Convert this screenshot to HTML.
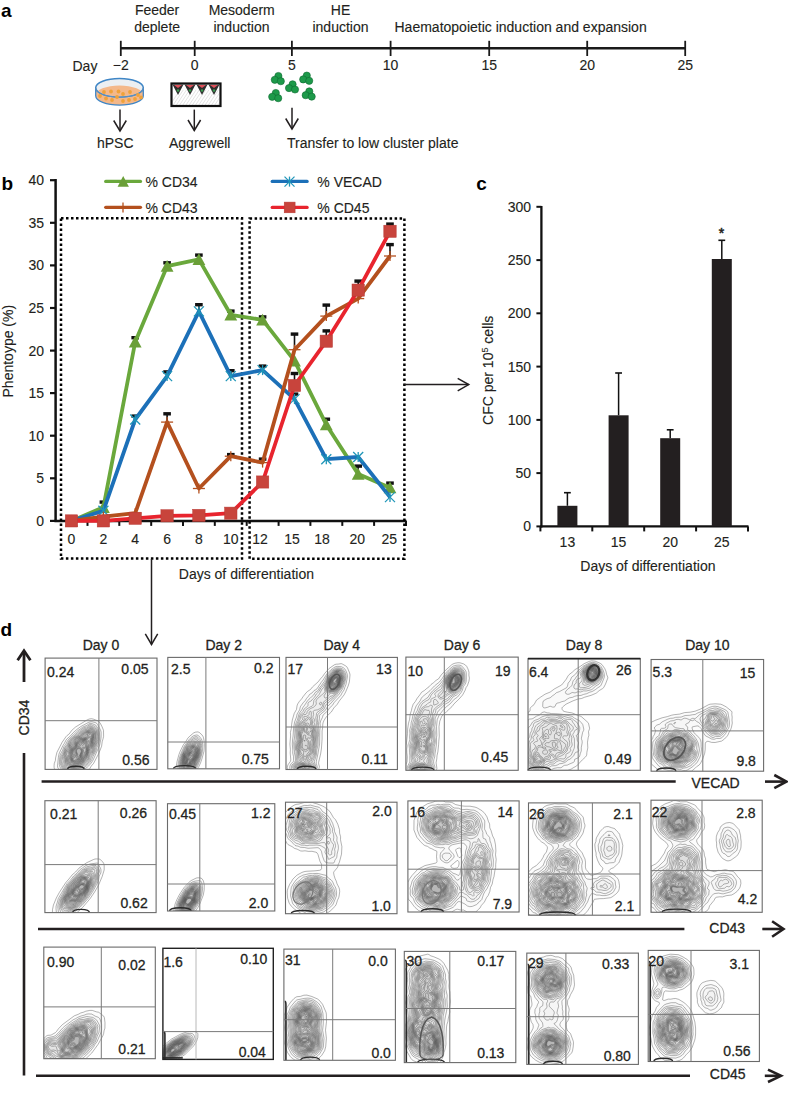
<!DOCTYPE html>
<html><head><meta charset="utf-8"><title>Figure</title>
<style>
html,body{margin:0;padding:0;background:#fff;}
svg{display:block;font-family:"Liberation Sans", sans-serif;}
</style></head>
<body>
<svg width="788" height="1098" viewBox="0 0 788 1098">
<rect x="0" y="0" width="788" height="1098" fill="#fff"/>
<text x="1.0" y="17.0" font-size="19" text-anchor="start" font-weight="bold" fill="#000" stroke="#000" stroke-width="0" >a</text>
<text x="157.1" y="15.2" font-size="14" text-anchor="middle" font-weight="normal" fill="#231f20" stroke="#231f20" stroke-width="0.12" >Feeder</text>
<text x="157.1" y="31.7" font-size="14" text-anchor="middle" font-weight="normal" fill="#231f20" stroke="#231f20" stroke-width="0.12" >deplete</text>
<text x="241.7" y="15.2" font-size="14" text-anchor="middle" font-weight="normal" fill="#231f20" stroke="#231f20" stroke-width="0.12" >Mesoderm</text>
<text x="241.5" y="31.7" font-size="14" text-anchor="middle" font-weight="normal" fill="#231f20" stroke="#231f20" stroke-width="0.12" >induction</text>
<text x="340.5" y="15.2" font-size="14" text-anchor="middle" font-weight="normal" fill="#231f20" stroke="#231f20" stroke-width="0.12" >HE</text>
<text x="340.5" y="31.7" font-size="14" text-anchor="middle" font-weight="normal" fill="#231f20" stroke="#231f20" stroke-width="0.12" >induction</text>
<text x="394.5" y="31.7" font-size="14" text-anchor="start" font-weight="normal" fill="#231f20" stroke="#231f20" stroke-width="0.12" >Haematopoietic induction and expansion</text>
<line x1="120.8" y1="48.2" x2="685.2" y2="48.2" stroke="#1a1a1a" stroke-width="2.4" />
<line x1="120.8" y1="40.8" x2="120.8" y2="56.0" stroke="#1a1a1a" stroke-width="1.8" />
<text x="120.8" y="70.4" font-size="14" text-anchor="middle" font-weight="normal" fill="#231f20" stroke="#231f20" stroke-width="0.12" >−2</text>
<line x1="194.7" y1="40.8" x2="194.7" y2="56.0" stroke="#1a1a1a" stroke-width="1.8" />
<text x="194.7" y="70.4" font-size="14" text-anchor="middle" font-weight="normal" fill="#231f20" stroke="#231f20" stroke-width="0.12" >0</text>
<line x1="291.9" y1="40.8" x2="291.9" y2="56.0" stroke="#1a1a1a" stroke-width="1.8" />
<text x="291.9" y="70.4" font-size="14" text-anchor="middle" font-weight="normal" fill="#231f20" stroke="#231f20" stroke-width="0.12" >5</text>
<line x1="390.6" y1="40.8" x2="390.6" y2="56.0" stroke="#1a1a1a" stroke-width="1.8" />
<text x="390.6" y="70.4" font-size="14" text-anchor="middle" font-weight="normal" fill="#231f20" stroke="#231f20" stroke-width="0.12" >10</text>
<line x1="489.2" y1="40.8" x2="489.2" y2="56.0" stroke="#1a1a1a" stroke-width="1.8" />
<text x="489.2" y="70.4" font-size="14" text-anchor="middle" font-weight="normal" fill="#231f20" stroke="#231f20" stroke-width="0.12" >15</text>
<line x1="587.2" y1="40.8" x2="587.2" y2="56.0" stroke="#1a1a1a" stroke-width="1.8" />
<text x="587.2" y="70.4" font-size="14" text-anchor="middle" font-weight="normal" fill="#231f20" stroke="#231f20" stroke-width="0.12" >20</text>
<line x1="685.2" y1="40.8" x2="685.2" y2="56.0" stroke="#1a1a1a" stroke-width="1.8" />
<text x="685.2" y="70.4" font-size="14" text-anchor="middle" font-weight="normal" fill="#231f20" stroke="#231f20" stroke-width="0.12" >25</text>
<text x="72.5" y="71.0" font-size="14" text-anchor="start" font-weight="normal" fill="#231f20" stroke="#231f20" stroke-width="0.12" >Day</text>
<g><path d="M95.7,87.8 L95.7,95.8 A23.8,9.3 0 0 0 143.3,95.8 L143.3,87.8 Z" fill="#f4b88a" stroke="#3f86c6" stroke-width="1.3"/><ellipse cx="119.5" cy="87.8" rx="23.8" ry="9.3" fill="#eceff2" stroke="#3f86c6" stroke-width="1.5"/><clipPath id="dishclip"><ellipse cx="119.5" cy="87.8" rx="23" ry="8.6"/></clipPath><ellipse clip-path="url(#dishclip)" cx="119.5" cy="95" rx="24" ry="9.5" fill="#f4b88a"/><path d="M95.7,87.8 A23.8,9.3 0 0 0 143.3,87.8" fill="none" stroke="#5a8fc0" stroke-width="1.1"/></g>
<circle cx="104" cy="92" r="1.9" fill="#f0a23a"/>
<circle cx="111" cy="91.5" r="1.9" fill="#f0a23a"/>
<circle cx="118.5" cy="91.5" r="1.9" fill="#f0a23a"/>
<circle cx="123" cy="94" r="1.9" fill="#f0a23a"/>
<circle cx="130" cy="92" r="1.9" fill="#f0a23a"/>
<circle cx="138" cy="95" r="1.9" fill="#f0a23a"/>
<circle cx="106" cy="98.5" r="1.9" fill="#f0a23a"/>
<circle cx="112" cy="100" r="1.9" fill="#f0a23a"/>
<circle cx="117" cy="97" r="1.9" fill="#f0a23a"/>
<circle cx="123" cy="101" r="1.9" fill="#f0a23a"/>
<circle cx="129" cy="100" r="1.9" fill="#f0a23a"/>
<circle cx="135" cy="99" r="1.9" fill="#f0a23a"/>
<circle cx="100" cy="96" r="1.9" fill="#f0a23a"/>
<circle cx="141" cy="97.5" r="1.9" fill="#f0a23a"/>
<clipPath id="aggclip"><rect x="171.5" y="83.5" width="49" height="22.5"/></clipPath>
<rect x="171.5" y="83.5" width="49" height="22.5" fill="#fff"/>
<g clip-path="url(#aggclip)">
<line x1="170.0" y1="105" x2="180.0" y2="90" stroke="#d0d0d0" stroke-width="0.6"/>
<line x1="173.2" y1="105" x2="183.2" y2="90" stroke="#d0d0d0" stroke-width="0.6"/>
<line x1="176.4" y1="105" x2="186.4" y2="90" stroke="#d0d0d0" stroke-width="0.6"/>
<line x1="179.6" y1="105" x2="189.6" y2="90" stroke="#d0d0d0" stroke-width="0.6"/>
<line x1="182.8" y1="105" x2="192.8" y2="90" stroke="#d0d0d0" stroke-width="0.6"/>
<line x1="186.0" y1="105" x2="196.0" y2="90" stroke="#d0d0d0" stroke-width="0.6"/>
<line x1="189.2" y1="105" x2="199.2" y2="90" stroke="#d0d0d0" stroke-width="0.6"/>
<line x1="192.4" y1="105" x2="202.4" y2="90" stroke="#d0d0d0" stroke-width="0.6"/>
<line x1="195.6" y1="105" x2="205.6" y2="90" stroke="#d0d0d0" stroke-width="0.6"/>
<line x1="198.8" y1="105" x2="208.8" y2="90" stroke="#d0d0d0" stroke-width="0.6"/>
<line x1="202.0" y1="105" x2="212.0" y2="90" stroke="#d0d0d0" stroke-width="0.6"/>
<line x1="205.2" y1="105" x2="215.2" y2="90" stroke="#d0d0d0" stroke-width="0.6"/>
<line x1="208.4" y1="105" x2="218.4" y2="90" stroke="#d0d0d0" stroke-width="0.6"/>
<line x1="211.6" y1="105" x2="221.6" y2="90" stroke="#d0d0d0" stroke-width="0.6"/>
<line x1="214.8" y1="105" x2="224.8" y2="90" stroke="#d0d0d0" stroke-width="0.6"/>
<line x1="218.0" y1="105" x2="228.0" y2="90" stroke="#d0d0d0" stroke-width="0.6"/>
<line x1="221.2" y1="105" x2="231.2" y2="90" stroke="#d0d0d0" stroke-width="0.6"/>
<line x1="224.4" y1="105" x2="234.4" y2="90" stroke="#d0d0d0" stroke-width="0.6"/>
</g>
<rect x="171.5" y="83.5" width="49" height="22.5" fill="none" stroke="#111" stroke-width="2.2"/>
<g>
<path d="M172.5,84.5 L183.5,84.5 L178.0,95 Z" fill="#2e2e2e"/>
<path d="M174.0,85 L182.0,85 L178.0,88 Z" fill="#e0505a"/>
<circle cx="178.0" cy="90.5" r="1.3" fill="#3a9a50"/>
<path d="M184.5,84.5 L195.5,84.5 L190.0,95 Z" fill="#2e2e2e"/>
<path d="M186.0,85 L194.0,85 L190.0,88 Z" fill="#e0505a"/>
<circle cx="190.0" cy="90.5" r="1.3" fill="#3a9a50"/>
<path d="M196.5,84.5 L207.5,84.5 L202.0,95 Z" fill="#2e2e2e"/>
<path d="M198.0,85 L206.0,85 L202.0,88 Z" fill="#e0505a"/>
<circle cx="202.0" cy="90.5" r="1.3" fill="#3a9a50"/>
<path d="M208.5,84.5 L219.5,84.5 L214.0,95 Z" fill="#2e2e2e"/>
<path d="M210.0,85 L218.0,85 L214.0,88 Z" fill="#e0505a"/>
<circle cx="214.0" cy="90.5" r="1.3" fill="#3a9a50"/>
</g>
<circle cx="278.4" cy="76.0" r="3.6" fill="#1d9a4a" stroke="#0d6a30" stroke-width="0.6"/>
<circle cx="274.8" cy="79.8" r="3.6" fill="#1d9a4a" stroke="#0d6a30" stroke-width="0.6"/>
<circle cx="280.8" cy="81.2" r="3.6" fill="#1d9a4a" stroke="#0d6a30" stroke-width="0.6"/>
<circle cx="306.8" cy="75.6" r="3.6" fill="#1d9a4a" stroke="#0d6a30" stroke-width="0.6"/>
<circle cx="303.2" cy="79.4" r="3.6" fill="#1d9a4a" stroke="#0d6a30" stroke-width="0.6"/>
<circle cx="309.2" cy="80.8" r="3.6" fill="#1d9a4a" stroke="#0d6a30" stroke-width="0.6"/>
<circle cx="292.6" cy="84.3" r="3.6" fill="#1d9a4a" stroke="#0d6a30" stroke-width="0.6"/>
<circle cx="289.0" cy="88.1" r="3.6" fill="#1d9a4a" stroke="#0d6a30" stroke-width="0.6"/>
<circle cx="295.0" cy="89.5" r="3.6" fill="#1d9a4a" stroke="#0d6a30" stroke-width="0.6"/>
<circle cx="275.8" cy="93.0" r="3.6" fill="#1d9a4a" stroke="#0d6a30" stroke-width="0.6"/>
<circle cx="272.2" cy="96.8" r="3.6" fill="#1d9a4a" stroke="#0d6a30" stroke-width="0.6"/>
<circle cx="278.2" cy="98.2" r="3.6" fill="#1d9a4a" stroke="#0d6a30" stroke-width="0.6"/>
<circle cx="309.3" cy="91.4" r="3.6" fill="#1d9a4a" stroke="#0d6a30" stroke-width="0.6"/>
<circle cx="305.7" cy="95.2" r="3.6" fill="#1d9a4a" stroke="#0d6a30" stroke-width="0.6"/>
<circle cx="311.7" cy="96.6" r="3.6" fill="#1d9a4a" stroke="#0d6a30" stroke-width="0.6"/>
<line x1="120.0" y1="109.6" x2="120.0" y2="131.0" stroke="#231f20" stroke-width="1.5" />
<polyline points="113.7,120.5 120.0,131.0 126.3,120.5" fill="none" stroke="#231f20" stroke-width="1.5" stroke-linejoin="miter"/>
<line x1="194.3" y1="109.6" x2="194.3" y2="130.5" stroke="#231f20" stroke-width="1.5" />
<polyline points="188.0,120.0 194.3,130.5 200.6,120.0" fill="none" stroke="#231f20" stroke-width="1.5" stroke-linejoin="miter"/>
<line x1="292.0" y1="107.7" x2="292.0" y2="129.0" stroke="#231f20" stroke-width="1.5" />
<polyline points="285.7,118.5 292.0,129.0 298.3,118.5" fill="none" stroke="#231f20" stroke-width="1.5" stroke-linejoin="miter"/>
<text x="97.0" y="148.2" font-size="14" text-anchor="start" font-weight="normal" fill="#231f20" stroke="#231f20" stroke-width="0.12" >hPSC</text>
<text x="169.0" y="148.2" font-size="14" text-anchor="start" font-weight="normal" fill="#231f20" stroke="#231f20" stroke-width="0.12" >Aggrewell</text>
<text x="287.0" y="148.0" font-size="14" text-anchor="start" font-weight="normal" fill="#231f20" stroke="#231f20" stroke-width="0.12" >Transfer to low cluster plate</text>
<text x="1.6" y="189.5" font-size="19" text-anchor="start" font-weight="bold" fill="#000" stroke="#000" stroke-width="0" >b</text>
<line x1="105.7" y1="181.4" x2="140.5" y2="181.4" stroke="#6aa83c" stroke-width="3.2" stroke-linecap="round"/>
<path d="M123.2,176.1 L128.9,186.7 L117.6,186.7 Z" fill="#6a9f38"/>
<text x="145.5" y="186.6" font-size="14" text-anchor="start" font-weight="normal" fill="#231f20" stroke="#231f20" stroke-width="0.12" >% CD34</text>
<line x1="105.7" y1="207.3" x2="140.5" y2="207.3" stroke="#b4501e" stroke-width="3.2" stroke-linecap="round"/>
<line x1="123" y1="202.5" x2="123" y2="212.6" stroke="#b4501e" stroke-width="1.3"/>
<text x="145.5" y="212.5" font-size="14" text-anchor="start" font-weight="normal" fill="#231f20" stroke="#231f20" stroke-width="0.12" >% CD43</text>
<line x1="272.2" y1="181.4" x2="307.1" y2="181.4" stroke="#1c70b8" stroke-width="3.2" stroke-linecap="round"/>
<g stroke="#1f96b8" stroke-width="1.3"><line x1="289.5" y1="176.6" x2="289.5" y2="186.6"/><line x1="284.5" y1="176.6" x2="294.5" y2="186.6"/><line x1="284.5" y1="186.6" x2="294.5" y2="176.6"/></g>
<text x="317.3" y="186.6" font-size="14" text-anchor="start" font-weight="normal" fill="#231f20" stroke="#231f20" stroke-width="0.12" >% VECAD</text>
<line x1="272.2" y1="207.4" x2="307.1" y2="207.4" stroke="#e8242e" stroke-width="3.2" stroke-linecap="round"/>
<rect x="284.2" y="202.1" width="10.9" height="10.7" fill="#c8443c" stroke="#b83a34" stroke-width="0.5"/>
<text x="317.3" y="212.5" font-size="14" text-anchor="start" font-weight="normal" fill="#231f20" stroke="#231f20" stroke-width="0.12" >% CD45</text>
<text x="0" y="0" font-size="14" fill="#231f20" stroke="#231f20" stroke-width="0.12" text-anchor="middle" transform="translate(12.6,351.2) rotate(-90)">Phentoype (%)</text>
<line x1="55.6" y1="179.0" x2="55.6" y2="522.1" stroke="#111" stroke-width="2.5" />
<line x1="54.4" y1="520.9" x2="406.5" y2="520.9" stroke="#111" stroke-width="2.5" />
<line x1="50.0" y1="520.9" x2="55.6" y2="520.9" stroke="#111" stroke-width="2.2" />
<text x="44.0" y="525.8" font-size="14" text-anchor="end" font-weight="normal" fill="#231f20" stroke="#231f20" stroke-width="0.12" >0</text>
<line x1="50.0" y1="478.3" x2="55.6" y2="478.3" stroke="#111" stroke-width="2.2" />
<text x="44.0" y="483.2" font-size="14" text-anchor="end" font-weight="normal" fill="#231f20" stroke="#231f20" stroke-width="0.12" >5</text>
<line x1="50.0" y1="435.7" x2="55.6" y2="435.7" stroke="#111" stroke-width="2.2" />
<text x="44.0" y="440.6" font-size="14" text-anchor="end" font-weight="normal" fill="#231f20" stroke="#231f20" stroke-width="0.12" >10</text>
<line x1="50.0" y1="393.1" x2="55.6" y2="393.1" stroke="#111" stroke-width="2.2" />
<text x="44.0" y="398.0" font-size="14" text-anchor="end" font-weight="normal" fill="#231f20" stroke="#231f20" stroke-width="0.12" >15</text>
<line x1="50.0" y1="350.6" x2="55.6" y2="350.6" stroke="#111" stroke-width="2.2" />
<text x="44.0" y="355.5" font-size="14" text-anchor="end" font-weight="normal" fill="#231f20" stroke="#231f20" stroke-width="0.12" >20</text>
<line x1="50.0" y1="308.0" x2="55.6" y2="308.0" stroke="#111" stroke-width="2.2" />
<text x="44.0" y="312.9" font-size="14" text-anchor="end" font-weight="normal" fill="#231f20" stroke="#231f20" stroke-width="0.12" >25</text>
<line x1="50.0" y1="265.4" x2="55.6" y2="265.4" stroke="#111" stroke-width="2.2" />
<text x="44.0" y="270.3" font-size="14" text-anchor="end" font-weight="normal" fill="#231f20" stroke="#231f20" stroke-width="0.12" >30</text>
<line x1="50.0" y1="222.8" x2="55.6" y2="222.8" stroke="#111" stroke-width="2.2" />
<text x="44.0" y="227.7" font-size="14" text-anchor="end" font-weight="normal" fill="#231f20" stroke="#231f20" stroke-width="0.12" >35</text>
<line x1="50.0" y1="180.2" x2="55.6" y2="180.2" stroke="#111" stroke-width="2.2" />
<text x="44.0" y="185.1" font-size="14" text-anchor="end" font-weight="normal" fill="#231f20" stroke="#231f20" stroke-width="0.12" >40</text>
<line x1="87.5" y1="520.9" x2="87.5" y2="525.9" stroke="#111" stroke-width="2.0" />
<line x1="119.3" y1="520.9" x2="119.3" y2="525.9" stroke="#111" stroke-width="2.0" />
<line x1="151.2" y1="520.9" x2="151.2" y2="525.9" stroke="#111" stroke-width="2.0" />
<line x1="183.0" y1="520.9" x2="183.0" y2="525.9" stroke="#111" stroke-width="2.0" />
<line x1="214.8" y1="520.9" x2="214.8" y2="525.9" stroke="#111" stroke-width="2.0" />
<line x1="246.7" y1="520.9" x2="246.7" y2="525.9" stroke="#111" stroke-width="2.0" />
<line x1="278.6" y1="520.9" x2="278.6" y2="525.9" stroke="#111" stroke-width="2.0" />
<line x1="310.4" y1="520.9" x2="310.4" y2="525.9" stroke="#111" stroke-width="2.0" />
<line x1="342.3" y1="520.9" x2="342.3" y2="525.9" stroke="#111" stroke-width="2.0" />
<line x1="374.1" y1="520.9" x2="374.1" y2="525.9" stroke="#111" stroke-width="2.0" />
<line x1="406.0" y1="520.9" x2="406.0" y2="525.9" stroke="#111" stroke-width="2.0" />
<text x="71.5" y="544.0" font-size="14" text-anchor="middle" font-weight="normal" fill="#231f20" stroke="#231f20" stroke-width="0.12" >0</text>
<text x="103.4" y="544.0" font-size="14" text-anchor="middle" font-weight="normal" fill="#231f20" stroke="#231f20" stroke-width="0.12" >2</text>
<text x="135.2" y="544.0" font-size="14" text-anchor="middle" font-weight="normal" fill="#231f20" stroke="#231f20" stroke-width="0.12" >4</text>
<text x="167.1" y="544.0" font-size="14" text-anchor="middle" font-weight="normal" fill="#231f20" stroke="#231f20" stroke-width="0.12" >6</text>
<text x="198.9" y="544.0" font-size="14" text-anchor="middle" font-weight="normal" fill="#231f20" stroke="#231f20" stroke-width="0.12" >8</text>
<text x="230.8" y="544.0" font-size="14" text-anchor="middle" font-weight="normal" fill="#231f20" stroke="#231f20" stroke-width="0.12" >10</text>
<text x="260.1" y="544.0" font-size="14" text-anchor="middle" font-weight="normal" fill="#231f20" stroke="#231f20" stroke-width="0.12" >12</text>
<text x="292.0" y="544.0" font-size="14" text-anchor="middle" font-weight="normal" fill="#231f20" stroke="#231f20" stroke-width="0.12" >15</text>
<text x="322.0" y="544.0" font-size="14" text-anchor="middle" font-weight="normal" fill="#231f20" stroke="#231f20" stroke-width="0.12" >18</text>
<text x="357.2" y="544.0" font-size="14" text-anchor="middle" font-weight="normal" fill="#231f20" stroke="#231f20" stroke-width="0.12" >20</text>
<text x="389.2" y="544.0" font-size="14" text-anchor="middle" font-weight="normal" fill="#231f20" stroke="#231f20" stroke-width="0.12" >25</text>
<text x="178.8" y="578.6" font-size="14" text-anchor="start" font-weight="normal" fill="#231f20" stroke="#231f20" stroke-width="0.12" >Days of differentiation</text>
<rect x="61" y="218.2" width="181" height="340.4" stroke="#000" stroke-width="2.5" stroke-dasharray="2.5 2.5" fill="none"/>
<rect x="249.6" y="218.4" width="154.8" height="340.4" stroke="#000" stroke-width="2.5" stroke-dasharray="2.5 2.5" fill="none"/>
<line x1="103.4" y1="507.3" x2="103.4" y2="502.0" stroke="#111" stroke-width="1.6" />
<rect x="99.6" y="500.4" width="7.6" height="3.4" fill="#111"/>
<line x1="135.2" y1="342.0" x2="135.2" y2="337.6" stroke="#111" stroke-width="1.6" />
<rect x="131.4" y="336.0" width="7.6" height="3.4" fill="#111"/>
<line x1="167.1" y1="266.2" x2="167.1" y2="262.7" stroke="#111" stroke-width="1.6" />
<rect x="163.3" y="261.1" width="7.6" height="3.4" fill="#111"/>
<line x1="198.9" y1="259.4" x2="198.9" y2="255.0" stroke="#111" stroke-width="1.6" />
<rect x="195.1" y="253.4" width="7.6" height="3.4" fill="#111"/>
<line x1="230.8" y1="314.8" x2="230.8" y2="311.0" stroke="#111" stroke-width="1.6" />
<rect x="227.0" y="309.4" width="7.6" height="3.4" fill="#111"/>
<line x1="262.6" y1="319.9" x2="262.6" y2="316.8" stroke="#111" stroke-width="1.6" />
<rect x="258.8" y="315.2" width="7.6" height="3.4" fill="#111"/>
<line x1="326.3" y1="424.7" x2="326.3" y2="419.1" stroke="#111" stroke-width="1.6" />
<rect x="322.5" y="417.5" width="7.6" height="3.4" fill="#111"/>
<line x1="358.2" y1="474.1" x2="358.2" y2="466.0" stroke="#111" stroke-width="1.6" />
<rect x="354.4" y="464.4" width="7.6" height="3.4" fill="#111"/>
<line x1="390.0" y1="487.7" x2="390.0" y2="483.0" stroke="#111" stroke-width="1.6" />
<rect x="386.2" y="481.4" width="7.6" height="3.4" fill="#111"/>
<line x1="135.2" y1="419.5" x2="135.2" y2="416.0" stroke="#111" stroke-width="1.6" />
<rect x="131.4" y="414.4" width="7.6" height="3.4" fill="#111"/>
<line x1="167.1" y1="376.1" x2="167.1" y2="371.8" stroke="#111" stroke-width="1.6" />
<rect x="163.3" y="370.2" width="7.6" height="3.4" fill="#111"/>
<line x1="198.9" y1="311.4" x2="198.9" y2="304.6" stroke="#111" stroke-width="1.6" />
<rect x="195.1" y="303.0" width="7.6" height="3.4" fill="#111"/>
<line x1="230.8" y1="376.1" x2="230.8" y2="370.6" stroke="#111" stroke-width="1.6" />
<rect x="227.0" y="369.0" width="7.6" height="3.4" fill="#111"/>
<line x1="262.6" y1="370.1" x2="262.6" y2="366.0" stroke="#111" stroke-width="1.6" />
<rect x="258.8" y="364.4" width="7.6" height="3.4" fill="#111"/>
<line x1="294.5" y1="399.1" x2="294.5" y2="394.0" stroke="#111" stroke-width="1.6" />
<rect x="290.7" y="392.4" width="7.6" height="3.4" fill="#111"/>
<line x1="167.1" y1="422.1" x2="167.1" y2="413.7" stroke="#111" stroke-width="1.6" />
<rect x="163.3" y="412.1" width="7.6" height="3.4" fill="#111"/>
<line x1="230.8" y1="456.2" x2="230.8" y2="454.5" stroke="#111" stroke-width="1.6" />
<rect x="227.0" y="452.9" width="7.6" height="3.4" fill="#111"/>
<line x1="262.6" y1="462.6" x2="262.6" y2="459.0" stroke="#111" stroke-width="1.6" />
<rect x="258.8" y="457.4" width="7.6" height="3.4" fill="#111"/>
<line x1="294.5" y1="349.7" x2="294.5" y2="334.0" stroke="#111" stroke-width="1.6" />
<rect x="290.7" y="332.4" width="7.6" height="3.4" fill="#111"/>
<line x1="326.3" y1="316.1" x2="326.3" y2="305.0" stroke="#111" stroke-width="1.6" />
<rect x="322.5" y="303.4" width="7.6" height="3.4" fill="#111"/>
<line x1="390.0" y1="256.0" x2="390.0" y2="244.5" stroke="#111" stroke-width="1.6" />
<rect x="386.2" y="242.9" width="7.6" height="3.4" fill="#111"/>
<line x1="294.5" y1="385.5" x2="294.5" y2="373.4" stroke="#111" stroke-width="1.6" />
<rect x="290.7" y="371.8" width="7.6" height="3.4" fill="#111"/>
<line x1="326.3" y1="341.2" x2="326.3" y2="330.8" stroke="#111" stroke-width="1.6" />
<rect x="322.5" y="329.2" width="7.6" height="3.4" fill="#111"/>
<line x1="358.2" y1="290.1" x2="358.2" y2="281.0" stroke="#111" stroke-width="1.6" />
<rect x="354.4" y="279.4" width="7.6" height="3.4" fill="#111"/>
<line x1="390.0" y1="231.3" x2="390.0" y2="224.0" stroke="#111" stroke-width="1.6" />
<rect x="386.2" y="222.4" width="7.6" height="3.4" fill="#111"/>
<polyline points="71.5,520.9 103.4,507.3 135.2,342.0 167.1,266.2 198.9,259.4 230.8,314.8 262.6,319.9 294.5,360.8 326.3,424.7 358.2,474.1 390.0,487.7" fill="none" stroke="#6aa83c" stroke-width="3.8" stroke-linejoin="round"/>
<path d="M71.5,514.7 L77.9,526.5 L65.1,526.5 Z" fill="#6a9f38"/>
<path d="M103.4,501.1 L109.8,512.9 L97.0,512.9 Z" fill="#6a9f38"/>
<path d="M135.2,335.8 L141.6,347.6 L128.8,347.6 Z" fill="#6a9f38"/>
<path d="M167.1,260.0 L173.5,271.8 L160.7,271.8 Z" fill="#6a9f38"/>
<path d="M198.9,253.2 L205.3,265.0 L192.5,265.0 Z" fill="#6a9f38"/>
<path d="M230.8,308.6 L237.2,320.4 L224.4,320.4 Z" fill="#6a9f38"/>
<path d="M262.6,313.7 L269.0,325.5 L256.2,325.5 Z" fill="#6a9f38"/>
<path d="M294.5,354.6 L300.9,366.4 L288.1,366.4 Z" fill="#6a9f38"/>
<path d="M326.3,418.5 L332.7,430.3 L319.9,430.3 Z" fill="#6a9f38"/>
<path d="M358.2,467.9 L364.6,479.7 L351.8,479.7 Z" fill="#6a9f38"/>
<path d="M390.0,481.5 L396.4,493.3 L383.6,493.3 Z" fill="#6a9f38"/>
<polyline points="71.5,520.9 103.4,510.7 135.2,419.5 167.1,376.1 198.9,311.4 230.8,376.1 262.6,370.1 294.5,399.1 326.3,459.2 358.2,457.0 390.0,497.1" fill="none" stroke="#1c70b8" stroke-width="3.8" stroke-linejoin="round"/>
<g stroke="#1f96b8" stroke-width="1.3"><line x1="71.5" y1="515.9" x2="71.5" y2="525.9"/><line x1="66.5" y1="515.9" x2="76.5" y2="525.9"/><line x1="66.5" y1="525.9" x2="76.5" y2="515.9"/></g>
<g stroke="#1f96b8" stroke-width="1.3"><line x1="103.4" y1="505.7" x2="103.4" y2="515.7"/><line x1="98.4" y1="505.7" x2="108.4" y2="515.7"/><line x1="98.4" y1="515.7" x2="108.4" y2="505.7"/></g>
<g stroke="#1f96b8" stroke-width="1.3"><line x1="135.2" y1="414.5" x2="135.2" y2="424.5"/><line x1="130.2" y1="414.5" x2="140.2" y2="424.5"/><line x1="130.2" y1="424.5" x2="140.2" y2="414.5"/></g>
<g stroke="#1f96b8" stroke-width="1.3"><line x1="167.1" y1="371.1" x2="167.1" y2="381.1"/><line x1="162.1" y1="371.1" x2="172.1" y2="381.1"/><line x1="162.1" y1="381.1" x2="172.1" y2="371.1"/></g>
<g stroke="#1f96b8" stroke-width="1.3"><line x1="198.9" y1="306.4" x2="198.9" y2="316.4"/><line x1="193.9" y1="306.4" x2="203.9" y2="316.4"/><line x1="193.9" y1="316.4" x2="203.9" y2="306.4"/></g>
<g stroke="#1f96b8" stroke-width="1.3"><line x1="230.8" y1="371.1" x2="230.8" y2="381.1"/><line x1="225.8" y1="371.1" x2="235.8" y2="381.1"/><line x1="225.8" y1="381.1" x2="235.8" y2="371.1"/></g>
<g stroke="#1f96b8" stroke-width="1.3"><line x1="262.6" y1="365.1" x2="262.6" y2="375.1"/><line x1="257.6" y1="365.1" x2="267.6" y2="375.1"/><line x1="257.6" y1="375.1" x2="267.6" y2="365.1"/></g>
<g stroke="#1f96b8" stroke-width="1.3"><line x1="294.5" y1="394.1" x2="294.5" y2="404.1"/><line x1="289.5" y1="394.1" x2="299.5" y2="404.1"/><line x1="289.5" y1="404.1" x2="299.5" y2="394.1"/></g>
<g stroke="#1f96b8" stroke-width="1.3"><line x1="326.3" y1="454.2" x2="326.3" y2="464.2"/><line x1="321.3" y1="454.2" x2="331.3" y2="464.2"/><line x1="321.3" y1="464.2" x2="331.3" y2="454.2"/></g>
<g stroke="#1f96b8" stroke-width="1.3"><line x1="358.2" y1="452.0" x2="358.2" y2="462.0"/><line x1="353.2" y1="452.0" x2="363.2" y2="462.0"/><line x1="353.2" y1="462.0" x2="363.2" y2="452.0"/></g>
<g stroke="#1f96b8" stroke-width="1.3"><line x1="390.0" y1="492.1" x2="390.0" y2="502.1"/><line x1="385.0" y1="492.1" x2="395.0" y2="502.1"/><line x1="385.0" y1="502.1" x2="395.0" y2="492.1"/></g>
<polyline points="71.5,520.9 103.4,516.6 135.2,513.2 167.1,422.1 198.9,488.5 230.8,456.2 262.6,462.6 294.5,349.7 326.3,316.1 358.2,298.6 390.0,256.0" fill="none" stroke="#b4501e" stroke-width="3.8" stroke-linejoin="round"/>
<g stroke="#b4501e" stroke-width="1.3"><line x1="65.5" y1="520.9" x2="77.5" y2="520.9"/><line x1="71.5" y1="515.9" x2="71.5" y2="525.9"/></g>
<g stroke="#b4501e" stroke-width="1.3"><line x1="97.4" y1="516.6" x2="109.4" y2="516.6"/><line x1="103.4" y1="511.6" x2="103.4" y2="521.6"/></g>
<g stroke="#b4501e" stroke-width="1.3"><line x1="129.2" y1="513.2" x2="141.2" y2="513.2"/><line x1="135.2" y1="508.2" x2="135.2" y2="518.2"/></g>
<g stroke="#b4501e" stroke-width="1.3"><line x1="161.1" y1="422.1" x2="173.1" y2="422.1"/><line x1="167.1" y1="417.1" x2="167.1" y2="427.1"/></g>
<g stroke="#b4501e" stroke-width="1.3"><line x1="192.9" y1="488.5" x2="204.9" y2="488.5"/><line x1="198.9" y1="483.5" x2="198.9" y2="493.5"/></g>
<g stroke="#b4501e" stroke-width="1.3"><line x1="224.8" y1="456.2" x2="236.8" y2="456.2"/><line x1="230.8" y1="451.2" x2="230.8" y2="461.2"/></g>
<g stroke="#b4501e" stroke-width="1.3"><line x1="256.6" y1="462.6" x2="268.6" y2="462.6"/><line x1="262.6" y1="457.6" x2="262.6" y2="467.6"/></g>
<g stroke="#b4501e" stroke-width="1.3"><line x1="288.5" y1="349.7" x2="300.5" y2="349.7"/><line x1="294.5" y1="344.7" x2="294.5" y2="354.7"/></g>
<g stroke="#b4501e" stroke-width="1.3"><line x1="320.3" y1="316.1" x2="332.3" y2="316.1"/><line x1="326.3" y1="311.1" x2="326.3" y2="321.1"/></g>
<g stroke="#b4501e" stroke-width="1.3"><line x1="352.2" y1="298.6" x2="364.2" y2="298.6"/><line x1="358.2" y1="293.6" x2="358.2" y2="303.6"/></g>
<g stroke="#b4501e" stroke-width="1.3"><line x1="384.0" y1="256.0" x2="396.0" y2="256.0"/><line x1="390.0" y1="251.0" x2="390.0" y2="261.0"/></g>
<polyline points="71.5,520.9 103.4,520.9 135.2,518.3 167.1,515.8 198.9,515.4 230.8,513.2 262.6,482.0 294.5,385.5 326.3,341.2 358.2,290.1 390.0,231.3" fill="none" stroke="#e8242e" stroke-width="3.8" stroke-linejoin="round"/>
<rect x="65.3" y="514.8" width="12.4" height="12.2" fill="#c8443c" stroke="#b83a34" stroke-width="0.5"/>
<rect x="97.2" y="514.8" width="12.4" height="12.2" fill="#c8443c" stroke="#b83a34" stroke-width="0.5"/>
<rect x="129.0" y="512.2" width="12.4" height="12.2" fill="#c8443c" stroke="#b83a34" stroke-width="0.5"/>
<rect x="160.9" y="509.7" width="12.4" height="12.2" fill="#c8443c" stroke="#b83a34" stroke-width="0.5"/>
<rect x="192.7" y="509.3" width="12.4" height="12.2" fill="#c8443c" stroke="#b83a34" stroke-width="0.5"/>
<rect x="224.6" y="507.1" width="12.4" height="12.2" fill="#c8443c" stroke="#b83a34" stroke-width="0.5"/>
<rect x="256.4" y="475.9" width="12.4" height="12.2" fill="#c8443c" stroke="#b83a34" stroke-width="0.5"/>
<rect x="288.3" y="379.4" width="12.4" height="12.2" fill="#c8443c" stroke="#b83a34" stroke-width="0.5"/>
<rect x="320.1" y="335.1" width="12.4" height="12.2" fill="#c8443c" stroke="#b83a34" stroke-width="0.5"/>
<rect x="352.0" y="284.0" width="12.4" height="12.2" fill="#c8443c" stroke="#b83a34" stroke-width="0.5"/>
<rect x="383.8" y="225.2" width="12.4" height="12.2" fill="#c8443c" stroke="#b83a34" stroke-width="0.5"/>
<line x1="404.4" y1="384.6" x2="468.7" y2="384.6" stroke="#231f20" stroke-width="1.5" />
<polyline points="457.7,378.4 468.7,384.6 457.7,390.8" fill="none" stroke="#231f20" stroke-width="1.5" stroke-linejoin="miter"/>
<line x1="151.5" y1="558.9" x2="151.5" y2="644.4" stroke="#231f20" stroke-width="1.5" />
<polyline points="145.3,633.8 151.5,644.4 157.7,633.8" fill="none" stroke="#231f20" stroke-width="1.5" stroke-linejoin="miter"/>
<text x="476.3" y="189.6" font-size="19" text-anchor="start" font-weight="bold" fill="#000" stroke="#000" stroke-width="0" >c</text>
<line x1="541.4" y1="206.0" x2="541.4" y2="527.4" stroke="#111" stroke-width="2.3" />
<line x1="540.4" y1="526.4" x2="748.5" y2="526.4" stroke="#111" stroke-width="2.3" />
<line x1="536.4" y1="526.4" x2="541.4" y2="526.4" stroke="#111" stroke-width="2.0" />
<text x="531.0" y="531.3" font-size="14" text-anchor="end" font-weight="normal" fill="#231f20" stroke="#231f20" stroke-width="0.12" >0</text>
<line x1="536.4" y1="473.1" x2="541.4" y2="473.1" stroke="#111" stroke-width="2.0" />
<text x="531.0" y="478.0" font-size="14" text-anchor="end" font-weight="normal" fill="#231f20" stroke="#231f20" stroke-width="0.12" >50</text>
<line x1="536.4" y1="419.9" x2="541.4" y2="419.9" stroke="#111" stroke-width="2.0" />
<text x="531.0" y="424.8" font-size="14" text-anchor="end" font-weight="normal" fill="#231f20" stroke="#231f20" stroke-width="0.12" >100</text>
<line x1="536.4" y1="366.6" x2="541.4" y2="366.6" stroke="#111" stroke-width="2.0" />
<text x="531.0" y="371.5" font-size="14" text-anchor="end" font-weight="normal" fill="#231f20" stroke="#231f20" stroke-width="0.12" >150</text>
<line x1="536.4" y1="313.3" x2="541.4" y2="313.3" stroke="#111" stroke-width="2.0" />
<text x="531.0" y="318.2" font-size="14" text-anchor="end" font-weight="normal" fill="#231f20" stroke="#231f20" stroke-width="0.12" >200</text>
<line x1="536.4" y1="260.1" x2="541.4" y2="260.1" stroke="#111" stroke-width="2.0" />
<text x="531.0" y="265.0" font-size="14" text-anchor="end" font-weight="normal" fill="#231f20" stroke="#231f20" stroke-width="0.12" >250</text>
<line x1="536.4" y1="206.8" x2="541.4" y2="206.8" stroke="#111" stroke-width="2.0" />
<text x="531.0" y="211.7" font-size="14" text-anchor="end" font-weight="normal" fill="#231f20" stroke="#231f20" stroke-width="0.12" >300</text>
<line x1="540.4" y1="526.4" x2="540.4" y2="531.4" stroke="#111" stroke-width="2.0" />
<line x1="592.3" y1="526.4" x2="592.3" y2="531.4" stroke="#111" stroke-width="2.0" />
<line x1="644.2" y1="526.4" x2="644.2" y2="531.4" stroke="#111" stroke-width="2.0" />
<line x1="696.1" y1="526.4" x2="696.1" y2="531.4" stroke="#111" stroke-width="2.0" />
<line x1="748.0" y1="526.4" x2="748.0" y2="531.4" stroke="#111" stroke-width="2.0" />
<line x1="567.4" y1="505.8" x2="567.4" y2="492.7" stroke="#111" stroke-width="1.5" />
<line x1="564.0" y1="492.7" x2="570.8" y2="492.7" stroke="#111" stroke-width="1.6" />
<rect x="557.4" y="505.8" width="20" height="20.6" fill="#231f20"/>
<text x="567.4" y="546.6" font-size="14" text-anchor="middle" font-weight="normal" fill="#231f20" stroke="#231f20" stroke-width="0.12" >13</text>
<line x1="618.6" y1="415.3" x2="618.6" y2="373.0" stroke="#111" stroke-width="1.5" />
<line x1="615.2" y1="373.0" x2="622.0" y2="373.0" stroke="#111" stroke-width="1.6" />
<rect x="608.6" y="415.3" width="20" height="111.1" fill="#231f20"/>
<text x="618.6" y="546.6" font-size="14" text-anchor="middle" font-weight="normal" fill="#231f20" stroke="#231f20" stroke-width="0.12" >15</text>
<line x1="670.2" y1="438.2" x2="670.2" y2="429.8" stroke="#111" stroke-width="1.5" />
<line x1="666.8" y1="429.8" x2="673.6" y2="429.8" stroke="#111" stroke-width="1.6" />
<rect x="660.2" y="438.2" width="20" height="88.2" fill="#231f20"/>
<text x="670.2" y="546.6" font-size="14" text-anchor="middle" font-weight="normal" fill="#231f20" stroke="#231f20" stroke-width="0.12" >20</text>
<line x1="721.8" y1="259.0" x2="721.8" y2="240.3" stroke="#111" stroke-width="1.5" />
<line x1="718.4" y1="240.3" x2="725.2" y2="240.3" stroke="#111" stroke-width="1.6" />
<rect x="711.8" y="259.0" width="20" height="267.4" fill="#231f20"/>
<text x="721.8" y="546.6" font-size="14" text-anchor="middle" font-weight="normal" fill="#231f20" stroke="#231f20" stroke-width="0.12" >25</text>
<text x="721.4" y="237.5" font-size="14" text-anchor="middle" fill="#231f20" stroke="#231f20" stroke-width="0.5">*</text>
<text x="580.3" y="571.3" font-size="14" text-anchor="start" font-weight="normal" fill="#231f20" stroke="#231f20" stroke-width="0.12" >Days of differentiation</text>
<text x="0" y="0" font-size="14" fill="#231f20" stroke="#231f20" stroke-width="0.12" text-anchor="middle" transform="translate(493.3,370.3) rotate(-90)">CFC per 10<tspan font-size="9" dy="-5">5</tspan><tspan dy="5"> cells</tspan></text>
<text x="0.6" y="635.5" font-size="19" text-anchor="start" font-weight="bold" fill="#000" stroke="#000" stroke-width="0" >d</text>
<clipPath id="cp00"><rect x="45.1" y="658.1" width="111.9" height="111.3"/></clipPath>
<g clip-path="url(#cp00)" fill="#000" fill-opacity="0.013" stroke="#4a4a4a" stroke-width="0.42">
<path d="M88.8 769.4L80.7 769.8L68.7 769.9L54.5 769.4L54.1 767.4L54.1 765.4L54.3 763.4L55.4 760.4L55.6 757.9L56.9 752.4L62.1 742.3L65.9 736.8L67.2 735.4L69.3 733.8L71.7 730.4L75.7 726.9L87.3 719.8L89.3 719.0L91.3 718.7L93.3 719.1L97.3 720.6L99.0 721.8L100.3 723.3L102.1 726.8L103.5 730.3L103.6 736.3L103.2 738.3L102.2 741.8L101.6 746.3L98.8 753.4L93.6 763.4L91.4 765.9L89.6 768.9L89.2 769.4L88.8 769.4Z"/>
<path d="M84.2 769.4L78.7 769.7L69.2 769.8L58.8 769.4L57.7 767.4L57.5 765.9L58.4 757.4L58.9 754.4L59.4 752.9L62.8 745.8L64.4 743.3L65.9 740.3L67.1 738.8L70.5 735.8L73.2 732.7L76.7 729.6L80.7 726.6L88.3 722.5L90.3 721.8L91.8 721.7L95.8 722.7L96.7 723.3L97.8 724.8L99.9 728.8L100.8 730.8L101.1 732.3L101.1 736.8L100.8 739.3L99.6 745.3L93.2 759.9L91.3 762.9L88.7 765.9L87.3 767.2L84.2 769.4Z"/>
<path d="M82.2 769.4L77.7 769.7L69.2 769.7L61.4 769.4L59.9 766.9L59.3 764.4L59.5 759.4L60.0 755.9L60.6 753.9L62.7 750.1L63.8 746.8L65.8 744.3L67.5 740.8L68.7 739.3L77.7 730.8L82.5 727.3L83.7 726.6L86.2 725.7L89.3 723.7L90.8 723.4L91.8 723.5L95.8 725.2L98.6 729.3L99.4 732.3L99.7 736.8L99.5 739.8L98.1 744.8L96.8 747.8L96.0 750.9L93.0 756.4L91.7 759.9L90.0 762.4L87.8 764.8L83.7 768.1L82.5 769.4L82.2 769.4Z"/>
<path d="M81.2 769.4L69.2 769.7L62.6 769.4L60.3 763.9L60.5 759.4L61.0 756.4L63.7 750.4L64.8 747.3L67.0 744.8L68.9 740.8L70.0 739.3L74.8 735.3L77.7 732.4L83.2 728.1L84.2 727.6L86.7 726.9L89.3 724.9L90.3 724.6L91.3 724.7L95.3 726.7L97.5 729.3L98.2 731.8L98.6 736.8L98.5 739.8L96.9 744.8L95.7 747.8L95.0 750.9L93.6 753.4L91.6 756.4L90.1 760.4L87.8 763.3L83.7 766.7L81.2 769.4Z"/>
<path d="M79.7 769.4L69.2 769.6L63.7 769.4L61.4 763.9L61.9 756.9L63.2 754.1L65.2 748.3L65.9 747.3L67.4 745.8L69.8 740.8L70.7 739.6L83.7 729.0L84.7 728.5L86.7 728.2L89.3 726.1L90.8 725.8L94.8 727.9L95.9 728.8L96.8 729.8L97.3 731.8L97.7 736.8L97.6 739.8L96.1 744.8L94.7 747.8L94.2 750.9L92.8 753.4L90.3 756.4L89.0 760.4L87.8 761.9L83.2 765.8L80.5 768.9L79.7 769.4Z"/>
<path d="M78.7 769.4L69.2 769.6L64.7 769.4L62.6 763.9L63.1 760.9L62.6 758.4L62.8 756.9L65.8 748.8L67.9 746.3L69.0 743.8L71.4 739.8L78.1 734.8L80.7 732.4L83.7 730.1L84.7 729.6L86.7 729.3L89.3 727.1L90.8 726.8L91.8 727.2L95.3 729.4L96.3 730.5L96.6 731.8L96.9 736.8L96.7 740.3L95.4 744.8L93.9 747.8L93.5 750.9L91.9 753.4L89.8 755.5L89.1 756.9L88.3 759.9L87.3 761.1L85.5 762.4L78.7 769.4Z"/>
<path d="M77.7 769.4L65.7 769.4L64.6 766.4L64.1 764.4L63.9 762.9L64.2 760.4L63.6 757.9L64.9 752.4L66.3 749.3L68.2 747.1L69.6 743.8L72.4 739.8L75.7 737.2L79.0 735.3L81.2 732.9L84.2 730.8L87.3 729.9L89.8 727.8L91.3 727.8L95.2 730.3L95.9 731.8L96.1 739.3L94.9 744.3L93.4 747.3L92.5 751.4L91.3 753.1L89.2 754.9L87.9 758.9L87.3 759.9L85.2 761.4L83.7 763.4L81.4 765.4L77.7 769.4Z"/>
<path d="M71.2 769.4L67.0 769.4L66.4 768.4L65.4 765.4L64.9 762.9L65.0 759.9L64.4 757.4L65.4 752.9L66.2 751.0L67.2 749.4L68.7 747.7L69.9 744.3L74.5 738.8L76.7 737.2L79.6 735.8L81.7 733.4L84.7 731.5L87.8 730.3L89.8 728.6L90.8 728.4L91.8 728.8L94.7 730.8L95.3 731.8L95.5 738.3L95.4 739.8L94.3 744.3L92.6 747.8L91.7 751.4L91.0 752.4L88.8 754.3L86.7 759.3L84.9 760.9L83.2 763.1L81.1 764.9L77.7 768.6L76.7 769.1L73.2 768.8L71.2 769.4Z"/>
<path d="M70.2 769.0L69.2 769.1L68.2 768.8L67.7 768.2L66.7 766.0L65.5 762.4L65.6 759.4L65.2 757.4L66.2 752.5L67.3 750.3L69.2 748.2L70.1 744.8L70.7 744.1L72.8 742.3L74.4 739.8L75.3 738.8L76.7 737.7L79.9 736.3L82.2 733.8L85.6 731.8L88.0 730.8L90.1 729.3L90.8 729.2L91.8 729.5L94.3 731.3L94.8 732.3L94.9 738.3L93.8 744.3L91.1 749.3L90.8 751.4L88.4 753.9L86.1 758.9L84.7 760.2L82.7 762.9L80.3 764.9L77.7 767.7L76.7 768.3L72.7 768.3L70.2 769.0Z"/>
<path d="M76.7 767.7L70.2 767.8L69.2 767.3L67.5 765.4L66.3 762.4L66.2 759.4L65.9 757.4L66.2 755.7L67.3 751.9L67.8 750.9L69.8 748.3L70.3 745.8L70.7 745.0L73.6 742.8L74.8 740.3L76.1 738.8L80.2 736.7L82.5 734.3L85.8 732.3L90.3 730.0L91.3 730.0L93.8 731.7L94.3 732.8L94.1 735.8L94.3 738.8L93.6 741.3L93.3 744.3L91.8 747.1L90.1 749.3L89.8 751.4L88.2 753.4L85.7 758.4L82.6 762.4L80.1 764.4L77.7 766.9L76.7 767.7Z"/>
<path d="M76.7 767.0L74.7 767.3L71.2 767.1L69.2 765.9L67.9 764.4L66.9 761.9L66.6 757.4L67.1 755.9L68.2 754.4L68.4 751.4L70.2 748.8L71.2 745.4L73.7 743.8L75.3 740.8L76.4 739.3L77.2 738.7L80.7 737.0L82.7 734.9L86.8 732.3L90.3 730.7L91.3 730.8L93.3 732.1L93.8 733.3L93.7 735.8L93.8 738.3L93.1 741.3L92.8 744.3L91.3 747.0L89.6 748.8L89.1 751.4L85.5 757.9L82.2 762.2L79.7 764.1L76.7 767.0Z"/>
<path d="M76.2 766.5L73.7 766.9L71.7 766.6L69.6 765.4L68.5 763.9L67.5 761.4L67.2 757.9L67.7 756.5L69.2 754.4L69.1 751.4L70.8 748.8L71.7 746.1L74.2 744.4L75.7 741.3L77.5 739.3L81.2 737.3L83.2 735.4L84.7 734.7L86.8 732.8L87.7 732.3L90.3 731.5L91.8 731.8L93.0 732.8L93.3 733.8L93.4 738.3L92.6 741.3L92.4 743.8L92.1 744.8L90.8 746.8L88.9 748.8L88.3 751.9L85.7 756.5L82.7 760.9L81.7 762.0L76.2 766.5Z"/>
<path d="M74.2 766.4L72.2 766.1L70.0 764.9L69.2 763.9L68.2 760.9L67.9 757.9L68.3 756.9L69.8 754.4L69.6 751.9L70.0 750.9L71.3 748.8L72.2 746.8L74.3 745.3L76.0 741.8L78.5 739.3L83.7 736.3L85.3 735.8L85.7 735.4L86.5 733.8L87.8 732.7L89.8 732.1L91.8 732.6L92.3 732.9L92.8 733.8L93.0 737.8L92.2 741.3L92.1 743.3L91.6 744.8L90.6 746.3L88.6 748.3L88.1 751.4L87.7 752.4L85.7 755.7L82.2 760.9L76.2 765.8L74.2 766.4Z"/>
<path d="M75.7 765.4L74.2 765.9L72.7 765.7L70.7 764.6L69.8 763.4L68.7 759.9L68.7 758.4L68.9 757.4L70.4 754.4L70.2 751.9L70.5 750.9L72.7 747.3L74.8 745.8L76.2 742.3L79.4 739.3L80.7 738.6L86.2 736.7L86.9 735.8L87.3 733.8L88.3 733.0L89.8 732.7L91.3 733.1L91.8 733.4L92.3 734.3L92.6 737.8L91.9 740.8L91.7 743.3L91.3 744.3L90.3 746.0L88.3 748.0L87.9 748.8L87.7 751.4L87.3 752.4L82.2 760.4L81.2 761.4L75.7 765.4Z"/>
<path d="M75.2 764.9L74.2 765.2L72.7 765.0L71.6 764.4L70.6 763.4L69.5 758.4L69.8 756.9L70.9 754.4L70.7 751.9L71.0 750.9L72.7 748.1L75.2 746.1L76.2 743.3L76.7 742.4L78.2 741.3L79.7 739.6L80.7 739.0L86.6 737.3L87.6 736.3L87.8 734.3L88.3 733.6L89.3 733.3L90.8 733.7L91.3 734.0L91.8 734.8L92.2 737.8L91.3 743.2L90.3 745.1L87.8 748.1L87.5 750.9L87.0 752.4L85.7 754.4L83.7 756.9L81.7 760.4L78.2 763.0L75.2 764.9Z"/>
<path d="M74.7 764.4L73.2 764.4L71.7 763.4L70.2 758.9L70.4 756.9L71.5 754.4L71.2 751.9L71.7 750.3L73.2 748.2L75.6 746.3L76.9 742.8L78.7 741.6L80.2 739.8L81.2 739.4L86.9 737.8L88.6 736.3L89.2 734.3L90.3 734.5L91.3 735.5L91.7 737.8L90.9 742.8L90.2 744.3L87.5 747.8L87.2 748.8L87.1 750.9L86.6 752.4L85.7 753.7L83.4 756.4L81.2 760.2L77.7 762.8L74.7 764.4Z"/>
<path d="M75.2 763.5L73.7 763.7L72.4 762.9L71.8 761.9L70.8 758.9L70.9 756.9L72.0 754.4L71.7 751.9L72.2 750.2L73.2 748.8L75.7 746.8L77.2 743.1L79.2 741.8L80.4 740.3L81.2 739.9L84.2 738.9L87.1 738.3L89.8 736.5L90.3 736.4L90.8 736.7L91.2 738.3L90.5 740.8L90.3 742.8L87.1 747.8L86.8 748.8L86.8 750.9L86.2 752.3L85.2 753.6L83.2 755.4L81.7 758.9L81.0 759.9L77.7 762.2L75.2 763.5Z"/>
<path d="M74.7 763.0L73.7 762.9L72.7 762.3L71.9 760.9L71.2 758.9L71.3 757.4L72.7 754.4L72.2 751.9L72.7 750.1L73.7 748.9L75.2 747.8L76.1 746.8L77.2 744.0L77.7 743.3L79.6 742.3L80.7 740.8L81.2 740.4L84.7 739.2L87.3 738.9L89.3 737.7L90.3 737.8L90.5 738.8L89.9 740.3L89.6 742.3L86.7 747.8L86.4 748.8L86.4 750.9L85.7 752.3L83.6 753.9L82.7 754.8L81.4 758.4L80.7 759.5L76.2 762.4L74.7 763.0Z"/>
<path d="M75.7 761.9L74.2 762.4L73.2 762.0L72.3 760.9L71.6 758.9L71.8 757.4L73.1 755.4L73.4 754.4L72.7 751.9L73.0 750.3L73.8 749.3L76.2 747.3L76.9 746.3L77.7 744.2L78.2 743.7L79.7 743.3L81.6 740.8L84.7 739.5L86.2 739.5L87.8 739.9L88.3 740.3L88.5 740.8L88.5 741.8L87.4 743.8L87.1 745.8L86.0 748.3L85.7 751.4L85.2 751.9L83.7 752.6L82.7 753.6L81.8 755.4L80.9 758.4L80.2 759.3L75.7 761.9Z"/>
<path d="M75.2 761.6L74.2 761.8L73.2 761.3L72.5 760.4L72.1 758.9L72.2 757.6L73.7 755.9L74.8 753.9L74.7 753.4L73.4 751.9L73.3 751.4L73.6 750.3L76.3 747.8L78.2 744.9L80.2 744.4L80.7 743.9L81.9 741.3L84.2 740.0L85.2 739.8L86.2 740.1L87.2 740.8L87.4 741.3L87.2 742.3L86.4 743.8L86.4 746.3L85.2 748.2L83.7 748.3L83.2 748.7L83.2 749.3L83.6 750.9L83.5 751.4L81.7 754.4L80.4 758.4L79.2 759.5L76.9 760.4L75.2 761.6Z"/>
<path d="M75.2 760.9L74.2 761.2L73.4 760.9L72.8 759.9L72.5 758.9L72.7 757.9L74.2 756.5L75.8 754.4L75.9 753.9L75.5 752.9L74.2 751.4L74.3 750.3L78.2 746.2L80.2 745.7L81.2 744.8L81.9 743.8L82.1 742.3L82.6 741.3L84.2 740.4L85.7 740.4L86.3 740.8L86.6 741.8L85.4 744.3L85.6 746.3L85.2 747.0L84.7 747.3L83.2 747.4L82.3 747.8L82.1 748.3L82.7 750.3L82.7 751.4L81.2 754.5L80.1 757.9L79.2 758.9L76.7 759.8L75.2 760.9Z"/>
<path d="M83.7 744.4L83.2 744.2L82.9 743.3L83.0 741.8L84.2 740.8L85.2 740.8L85.8 741.3L85.8 742.3L84.7 743.8L83.7 744.4ZM82.7 745.9L82.6 745.8L82.7 745.6L83.1 745.8L82.7 745.9ZM74.7 760.5L73.7 760.4L73.2 759.6L73.1 758.9L73.3 758.4L74.8 757.4L75.5 755.9L76.5 754.4L76.4 753.4L75.3 751.4L75.2 750.3L75.9 749.3L78.2 747.2L79.2 746.9L80.2 747.1L80.7 747.4L81.2 748.2L82.2 750.9L82.1 751.9L80.9 754.4L80.1 756.9L79.1 758.4L78.2 758.8L76.2 759.2L74.7 760.5Z"/>
<path d="M84.2 743.0L83.7 742.8L83.7 741.8L84.7 741.3L85.2 741.8L85.1 742.3L84.2 743.0ZM78.2 758.1L76.7 758.0L76.2 757.4L76.1 756.4L77.1 754.4L75.9 750.9L76.2 749.8L77.2 748.8L78.2 748.0L79.2 747.8L80.2 748.2L80.8 748.8L81.6 750.3L81.7 751.4L79.7 756.5L79.2 757.4L78.2 758.1Z"/>
<path d="M78.2 757.0L77.5 756.9L77.3 756.4L77.7 755.1L77.7 754.4L76.6 751.9L76.4 750.9L76.8 749.8L77.7 749.0L78.7 748.5L79.2 748.5L80.2 749.0L80.9 749.8L81.3 750.9L81.3 751.9L79.2 756.1L78.2 757.0Z"/>
</g>
<path d="M67.5,769.4 Q67.5,766.2 75.9,766.2 Q84.3,766.2 84.3,769.4" fill="none" stroke="#2a2a2a" stroke-width="1.4"/>
<rect x="45.1" y="658.1" width="111.9" height="111.3" fill="none" stroke="#6a6a6a" stroke-width="1.1"/>
<line x1="98.9" y1="658.1" x2="98.9" y2="769.4" stroke="#7a7a7a" stroke-width="1.0" />
<line x1="45.1" y1="720.7" x2="157.0" y2="720.7" stroke="#7a7a7a" stroke-width="1.0" />
<text x="47.0" y="676.6" font-size="14" text-anchor="start" font-weight="normal" fill="#231f20" stroke="#231f20" stroke-width="0.28" >0.24</text>
<text x="148.6" y="674.4" font-size="14" text-anchor="end" font-weight="normal" fill="#231f20" stroke="#231f20" stroke-width="0.28" >0.05</text>
<text x="149.5" y="765.0" font-size="14" text-anchor="end" font-weight="normal" fill="#231f20" stroke="#231f20" stroke-width="0.28" >0.56</text>
<text x="101.0" y="650.2" font-size="14" text-anchor="middle" font-weight="normal" fill="#231f20" stroke="#231f20" stroke-width="0.28" >Day 0</text>
<clipPath id="cp01"><rect x="167.8" y="657.4" width="111.7" height="111.4"/></clipPath>
<g clip-path="url(#cp01)" fill="#000" fill-opacity="0.013" stroke="#4a4a4a" stroke-width="0.42">
<path d="M197.4 768.8L194.3 769.2L185.8 769.3L179.3 769.2L175.8 768.8L177.1 761.3L178.9 754.7L180.0 751.7L183.4 744.7L185.8 741.6L187.8 738.2L189.8 736.1L193.8 732.8L195.3 732.2L197.4 731.9L198.4 732.1L199.4 732.5L201.9 734.8L202.9 736.2L203.5 737.7L204.1 740.7L204.4 745.2L204.0 751.2L202.1 758.3L200.6 762.8L199.0 766.3L197.4 768.8Z"/>
<path d="M195.9 768.8L192.8 769.1L186.3 769.2L180.3 769.1L177.5 768.8L178.5 761.3L179.9 756.3L181.5 752.2L184.5 745.7L189.0 739.7L191.3 737.3L193.8 735.6L196.4 735.0L197.9 735.3L198.9 736.0L201.4 739.0L202.2 741.2L202.8 745.2L202.4 751.7L200.7 758.3L198.0 765.3L195.9 768.8Z"/>
<path d="M194.8 768.8L186.3 769.2L178.6 768.8L179.4 761.8L180.7 756.8L182.0 753.2L185.3 746.2L189.3 741.0L191.3 738.9L193.8 737.2L195.9 736.6L196.9 736.7L197.9 737.3L199.9 739.4L200.6 740.7L201.7 745.2L201.3 748.2L201.5 751.2L201.1 753.7L199.7 758.8L197.0 765.3L194.8 768.8Z"/>
<path d="M193.8 768.8L186.8 769.1L180.3 768.9L179.4 768.8L179.5 767.3L180.2 761.3L181.7 755.8L186.0 746.2L188.3 743.4L191.3 740.3L193.8 738.6L195.9 738.0L196.9 738.2L197.9 739.0L199.3 740.7L199.9 742.0L200.7 745.2L200.4 748.2L200.7 751.7L200.3 754.2L199.0 758.8L196.0 765.8L194.2 768.8L193.8 768.8Z"/>
<path d="M193.3 768.8L186.3 769.1L180.2 768.8L180.2 766.3L180.8 761.3L182.2 755.8L183.4 752.7L185.3 749.6L186.4 746.7L188.3 744.3L191.8 741.2L193.8 740.1L195.9 739.6L196.9 739.9L197.9 740.7L198.9 742.0L199.6 743.7L199.9 745.2L199.7 747.7L200.1 752.2L199.6 754.7L198.4 758.8L195.7 765.3L193.3 768.8Z"/>
<path d="M192.3 768.8L186.3 769.1L181.0 768.8L180.8 766.8L181.2 761.8L182.9 754.7L183.9 752.7L185.9 749.7L186.8 747.2L187.4 746.2L189.3 744.3L192.8 742.0L194.8 741.3L196.4 741.2L197.9 742.1L199.0 744.2L199.6 751.2L199.5 753.2L198.1 758.3L196.4 762.0L195.2 765.3L193.3 767.9L192.7 768.8L192.3 768.8Z"/>
<path d="M191.8 768.8L186.3 769.0L182.1 768.8L181.4 766.8L181.8 761.3L183.5 754.2L184.3 752.7L186.2 750.2L187.1 747.7L187.8 746.4L189.8 744.8L194.8 742.4L196.4 742.3L197.7 743.2L198.3 744.7L199.1 750.7L199.0 753.7L197.8 757.8L195.9 761.8L194.9 764.8L193.8 766.6L191.8 768.8Z"/>
<path d="M190.8 768.8L186.3 769.0L183.1 768.8L182.4 767.8L181.9 766.3L182.1 762.3L183.2 756.3L184.1 753.7L186.7 750.2L187.6 747.7L188.3 746.6L189.8 745.6L194.8 743.4L196.4 743.3L196.9 743.6L197.4 744.4L198.5 749.2L198.8 751.7L198.5 754.2L197.5 757.8L195.7 761.3L194.3 765.0L191.3 768.8L190.8 768.8Z"/>
<path d="M190.3 768.8L183.7 768.8L182.8 767.3L182.4 765.8L182.5 761.8L183.7 755.8L184.5 753.7L186.9 750.7L188.2 747.7L188.8 746.9L189.9 746.2L193.3 744.8L194.8 744.4L195.9 744.3L196.7 745.2L198.1 749.2L198.4 751.2L198.1 754.2L197.1 757.8L195.3 761.3L194.0 764.8L190.8 768.5L190.3 768.8Z"/>
<path d="M189.3 768.8L184.3 768.8L183.1 766.8L182.8 765.3L182.8 761.8L184.0 755.8L184.8 753.8L187.1 751.2L188.5 748.2L189.3 747.2L192.8 745.5L194.3 745.2L195.3 745.3L195.9 745.6L196.7 746.7L197.9 749.6L198.0 751.7L197.7 754.7L196.8 757.8L194.9 761.3L193.6 764.8L190.3 768.3L189.8 768.8L189.3 768.8Z"/>
<path d="M188.3 768.8L184.8 768.8L183.3 766.1L183.1 764.8L183.2 761.8L184.3 755.8L184.9 754.2L187.5 751.2L188.8 748.7L189.6 747.7L192.8 746.0L194.8 745.8L195.6 746.2L196.4 747.2L197.2 748.7L197.6 750.2L197.6 753.2L196.9 756.3L196.4 757.8L194.8 760.8L193.0 764.8L189.8 768.1L188.7 768.8L188.3 768.8Z"/>
<path d="M187.3 768.8L185.3 768.6L183.9 766.3L183.6 765.3L183.5 761.8L184.6 755.8L185.3 754.3L187.6 751.7L189.9 748.2L191.2 747.2L192.8 746.4L193.8 746.2L194.8 746.4L195.8 747.2L196.4 748.0L197.3 750.7L197.2 753.7L196.3 757.3L192.5 764.8L189.8 767.4L187.3 768.8Z"/>
<path d="M186.3 768.4L185.8 768.2L184.8 767.0L184.1 765.8L183.9 764.8L183.9 761.8L184.9 755.8L185.4 754.7L187.7 752.2L190.6 748.2L192.8 746.8L194.3 746.7L195.2 747.2L195.9 748.0L196.8 750.7L196.9 753.2L196.0 757.3L192.0 764.8L189.3 767.1L186.3 768.4Z"/>
<path d="M187.3 767.4L186.3 767.4L185.8 767.2L184.8 766.1L184.3 764.8L184.2 761.8L185.2 755.8L185.8 754.8L187.3 753.2L191.3 748.2L192.8 747.2L194.3 747.2L195.1 747.7L195.8 748.7L196.6 751.7L196.5 753.7L195.7 757.3L191.5 764.8L189.3 766.6L187.3 767.4Z"/>
<path d="M187.3 766.8L186.3 766.7L185.3 765.9L184.6 764.3L184.6 761.8L185.4 756.3L185.9 755.3L192.0 748.2L193.3 747.5L194.3 747.7L195.3 748.8L196.2 752.2L196.2 753.7L195.4 757.3L191.1 764.8L189.3 766.2L187.3 766.8Z"/>
<path d="M187.8 766.3L186.8 766.3L185.9 765.8L185.3 765.2L185.0 764.3L184.9 762.3L185.4 759.8L185.8 756.3L188.8 752.4L190.6 750.7L192.2 748.7L192.8 748.2L193.8 748.1L194.8 748.9L195.9 752.5L195.8 753.7L195.1 757.3L190.6 764.8L189.3 765.8L187.8 766.3Z"/>
<path d="M188.3 765.9L187.3 766.0L186.3 765.6L185.3 764.3L185.2 762.8L185.9 759.8L186.0 756.8L186.6 755.8L189.3 752.3L192.8 749.0L193.8 748.8L194.6 749.7L195.5 752.7L194.8 757.3L192.8 760.7L191.3 762.7L190.6 764.3L189.6 765.3L188.3 765.9Z"/>
<path d="M188.8 765.4L187.8 765.7L186.8 765.5L186.3 765.2L185.7 764.3L185.6 762.8L186.3 759.8L186.3 757.2L186.7 756.3L189.3 752.7L193.3 749.8L194.0 750.2L195.0 752.7L194.4 757.3L192.8 760.1L191.1 762.3L190.2 764.3L188.8 765.4Z"/>
<path d="M188.3 765.3L186.8 765.1L186.3 764.7L185.9 763.8L186.0 762.3L186.7 759.8L186.8 757.2L189.8 752.7L192.3 751.2L193.3 751.0L194.3 752.2L194.5 753.2L194.0 757.3L192.4 760.3L190.7 762.3L189.8 764.3L188.3 765.3Z"/>
<path d="M188.3 765.0L186.9 764.8L186.2 763.8L186.2 762.8L187.0 760.3L187.4 757.3L189.8 753.1L191.3 752.2L192.8 751.9L193.4 752.2L193.8 753.2L193.8 756.3L193.6 757.3L192.3 759.8L190.3 762.2L189.4 764.3L188.3 765.0Z"/>
<path d="M188.8 764.4L187.8 764.7L187.3 764.6L186.6 763.8L186.6 762.8L187.4 760.3L187.8 757.9L189.8 753.6L190.8 752.9L192.3 752.8L192.9 753.2L193.2 754.2L193.4 756.3L193.2 757.3L191.9 759.8L190.2 761.8L189.3 763.8L188.8 764.4Z"/>
<path d="M187.8 764.3L187.0 763.8L186.9 762.8L188.3 758.3L189.2 756.8L189.6 754.7L190.3 753.7L191.3 753.4L191.8 753.6L192.4 754.2L192.7 755.8L192.5 757.3L191.7 759.3L189.8 761.8L188.9 763.8L187.8 764.3Z"/>
<path d="M191.3 756.5L190.8 756.4L190.3 755.5L190.5 754.7L190.8 754.5L191.3 754.7L191.6 755.3L191.3 756.5ZM187.8 763.8L187.4 763.3L187.4 762.8L188.7 758.8L189.3 758.1L190.8 757.5L191.3 758.3L191.1 759.3L189.2 761.8L188.6 763.3L187.8 763.8Z"/>
<path d="M189.3 760.4L189.1 760.3L189.1 759.8L189.3 759.2L189.8 758.9L190.3 759.3L189.8 760.1L189.3 760.4Z"/>
</g>
<path d="M173.4,768.8 Q173.4,765.6 184.6,765.6 Q195.7,765.6 195.7,768.8" fill="none" stroke="#2a2a2a" stroke-width="1.4"/>
<rect x="167.8" y="657.4" width="111.7" height="111.4" fill="none" stroke="#6a6a6a" stroke-width="1.1"/>
<line x1="205.9" y1="657.4" x2="205.9" y2="768.8" stroke="#7a7a7a" stroke-width="1.0" />
<line x1="167.8" y1="742.0" x2="279.5" y2="742.0" stroke="#7a7a7a" stroke-width="1.0" />
<text x="171.0" y="673.8" font-size="14" text-anchor="start" font-weight="normal" fill="#231f20" stroke="#231f20" stroke-width="0.28" >2.5</text>
<text x="273.5" y="672.8" font-size="14" text-anchor="end" font-weight="normal" fill="#231f20" stroke="#231f20" stroke-width="0.28" >0.2</text>
<text x="268.9" y="764.2" font-size="14" text-anchor="end" font-weight="normal" fill="#231f20" stroke="#231f20" stroke-width="0.28" >0.75</text>
<text x="223.7" y="650.2" font-size="14" text-anchor="middle" font-weight="normal" fill="#231f20" stroke="#231f20" stroke-width="0.28" >Day 2</text>
<clipPath id="cp02"><rect x="286.0" y="657.4" width="111.4" height="112.1"/></clipPath>
<g clip-path="url(#cp02)" fill="#000" fill-opacity="0.013" stroke="#4a4a4a" stroke-width="0.42">
<path d="M318.1 769.6L312.1 769.9L294.5 769.9L288.5 769.6L288.1 769.5L287.7 769.0L287.3 767.5L287.5 766.0L288.2 764.5L290.3 761.5L290.8 760.0L290.2 753.0L290.4 749.5L289.9 744.0L290.6 736.0L290.4 732.5L291.3 728.5L291.6 724.5L292.3 720.0L294.2 713.5L296.5 709.4L297.0 705.9L297.7 703.9L299.4 701.4L301.6 698.9L302.9 696.9L306.0 692.9L307.6 691.4L310.6 689.4L312.6 686.8L318.1 681.9L320.4 678.9L322.7 676.4L324.7 673.4L329.2 668.4L334.7 664.6L336.2 664.2L338.2 664.1L341.2 663.6L342.7 664.2L345.7 665.9L346.7 666.7L347.5 667.9L349.6 672.9L350.0 674.9L349.4 681.9L348.2 685.9L345.7 691.9L344.1 694.9L339.2 701.1L337.2 704.4L333.9 707.9L331.4 711.9L327.6 715.5L325.6 717.9L324.0 720.5L323.2 722.5L322.8 724.0L322.6 728.0L322.1 731.0L322.1 739.0L321.4 749.0L320.6 754.0L318.6 762.5L318.7 764.0L319.4 766.5L319.3 767.5L318.6 769.5L318.1 769.6Z"/>
<path d="M316.1 769.6L307.1 769.9L294.5 769.8L290.5 769.5L289.9 768.5L289.7 767.0L290.3 765.0L291.4 763.5L293.3 761.5L293.6 760.5L293.5 756.5L292.7 753.0L292.8 750.0L292.3 744.0L292.7 738.5L293.1 736.0L293.6 728.0L294.6 722.0L296.5 717.0L297.1 714.0L299.6 709.9L300.3 706.9L300.9 705.9L303.1 702.8L305.1 700.7L306.6 698.3L308.3 696.4L309.6 694.4L312.1 692.9L314.1 690.5L316.1 689.6L316.9 688.9L321.2 682.4L323.1 680.0L326.8 673.9L330.8 669.9L335.2 666.8L337.2 666.4L341.2 666.7L343.2 667.6L344.7 668.8L346.0 670.9L347.1 673.9L347.4 675.4L347.4 676.9L346.0 684.4L344.8 687.4L344.1 689.9L342.2 692.7L340.8 695.4L334.2 702.5L332.4 705.4L329.7 707.8L327.6 710.9L323.1 715.0L322.4 717.5L320.6 721.0L320.1 723.5L320.3 726.5L319.8 730.0L319.6 744.0L317.9 754.0L316.3 761.5L316.3 763.5L317.2 766.5L317.3 767.5L316.6 769.5L316.1 769.6Z"/>
<path d="M315.1 769.5L305.1 769.9L296.0 769.7L292.4 769.5L291.6 768.5L291.3 767.0L291.8 765.5L292.8 764.0L294.9 762.0L295.5 760.5L295.2 756.0L294.4 753.0L294.5 751.0L294.0 748.0L293.7 743.0L294.6 737.0L294.9 733.0L294.8 728.0L296.0 723.0L297.4 720.0L299.0 714.0L299.9 712.4L301.8 709.9L303.1 707.2L304.5 705.4L307.6 700.6L310.0 698.4L311.6 696.7L313.6 695.1L315.2 692.4L318.1 690.5L319.7 687.4L321.6 685.4L322.8 683.4L324.4 681.4L326.8 675.9L327.8 674.4L331.7 670.7L335.7 668.1L337.7 667.8L340.7 668.2L342.7 669.1L344.0 670.4L345.1 672.4L346.1 675.9L345.9 677.9L344.8 682.9L342.6 688.9L338.5 694.9L335.2 698.4L330.3 703.9L327.6 706.3L325.3 710.4L320.8 714.0L319.8 715.0L319.4 716.0L319.4 718.5L318.4 725.0L318.3 730.0L318.6 734.5L318.2 737.5L318.0 745.0L316.9 749.5L316.4 755.0L314.3 761.5L314.6 763.0L316.1 767.0L315.8 768.5L315.1 769.5Z"/>
<path d="M313.6 769.5L303.6 769.9L295.0 769.6L294.0 769.5L292.8 768.0L292.6 767.0L293.0 765.5L293.7 764.5L296.0 762.0L296.7 760.5L295.9 753.5L296.0 751.5L295.1 748.0L294.9 743.5L295.1 742.0L295.8 740.5L296.0 739.5L296.0 733.0L295.7 729.5L296.0 727.5L297.1 723.5L298.5 720.5L299.6 716.0L300.6 713.9L303.0 711.4L304.2 708.9L307.5 706.4L308.0 705.4L308.0 703.4L308.5 702.4L309.1 701.9L311.1 701.0L312.7 698.9L314.4 697.4L316.4 693.9L319.1 691.4L320.8 687.9L323.0 685.9L324.1 683.9L325.5 681.9L327.3 676.9L328.2 675.3L332.2 671.4L335.7 669.2L337.7 668.8L340.7 669.2L342.2 670.0L343.4 671.4L344.7 674.4L345.1 676.4L344.9 678.4L344.0 682.4L341.7 688.2L338.7 691.9L336.7 694.8L332.7 699.0L330.7 700.5L328.7 702.6L326.2 704.4L323.9 709.4L318.6 713.5L318.1 714.0L317.8 715.0L317.3 719.0L317.6 722.5L317.0 726.0L317.6 734.0L316.8 745.0L315.9 749.0L315.4 755.0L312.6 761.5L312.9 762.5L314.6 765.5L315.1 767.0L314.7 768.5L314.0 769.5L313.6 769.5Z"/>
<path d="M312.6 769.5L303.6 769.8L295.5 769.5L294.7 769.0L293.9 768.0L293.7 767.0L294.0 765.5L294.7 764.5L297.1 762.0L297.9 760.5L297.0 754.0L297.1 751.5L296.1 749.0L295.8 747.5L296.0 743.2L297.0 741.0L297.2 740.0L296.9 737.5L297.0 733.0L296.6 730.0L297.0 727.5L298.0 724.0L299.9 720.0L300.7 716.5L301.3 715.0L302.1 714.1L304.6 712.7L305.4 710.4L306.2 709.4L310.1 707.0L312.1 706.1L312.8 705.4L313.3 704.4L313.9 700.4L319.2 694.4L322.1 688.9L323.9 687.4L324.7 684.9L326.1 682.4L327.8 677.4L328.7 675.8L332.2 672.2L335.2 670.2L337.2 669.6L340.2 669.8L341.6 670.4L342.5 671.4L343.9 674.9L344.3 676.9L344.1 678.9L343.3 682.4L341.0 687.9L338.7 690.4L336.5 693.4L335.2 694.9L332.7 697.2L330.2 698.8L328.2 700.6L324.9 702.9L324.1 704.2L323.3 707.4L322.8 708.4L317.1 712.4L316.5 713.5L316.3 715.5L315.8 717.5L316.4 723.0L315.8 727.0L316.6 734.0L315.8 745.5L315.1 748.5L314.9 752.5L314.5 755.0L311.0 761.5L311.4 762.5L313.2 765.0L314.2 767.0L313.7 768.5L312.6 769.5Z"/>
<path d="M311.1 769.5L303.6 769.8L296.4 769.5L295.2 768.5L294.7 767.5L294.7 766.0L295.2 765.0L297.0 763.1L299.1 761.5L299.4 760.5L298.1 756.0L297.7 751.0L296.8 749.0L296.5 747.5L296.8 744.0L298.1 740.0L297.8 737.5L297.8 732.5L297.5 730.0L298.6 725.0L300.1 722.2L301.1 721.0L302.3 720.0L302.6 719.5L301.9 717.0L302.3 715.5L303.6 714.6L306.1 714.3L306.6 713.8L307.3 711.4L308.5 709.9L310.6 708.5L313.6 707.2L316.0 704.9L316.3 703.9L316.0 701.4L316.5 699.9L319.1 697.0L321.1 695.7L322.7 693.9L324.7 692.4L324.9 691.4L324.6 689.4L325.4 685.4L328.2 677.9L329.2 676.2L332.2 672.9L335.2 670.8L337.2 670.2L340.2 670.4L341.2 670.9L342.0 671.9L343.4 675.9L343.6 677.4L342.8 681.9L340.9 686.9L340.3 687.9L335.2 693.7L332.2 695.9L330.2 696.4L327.6 699.0L324.6 700.9L323.5 702.4L322.0 706.9L321.3 707.9L317.6 709.8L314.1 710.4L313.6 710.8L313.2 711.4L313.6 714.5L312.9 717.0L313.1 717.6L314.2 719.0L314.5 720.0L314.0 722.5L314.6 724.0L315.0 728.5L315.7 732.0L315.6 739.0L314.8 746.0L314.2 748.5L314.0 753.5L313.3 755.0L312.1 756.5L311.4 759.0L309.5 761.5L309.8 762.5L311.7 764.5L313.1 767.0L313.1 767.7L312.6 768.5L311.5 769.5L311.1 769.5Z"/>
<path d="M326.1 698.0L325.1 698.0L324.6 697.6L324.2 696.4L324.2 695.4L326.2 692.4L325.5 689.4L326.0 685.9L327.5 680.9L328.9 677.4L329.7 676.3L332.4 673.4L335.2 671.3L337.2 670.7L339.2 670.7L340.2 671.0L340.8 671.4L341.4 672.4L342.7 675.9L343.0 677.4L342.4 681.4L340.4 686.9L339.7 688.0L335.2 692.7L334.2 693.3L333.2 693.5L331.2 693.2L330.2 693.5L329.0 694.4L327.6 696.9L327.1 697.5L326.1 698.0ZM321.1 704.6L320.6 704.9L320.1 704.9L319.4 703.9L319.6 702.9L320.6 702.3L321.4 702.4L321.7 702.9L321.6 703.8L321.1 704.6ZM310.1 769.5L303.6 769.7L297.3 769.5L295.7 768.0L295.4 766.5L295.7 765.5L297.0 764.0L300.2 762.0L300.6 761.5L300.8 760.5L300.6 759.0L298.9 756.0L298.5 754.0L298.4 751.0L297.2 748.0L297.6 744.0L298.9 740.0L298.5 735.0L298.5 730.5L299.3 725.5L299.6 724.5L300.6 723.0L301.6 722.0L303.3 721.0L304.1 720.0L304.3 718.5L303.7 717.0L303.8 716.5L304.1 716.3L306.1 716.5L308.2 715.5L309.0 714.5L309.1 712.9L309.4 711.9L310.1 711.2L310.6 711.1L311.1 711.8L311.4 712.9L311.2 717.0L312.7 720.5L312.4 724.0L313.6 726.0L314.2 728.5L314.7 731.5L314.9 738.5L314.1 745.8L313.4 748.5L313.4 751.5L313.2 753.0L312.6 754.1L310.6 755.7L310.3 756.5L310.4 758.5L308.7 760.5L308.2 761.5L308.4 762.5L310.7 764.5L312.0 767.0L311.8 768.0L311.5 768.5L310.1 769.5Z"/>
<path d="M328.2 693.0L327.6 692.8L326.5 690.4L326.2 688.4L327.8 681.4L329.2 677.8L330.1 676.4L332.6 673.9L335.2 671.8L336.2 671.3L337.2 671.1L339.7 671.4L340.8 672.4L342.2 675.9L342.5 677.4L342.1 680.4L339.9 686.9L338.7 688.4L334.7 692.1L333.7 692.3L331.2 692.1L328.2 693.0ZM308.6 769.5L303.6 769.7L298.0 769.5L296.5 768.0L296.1 767.0L296.3 766.0L297.0 764.9L298.1 764.0L301.5 762.0L302.1 761.0L302.0 759.5L301.6 758.0L299.5 755.0L299.0 751.0L298.0 748.0L298.3 744.0L299.7 739.5L299.1 734.0L300.2 725.5L300.6 724.5L301.6 723.2L304.8 721.0L306.0 718.5L306.5 718.0L308.6 717.0L309.6 717.2L310.1 717.7L311.5 720.5L311.7 721.5L311.5 724.5L313.1 727.0L313.7 729.0L313.9 731.0L313.8 734.0L314.2 738.0L313.4 745.5L312.5 748.5L312.5 752.5L311.8 753.5L309.9 755.0L309.1 756.0L308.5 758.5L306.9 761.5L307.1 762.5L308.1 763.5L309.7 764.5L310.5 765.5L310.8 766.5L310.9 767.5L310.6 768.2L309.7 769.0L308.6 769.5Z"/>
<path d="M334.2 691.5L331.7 691.4L329.2 691.9L328.2 691.6L327.6 691.1L327.0 689.9L326.7 688.4L327.9 682.4L329.3 678.4L330.7 676.4L333.7 673.4L335.7 671.9L337.2 671.5L338.7 671.6L340.1 672.4L341.7 675.9L342.1 677.4L341.9 679.4L339.5 686.9L338.7 688.0L335.7 690.7L334.2 691.5ZM305.1 761.3L304.6 761.4L303.6 760.4L302.2 756.5L300.2 754.0L299.7 751.0L298.8 748.5L298.7 747.0L299.1 743.5L300.4 739.5L299.6 734.0L300.0 731.5L300.9 729.5L300.9 726.5L301.5 725.0L302.8 723.5L305.6 721.9L306.5 721.0L307.6 719.1L308.6 718.6L309.6 719.2L310.3 720.5L310.6 721.5L310.4 724.0L310.6 725.0L312.6 727.9L313.0 729.0L313.2 731.0L313.0 734.0L313.6 738.5L312.7 745.5L311.4 748.5L311.7 751.5L311.5 752.5L310.6 753.5L308.1 755.7L307.4 757.0L306.8 759.5L306.1 760.5L305.1 761.3ZM307.6 769.5L298.7 769.5L297.3 768.0L296.9 767.0L296.9 766.5L298.0 765.0L299.2 764.0L302.1 762.6L304.6 762.1L309.1 764.9L309.9 766.0L310.1 767.0L309.8 768.0L308.8 769.0L307.6 769.5Z"/>
<path d="M333.7 691.0L331.7 690.9L329.2 691.3L328.4 690.9L327.6 690.1L327.3 688.9L327.3 687.9L328.3 681.9L329.6 678.4L330.7 676.9L335.5 672.4L336.7 671.9L338.2 671.9L339.2 672.3L339.7 672.8L341.3 675.9L341.7 677.4L341.4 679.4L339.8 685.4L339.1 686.9L338.2 688.0L335.7 690.1L334.7 690.8L333.7 691.0ZM305.1 759.5L304.6 759.4L304.1 758.7L302.6 755.0L301.2 753.0L299.5 748.4L299.4 746.5L299.8 743.0L301.0 739.5L300.1 734.0L300.6 732.0L301.8 730.0L301.8 727.0L302.6 725.5L304.1 724.0L307.6 723.0L308.5 723.5L309.2 725.0L312.3 729.5L312.6 731.0L312.3 734.0L312.8 737.0L312.9 738.5L311.9 743.0L311.7 745.5L310.4 748.0L310.6 752.0L310.0 753.0L307.6 755.0L306.7 756.5L306.1 758.5L305.6 759.3L305.1 759.5ZM306.6 769.5L299.5 769.5L298.0 768.0L297.7 767.0L297.8 766.5L298.9 765.0L301.1 763.7L303.1 763.2L305.1 763.5L308.6 765.4L309.3 766.5L309.3 767.5L309.0 768.0L307.8 769.0L306.6 769.5Z"/>
<path d="M333.7 690.5L329.7 690.8L328.7 690.4L328.2 689.8L327.8 688.9L327.8 687.9L328.6 681.9L330.0 678.4L331.1 676.9L335.7 672.7L336.7 672.3L338.2 672.4L339.5 673.4L341.1 676.4L341.3 677.9L341.0 679.4L340.2 682.0L339.5 685.4L338.7 686.9L337.7 688.1L335.7 689.6L334.7 690.2L333.7 690.5ZM305.6 756.5L305.1 756.9L304.6 756.8L304.1 756.2L303.5 754.5L303.6 752.5L303.5 751.5L303.1 750.9L301.0 749.5L300.4 748.0L300.2 746.0L300.4 743.0L301.6 739.5L300.7 735.0L300.9 733.5L302.8 730.0L302.7 727.5L303.0 726.5L304.6 725.0L306.1 724.7L307.1 724.9L308.5 726.0L309.3 727.0L310.0 728.5L311.6 730.0L311.9 731.5L311.4 734.0L312.1 737.5L311.9 739.0L310.4 742.0L310.3 743.0L310.6 745.0L309.7 747.5L309.1 752.0L307.6 753.3L305.6 756.5ZM309.2 733.5L309.1 732.5L308.6 731.8L308.1 731.7L307.6 732.5L307.9 733.5L308.6 733.8L309.2 733.5ZM305.6 769.5L300.4 769.5L299.5 769.0L298.8 768.0L298.7 767.5L298.8 766.5L299.9 765.0L301.6 764.0L303.6 763.8L305.1 764.2L308.1 766.3L308.4 767.0L308.1 768.0L307.5 768.5L306.0 769.5L305.6 769.5Z"/>
<path d="M333.7 690.0L329.7 690.2L328.6 689.4L328.3 687.9L328.7 685.9L328.9 681.9L330.1 678.9L331.1 677.4L335.7 673.2L336.7 672.7L337.7 672.7L338.9 673.4L340.4 675.9L340.9 677.4L340.8 678.9L340.0 681.4L339.3 684.9L338.7 686.5L337.9 687.4L336.7 688.4L334.7 689.7L333.7 690.0ZM305.6 751.6L305.1 751.5L301.8 748.5L301.3 747.5L301.1 746.0L301.2 743.0L302.3 739.5L302.2 738.0L301.5 735.5L301.6 734.1L303.1 731.6L303.5 730.5L303.5 728.0L303.8 727.0L304.6 726.1L305.6 725.7L307.1 726.1L307.8 727.0L307.9 727.5L306.7 732.0L306.6 733.0L306.9 734.0L308.1 734.9L310.1 735.1L310.6 735.5L311.1 737.0L311.1 737.5L310.6 738.2L310.1 738.3L308.1 737.8L307.4 738.0L307.1 738.4L307.3 739.5L308.6 740.7L309.0 741.5L309.4 745.5L308.3 749.5L307.1 750.7L305.6 751.6ZM310.6 732.0L310.0 731.5L310.1 730.7L310.7 731.0L310.9 731.5L310.6 732.0ZM305.1 769.5L301.6 769.5L300.1 768.7L299.5 767.5L299.7 766.5L300.2 765.5L301.1 764.8L302.6 764.3L304.1 764.4L305.3 765.0L306.5 766.5L306.9 767.5L306.4 768.5L305.1 769.5Z"/>
<path d="M334.2 689.5L330.2 689.6L329.2 689.1L328.9 687.9L329.3 685.9L329.0 683.9L329.1 682.4L330.2 679.4L331.0 677.9L335.3 673.9L336.2 673.3L337.2 673.1L338.2 673.4L338.6 673.9L340.2 676.3L340.5 677.4L340.4 678.9L339.6 681.4L339.0 684.9L338.3 686.4L336.7 688.0L334.2 689.5ZM305.1 732.7L304.5 732.0L304.4 728.5L304.7 727.5L305.6 726.9L306.1 727.0L306.5 727.5L306.6 728.5L305.6 732.2L305.1 732.7ZM306.1 749.7L305.1 749.7L303.7 749.0L302.6 748.0L302.2 747.0L302.5 744.5L302.2 742.5L302.9 740.5L303.4 737.5L303.3 735.5L304.1 735.0L305.1 735.1L305.6 735.5L305.8 736.0L305.5 737.5L305.9 739.0L306.6 740.3L307.8 741.5L308.1 742.5L308.1 745.0L307.7 746.5L307.7 748.0L307.1 749.0L306.1 749.7ZM306.4 746.0L306.3 745.5L305.6 745.3L305.4 745.5L305.9 746.0L306.4 746.0ZM303.6 769.5L301.5 769.0L300.3 768.0L300.3 767.0L300.7 766.0L301.1 765.5L302.1 765.0L303.1 764.8L304.1 765.0L305.0 765.5L305.6 766.5L305.9 767.5L305.6 768.5L304.6 769.3L303.6 769.5Z"/>
<path d="M334.2 689.0L333.2 689.2L330.7 688.9L329.9 688.4L330.0 686.4L329.4 683.9L329.4 682.4L330.3 679.9L331.2 678.3L335.2 674.5L336.2 673.8L337.2 673.6L338.2 674.3L339.8 676.4L340.1 677.4L340.1 678.9L339.3 681.4L338.8 684.4L338.2 686.1L336.9 687.4L334.2 689.0ZM304.6 741.3L304.4 740.5L304.6 740.0L304.8 740.5L304.6 741.3ZM304.1 769.0L302.6 768.9L301.2 768.0L301.0 767.0L301.6 765.9L303.1 765.4L304.1 765.5L304.7 766.0L305.1 767.0L305.1 768.0L304.9 768.5L304.1 769.0Z"/>
<path d="M334.2 688.5L332.7 688.7L331.8 688.4L331.1 687.9L329.8 683.9L329.8 682.4L330.8 679.4L331.7 678.2L335.7 674.6L336.7 674.3L337.2 674.4L339.2 676.3L339.8 677.4L339.7 678.9L339.0 681.4L338.7 683.9L338.2 685.4L337.5 686.4L336.2 687.5L334.2 688.5ZM303.6 768.5L302.6 768.2L301.9 767.5L302.1 766.6L302.6 766.2L303.6 766.1L304.1 766.4L304.4 767.0L304.3 768.0L303.6 768.5Z"/>
<path d="M334.2 688.0L332.7 688.0L331.8 687.4L330.2 683.9L330.1 682.4L330.9 679.9L331.9 678.4L335.2 675.5L336.7 675.0L338.2 675.9L339.2 676.9L339.5 677.9L339.4 678.9L338.7 681.4L338.4 683.9L337.8 685.4L336.7 686.7L334.2 688.0Z"/>
<path d="M333.7 687.5L332.7 687.3L331.7 686.0L330.6 683.9L330.4 682.9L330.6 681.9L331.3 679.9L332.2 678.5L335.2 676.0L336.2 675.6L336.7 675.6L338.2 676.5L338.7 676.9L339.1 677.9L339.1 678.9L338.5 681.4L338.2 683.9L337.7 685.1L336.7 686.2L333.7 687.5Z"/>
<path d="M334.7 686.5L333.2 686.7L332.2 685.9L331.0 683.9L330.8 682.9L330.9 681.9L331.6 679.9L332.2 678.9L335.2 676.4L335.7 676.2L336.7 676.1L338.2 676.9L338.8 677.9L338.8 678.9L338.3 680.9L338.0 683.4L337.2 685.2L336.2 685.9L334.7 686.5Z"/>
<path d="M334.2 686.0L333.2 686.0L332.7 685.7L331.7 684.4L331.2 682.9L331.4 681.4L331.9 679.9L332.7 678.9L335.2 676.8L336.7 676.5L338.2 677.4L338.6 678.4L337.9 681.4L337.7 683.4L337.3 684.4L336.7 685.1L334.2 686.0Z"/>
<path d="M335.2 685.0L333.7 685.4L332.7 685.0L331.7 683.4L331.6 681.9L332.2 680.1L333.0 678.9L335.2 677.2L336.7 676.9L337.7 677.4L338.1 677.9L338.2 679.4L337.7 680.9L337.5 682.9L337.2 683.9L336.7 684.5L335.2 685.0Z"/>
<path d="M335.2 684.4L333.7 684.7L332.7 684.3L332.0 682.9L332.0 681.4L332.6 679.9L333.5 678.9L335.2 677.6L336.7 677.2L337.7 677.9L337.9 678.4L337.9 679.4L337.2 681.4L337.2 682.9L336.7 683.9L335.2 684.4Z"/>
<path d="M334.7 684.0L333.7 684.1L333.2 684.0L332.7 683.5L332.3 682.4L332.5 680.9L333.2 679.6L334.7 678.3L335.7 677.7L336.7 677.6L337.3 677.9L337.7 678.9L336.9 680.9L336.7 682.9L336.2 683.6L334.7 684.0Z"/>
<path d="M334.2 683.5L333.2 683.2L332.8 682.4L332.7 681.4L333.0 680.4L333.7 679.6L335.2 678.3L336.2 677.9L336.7 678.0L337.2 678.4L337.3 678.9L336.5 680.9L336.2 682.5L335.7 683.1L334.2 683.5Z"/>
<path d="M334.7 682.7L333.7 682.7L333.4 682.4L333.2 681.9L333.3 680.9L333.7 680.2L335.0 678.9L335.7 678.5L336.3 678.4L336.8 678.9L336.8 679.4L335.5 681.9L334.7 682.7Z"/>
</g>
<path d="M297.1,769.5 Q297.1,766.3 306.6,766.3 Q316.1,766.3 316.1,769.5" fill="none" stroke="#2a2a2a" stroke-width="1.4"/>
<rect x="286.0" y="657.4" width="111.4" height="112.1" fill="none" stroke="#6a6a6a" stroke-width="1.1"/>
<line x1="327.5" y1="657.4" x2="327.5" y2="769.5" stroke="#7a7a7a" stroke-width="1.0" />
<line x1="286.0" y1="727.0" x2="397.4" y2="727.0" stroke="#7a7a7a" stroke-width="1.0" />
<text x="287.4" y="673.8" font-size="14" text-anchor="start" font-weight="normal" fill="#231f20" stroke="#231f20" stroke-width="0.28" >17</text>
<text x="391.7" y="673.8" font-size="14" text-anchor="end" font-weight="normal" fill="#231f20" stroke="#231f20" stroke-width="0.28" >13</text>
<text x="387.7" y="764.2" font-size="14" text-anchor="end" font-weight="normal" fill="#231f20" stroke="#231f20" stroke-width="0.28" >0.11</text>
<text x="341.7" y="650.2" font-size="14" text-anchor="middle" font-weight="normal" fill="#231f20" stroke="#231f20" stroke-width="0.28" >Day 4</text>
<clipPath id="cp03"><rect x="405.9" y="657.1" width="112.3" height="113.2"/></clipPath>
<g clip-path="url(#cp03)" fill="#000" fill-opacity="0.013" stroke="#4a4a4a" stroke-width="0.42">
<path d="M436.0 770.3L431.0 770.7L417.9 770.8L410.4 770.7L405.9 770.3L405.9 764.7L407.0 761.8L407.3 756.8L406.8 752.8L406.7 749.3L407.1 745.8L406.5 743.3L406.5 742.3L407.5 733.7L407.6 729.2L408.5 723.2L409.5 719.7L410.2 714.2L411.4 710.5L412.0 707.7L413.2 704.2L415.4 701.4L417.2 698.2L419.9 694.8L421.6 692.2L424.4 690.5L426.5 688.6L429.0 686.8L431.0 684.5L433.5 682.7L436.0 680.4L438.5 678.9L441.1 675.1L445.2 670.6L451.5 664.9L453.0 663.9L455.0 663.2L458.0 662.7L460.0 662.8L463.6 663.9L465.5 665.1L466.6 666.2L467.8 668.6L468.6 670.6L469.0 672.6L468.9 675.1L469.4 678.1L469.0 681.1L467.4 685.7L466.0 687.7L465.2 690.2L462.6 695.0L459.0 699.1L454.0 703.9L452.0 706.6L447.0 711.2L445.5 712.9L442.0 715.7L439.8 721.2L439.0 726.7L439.3 736.2L438.8 741.2L438.6 744.8L437.9 751.8L437.0 755.8L436.8 758.8L436.1 762.8L436.9 768.3L436.5 769.8L436.3 770.3L436.0 770.3Z"/>
<path d="M433.5 770.3L425.5 770.7L411.4 770.6L408.5 770.3L407.5 768.8L407.3 767.8L407.6 766.3L409.4 762.8L409.8 761.3L409.8 755.3L409.5 752.3L409.4 748.3L408.8 743.8L408.9 742.8L409.8 739.7L409.6 736.7L409.9 733.2L409.6 730.2L410.9 725.7L411.2 722.7L412.2 719.2L412.7 716.2L414.5 710.2L416.3 705.7L420.2 700.7L421.4 698.1L422.4 696.8L430.0 690.7L434.5 685.9L439.5 681.9L442.1 678.6L445.2 673.6L448.4 670.1L452.0 667.0L453.5 666.0L456.0 665.3L458.0 665.1L460.0 665.2L461.5 665.9L462.4 666.6L465.2 670.1L466.0 671.6L466.3 673.1L466.3 679.6L466.0 682.1L465.2 684.1L463.3 686.7L462.4 690.2L461.0 692.7L457.4 697.2L454.3 699.2L450.0 704.0L446.5 706.6L442.6 710.7L441.6 712.2L439.5 714.4L437.2 719.7L436.5 726.7L436.8 735.2L436.5 737.7L436.4 744.8L435.0 753.7L434.7 756.8L433.8 759.8L433.6 761.8L433.7 763.3L434.7 766.3L434.9 767.8L434.4 769.3L433.5 770.3Z"/>
<path d="M432.0 770.3L424.4 770.7L411.4 770.5L410.1 770.3L408.8 768.3L408.6 767.3L408.9 766.3L411.1 762.3L411.5 760.8L411.1 757.3L410.8 749.3L410.2 745.8L410.2 744.3L411.2 740.2L411.1 730.7L412.5 725.2L412.8 722.7L413.8 719.7L414.3 716.7L415.7 713.2L417.2 710.7L418.6 706.2L420.5 703.2L421.9 701.6L428.0 697.3L429.8 694.2L432.8 690.7L440.0 684.1L443.5 679.6L444.7 676.6L446.8 673.6L450.0 670.3L453.5 667.6L456.5 666.8L460.0 666.8L461.5 667.9L464.0 671.1L464.6 672.6L464.9 675.1L465.0 679.6L464.7 681.6L464.1 683.1L462.2 686.2L461.0 689.9L459.9 691.7L456.5 695.0L454.0 696.3L452.3 697.7L450.0 701.0L449.0 702.1L445.5 704.0L442.5 706.7L440.0 709.6L438.1 711.2L437.5 712.3L436.6 715.2L435.3 717.7L435.0 719.2L435.3 722.7L434.7 726.7L435.2 732.7L434.9 737.2L435.3 740.2L435.3 741.7L435.0 743.8L434.2 746.8L434.1 749.8L433.2 756.3L432.3 758.8L431.9 761.3L432.1 763.3L433.3 766.3L433.5 767.8L432.9 769.3L432.2 770.3L432.0 770.3Z"/>
<path d="M431.0 770.3L423.9 770.6L412.4 770.4L411.1 770.3L409.7 768.3L409.5 767.3L409.8 766.3L412.6 762.3L413.0 761.3L413.0 760.3L412.0 756.8L412.0 749.8L411.2 745.3L412.3 741.7L412.2 731.2L412.7 728.2L413.8 725.2L415.0 720.7L415.4 717.7L417.1 714.2L418.4 712.2L419.9 708.1L422.4 703.5L426.0 700.9L428.5 699.8L430.3 697.2L431.1 695.2L431.8 694.2L434.0 691.8L440.5 686.4L442.5 683.5L444.5 679.6L445.6 676.6L447.0 674.6L450.0 671.6L453.5 668.7L456.0 668.1L459.5 668.0L461.0 668.9L462.9 671.1L463.7 673.1L464.0 675.1L464.1 679.6L463.8 681.1L461.3 686.2L460.3 689.2L459.0 690.9L457.0 692.7L451.0 696.8L448.5 700.0L444.6 702.2L442.5 704.3L438.5 707.6L436.5 708.9L435.9 709.7L435.5 712.5L434.1 714.7L433.6 719.2L433.9 723.2L432.9 727.7L433.9 732.2L433.7 736.7L434.4 741.2L434.0 743.3L433.0 746.3L432.9 750.3L431.9 755.8L430.8 759.3L430.7 762.8L431.1 764.3L432.2 766.8L432.3 767.8L431.8 769.3L431.0 770.3Z"/>
<path d="M430.0 770.3L418.9 770.6L411.9 770.3L410.7 768.8L410.3 767.8L410.3 766.8L410.8 765.8L413.5 762.8L414.4 761.3L414.3 759.8L413.3 757.8L412.9 756.4L412.7 753.8L413.0 750.3L412.3 745.8L412.4 744.8L413.4 742.3L413.0 738.7L413.4 735.7L413.1 732.2L413.5 728.7L414.8 725.7L415.9 722.2L416.4 718.2L419.4 712.9L420.9 709.7L422.4 707.4L427.0 704.4L428.5 702.8L430.2 702.2L430.9 701.7L430.9 699.7L431.5 698.7L435.1 697.2L435.8 696.7L435.9 696.2L435.7 695.7L434.8 694.7L434.9 693.7L435.6 692.7L437.0 691.5L440.8 689.2L441.5 688.5L442.3 686.2L443.8 683.6L445.9 677.6L447.9 674.6L452.0 670.8L454.0 669.4L456.0 668.9L459.5 669.1L461.1 670.1L462.7 672.6L463.2 674.6L463.3 679.1L463.1 680.6L462.3 682.6L460.8 685.7L459.6 688.7L458.0 690.7L456.5 691.9L449.6 696.2L447.5 698.7L443.0 700.7L441.5 703.4L437.0 706.5L434.1 709.2L433.8 709.7L433.4 711.7L432.5 713.7L432.3 715.2L432.8 723.2L431.4 728.2L432.7 732.2L432.6 737.2L433.3 741.2L431.9 746.3L431.9 750.3L430.8 755.3L429.7 759.3L429.7 763.3L431.2 766.8L431.3 767.8L430.8 769.3L430.0 770.3Z"/>
<path d="M441.0 699.2L439.5 698.7L438.4 697.7L438.0 696.2L438.2 694.7L438.8 693.7L442.5 689.9L443.0 689.2L443.4 686.7L444.5 684.4L445.2 681.1L446.3 678.1L447.4 676.1L449.5 673.7L454.0 670.1L455.0 669.8L456.5 669.7L459.0 669.8L460.0 670.2L461.4 671.6L462.3 673.6L462.6 675.1L462.6 679.1L461.4 683.1L460.0 685.7L458.9 688.2L457.0 690.4L455.5 691.6L453.0 692.8L450.4 693.7L447.5 695.2L445.9 696.2L444.5 698.0L441.0 699.2ZM434.5 704.9L434.0 705.2L433.7 704.7L433.5 700.7L434.0 699.7L435.0 699.3L435.5 699.4L437.1 700.7L438.3 702.7L438.2 703.2L437.5 703.9L434.5 704.9ZM428.5 770.3L418.9 770.6L412.7 770.3L411.1 768.3L410.9 767.3L411.3 766.3L411.9 765.4L415.2 762.3L415.7 760.8L415.6 759.3L414.3 756.8L413.7 754.8L413.6 753.3L413.9 750.8L413.3 745.8L414.3 742.3L413.7 738.7L414.2 735.7L414.0 732.7L414.4 729.2L415.6 726.7L417.0 722.7L417.3 718.7L419.8 714.7L421.8 710.7L423.4 708.3L425.5 707.1L428.5 706.6L430.5 705.2L431.0 705.2L432.3 705.7L432.5 706.2L431.5 709.2L431.6 712.2L430.4 715.7L430.4 716.2L431.4 718.7L431.7 723.2L431.5 724.7L430.6 727.7L430.8 729.2L431.7 731.7L431.8 732.7L431.7 736.2L431.2 739.2L431.8 741.7L430.8 747.3L430.9 750.3L430.0 754.8L428.8 758.3L428.4 761.8L428.7 763.8L430.0 766.3L430.4 767.8L430.1 768.8L429.5 769.8L428.9 770.3L428.5 770.3Z"/>
<path d="M442.0 697.3L441.0 697.6L440.0 697.3L439.4 696.7L439.5 695.7L441.9 693.7L444.5 689.2L445.3 685.1L445.6 681.6L446.8 678.1L447.9 676.1L450.0 673.8L453.0 671.4L454.5 670.5L456.0 670.3L458.0 670.5L460.0 671.1L460.9 672.1L461.7 674.1L461.9 679.6L460.9 683.1L458.3 687.7L456.5 689.8L455.0 690.9L452.5 692.1L448.5 692.8L446.5 694.3L443.9 695.7L442.0 697.3ZM427.5 770.3L418.9 770.5L413.3 770.3L411.8 768.3L411.6 767.3L412.4 765.8L416.0 762.8L417.8 759.8L417.5 758.3L415.3 755.8L414.5 753.8L414.7 750.8L414.2 745.8L415.0 741.7L414.5 738.2L415.0 735.7L415.4 729.7L416.5 727.7L418.0 722.7L418.1 719.7L418.4 718.7L421.8 714.2L423.9 710.2L425.0 709.5L427.0 710.3L429.0 710.3L429.7 711.7L429.5 713.2L428.2 715.2L428.1 715.7L428.4 716.7L430.1 719.2L430.5 723.7L430.0 726.2L430.0 727.7L431.1 732.7L430.8 736.7L429.2 740.2L429.0 741.2L430.1 742.8L430.6 743.8L430.6 744.8L429.8 747.3L430.1 749.8L428.9 755.3L427.2 759.3L426.8 761.8L427.5 763.8L429.4 766.8L429.5 767.8L428.9 769.3L427.9 770.3L427.5 770.3Z"/>
<path d="M450.5 691.7L448.5 691.4L446.5 690.7L445.9 682.6L446.1 681.1L446.9 679.1L447.8 677.1L449.2 675.1L453.5 671.6L455.5 670.9L459.0 671.4L460.3 672.6L461.0 674.1L461.2 675.1L461.2 679.6L460.4 683.1L457.5 687.5L455.5 689.6L453.0 691.2L450.5 691.7ZM445.5 693.2L445.0 693.4L444.6 693.2L444.5 692.7L445.0 691.8L446.0 691.2L446.2 692.2L445.5 693.2ZM426.5 770.3L418.9 770.5L413.9 770.3L412.7 768.8L412.3 767.8L412.4 766.8L413.3 765.8L415.9 764.0L417.4 762.6L419.4 761.8L419.8 761.3L419.8 759.3L419.2 757.8L418.4 756.9L416.4 755.4L415.6 753.8L415.5 750.8L415.0 747.3L415.7 741.2L415.2 738.7L415.2 737.7L416.0 733.7L418.9 723.2L419.2 720.2L421.9 716.9L424.4 716.3L425.5 716.4L427.0 717.2L428.0 718.1L428.6 719.2L429.3 723.2L429.1 726.7L430.5 732.7L430.2 736.7L428.0 741.2L428.2 742.3L429.5 743.5L429.8 744.3L429.7 745.3L428.9 747.3L429.2 749.8L428.4 753.3L427.5 756.0L425.0 758.4L423.9 760.2L423.7 761.3L424.1 762.3L426.5 764.0L428.5 766.8L428.7 767.8L428.3 768.8L427.5 769.8L426.9 770.3L426.5 770.3Z"/>
<path d="M452.5 690.8L451.0 691.0L449.5 690.9L448.2 690.2L447.4 689.2L446.9 687.7L446.9 685.7L446.4 683.1L446.6 681.1L448.3 677.1L449.3 675.6L450.5 674.4L453.0 672.5L454.5 671.7L456.0 671.5L458.0 671.8L459.3 672.6L460.4 674.6L460.7 679.1L460.3 682.1L459.9 683.1L456.6 687.7L454.0 689.9L452.5 690.8ZM421.9 759.7L421.4 759.6L419.4 756.3L417.4 754.8L417.0 753.8L417.1 751.8L415.9 749.3L415.6 747.8L416.5 740.7L415.8 737.7L416.8 734.2L418.2 731.7L418.5 729.2L420.1 723.7L420.4 721.5L420.9 721.0L421.9 721.1L422.6 723.2L423.4 724.0L423.9 724.2L424.4 723.9L425.0 722.7L425.0 721.7L424.4 721.1L423.3 720.7L422.9 720.2L423.4 719.2L423.9 718.9L426.0 718.7L427.0 719.3L428.1 722.7L428.3 723.7L428.1 726.2L429.0 728.7L429.8 732.7L429.5 736.7L427.5 740.7L427.3 741.7L427.6 742.8L428.6 743.8L429.0 744.8L428.2 746.8L428.3 749.8L427.5 753.3L426.5 754.4L425.0 754.5L424.4 754.8L424.0 757.3L421.9 759.7ZM426.0 770.3L414.6 770.3L413.3 768.8L412.9 767.3L413.9 766.0L417.9 763.4L420.0 763.3L421.9 762.7L422.4 762.8L425.5 764.2L426.6 765.3L427.6 766.8L427.8 767.8L427.4 768.8L426.0 770.3Z"/>
<path d="M452.0 690.3L450.5 690.5L449.5 690.2L448.5 689.6L447.8 688.7L447.5 687.7L447.3 685.1L446.9 683.1L447.0 681.1L448.7 677.1L450.5 674.9L454.0 672.3L455.5 672.0L457.0 672.2L458.5 672.9L459.7 674.6L460.3 679.1L459.9 682.1L459.4 683.1L456.5 687.2L453.5 689.6L452.0 690.3ZM421.9 757.4L421.4 757.3L421.0 756.8L420.4 755.3L419.0 753.8L418.7 751.3L416.9 749.4L416.4 748.3L416.6 743.8L417.2 740.7L416.5 738.2L416.5 737.2L417.4 734.8L419.3 732.2L419.6 729.7L420.7 727.7L421.4 725.2L421.9 724.9L423.9 725.8L424.8 725.7L425.3 725.2L426.0 723.7L426.5 723.2L427.0 723.3L427.1 723.7L426.9 726.2L428.2 728.7L429.1 733.2L428.8 736.7L427.1 740.2L426.7 741.7L426.9 742.8L428.0 744.8L427.5 747.3L427.5 750.3L427.1 751.8L426.5 752.8L423.9 753.5L423.1 754.3L422.8 756.8L422.4 757.3L421.9 757.4ZM425.0 770.3L415.5 770.3L414.7 769.8L413.9 768.8L413.5 767.8L413.6 767.3L414.5 766.3L417.9 764.3L421.9 763.7L422.9 763.8L425.2 764.8L426.2 765.8L426.8 766.8L427.0 767.8L426.6 768.8L425.9 769.8L425.0 770.3Z"/>
<path d="M452.0 689.8L450.5 689.9L449.5 689.6L448.9 689.2L448.1 688.2L447.3 683.1L447.5 681.1L449.1 677.1L450.7 675.1L454.0 672.8L455.0 672.5L456.5 672.7L458.3 673.6L459.2 675.1L459.9 678.6L459.7 681.6L459.0 683.1L456.0 687.0L453.0 689.3L452.0 689.8ZM422.4 753.3L421.4 753.5L420.4 753.0L419.4 750.7L417.4 748.3L417.2 743.8L417.8 740.2L417.2 737.7L417.3 736.7L417.9 735.4L420.3 732.7L420.8 729.7L421.9 727.9L422.4 727.4L422.9 727.2L426.0 727.8L427.1 728.7L427.5 729.7L428.0 734.7L427.7 737.7L426.5 740.2L426.1 741.7L426.3 742.8L427.1 744.8L426.7 750.8L426.0 751.9L422.4 753.3ZM420.4 770.3L417.0 770.3L415.6 769.8L414.4 768.8L414.2 767.8L414.3 767.3L415.4 766.3L417.9 765.1L421.9 764.3L423.9 764.7L425.5 765.8L426.1 766.8L426.2 767.8L425.9 768.8L425.1 769.8L423.9 770.2L421.9 770.1L420.4 770.3Z"/>
<path d="M452.0 689.3L451.0 689.5L450.0 689.3L449.0 688.7L448.5 688.0L448.2 687.2L447.8 683.1L448.0 681.1L449.3 677.6L450.6 675.6L453.5 673.4L454.5 673.0L456.0 673.0L457.5 673.8L458.7 675.6L459.5 678.6L459.3 681.6L458.6 683.1L456.0 686.5L453.0 688.8L452.0 689.3ZM423.9 751.9L421.9 752.2L420.9 751.5L418.4 747.8L417.9 743.8L418.6 740.2L417.9 737.7L418.1 736.7L418.9 735.4L420.9 733.5L421.4 730.7L421.9 729.7L422.4 729.1L423.4 728.7L425.0 729.0L425.8 729.7L426.8 733.7L426.5 734.9L425.5 736.1L423.7 736.2L422.9 737.2L422.9 737.5L423.4 737.5L425.0 736.6L425.5 736.6L426.0 736.9L426.5 737.7L425.5 741.7L425.6 742.8L426.4 745.3L426.1 749.8L425.5 751.2L423.9 751.9ZM420.4 769.9L418.9 770.3L416.9 769.8L415.4 769.1L414.9 768.3L414.8 767.8L415.7 766.8L417.4 765.9L421.4 765.0L423.4 765.1L424.4 765.6L425.1 766.3L425.6 767.8L424.8 769.3L423.9 769.7L421.9 769.6L420.4 769.9Z"/>
<path d="M452.0 688.9L451.0 689.0L450.0 688.9L448.8 687.7L448.2 683.6L448.3 681.6L449.4 678.1L450.5 676.1L452.0 674.8L453.5 673.8L454.5 673.4L455.5 673.4L457.1 674.1L458.3 676.1L459.2 678.6L459.0 681.6L458.3 683.1L455.9 686.2L452.0 688.9ZM424.4 750.8L423.4 751.0L422.4 750.9L420.4 749.1L419.4 747.5L418.6 743.8L418.9 741.7L419.8 739.2L419.0 737.7L419.1 736.7L419.9 735.7L421.8 734.7L422.2 731.2L422.4 730.7L423.4 730.1L424.4 730.3L425.3 731.2L425.8 732.7L425.7 733.7L425.0 734.6L422.4 734.9L421.9 735.2L420.5 738.7L420.6 739.2L422.4 740.2L422.9 740.2L423.9 739.5L424.4 739.4L424.7 739.7L424.4 741.3L423.4 742.3L423.5 742.8L424.4 743.1L425.0 743.5L425.5 744.3L425.7 745.3L425.4 749.3L425.0 750.3L424.4 750.8ZM418.9 769.8L417.9 769.7L416.1 768.8L415.7 768.3L415.7 767.8L416.0 767.3L418.4 766.1L421.9 765.6L423.4 765.8L424.7 766.8L424.8 767.8L424.4 768.6L423.9 769.0L421.4 768.9L418.9 769.8Z"/>
<path d="M452.5 688.2L451.5 688.6L450.5 688.6L449.7 688.2L449.2 687.7L448.7 685.7L448.6 683.1L448.7 681.6L449.8 678.1L450.9 676.1L453.5 674.1L454.5 673.8L455.5 673.8L457.0 674.8L458.3 677.1L458.9 679.1L458.7 681.6L457.9 683.1L455.9 685.7L452.5 688.2ZM424.4 733.4L423.9 733.5L423.3 733.2L423.2 732.2L423.4 731.8L423.9 731.7L424.4 732.1L424.7 732.7L424.4 733.4ZM421.4 747.0L420.9 747.1L420.4 746.6L419.6 743.8L419.6 742.3L419.9 741.5L420.4 741.1L421.1 741.2L421.6 742.3L421.5 743.8L421.9 745.8L421.4 747.0ZM423.9 747.3L423.5 745.8L423.9 745.0L424.4 745.0L424.7 745.8L424.4 747.2L423.9 747.3ZM419.9 768.9L418.9 769.3L417.9 769.1L416.9 768.3L416.8 767.8L417.9 767.0L419.4 766.7L422.4 766.6L423.2 766.8L423.6 767.3L423.4 767.8L421.4 767.8L419.9 768.9Z"/>
<path d="M451.5 688.2L450.0 687.9L449.3 687.2L449.1 686.2L448.9 682.6L450.0 678.6L450.9 676.6L452.0 675.4L454.0 674.2L455.5 674.2L456.8 675.1L458.2 677.6L458.6 679.6L458.4 681.6L457.6 683.1L455.5 685.7L452.5 687.8L451.5 688.2Z"/>
<path d="M451.5 687.8L450.5 687.7L450.0 687.4L449.5 686.7L449.3 685.7L449.2 682.6L450.3 678.6L451.2 676.6L452.5 675.4L454.0 674.5L455.5 674.6L456.7 675.6L458.0 678.1L458.3 679.6L458.1 681.6L457.3 683.1L455.5 685.3L452.5 687.4L451.5 687.8Z"/>
<path d="M452.0 687.2L451.0 687.4L450.5 687.3L449.9 686.7L449.4 684.1L449.7 682.1L450.8 678.1L451.5 676.6L453.5 675.1L455.0 674.8L456.3 675.6L457.5 677.6L457.9 679.6L457.8 681.6L457.0 683.1L455.5 684.9L452.0 687.2Z"/>
<path d="M452.0 686.8L451.0 687.0L450.5 686.8L450.1 686.2L449.7 684.1L449.8 682.6L451.5 677.1L453.0 675.6L454.0 675.2L455.0 675.2L456.0 675.8L457.1 677.6L457.6 679.6L457.4 681.6L456.7 683.1L455.5 684.6L454.5 685.4L452.0 686.8Z"/>
<path d="M452.5 686.2L451.5 686.5L450.5 686.1L450.0 684.6L450.1 682.6L451.8 677.1L452.5 676.3L453.5 675.7L455.0 675.5L456.0 676.3L456.8 677.6L457.2 679.6L457.1 681.6L456.7 682.6L455.5 684.2L454.5 685.1L452.5 686.2Z"/>
<path d="M452.5 685.7L451.5 686.0L450.8 685.7L450.3 684.6L450.3 683.1L452.0 677.4L453.0 676.3L454.5 675.8L455.5 676.2L456.4 677.6L456.7 679.1L456.7 681.6L456.1 683.1L455.2 684.1L452.5 685.7Z"/>
<path d="M452.5 685.3L451.5 685.5L451.0 685.2L450.6 684.1L450.6 683.1L452.2 677.6L453.1 676.6L454.5 676.1L455.4 676.6L456.0 677.6L456.3 681.1L456.2 682.1L455.0 684.0L452.5 685.3Z"/>
<path d="M452.5 684.8L451.5 684.9L451.0 684.3L451.0 682.6L451.8 680.6L452.6 677.6L453.5 676.8L454.5 676.6L455.3 677.1L455.7 678.1L455.8 682.1L455.3 683.1L454.5 684.0L452.5 684.8Z"/>
<path d="M453.0 684.2L452.0 684.3L451.5 684.0L451.4 682.6L453.0 677.8L453.9 677.1L454.5 677.1L455.0 677.6L455.2 678.1L455.4 682.1L454.5 683.5L453.0 684.2Z"/>
<path d="M454.0 683.3L452.5 683.5L452.0 683.1L452.0 682.6L453.3 678.6L454.0 678.0L454.5 678.4L454.9 681.6L454.7 682.6L454.0 683.3Z"/>
</g>
<path d="M411.5,770.3 Q411.5,767.1 422.7,767.1 Q434.0,767.1 434.0,770.3" fill="none" stroke="#2a2a2a" stroke-width="1.4"/>
<rect x="405.9" y="657.1" width="112.3" height="113.2" fill="none" stroke="#6a6a6a" stroke-width="1.1"/>
<line x1="444.3" y1="657.1" x2="444.3" y2="770.3" stroke="#7a7a7a" stroke-width="1.0" />
<line x1="405.9" y1="714.7" x2="518.2" y2="714.7" stroke="#7a7a7a" stroke-width="1.0" />
<text x="407.4" y="675.6" font-size="14" text-anchor="start" font-weight="normal" fill="#231f20" stroke="#231f20" stroke-width="0.28" >10</text>
<text x="510.5" y="675.6" font-size="14" text-anchor="end" font-weight="normal" fill="#231f20" stroke="#231f20" stroke-width="0.28" >19</text>
<text x="508.3" y="761.6" font-size="14" text-anchor="end" font-weight="normal" fill="#231f20" stroke="#231f20" stroke-width="0.28" >0.45</text>
<text x="462.1" y="650.2" font-size="14" text-anchor="middle" font-weight="normal" fill="#231f20" stroke="#231f20" stroke-width="0.28" >Day 6</text>
<clipPath id="cp04"><rect x="528.0" y="658.6" width="112.3" height="111.7"/></clipPath>
<g clip-path="url(#cp04)" fill="#000" fill-opacity="0.013" stroke="#4a4a4a" stroke-width="0.42">
<path d="M567.6 770.3L535.0 770.7L527.9 770.3L527.6 762.3L527.6 744.3L527.7 720.7L528.0 712.3L529.8 711.2L530.1 710.2L530.1 708.7L530.5 707.7L531.5 706.6L534.0 704.7L536.5 700.1L540.5 697.2L545.0 694.2L550.1 692.1L554.6 688.8L561.6 685.0L566.3 679.1L567.9 676.1L569.1 674.6L572.6 671.9L575.0 669.6L579.1 667.2L584.1 663.7L589.2 661.4L591.7 660.8L595.2 661.2L600.2 663.3L602.0 664.6L604.8 668.6L605.9 671.1L606.7 674.6L607.8 677.1L607.8 678.1L605.5 684.1L603.7 687.6L602.7 688.5L599.2 690.6L596.7 692.8L595.7 693.4L591.2 695.3L584.7 697.2L581.6 698.5L578.1 699.0L573.1 700.8L566.0 704.2L562.6 707.0L562.1 707.7L562.0 708.7L562.3 709.7L563.0 710.7L564.1 711.4L567.4 712.2L571.6 712.8L574.1 713.7L577.1 715.2L580.1 716.0L581.6 716.8L588.2 722.7L588.6 723.7L589.6 728.2L589.4 729.2L588.5 731.7L588.9 735.2L588.2 737.7L587.5 742.2L587.8 747.8L586.9 752.3L586.7 754.8L586.4 755.8L585.2 757.3L582.4 759.8L576.6 766.0L573.2 767.8L571.1 769.2L567.6 770.3Z"/>
<path d="M545.5 707.8L544.5 707.9L543.5 707.6L543.0 707.2L542.7 706.2L542.9 702.2L543.5 700.8L547.1 698.7L550.1 697.8L552.6 695.7L554.2 694.7L556.4 692.7L559.3 691.7L566.6 687.7L567.5 686.1L568.1 683.1L570.1 680.8L571.6 677.3L575.6 674.1L577.7 671.1L580.1 669.2L583.1 666.2L589.7 662.9L592.2 662.4L594.7 662.7L596.7 663.4L599.7 665.1L601.2 666.6L603.3 670.6L604.2 673.6L604.4 676.1L604.2 677.6L602.4 682.1L601.1 685.1L600.2 686.3L597.9 687.7L595.2 689.8L592.2 691.5L589.7 692.2L586.7 693.7L583.6 694.4L581.1 695.4L576.6 695.8L574.6 696.3L572.6 697.3L569.6 697.8L567.6 698.9L564.6 701.0L561.7 701.7L559.6 702.6L557.1 703.2L556.1 703.9L555.1 706.4L554.1 707.1L552.6 707.1L550.1 706.2L547.6 707.3L545.5 707.8ZM546.5 770.3L535.0 770.5L530.5 770.3L529.0 768.3L528.0 767.4L527.7 759.8L528.0 720.0L529.5 719.1L532.0 718.9L533.0 718.5L536.5 716.1L539.5 715.0L542.0 712.6L543.0 712.2L544.5 711.9L547.1 712.9L549.1 713.0L551.1 713.6L557.1 713.8L562.1 714.3L572.1 716.3L574.6 718.2L579.3 720.7L581.9 723.2L582.8 724.7L583.8 729.2L583.6 730.5L582.7 732.2L581.4 738.2L581.5 739.2L582.1 740.8L582.2 742.8L581.3 747.3L581.3 750.8L580.4 753.3L579.6 756.3L579.1 757.0L578.2 757.8L574.7 759.3L574.4 761.3L573.6 762.3L569.1 764.2L567.1 765.2L564.6 765.3L563.6 765.8L561.0 767.8L557.6 767.7L554.1 768.4L551.6 769.5L548.6 769.7L546.5 770.3Z"/>
<path d="M569.1 694.2L567.6 694.3L565.9 693.7L565.4 692.7L565.8 691.2L568.1 688.8L570.1 687.3L571.6 685.8L572.2 684.6L572.7 682.1L573.3 680.6L575.1 678.8L576.4 676.6L578.0 675.1L578.5 673.1L579.1 672.1L581.1 670.2L583.1 667.6L584.1 666.8L588.7 664.4L590.2 663.7L591.7 663.5L594.2 663.6L595.7 664.0L598.2 665.5L599.6 666.6L601.0 668.6L602.0 670.6L603.1 675.6L602.8 677.1L601.9 679.1L600.1 682.6L599.0 684.1L595.7 686.1L592.3 689.2L591.2 689.8L586.2 691.0L583.6 690.9L580.6 692.0L578.1 691.7L575.1 692.9L572.1 692.5L569.1 694.2ZM539.5 770.3L532.5 770.3L531.5 769.4L530.0 767.4L528.0 765.5L527.8 759.8L528.0 728.2L530.5 725.5L532.4 722.2L533.5 721.2L535.5 720.1L538.0 719.3L542.0 716.8L545.0 715.8L547.6 715.6L551.1 716.0L557.6 715.6L561.1 715.8L563.1 716.1L568.1 717.6L571.1 718.1L572.1 718.5L574.1 720.3L576.8 722.2L579.2 726.2L579.8 727.7L579.7 729.7L578.9 732.7L578.1 734.0L576.5 735.2L576.3 735.7L577.1 737.7L577.2 740.2L578.6 742.8L577.7 746.8L577.8 747.8L578.7 749.8L578.7 750.8L578.5 751.3L577.6 751.9L575.6 752.3L575.1 752.9L573.6 755.8L570.6 758.8L569.6 759.4L568.1 759.8L566.1 761.7L564.6 762.6L562.1 763.5L559.6 763.7L557.8 764.8L555.6 765.6L551.6 765.9L548.6 767.7L544.5 769.4L541.0 769.7L539.5 770.3Z"/>
<path d="M581.6 689.7L580.1 689.7L577.6 688.9L575.1 689.0L574.2 688.2L573.8 687.2L573.9 686.1L574.6 684.3L576.2 683.1L576.1 681.1L576.9 679.6L577.6 678.9L580.1 678.2L580.8 677.6L581.1 676.6L580.2 673.6L580.6 672.6L583.8 668.1L589.2 664.9L591.2 664.3L593.7 664.4L595.2 664.6L596.7 665.4L598.3 666.6L599.6 668.1L600.8 670.1L601.4 671.6L601.9 674.6L602.0 676.1L601.6 677.6L600.7 679.3L597.7 683.0L592.1 686.1L590.2 688.0L586.2 689.0L583.6 689.1L581.6 689.7ZM536.5 769.8L534.5 769.9L533.5 769.6L532.5 768.9L528.7 764.3L528.0 763.1L527.9 762.3L528.0 739.1L529.7 736.7L530.3 733.2L531.7 730.7L532.0 728.2L533.3 726.2L533.5 724.2L534.0 723.2L535.5 722.2L539.0 721.0L541.0 719.4L544.5 718.9L546.5 717.5L547.6 717.2L551.1 718.1L555.6 717.9L558.1 717.0L560.6 716.9L562.1 717.3L564.6 718.8L565.6 719.1L567.6 719.4L570.1 719.4L571.2 719.7L572.1 720.7L572.7 722.2L574.3 724.2L575.3 726.2L577.1 728.2L577.3 728.7L577.1 729.3L575.1 730.2L574.7 730.7L573.9 732.7L572.8 734.2L573.1 735.7L574.4 738.7L574.5 746.8L574.2 748.3L571.2 755.3L569.1 756.9L567.1 757.9L565.4 760.3L564.1 761.2L562.6 761.5L560.1 760.6L558.5 760.8L556.6 761.7L554.1 763.8L553.1 764.1L550.6 764.1L548.1 765.8L546.0 766.6L543.5 768.3L540.5 768.9L538.0 769.7L536.5 769.8Z"/>
<path d="M582.1 687.7L580.6 687.8L579.6 687.2L579.2 686.1L579.1 684.6L579.6 683.2L581.4 681.6L581.9 680.6L582.4 677.1L581.6 674.6L581.5 673.6L583.0 670.1L585.2 667.9L589.7 665.3L591.2 664.9L593.7 665.0L595.2 665.3L596.2 665.8L597.9 667.1L599.1 668.6L600.1 670.1L600.7 671.6L601.1 674.6L601.1 676.1L600.6 677.6L599.8 679.1L598.2 680.9L596.2 682.4L594.2 683.6L591.1 684.6L589.1 686.1L585.7 687.4L582.1 687.7ZM537.5 768.8L535.0 769.1L533.3 768.3L532.0 766.9L529.3 763.3L528.3 761.8L528.0 760.8L528.0 758.3L529.0 756.8L529.3 755.8L528.8 753.3L529.4 750.3L528.8 744.8L529.2 742.2L529.6 741.2L531.0 739.2L531.7 735.7L534.2 730.2L534.8 727.7L536.0 725.6L537.3 724.2L539.5 723.2L541.5 721.2L542.5 720.7L546.0 720.3L548.1 719.0L550.6 719.5L556.1 719.7L557.6 719.3L559.1 718.2L560.1 718.1L561.6 718.7L563.6 720.5L566.1 720.7L567.1 721.1L570.6 724.5L572.1 725.6L572.9 726.7L573.3 727.7L573.3 728.7L572.6 730.1L572.1 730.7L570.6 731.7L570.1 732.7L570.4 734.2L571.8 737.2L571.5 741.2L572.2 744.3L572.1 745.3L571.7 746.3L570.2 748.3L570.7 749.8L570.7 750.8L568.6 753.0L566.6 753.7L566.1 754.2L565.8 756.8L565.1 758.1L564.1 758.9L563.1 759.0L560.1 758.7L557.1 759.5L555.6 760.3L553.6 761.9L550.1 762.4L547.6 764.1L545.5 764.6L543.9 766.8L543.0 767.4L537.5 768.8Z"/>
<path d="M585.7 685.2L584.7 685.3L583.6 685.0L582.8 684.1L582.7 683.6L583.5 680.6L583.5 677.6L582.5 674.6L582.4 673.6L583.4 670.6L584.1 669.6L585.7 668.3L589.7 665.8L591.2 665.5L593.2 665.5L594.7 665.6L595.7 666.0L597.6 667.6L599.1 669.6L599.9 671.1L600.3 672.6L600.4 675.1L600.2 676.6L599.6 678.1L597.9 680.1L594.7 682.2L585.7 685.2ZM538.0 767.8L535.5 768.3L534.5 768.1L533.5 767.4L530.0 762.8L529.2 761.3L528.9 760.3L529.0 759.3L530.2 757.3L530.5 755.8L530.2 753.3L530.7 750.3L530.4 744.8L530.5 743.3L531.1 742.2L533.0 741.1L533.8 740.2L533.9 739.7L533.1 738.2L532.9 737.2L533.5 736.2L534.9 735.2L535.1 734.7L535.0 732.2L535.5 731.2L537.0 729.2L537.6 727.2L541.4 724.2L543.0 722.1L544.0 721.7L547.1 721.5L549.1 720.7L552.1 720.6L557.6 720.9L560.6 720.3L563.1 721.8L566.1 721.9L567.1 722.7L568.1 724.2L570.1 728.7L569.9 729.7L568.7 731.2L568.4 732.2L569.6 736.2L569.5 737.2L568.7 738.7L569.7 742.2L569.7 744.8L569.3 745.8L567.9 747.8L567.1 751.0L564.6 753.3L563.1 755.1L562.1 755.2L561.1 756.0L559.1 756.6L557.0 758.3L554.6 759.4L550.1 760.9L546.0 761.8L544.5 763.3L543.3 765.8L542.5 766.7L541.5 767.1L538.0 767.8Z"/>
<path d="M585.7 683.2L585.2 683.1L584.8 682.6L584.3 677.1L583.1 674.1L583.3 672.1L583.9 670.6L584.8 669.6L586.7 668.1L590.2 666.1L593.7 665.9L595.7 666.5L597.4 668.1L598.8 670.1L599.6 671.6L599.8 675.1L599.5 676.6L598.8 678.1L596.8 680.1L593.7 681.9L591.2 682.6L587.7 682.8L585.7 683.2ZM536.5 767.4L535.0 767.4L533.5 766.3L530.7 762.3L530.3 760.8L531.6 755.8L531.5 753.3L531.7 752.3L532.8 749.8L534.5 749.1L535.6 746.3L535.3 745.3L534.0 744.3L533.6 743.8L533.6 743.3L534.5 742.2L535.5 741.7L537.5 741.2L537.7 740.7L536.8 738.7L536.6 737.7L538.2 735.7L536.5 733.6L536.3 732.7L536.5 732.1L537.0 731.5L539.0 730.6L539.3 730.2L539.8 728.2L540.2 727.2L541.2 726.2L543.9 724.7L544.5 723.4L545.0 723.0L548.1 722.9L550.1 721.9L551.6 721.7L554.1 722.0L560.1 721.8L563.1 723.1L565.6 723.1L566.2 723.7L567.1 725.7L567.4 729.7L566.7 732.2L567.6 734.2L567.7 735.2L567.1 736.0L564.6 735.8L563.6 736.0L563.1 736.3L562.7 737.2L563.1 738.2L564.1 739.3L567.1 741.6L567.7 742.8L567.6 745.3L565.6 750.6L563.1 752.8L560.6 753.6L558.4 754.8L556.6 757.3L555.1 758.2L554.1 758.2L553.6 757.9L552.6 755.8L552.1 755.4L551.1 755.5L550.5 756.3L550.4 758.3L550.1 759.0L549.1 759.6L546.5 759.7L545.5 760.2L541.9 765.8L540.8 766.3L536.5 767.4Z"/>
<path d="M592.7 681.7L590.2 682.0L587.2 681.8L586.2 681.4L585.5 680.1L584.9 677.1L583.9 674.6L583.7 673.6L583.9 671.6L584.9 670.1L588.7 667.3L590.2 666.5L591.2 666.3L594.2 666.4L595.2 666.7L596.2 667.3L598.6 670.6L599.4 673.1L599.2 675.6L598.1 678.1L597.2 679.1L595.2 680.6L592.7 681.7ZM536.5 766.4L535.5 766.4L534.5 766.1L533.5 765.1L532.7 763.8L531.9 761.8L532.0 757.8L533.2 754.8L533.4 753.3L535.9 750.3L536.5 747.8L537.0 746.7L538.0 745.7L540.5 745.4L541.0 745.1L541.5 744.3L541.5 743.3L541.0 741.1L539.9 739.7L539.6 738.7L540.2 737.7L542.0 736.2L542.5 735.2L542.3 733.2L542.8 730.7L542.3 728.7L542.5 727.8L544.5 727.2L546.5 726.2L549.1 724.0L550.6 723.3L551.6 723.4L553.1 724.7L555.6 723.5L557.1 723.1L559.6 722.9L561.1 723.4L562.3 724.2L564.4 726.2L565.0 727.7L564.8 729.7L564.1 730.3L562.6 730.0L560.1 728.6L559.6 728.4L559.2 728.7L559.4 729.2L560.7 730.7L561.7 734.2L561.5 735.2L560.1 738.2L560.1 739.9L560.6 740.6L562.6 741.6L563.7 742.8L565.1 743.6L565.8 744.8L565.6 746.3L564.3 748.3L563.4 750.8L562.1 751.9L557.6 752.8L556.6 753.3L555.8 754.3L555.6 756.3L555.1 756.7L554.6 756.5L553.8 754.8L553.1 754.3L551.6 754.0L550.6 754.3L549.7 755.3L548.6 757.8L548.1 758.1L546.5 758.3L545.5 758.6L545.0 759.3L543.7 761.8L542.0 763.5L539.0 765.5L536.5 766.4Z"/>
<path d="M592.7 681.2L589.7 681.5L587.7 681.2L586.7 680.7L585.8 679.1L585.3 676.6L584.2 673.6L584.4 671.6L585.5 670.1L588.7 667.7L590.2 666.9L591.2 666.7L594.2 666.7L596.0 667.6L598.1 670.6L598.9 673.1L598.8 675.6L597.7 677.9L595.0 680.1L592.7 681.2ZM562.6 727.8L560.7 726.7L560.2 725.7L560.3 725.2L560.6 725.1L561.1 725.2L561.6 725.7L562.9 727.2L562.8 727.7L562.6 727.8ZM538.0 764.8L537.0 765.1L535.5 765.2L534.5 764.7L534.0 764.2L533.4 762.8L533.5 760.8L532.8 757.8L535.1 752.8L537.6 750.3L537.7 748.3L538.5 747.1L540.0 746.9L542.0 747.4L543.1 748.3L544.5 748.7L546.0 748.3L546.0 747.8L545.0 747.0L544.0 747.0L542.5 747.4L542.2 746.8L543.0 742.6L543.5 742.1L545.0 741.4L545.7 740.7L545.8 740.2L545.5 740.1L544.0 740.0L543.0 739.5L542.3 738.7L542.1 738.2L543.5 735.2L543.6 733.2L544.0 732.0L544.5 731.1L545.4 730.2L546.5 729.5L547.6 729.3L548.1 729.5L548.5 730.2L548.5 732.7L548.7 733.7L549.6 734.8L550.1 735.0L550.6 734.8L551.1 733.8L551.4 732.2L551.1 731.2L550.0 729.7L549.9 729.2L550.3 728.2L551.6 727.1L553.6 726.5L555.6 725.4L556.1 725.3L556.6 725.7L556.8 726.2L557.1 729.2L556.4 731.2L556.1 733.2L555.1 733.9L554.5 734.7L554.4 738.2L554.6 738.6L555.1 738.8L557.1 738.7L558.1 739.1L560.1 742.2L560.7 744.3L561.5 745.8L561.4 747.3L561.8 749.3L561.7 750.3L561.1 750.8L560.1 750.8L557.6 749.8L555.6 750.5L554.6 750.7L552.0 749.8L549.1 749.6L548.8 749.8L549.1 750.8L549.6 751.1L551.1 751.2L551.4 751.8L550.1 752.5L547.7 756.3L545.5 756.8L544.8 757.3L544.3 758.3L543.5 760.8L542.5 762.1L539.5 763.7L538.0 764.8ZM559.1 735.8L557.8 735.2L556.4 733.7L556.6 733.2L558.6 732.2L559.6 732.4L560.3 733.7L560.1 735.2L559.1 735.8Z"/>
<path d="M593.2 680.7L591.7 681.0L590.2 681.0L588.2 680.8L587.2 680.3L586.4 679.1L585.8 676.6L584.7 673.6L584.9 671.6L586.0 670.1L588.2 668.4L590.2 667.2L591.2 667.0L594.2 667.1L595.7 667.8L597.7 670.6L598.6 673.1L598.5 675.1L597.7 677.1L595.2 679.5L593.2 680.7ZM554.1 730.9L553.6 731.1L553.1 730.8L552.1 729.7L551.9 729.2L552.0 728.7L552.6 728.2L554.6 727.7L555.1 727.9L555.1 728.7L554.1 730.9ZM548.6 738.5L546.5 738.3L544.5 738.7L543.5 738.2L543.5 737.2L545.0 734.1L545.5 733.5L546.0 733.4L546.5 733.5L548.0 735.2L548.9 737.2L548.6 738.5ZM555.1 749.3L554.1 749.3L549.6 747.0L547.1 746.6L545.2 745.3L544.9 744.8L545.1 743.8L546.5 742.7L547.6 742.6L549.1 742.8L550.3 741.2L551.4 740.7L556.6 740.3L557.1 740.4L557.8 741.2L558.1 742.2L557.1 743.4L556.9 745.3L558.1 747.3L557.7 747.8L555.1 749.3ZM546.5 754.0L544.5 754.3L543.5 754.0L542.9 753.3L542.6 752.3L542.9 750.8L543.6 750.3L545.5 749.8L546.5 749.9L547.0 750.3L547.5 751.3L547.6 752.3L547.3 753.3L546.5 754.0ZM537.0 763.9L535.5 763.8L534.5 763.0L533.6 757.8L534.0 756.8L535.2 755.3L535.9 753.3L536.5 752.7L537.5 752.3L538.0 752.4L538.5 752.8L539.4 754.8L542.5 757.5L543.0 758.3L543.2 759.3L542.8 760.8L542.0 761.6L537.0 763.9Z"/>
<path d="M591.2 680.7L588.7 680.4L587.2 679.6L586.7 678.6L585.2 673.6L585.2 672.1L585.6 671.1L587.0 669.6L589.7 667.8L591.7 667.3L594.2 667.4L595.7 668.3L597.3 670.6L598.2 673.1L598.2 675.1L597.2 677.1L595.0 679.1L593.2 680.3L591.2 680.7ZM546.0 736.8L545.5 736.9L545.3 736.7L545.5 736.1L546.0 735.9L546.4 736.2L546.0 736.8ZM554.6 747.9L554.1 747.8L553.4 747.3L552.6 745.8L552.2 742.8L552.6 742.3L553.1 742.1L554.1 742.0L554.9 742.2L555.7 743.3L555.6 746.2L555.1 747.5L554.6 747.9ZM537.5 762.4L536.0 762.7L535.3 762.3L534.4 758.3L534.8 757.3L536.2 755.8L537.0 754.3L537.5 754.3L540.5 756.7L541.8 758.3L542.2 759.3L542.1 760.3L541.2 761.3L537.5 762.4Z"/>
<path d="M592.2 680.2L589.7 680.2L588.7 680.0L587.7 679.5L586.9 678.1L585.6 672.6L586.1 671.1L588.2 669.0L590.7 667.7L593.2 667.6L595.0 668.1L596.4 669.6L597.6 672.1L597.9 674.6L597.5 676.1L596.7 677.1L593.7 679.6L592.2 680.2ZM537.0 761.3L536.2 761.3L535.8 760.8L535.3 759.3L535.3 758.3L535.6 757.8L537.5 756.3L538.5 756.3L540.0 757.4L540.8 758.8L541.0 759.8L540.7 760.3L540.0 760.6L538.5 760.8L537.0 761.3Z"/>
<path d="M592.7 679.7L590.2 679.9L588.8 679.6L588.0 679.1L587.4 678.1L586.1 672.6L586.5 671.1L587.8 669.6L590.2 668.3L592.2 667.8L594.2 668.0L595.7 669.1L597.1 671.6L597.6 673.6L597.5 675.1L596.7 676.6L593.7 679.1L592.7 679.7ZM537.0 759.5L536.5 759.3L536.7 758.8L537.0 758.6L537.5 758.7L537.0 759.5Z"/>
<path d="M592.7 679.2L591.7 679.5L590.2 679.6L589.2 679.4L588.2 678.7L587.6 677.6L586.6 672.6L586.9 671.1L588.2 669.7L590.2 668.6L592.2 668.1L594.2 668.4L595.3 669.1L596.5 671.1L597.3 673.6L597.2 675.1L596.7 676.1L592.7 679.2Z"/>
<path d="M591.7 679.1L589.7 679.1L588.7 678.6L588.3 678.1L587.0 672.1L587.6 670.6L588.7 669.6L591.2 668.5L593.2 668.4L594.7 669.0L595.7 670.1L596.8 672.6L597.0 674.6L596.7 675.6L595.7 676.6L593.2 678.5L591.7 679.1Z"/>
<path d="M591.7 678.7L589.7 678.7L588.7 677.8L587.5 672.6L587.5 671.6L587.9 670.6L589.2 669.6L591.2 668.8L593.2 668.7L594.4 669.1L595.4 670.1L596.5 672.6L596.7 674.6L596.3 675.6L595.7 676.3L593.2 678.0L591.7 678.7Z"/>
<path d="M591.7 678.3L590.2 678.3L589.2 677.6L587.9 671.6L588.3 670.6L589.7 669.6L591.7 669.0L593.2 669.0L594.5 669.6L595.3 670.6L596.4 673.1L596.4 674.6L595.9 675.6L595.2 676.3L593.2 677.6L591.7 678.3Z"/>
<path d="M592.2 677.6L590.7 677.8L589.6 677.1L588.2 671.6L588.7 670.6L589.7 669.9L591.2 669.4L592.7 669.3L593.7 669.5L594.7 670.2L595.9 672.6L596.2 674.1L595.9 675.1L595.2 675.9L592.2 677.6Z"/>
<path d="M592.2 677.2L590.9 677.1L590.2 676.6L589.2 674.1L588.6 671.6L589.1 670.6L589.7 670.2L591.2 669.7L592.7 669.6L593.7 669.8L594.6 670.6L595.6 672.6L595.8 674.1L595.7 674.7L595.0 675.6L592.2 677.2Z"/>
<path d="M592.2 676.7L591.2 676.5L590.2 675.3L589.3 673.1L589.0 671.6L589.2 671.1L590.2 670.4L592.7 669.9L593.7 670.2L594.5 671.1L595.4 673.1L595.5 674.1L595.2 674.9L594.4 675.6L592.2 676.7Z"/>
<path d="M593.7 675.7L592.2 676.1L591.2 675.6L590.2 674.2L589.7 673.1L589.4 672.1L589.7 671.1L590.7 670.5L592.2 670.3L593.2 670.4L594.1 671.1L595.0 673.1L595.1 674.1L594.7 674.9L593.7 675.7Z"/>
<path d="M593.7 675.2L592.2 675.4L591.1 674.6L590.0 672.6L590.0 671.6L590.4 671.1L592.2 670.6L593.2 670.9L593.7 671.3L594.4 672.6L594.7 673.6L594.3 674.6L593.7 675.2Z"/>
<path d="M593.2 674.8L592.2 674.6L591.2 673.8L590.5 672.6L590.7 671.6L592.2 671.1L593.2 671.4L593.7 672.0L594.2 673.6L594.0 674.1L593.2 674.8Z"/>
<path d="M593.2 673.9L592.2 673.8L591.5 673.1L591.3 672.1L591.7 671.8L592.7 671.8L593.2 672.2L593.6 673.1L593.2 673.9Z"/>
</g>
<path d="M528.0,770.3 Q528.0,767.1 539.2,767.1 Q550.5,767.1 550.5,770.3" fill="none" stroke="#2a2a2a" stroke-width="1.4"/>
<rect x="528.0" y="658.6" width="112.3" height="111.7" fill="none" stroke="#6a6a6a" stroke-width="1.1"/>
<line x1="578.2" y1="658.6" x2="578.2" y2="770.3" stroke="#7a7a7a" stroke-width="1.0" />
<line x1="528.0" y1="658.6" x2="640.3" y2="658.6" stroke="#222" stroke-width="1.6" />
<line x1="528.0" y1="714.7" x2="640.3" y2="714.7" stroke="#7a7a7a" stroke-width="1.0" />
<text x="528.9" y="676.6" font-size="14" text-anchor="start" font-weight="normal" fill="#231f20" stroke="#231f20" stroke-width="0.28" >6.4</text>
<text x="631.5" y="675.4" font-size="14" text-anchor="end" font-weight="normal" fill="#231f20" stroke="#231f20" stroke-width="0.28" >26</text>
<text x="631.5" y="764.2" font-size="14" text-anchor="end" font-weight="normal" fill="#231f20" stroke="#231f20" stroke-width="0.28" >0.49</text>
<text x="584.1" y="650.2" font-size="14" text-anchor="middle" font-weight="normal" fill="#231f20" stroke="#231f20" stroke-width="0.28" >Day 8</text>
<clipPath id="cp05"><rect x="651.1" y="659.5" width="112.5" height="111.7"/></clipPath>
<g clip-path="url(#cp05)" fill="#000" fill-opacity="0.013" stroke="#4a4a4a" stroke-width="0.42">
<path d="M691.1 771.2L679.6 771.5L659.8 771.2L651.5 764.2L651.1 763.7L651.1 763.2L650.8 751.2L650.9 727.1L651.1 722.3L655.8 720.1L662.1 717.8L667.4 716.6L671.6 715.2L674.1 714.7L679.6 714.1L684.6 712.6L690.1 712.2L695.1 711.2L700.4 709.1L708.6 704.7L710.1 704.2L715.1 703.8L720.6 704.2L722.1 704.7L726.1 706.8L731.5 711.1L732.0 712.1L731.8 714.6L732.2 717.1L732.0 720.1L732.3 723.1L731.5 727.1L730.5 730.1L729.1 732.3L727.9 735.1L727.2 736.1L724.4 739.1L721.6 741.1L715.1 742.5L711.6 742.4L708.1 741.3L707.1 741.4L706.1 742.0L705.6 742.6L705.3 743.7L705.2 749.7L704.7 753.2L702.8 758.7L700.6 763.2L699.1 765.1L696.6 766.7L694.6 768.7L691.5 771.2L691.1 771.2Z"/>
<path d="M681.6 771.2L674.0 771.2L671.1 770.3L668.1 770.3L664.1 769.3L661.1 767.8L658.6 765.9L653.1 759.2L652.2 757.2L651.9 753.7L651.1 751.8L651.1 741.1L651.1 740.6L652.6 738.6L653.1 736.5L654.4 734.6L655.5 731.1L655.4 730.1L654.3 728.1L654.7 727.1L656.8 725.1L659.6 724.2L662.1 721.9L667.8 719.1L670.6 718.3L673.1 718.2L675.6 717.3L681.1 717.1L685.1 715.5L689.6 715.3L692.6 714.7L695.1 714.5L697.6 713.0L701.3 711.6L709.1 707.5L712.6 706.4L715.1 706.2L718.1 706.7L724.1 709.2L726.5 710.6L727.8 712.1L728.5 715.6L729.5 722.6L729.2 726.6L728.6 728.1L727.1 730.4L725.6 733.6L722.6 737.1L721.1 738.1L719.6 738.5L716.6 738.4L714.1 739.3L711.6 739.0L708.1 737.1L706.1 736.2L705.3 735.6L702.3 731.1L701.2 728.6L699.1 726.5L698.1 726.0L697.1 725.9L692.6 726.8L692.1 727.1L692.1 728.1L692.4 729.1L693.8 732.6L696.6 735.1L699.8 738.6L700.6 740.1L701.1 742.6L701.2 746.7L701.5 749.2L700.9 754.2L699.9 757.2L697.1 762.6L694.6 764.7L692.6 766.8L687.1 770.2L685.6 770.6L683.6 770.5L681.6 771.2Z"/>
<path d="M681.1 769.3L679.6 769.6L676.6 769.1L674.1 769.3L670.1 768.5L666.6 768.4L665.6 768.1L664.3 767.2L662.1 764.3L659.6 763.3L658.6 762.4L657.1 760.7L655.6 758.1L654.1 756.2L653.7 755.2L653.1 751.2L652.6 746.2L652.9 742.1L653.4 741.1L655.4 739.1L656.6 737.1L658.5 736.1L659.0 735.6L659.3 734.1L660.4 731.6L660.6 729.0L661.6 728.3L664.1 728.3L665.6 727.7L665.9 726.6L665.2 725.1L665.4 724.1L666.6 723.1L670.6 721.0L673.6 720.6L676.1 719.6L677.1 719.4L678.6 719.4L681.1 720.0L683.1 718.7L684.6 718.2L686.1 718.3L689.6 719.7L690.1 719.6L692.1 718.4L693.1 718.3L694.6 718.7L695.1 718.6L696.1 717.9L699.6 714.6L709.6 709.2L714.1 708.1L716.1 708.0L720.6 709.5L724.7 711.6L725.9 713.1L727.1 717.6L727.8 722.6L727.6 726.1L724.8 732.1L721.6 735.3L720.1 736.3L718.6 736.5L715.6 736.3L714.1 737.2L713.1 737.5L712.1 737.3L711.1 736.7L706.6 733.2L701.6 725.6L700.1 723.8L698.6 722.5L696.6 721.5L695.1 720.0L694.6 719.8L692.6 720.7L690.6 720.4L690.1 720.5L688.9 722.6L685.9 724.1L685.6 724.6L685.6 725.1L686.1 725.7L687.4 726.6L687.7 727.1L687.6 729.7L687.9 730.1L689.8 731.1L691.2 733.1L693.7 735.6L696.3 739.1L698.2 743.1L699.3 748.7L699.4 750.2L698.3 755.7L695.5 761.2L693.6 762.7L692.0 764.7L690.7 765.7L686.6 767.6L683.6 768.1L681.1 769.3Z"/>
<path d="M713.1 735.2L712.1 735.2L710.6 734.4L708.6 731.9L706.6 730.5L705.7 729.6L703.4 726.1L702.5 724.1L701.0 722.1L700.0 719.1L700.1 718.1L701.8 715.6L705.6 713.8L708.0 711.6L709.1 710.9L710.1 710.6L712.6 710.6L715.1 709.8L719.1 710.3L721.2 711.1L723.0 712.6L726.0 717.6L726.3 719.6L726.4 722.1L725.4 727.1L724.6 730.1L724.2 731.1L720.6 734.3L718.6 735.0L715.1 734.6L713.1 735.2ZM674.6 723.7L673.8 723.6L673.9 723.1L674.6 722.6L675.6 722.4L675.8 722.6L674.6 723.7ZM681.1 767.7L674.1 768.1L666.1 766.7L665.1 765.9L663.1 763.1L659.6 761.4L658.2 760.2L654.9 754.2L654.7 749.7L654.9 745.7L655.8 741.6L657.7 738.6L659.8 737.1L660.8 736.1L663.6 731.1L666.6 729.3L667.4 728.6L667.8 727.6L668.2 725.1L668.6 724.6L669.6 724.1L671.1 723.9L672.1 724.3L673.7 726.6L675.6 727.7L681.1 728.6L683.1 728.6L684.1 729.0L684.8 731.1L685.2 731.6L688.6 732.6L691.2 735.1L693.0 737.6L694.9 739.6L696.7 743.1L696.9 745.2L696.7 748.2L697.3 750.7L697.3 752.2L696.5 755.7L694.6 759.7L689.1 764.1L685.5 766.2L681.1 767.7Z"/>
<path d="M719.6 733.2L717.6 733.5L711.6 733.4L710.6 732.7L709.1 731.0L706.6 729.1L704.6 725.6L703.9 723.1L702.9 721.6L702.9 720.6L703.6 719.6L705.2 718.6L706.2 716.1L707.0 714.6L708.6 712.8L709.6 712.1L713.1 711.9L716.1 711.3L719.6 711.7L721.6 713.1L723.2 715.6L725.1 717.9L725.4 719.1L725.4 720.6L723.6 729.6L722.5 731.1L719.6 733.2ZM678.6 766.7L673.6 767.1L670.6 766.4L668.9 765.7L667.6 764.0L665.6 763.7L663.1 761.8L660.1 760.5L659.1 759.8L658.3 758.7L656.3 754.2L656.1 749.7L656.5 747.2L656.4 745.2L657.3 741.6L658.9 739.1L660.8 737.6L662.8 735.6L664.6 732.6L665.7 731.6L667.1 730.9L668.6 730.7L670.1 731.7L671.1 732.0L672.1 731.5L674.1 729.8L675.6 729.5L678.1 729.8L682.1 731.0L684.1 732.7L685.1 733.1L687.6 733.5L688.7 734.1L691.5 737.6L693.9 740.1L695.4 743.1L695.3 745.2L694.0 748.2L694.3 749.2L695.9 751.2L696.1 752.7L695.3 755.7L693.6 758.7L691.6 760.4L687.2 762.7L685.4 764.7L683.9 765.7L681.6 766.5L678.6 766.7Z"/>
<path d="M717.6 732.2L713.1 732.3L711.1 731.8L707.4 728.6L705.7 725.1L705.3 721.6L707.0 718.6L707.5 715.6L708.6 713.9L710.1 712.9L716.6 712.4L719.1 712.9L721.1 714.2L724.4 718.6L724.4 720.1L723.7 722.1L723.6 725.6L722.4 729.1L721.7 730.1L720.6 731.0L717.6 732.2ZM674.1 766.2L672.6 766.0L670.6 765.3L668.1 762.7L665.1 762.0L662.6 760.4L660.1 759.4L659.4 758.7L657.4 753.7L657.3 749.7L657.7 747.2L657.6 745.2L658.3 742.1L659.1 740.6L663.4 736.6L666.1 733.7L667.6 732.9L670.1 733.4L671.1 733.3L672.1 732.9L674.6 731.2L677.1 730.9L679.6 731.5L683.7 733.6L687.6 734.5L688.8 735.6L690.1 737.7L692.7 740.1L693.9 742.6L694.2 744.2L693.9 745.7L693.0 747.7L693.0 748.7L693.3 749.7L694.9 751.7L695.1 752.7L694.4 755.2L692.5 758.2L691.1 759.3L686.2 762.2L683.1 764.8L681.6 765.4L674.1 766.2Z"/>
<path d="M717.1 731.2L714.6 731.4L711.6 731.0L709.1 729.1L707.9 727.6L706.6 724.1L706.4 722.1L707.9 719.1L708.3 715.6L709.1 714.3L710.1 713.6L711.6 713.3L716.1 713.2L718.1 713.5L720.6 715.2L723.0 718.6L723.1 719.6L722.6 721.6L722.9 724.6L722.4 726.6L721.2 728.6L720.3 729.6L717.1 731.2ZM678.1 764.7L674.1 765.2L672.6 764.9L671.1 764.2L668.7 762.2L665.6 761.4L663.1 759.6L660.6 758.5L659.8 757.7L658.9 755.7L658.3 754.2L658.1 752.7L658.6 745.2L659.4 742.1L660.2 740.6L665.1 736.2L667.1 734.9L668.6 734.4L671.4 734.1L674.6 732.4L676.6 732.0L679.1 732.3L682.1 734.0L686.6 735.0L688.1 736.0L689.6 738.6L692.0 740.6L692.9 742.6L693.3 744.7L692.4 747.7L692.3 748.7L692.6 749.8L693.8 751.7L694.1 752.7L693.5 754.7L690.2 758.7L687.1 760.9L681.6 763.9L678.1 764.7Z"/>
<path d="M717.1 730.2L715.1 730.5L711.6 730.1L710.2 729.1L709.0 727.6L708.4 725.1L707.4 723.1L707.3 722.1L708.9 718.6L709.0 715.6L709.8 714.6L710.6 714.1L712.1 713.9L716.1 713.8L717.5 714.1L718.8 715.1L720.6 717.0L721.3 718.1L721.4 719.1L721.2 721.1L722.1 724.1L721.8 725.6L719.1 729.0L717.1 730.2ZM678.1 763.7L674.6 764.1L673.1 763.9L669.1 761.7L665.6 760.6L663.6 758.9L660.6 757.2L659.3 754.7L658.9 752.2L659.4 745.2L660.2 742.1L661.1 740.8L665.2 737.1L667.1 735.9L668.6 735.4L671.6 734.8L675.1 733.4L677.6 733.0L679.1 733.3L682.1 735.1L686.2 735.6L687.6 736.6L689.1 739.2L691.2 741.1L692.4 743.7L692.6 745.2L691.8 747.7L691.7 748.7L692.1 750.2L693.1 752.7L692.6 754.1L690.7 755.7L689.7 757.7L687.0 760.2L681.6 762.8L678.1 763.7Z"/>
<path d="M717.1 729.1L715.1 729.5L712.1 729.2L711.0 728.6L710.1 727.3L709.4 724.6L708.4 723.1L708.2 722.1L708.5 721.1L710.0 718.1L710.0 715.6L711.1 714.7L713.1 714.4L716.7 714.6L717.6 715.2L720.3 718.6L720.3 721.1L721.3 723.6L721.3 724.6L720.8 725.6L718.6 728.0L717.1 729.1ZM676.1 763.2L673.6 763.1L670.1 761.4L666.6 760.4L661.1 756.4L660.2 754.7L659.8 752.7L659.9 746.2L661.2 741.6L666.1 737.5L669.6 735.9L674.1 734.7L678.1 734.2L679.1 734.5L681.1 735.9L682.1 736.1L685.6 736.2L686.6 736.6L687.2 737.1L688.9 740.1L691.1 742.6L691.9 744.2L691.9 745.7L691.2 748.2L692.0 752.7L691.6 753.5L690.1 755.0L688.6 757.5L686.6 759.7L680.6 762.4L676.1 763.2Z"/>
<path d="M716.6 728.2L714.6 728.3L712.6 727.9L711.6 727.4L710.9 726.6L710.2 724.1L709.0 722.1L709.5 720.6L711.4 718.1L711.4 716.1L711.6 715.6L712.6 715.1L715.1 715.0L716.6 715.5L717.7 717.1L719.1 718.5L719.4 719.1L719.5 721.6L720.5 723.6L720.4 724.6L718.1 727.3L716.6 728.2ZM678.6 762.2L675.6 762.6L674.1 762.6L670.6 760.7L667.1 760.0L662.2 756.2L661.3 754.7L660.6 751.2L660.5 746.2L661.7 742.1L662.6 741.1L666.1 738.8L669.6 736.6L670.6 736.3L674.6 735.4L678.1 735.9L681.6 737.1L684.6 736.8L685.6 737.0L687.0 738.1L688.9 741.6L690.6 743.4L691.3 744.7L691.3 745.7L690.7 748.2L691.1 752.2L690.7 753.2L688.3 756.7L686.6 758.7L685.6 759.5L683.6 760.2L681.1 761.6L678.6 762.2Z"/>
<path d="M716.6 727.2L714.6 727.2L712.6 726.7L711.7 726.1L711.2 725.1L710.9 723.1L710.1 721.6L710.6 720.8L711.1 720.5L711.6 720.5L712.6 721.1L713.1 721.1L714.1 720.0L714.7 718.6L713.4 717.1L713.2 716.6L713.5 716.1L714.1 715.9L715.6 716.1L716.5 717.6L718.2 719.1L718.5 719.6L718.5 721.6L719.6 723.6L719.7 724.1L719.2 725.1L717.6 726.7L716.6 727.2ZM677.6 761.7L675.6 762.1L674.1 762.0L670.6 759.9L668.1 759.7L666.9 759.2L663.8 756.7L662.9 755.7L661.6 751.2L661.2 746.2L662.5 742.1L663.6 741.3L666.6 740.0L670.1 737.2L671.6 736.6L674.6 736.2L681.6 737.9L684.6 737.9L685.6 738.1L687.1 739.8L688.3 743.1L690.1 744.4L690.5 745.2L690.2 747.7L690.5 751.7L689.9 753.2L688.1 755.9L685.6 758.6L683.1 759.5L681.6 760.7L680.6 761.2L677.6 761.7Z"/>
<path d="M716.6 726.3L715.1 726.3L713.1 725.8L712.2 725.1L712.1 724.6L712.6 723.6L714.2 722.6L715.6 720.3L716.6 719.8L717.1 720.2L717.5 722.1L718.7 724.1L718.1 725.3L716.6 726.3ZM676.6 761.3L675.1 761.5L674.1 761.4L670.6 759.1L668.1 759.1L667.1 758.5L663.8 755.7L662.2 750.7L661.9 746.2L663.1 742.8L663.6 742.3L666.1 741.4L670.6 737.7L672.1 737.2L675.1 737.0L677.1 737.7L681.1 738.4L685.6 739.8L686.4 740.6L686.8 742.6L687.3 743.7L689.1 745.2L689.6 746.2L689.9 751.2L689.4 752.7L687.6 755.6L685.5 757.7L682.6 758.7L680.6 760.5L676.6 761.3Z"/>
<path d="M716.6 725.2L715.1 725.1L714.7 724.6L714.9 724.1L715.6 723.4L716.6 723.4L717.3 724.1L717.3 724.6L716.6 725.2ZM676.1 760.8L675.1 761.0L674.1 760.8L670.6 758.3L668.1 758.3L665.0 756.2L664.2 755.2L663.9 754.2L662.8 750.2L662.5 747.7L662.6 745.7L663.6 744.0L665.6 742.9L668.6 740.2L670.6 738.7L671.6 738.2L674.1 737.8L675.1 737.9L677.1 738.5L679.6 738.5L681.1 738.8L682.8 739.6L685.0 741.1L685.4 741.6L686.2 743.7L688.5 746.7L689.4 750.2L689.2 751.7L688.0 754.2L687.1 755.3L685.6 756.7L684.6 757.3L682.1 758.2L680.1 759.7L676.1 760.8Z"/>
<path d="M675.6 760.3L674.6 760.3L673.6 760.0L670.6 757.5L668.1 757.4L665.1 755.4L664.5 754.2L663.3 749.2L663.0 747.2L663.2 746.2L663.7 745.2L665.6 744.0L668.6 740.8L671.1 739.2L674.1 738.6L677.1 739.0L680.1 738.9L682.1 739.8L684.4 742.1L685.1 744.5L686.6 745.7L688.1 748.0L688.7 749.7L688.7 751.2L687.1 754.3L684.6 756.6L682.1 757.6L680.1 758.7L675.6 760.3Z"/>
<path d="M676.1 759.4L674.6 759.7L673.6 759.4L671.1 757.1L670.1 756.7L668.1 756.5L665.6 754.9L665.1 754.0L664.7 751.7L663.7 748.7L663.7 746.7L664.1 745.9L666.1 744.6L668.1 741.8L670.6 740.0L674.1 739.1L676.6 739.5L680.1 739.3L681.8 740.1L683.1 741.6L683.6 742.6L683.6 744.2L684.0 745.2L684.6 745.8L686.1 746.6L687.0 747.7L687.9 749.7L688.0 751.2L686.2 754.2L684.1 756.1L680.1 758.1L677.6 758.7L676.1 759.4Z"/>
<path d="M675.6 758.8L674.6 759.0L673.6 758.7L671.1 756.4L668.6 755.7L666.6 754.7L665.9 753.7L665.7 751.7L664.3 748.7L664.3 747.2L664.6 746.6L666.1 745.6L668.1 742.4L669.6 741.1L670.6 740.5L674.1 739.6L676.6 739.9L679.1 739.5L680.1 739.6L681.2 740.1L682.1 741.1L682.6 742.1L682.8 744.2L683.2 745.2L684.1 746.4L685.6 747.3L686.3 748.2L687.0 749.7L687.1 751.2L685.2 754.2L683.7 755.7L680.1 757.6L677.6 758.1L675.6 758.8Z"/>
<path d="M675.1 758.2L673.6 758.0L671.8 756.2L668.6 755.1L667.4 754.2L667.0 753.2L666.9 751.2L665.3 749.2L665.1 747.7L666.6 746.4L668.1 743.1L670.4 741.1L674.1 740.0L676.6 740.2L679.1 739.9L680.1 740.0L681.1 740.5L681.6 741.1L682.0 742.1L682.3 744.7L684.1 747.3L685.7 748.7L686.3 750.2L686.2 751.2L684.4 754.2L683.1 755.3L680.1 757.1L675.1 758.2Z"/>
<path d="M676.6 757.3L675.1 757.5L674.1 757.3L672.1 755.7L669.1 754.7L668.1 753.9L667.7 753.2L667.7 752.2L668.9 749.7L668.6 748.8L667.7 747.7L667.7 745.2L668.0 744.2L668.7 743.1L670.1 741.9L671.5 741.1L674.1 740.3L676.6 740.6L679.6 740.2L680.6 740.6L681.1 741.1L681.4 742.1L681.3 744.2L681.5 744.7L682.9 746.7L683.6 748.7L685.1 749.7L685.4 751.2L684.1 753.5L682.9 754.7L680.1 756.5L676.6 757.3Z"/>
<path d="M677.1 756.7L675.6 756.9L674.6 756.6L672.1 755.2L669.6 754.5L668.6 753.7L668.3 753.2L668.4 752.2L669.7 750.2L669.9 749.2L668.4 746.7L668.3 745.2L668.6 744.2L670.0 742.6L673.1 740.9L674.6 740.7L676.6 740.9L679.6 740.6L680.6 741.1L680.8 741.6L680.6 744.9L682.3 746.7L682.4 749.2L683.1 750.0L684.1 750.7L684.3 751.7L683.6 753.1L682.6 754.1L679.6 756.0L677.1 756.7Z"/>
<path d="M677.1 756.2L676.1 756.4L675.1 756.3L672.6 754.9L669.9 754.2L668.9 753.2L669.0 752.2L670.1 750.6L670.7 749.2L670.5 748.2L669.1 746.2L669.2 745.2L671.2 742.6L673.6 741.1L674.6 741.0L676.6 741.3L679.1 740.9L680.1 741.3L680.4 742.1L680.4 742.6L679.5 744.7L679.5 746.2L680.1 746.6L681.1 746.8L681.4 747.2L681.7 749.2L683.2 751.7L683.1 752.3L682.5 753.2L681.6 753.6L679.6 753.9L678.8 755.2L677.1 756.2Z"/>
<path d="M677.1 755.7L676.1 756.0L675.1 755.8L672.6 754.5L670.1 753.8L669.5 753.2L669.6 752.2L671.1 749.7L671.6 747.2L672.2 745.7L672.0 743.1L672.7 742.1L674.1 741.5L676.6 741.8L678.6 741.4L679.6 741.6L679.8 742.6L678.3 745.2L678.5 746.7L679.1 747.6L680.6 748.6L681.9 751.2L681.9 752.2L681.1 752.6L679.1 753.0L677.9 755.2L677.1 755.7Z"/>
<path d="M677.1 755.2L676.1 755.6L675.1 755.4L672.6 754.1L670.6 753.4L670.1 752.7L671.7 749.7L673.2 745.7L673.2 744.7L672.9 743.7L673.1 742.6L674.1 742.0L675.3 742.1L676.7 743.1L676.5 744.2L678.1 747.5L680.2 749.2L680.9 750.7L681.0 751.2L680.6 751.7L678.6 752.6L677.6 754.7L677.1 755.2ZM678.1 743.2L677.3 743.1L677.4 742.6L678.6 742.3L678.7 742.6L678.1 743.2Z"/>
<path d="M676.6 755.0L675.1 755.0L671.5 753.2L671.0 752.7L671.2 751.7L673.3 747.2L674.6 745.1L675.6 745.3L676.6 746.0L677.8 748.2L679.6 749.4L680.1 750.2L680.1 750.7L679.8 751.2L678.2 752.2L677.4 754.2L676.6 755.0Z"/>
<path d="M676.1 754.7L675.1 754.7L674.2 754.2L672.2 752.7L671.9 752.2L672.1 751.2L673.7 747.7L674.4 746.7L675.1 746.2L676.1 746.6L677.1 748.3L678.8 749.7L679.1 750.2L679.0 750.7L677.6 752.1L676.9 754.2L676.1 754.7Z"/>
</g>
<path d="M656.7,771.2 Q656.7,768.0 666.3,768.0 Q675.9,768.0 675.9,771.2" fill="none" stroke="#2a2a2a" stroke-width="1.4"/>
<rect x="651.1" y="659.5" width="112.5" height="111.7" fill="none" stroke="#6a6a6a" stroke-width="1.1"/>
<line x1="702.8" y1="659.5" x2="702.8" y2="771.2" stroke="#7a7a7a" stroke-width="1.0" />
<line x1="651.1" y1="730.9" x2="763.6" y2="730.9" stroke="#7a7a7a" stroke-width="1.0" />
<text x="652.6" y="676.6" font-size="14" text-anchor="start" font-weight="normal" fill="#231f20" stroke="#231f20" stroke-width="0.28" >5.3</text>
<text x="755.3" y="678.4" font-size="14" text-anchor="end" font-weight="normal" fill="#231f20" stroke="#231f20" stroke-width="0.28" >15</text>
<text x="755.9" y="765.6" font-size="14" text-anchor="end" font-weight="normal" fill="#231f20" stroke="#231f20" stroke-width="0.28" >9.8</text>
<text x="707.4" y="650.2" font-size="14" text-anchor="middle" font-weight="normal" fill="#231f20" stroke="#231f20" stroke-width="0.28" >Day 10</text>
<clipPath id="cp10"><rect x="44.9" y="800.7" width="111.2" height="111.9"/></clipPath>
<g clip-path="url(#cp10)" fill="#000" fill-opacity="0.013" stroke="#4a4a4a" stroke-width="0.42">
<path d="M77.0 912.6L73.0 912.9L63.9 913.0L52.4 912.6L52.5 909.6L53.4 905.1L56.3 898.0L59.3 892.5L65.8 882.5L68.9 879.0L72.4 874.6L75.6 872.0L79.0 868.1L86.5 862.8L93.5 859.5L95.0 859.0L96.5 858.9L99.0 859.0L100.0 859.3L102.8 861.9L103.7 863.4L104.2 865.4L104.2 869.9L102.2 876.5L98.4 885.5L94.6 892.0L90.2 898.5L82.5 907.6L77.0 912.6Z"/>
<path d="M73.5 912.6L63.9 912.9L56.4 912.6L56.0 908.6L56.1 906.1L57.4 902.1L58.3 898.5L67.0 883.5L70.5 880.0L73.7 876.0L77.0 873.2L79.7 869.9L85.0 866.1L87.5 864.8L90.5 863.9L96.5 863.1L97.5 863.2L98.3 863.9L99.2 865.9L100.4 867.9L100.9 869.4L101.0 871.5L100.8 873.0L99.2 876.0L98.5 880.5L96.6 884.5L93.4 890.5L88.1 898.5L81.8 905.6L79.1 907.6L75.5 911.3L73.5 912.6Z"/>
<path d="M70.4 912.6L63.9 912.8L58.5 912.6L57.8 907.1L58.0 905.1L59.6 899.1L62.9 893.2L64.1 890.5L67.9 884.0L71.9 880.1L74.8 876.5L77.5 874.3L81.5 870.2L86.5 867.1L88.0 866.5L94.0 865.3L95.0 865.3L96.0 865.6L98.7 868.4L99.3 869.9L99.5 871.5L99.2 872.5L97.9 875.5L97.3 880.5L93.0 889.0L87.1 898.0L82.0 903.8L80.6 905.1L78.5 906.6L76.5 908.8L74.5 910.5L70.4 912.6Z"/>
<path d="M68.9 912.6L61.3 912.6L60.6 911.6L59.6 909.1L59.2 907.1L59.3 905.6L60.7 899.1L63.8 893.5L64.8 891.0L66.4 888.3L67.8 885.5L68.5 884.5L72.6 880.5L75.5 877.0L83.5 870.0L88.0 867.9L91.0 867.8L94.0 866.7L95.5 867.0L97.1 868.4L97.8 869.4L98.1 871.5L97.0 875.3L96.4 880.0L92.5 888.3L86.1 898.0L82.0 902.6L74.1 909.6L68.9 912.6Z"/>
<path d="M64.4 912.2L63.4 912.1L62.8 911.6L60.5 908.1L60.4 906.1L61.0 901.1L61.8 898.5L64.6 893.5L68.5 885.5L73.0 881.0L76.0 877.4L84.4 870.4L87.5 869.2L88.5 869.0L91.0 869.2L94.0 867.9L94.5 867.9L95.5 868.4L96.3 869.4L96.7 871.0L96.2 875.5L95.4 880.0L92.1 887.5L90.3 890.0L85.6 897.5L81.5 902.2L73.5 909.1L67.9 911.8L64.4 912.2Z"/>
<path d="M68.9 910.2L67.4 910.5L65.9 910.2L64.4 910.4L63.4 910.0L61.7 908.1L61.3 906.1L61.8 901.1L62.3 899.1L65.4 893.5L68.6 886.5L76.5 877.7L85.0 871.0L87.0 870.3L88.5 870.2L90.5 870.4L94.0 869.4L94.5 869.7L94.8 870.4L94.7 872.5L95.4 874.5L95.5 875.5L92.7 884.5L91.6 887.0L90.0 889.1L85.2 897.0L81.5 901.4L78.6 903.6L76.0 906.3L73.0 908.6L68.9 910.2Z"/>
<path d="M69.4 909.1L68.4 909.3L65.9 908.6L63.9 908.7L62.6 907.6L62.1 905.6L62.6 900.6L63.1 898.5L66.1 893.5L69.0 887.0L76.5 878.5L85.5 871.6L87.0 871.2L89.5 871.6L92.0 871.4L92.5 871.5L94.3 874.5L94.5 876.0L93.0 879.7L91.9 885.0L89.9 888.0L88.1 891.5L84.6 897.0L81.0 901.2L78.5 902.9L76.0 905.6L73.0 907.9L71.4 908.6L69.4 909.1Z"/>
<path d="M70.9 908.1L68.4 908.4L65.9 907.3L63.9 907.2L63.3 906.6L62.9 905.1L63.2 900.6L63.6 898.5L64.4 897.0L66.7 893.5L69.4 887.3L71.7 884.5L77.2 878.5L85.5 872.7L86.5 872.3L88.5 872.9L91.0 872.8L92.0 873.1L93.1 874.5L93.4 876.0L91.7 881.5L91.2 885.0L89.5 887.6L87.9 891.0L84.4 896.5L82.4 898.5L80.9 900.6L77.9 902.6L75.0 905.8L72.4 907.5L70.9 908.1Z"/>
<path d="M69.9 907.6L68.9 907.7L67.9 907.4L66.4 906.4L64.4 905.5L63.9 904.5L63.8 902.6L63.9 899.6L64.3 898.0L67.2 893.5L69.9 887.5L72.3 884.5L77.0 879.5L80.5 876.6L85.5 874.5L90.0 873.9L91.0 874.0L91.5 874.3L92.1 875.5L92.2 876.5L91.0 882.0L90.9 884.0L87.5 891.0L84.0 896.3L82.0 898.3L80.5 900.3L77.5 902.2L75.5 904.6L74.5 905.5L71.9 907.0L69.9 907.6Z"/>
<path d="M70.4 906.7L69.4 906.9L68.4 906.8L65.4 904.6L64.6 903.1L64.4 900.1L64.6 898.5L65.0 897.5L67.9 893.0L70.6 887.5L73.4 884.0L78.2 879.0L80.5 877.1L82.5 876.2L86.4 876.0L89.0 874.9L90.5 875.0L91.0 875.5L91.3 877.0L90.3 884.0L87.4 890.5L84.0 895.6L82.0 897.6L80.0 900.1L77.4 901.6L74.0 905.1L70.4 906.7Z"/>
<path d="M70.4 905.7L69.4 906.0L68.4 905.9L65.9 903.9L65.2 902.6L64.9 899.6L65.4 897.6L68.7 892.5L71.0 888.0L74.0 884.0L78.9 879.0L80.8 877.5L82.5 876.8L86.5 876.8L89.0 875.8L90.0 876.0L90.4 877.0L90.5 879.0L89.8 884.0L87.0 890.5L84.0 894.9L81.5 897.3L80.0 899.4L77.0 901.3L74.0 904.3L70.4 905.7Z"/>
<path d="M69.9 904.8L68.9 905.0L68.4 904.9L66.4 903.4L65.7 902.1L65.4 899.1L65.9 897.5L69.8 891.5L71.7 888.0L75.1 883.5L79.5 879.1L81.0 877.9L82.0 877.4L83.5 877.2L89.0 877.6L89.5 878.2L89.8 879.5L89.2 884.5L87.2 889.5L84.0 894.3L83.0 895.4L81.4 896.5L79.5 899.2L77.2 900.6L73.8 903.6L73.0 904.0L70.9 904.3L69.9 904.8Z"/>
<path d="M69.9 903.6L68.4 903.9L66.9 903.0L66.4 902.1L65.9 900.6L65.9 898.6L67.9 895.0L70.4 891.5L71.9 888.7L74.9 884.5L80.0 879.2L82.0 877.9L83.5 877.6L85.0 877.7L87.0 878.2L88.5 879.0L89.0 879.5L89.2 880.5L88.8 884.5L86.9 889.5L83.7 894.0L83.0 894.9L81.0 896.2L79.0 898.9L73.5 902.9L72.4 903.2L70.9 903.2L69.9 903.6Z"/>
<path d="M69.9 902.6L68.4 903.0L67.4 902.5L66.5 900.6L66.4 898.9L68.4 894.8L70.2 892.5L72.3 889.0L74.3 886.5L75.9 884.0L78.0 882.1L80.0 879.7L82.5 878.2L84.0 877.9L85.0 878.0L86.2 878.5L87.9 879.5L88.5 880.2L88.7 881.0L88.7 883.0L88.4 884.5L86.9 889.0L83.5 893.9L82.5 894.7L80.9 895.5L79.0 898.2L75.5 901.0L73.0 902.1L70.9 902.2L69.9 902.6Z"/>
<path d="M68.9 902.1L68.4 902.1L67.7 901.6L67.0 900.1L67.1 899.1L68.5 895.5L70.7 892.5L72.8 889.0L74.9 886.5L76.1 884.5L78.0 882.8L80.0 880.3L82.0 878.9L83.5 878.4L84.5 878.3L85.5 878.6L87.0 879.5L88.2 881.0L88.3 882.5L88.2 884.0L86.6 889.0L83.5 893.4L82.5 894.3L80.5 895.4L78.5 898.0L75.5 900.5L74.0 901.2L70.9 901.4L68.9 902.1Z"/>
<path d="M69.9 901.1L68.9 901.3L68.3 901.1L67.7 900.1L67.8 899.1L68.9 895.4L70.9 892.9L73.3 889.0L75.1 887.0L76.5 884.8L78.4 883.0L80.5 880.3L82.5 879.2L84.0 878.7L85.0 878.8L86.3 879.5L87.4 880.5L87.9 881.5L87.8 884.0L86.5 888.6L83.3 893.0L82.5 893.9L80.5 894.9L78.5 897.4L75.5 900.1L74.0 900.6L71.4 900.7L69.9 901.1Z"/>
<path d="M69.4 900.6L68.9 900.4L68.5 899.6L69.3 895.5L70.9 893.5L73.7 889.0L75.6 887.0L76.9 885.0L78.5 883.7L80.0 881.4L81.0 880.5L84.0 879.2L85.0 879.2L86.2 880.0L87.1 881.0L87.5 881.9L87.4 884.5L86.2 888.5L83.0 893.0L80.3 894.5L78.2 897.0L75.0 899.9L69.4 900.6Z"/>
<path d="M74.0 899.6L70.4 899.8L69.5 899.6L69.4 898.5L69.9 895.5L71.4 893.5L74.1 889.0L76.0 887.1L77.0 885.5L78.8 884.0L80.5 881.4L81.5 880.9L82.5 880.7L84.0 879.8L84.5 879.7L85.5 880.0L86.8 881.5L87.1 883.0L86.5 886.8L85.6 889.0L82.5 893.0L80.5 894.0L78.0 896.8L75.0 899.2L74.0 899.6Z"/>
<path d="M71.4 899.1L70.4 898.9L70.2 898.5L70.3 896.0L74.5 889.1L76.1 887.5L77.5 885.6L79.0 884.4L80.5 882.2L81.5 881.8L82.5 882.7L83.5 882.9L84.1 882.5L84.5 880.8L85.0 880.7L85.5 880.9L86.5 882.2L86.7 884.0L86.0 887.4L85.0 889.3L82.4 892.5L80.0 894.0L77.5 896.6L75.6 897.5L74.0 898.8L71.4 899.1Z"/>
<path d="M73.0 898.1L71.3 898.0L71.0 897.5L71.1 896.5L72.7 892.5L74.5 889.5L76.5 887.7L77.7 886.0L79.4 884.5L81.0 882.7L82.5 883.4L83.5 883.5L85.5 882.7L86.1 883.5L86.1 885.5L85.5 887.9L84.5 889.4L82.0 892.3L80.0 893.6L77.5 896.1L74.8 897.0L73.0 898.1Z"/>
<path d="M76.0 896.1L74.0 896.5L73.0 896.5L72.4 895.5L72.8 893.0L75.0 889.6L76.8 888.0L78.2 886.0L81.0 883.6L83.0 883.9L85.0 883.8L85.5 884.0L85.8 885.0L85.6 886.5L84.4 889.0L81.4 892.0L78.0 895.1L77.0 895.8L76.0 896.1Z"/>
<path d="M76.0 895.6L74.0 895.8L73.4 895.5L72.9 894.5L73.0 893.5L73.4 892.5L75.5 889.7L77.4 888.0L78.8 886.0L81.0 884.2L84.5 884.4L85.0 884.7L85.3 885.5L85.2 886.5L84.0 888.9L83.0 889.8L81.5 890.5L80.7 892.0L77.5 894.9L76.0 895.6Z"/>
<path d="M76.0 895.1L75.0 895.3L74.0 895.1L73.5 894.5L73.5 893.5L74.0 892.5L75.7 891.0L76.2 890.0L77.9 888.5L78.9 886.5L80.5 885.0L81.5 884.5L83.5 884.8L84.5 885.2L84.7 885.5L84.7 886.5L83.7 888.5L83.0 889.2L81.0 889.6L80.5 890.0L80.3 891.5L80.0 892.1L76.0 895.1Z"/>
<path d="M79.0 892.2L78.5 892.3L78.0 892.0L77.5 890.5L78.0 889.7L78.8 889.0L79.0 887.5L79.4 886.5L80.5 885.4L81.5 884.9L82.6 885.0L83.9 885.5L84.2 886.0L84.0 887.0L83.0 888.5L82.0 888.9L79.9 889.0L79.5 889.4L79.5 891.5L79.0 892.2ZM75.0 894.6L74.4 894.5L74.0 894.0L74.0 893.5L74.5 892.8L75.0 892.6L75.5 892.7L76.1 893.5L76.0 894.1L75.0 894.6Z"/>
</g>
<path d="M72.7,912.6 Q72.7,909.4 81.0,909.4 Q89.4,909.4 89.4,912.6" fill="none" stroke="#2a2a2a" stroke-width="1.4"/>
<rect x="44.9" y="800.7" width="111.2" height="111.9" fill="none" stroke="#6a6a6a" stroke-width="1.1"/>
<line x1="98.2" y1="800.7" x2="98.2" y2="912.6" stroke="#7a7a7a" stroke-width="1.0" />
<line x1="44.9" y1="864.6" x2="156.1" y2="864.6" stroke="#7a7a7a" stroke-width="1.0" />
<text x="50.1" y="818.6" font-size="14" text-anchor="start" font-weight="normal" fill="#231f20" stroke="#231f20" stroke-width="0.28" >0.21</text>
<text x="147.1" y="817.8" font-size="14" text-anchor="end" font-weight="normal" fill="#231f20" stroke="#231f20" stroke-width="0.28" >0.26</text>
<text x="147.7" y="908.3" font-size="14" text-anchor="end" font-weight="normal" fill="#231f20" stroke="#231f20" stroke-width="0.28" >0.62</text>
<clipPath id="cp11"><rect x="167.5" y="803.7" width="107.3" height="107.3"/></clipPath>
<g clip-path="url(#cp11)" fill="#000" fill-opacity="0.013" stroke="#4a4a4a" stroke-width="0.42">
<path d="M195.6 911.0L192.1 911.4L185.0 911.5L176.5 911.4L173.7 911.0L175.1 904.0L176.7 900.0L179.2 895.0L183.8 887.9L188.6 882.6L191.1 880.6L196.1 878.1L197.6 877.8L199.6 877.8L201.1 878.2L202.1 878.8L203.4 880.9L204.3 884.9L204.2 889.9L203.3 895.0L199.8 904.0L197.9 907.5L195.6 911.0Z"/>
<path d="M193.6 911.0L185.0 911.4L178.0 911.3L175.1 911.0L176.6 904.0L177.3 902.0L180.2 896.0L185.0 888.6L189.1 884.2L192.1 882.1L195.1 881.1L199.6 880.6L200.6 881.0L201.1 881.5L201.6 882.4L202.1 884.4L202.6 888.9L201.9 894.0L200.4 899.0L198.4 904.0L193.6 911.0Z"/>
<path d="M192.1 911.1L184.5 911.4L176.1 911.0L177.1 907.5L177.6 904.0L178.2 902.0L181.0 896.5L185.6 889.3L189.6 885.1L192.6 883.3L195.1 882.6L199.1 883.1L200.1 883.9L200.6 884.7L201.3 887.9L200.9 893.5L199.9 897.5L197.4 904.0L194.6 907.7L192.9 910.5L192.5 911.0L192.1 911.1Z"/>
<path d="M191.1 911.1L185.0 911.4L177.0 911.0L177.8 908.0L178.2 904.5L178.7 902.5L181.8 896.5L185.9 889.9L189.1 886.6L190.6 885.4L193.6 883.9L194.6 883.7L196.1 883.7L198.6 884.6L199.5 885.4L200.1 886.4L200.4 888.9L200.0 894.0L198.9 898.5L197.3 903.0L193.9 907.5L192.1 910.4L191.5 911.0L191.1 911.1Z"/>
<path d="M190.6 911.0L185.0 911.3L178.0 911.0L178.5 908.0L178.8 904.0L179.3 902.5L182.1 897.0L186.6 889.9L190.6 886.3L193.6 884.7L194.6 884.4L196.1 884.5L198.1 885.4L199.0 886.4L199.5 887.4L199.5 891.9L199.1 895.0L198.3 898.5L196.7 903.0L193.5 907.0L191.6 910.0L190.6 911.0Z"/>
<path d="M190.1 911.0L185.6 911.3L179.0 911.0L179.3 904.0L179.8 902.5L182.7 897.0L186.8 890.4L190.6 887.0L193.6 885.3L194.6 885.1L195.6 885.1L197.6 886.0L198.4 886.9L198.8 887.9L199.0 891.4L198.5 895.0L196.9 901.5L196.2 903.0L193.3 906.5L191.4 909.5L190.1 911.0Z"/>
<path d="M189.1 911.1L185.0 911.2L180.0 911.0L179.7 909.5L179.5 906.0L179.8 903.5L183.4 896.5L187.1 890.9L189.6 888.4L191.1 887.2L194.1 885.8L195.6 885.7L197.0 886.4L197.9 887.4L198.5 890.4L198.3 892.9L196.5 901.5L195.5 903.5L192.7 906.5L191.2 909.0L189.6 911.0L189.1 911.1Z"/>
<path d="M189.1 911.0L185.6 911.2L180.8 911.0L180.3 909.5L180.0 906.5L180.2 903.5L183.8 896.5L187.5 890.9L191.1 887.8L194.1 886.3L195.6 886.4L196.6 886.9L197.4 887.9L198.0 890.9L197.8 892.9L196.1 901.5L195.4 903.0L192.6 906.0L190.7 909.0L189.1 911.0Z"/>
<path d="M188.6 911.0L185.6 911.2L181.4 911.0L180.8 909.5L180.4 906.5L180.3 905.0L180.6 903.5L184.2 896.5L186.1 894.1L187.6 891.4L191.1 888.2L193.6 887.1L195.1 886.9L196.1 887.4L196.6 887.9L197.2 889.4L197.5 891.4L197.4 892.9L196.3 897.5L195.7 901.5L195.0 903.0L192.1 906.0L190.2 909.0L188.6 911.0Z"/>
<path d="M188.1 911.0L182.0 911.0L181.3 909.5L180.8 907.0L180.7 905.0L180.9 903.5L184.3 897.0L186.2 894.5L188.1 891.5L190.1 889.4L191.6 888.4L193.6 887.6L195.1 887.6L195.7 887.9L196.4 888.9L197.1 891.4L197.0 892.9L195.8 897.5L195.4 901.5L194.6 903.0L191.7 906.0L189.8 909.0L188.1 911.0Z"/>
<path d="M187.6 911.0L182.5 911.0L181.7 909.5L181.4 908.0L181.0 905.5L181.3 903.5L184.6 897.0L186.6 894.5L188.1 891.9L191.1 889.0L193.1 888.2L194.6 888.1L195.6 888.7L196.1 889.4L196.7 891.9L195.5 897.0L195.1 901.5L194.3 903.0L191.6 905.6L189.0 909.5L187.6 911.0Z"/>
<path d="M187.1 911.0L183.2 911.0L182.5 910.2L182.0 909.0L181.6 907.0L181.4 905.0L181.6 903.5L184.9 897.0L186.7 895.0L188.6 891.9L190.5 889.9L191.6 889.1L193.1 888.6L194.6 888.7L195.7 889.9L196.3 891.9L196.1 893.5L195.1 897.0L194.8 901.5L193.9 903.0L191.2 905.5L188.6 909.5L187.6 910.7L187.1 911.0Z"/>
<path d="M186.6 911.0L184.0 911.0L182.6 909.5L182.1 908.0L181.8 905.5L182.2 903.0L185.0 897.3L187.1 895.0L188.6 892.4L190.6 890.3L191.6 889.5L193.1 889.1L194.1 889.2L195.1 889.8L195.5 890.4L195.9 892.4L194.8 897.0L194.5 901.5L193.5 903.0L190.5 906.0L187.7 910.0L186.6 911.0Z"/>
<path d="M186.6 910.6L185.6 910.9L184.5 910.7L183.5 910.0L182.8 909.0L182.4 907.5L182.2 905.0L182.7 902.5L185.2 897.5L187.5 895.0L189.1 892.4L191.6 889.9L193.1 889.5L194.1 889.7L195.1 890.7L195.6 892.4L195.4 894.0L194.5 897.0L194.4 900.0L194.2 901.5L193.2 903.0L190.5 905.5L187.7 909.5L186.6 910.6Z"/>
<path d="M186.6 910.0L185.6 910.3L184.5 910.1L183.5 909.4L183.0 908.5L182.7 904.5L183.0 902.5L185.5 897.5L187.9 895.0L189.4 892.4L191.6 890.4L192.6 890.0L193.6 890.1L194.7 890.9L195.3 892.4L195.1 894.0L194.2 897.0L194.2 900.0L193.9 901.5L192.8 903.0L189.3 906.5L186.6 910.0Z"/>
<path d="M186.1 909.6L185.6 909.8L184.5 909.5L183.9 909.0L183.4 908.0L183.1 904.0L183.5 902.0L185.8 897.5L188.0 895.5L189.9 892.4L191.1 891.2L192.1 890.6L193.6 890.6L194.6 891.5L195.0 892.9L193.9 896.5L193.9 900.0L193.6 901.5L192.9 902.5L188.3 907.0L186.9 909.0L186.1 909.6Z"/>
<path d="M185.6 909.1L184.5 908.8L184.0 908.3L183.8 907.5L183.4 903.5L184.2 901.0L186.1 897.6L188.5 895.5L189.6 893.5L190.6 892.3L192.1 891.1L193.1 891.0L193.6 891.1L194.4 891.9L194.6 892.9L194.5 894.0L193.5 896.5L193.6 900.0L193.3 901.5L192.6 902.5L187.7 907.0L186.6 908.5L185.6 909.1Z"/>
<path d="M185.6 908.2L185.0 908.1L184.4 907.5L183.8 904.0L183.9 902.5L184.7 900.5L186.5 897.5L189.2 895.5L190.1 893.5L191.1 892.3L192.6 891.5L193.6 891.7L194.1 892.4L194.3 893.5L193.1 896.5L193.3 900.0L193.0 901.5L192.3 902.5L189.1 905.4L185.6 908.2Z"/>
<path d="M186.6 906.5L185.6 906.9L185.0 906.5L184.5 905.0L184.2 903.0L184.7 901.0L186.6 897.8L190.1 895.5L190.5 894.0L191.2 892.9L192.1 892.2L193.1 892.1L193.6 892.5L193.8 893.5L192.6 896.5L193.1 899.5L192.7 901.5L191.9 902.5L189.1 905.1L186.6 906.5Z"/>
<path d="M192.1 895.0L191.6 894.8L191.4 894.5L191.6 893.7L192.2 892.9L193.0 892.9L193.2 893.5L193.2 894.0L192.6 894.7L192.1 895.0ZM187.6 905.6L186.1 905.8L185.0 904.9L184.5 903.0L184.9 901.0L186.1 898.9L187.1 897.8L189.6 896.7L190.6 896.5L191.6 896.6L192.1 897.1L192.7 898.5L192.8 900.0L192.6 901.0L192.0 902.0L189.1 904.7L187.6 905.6Z"/>
<path d="M188.1 905.0L186.6 905.3L185.4 904.5L184.8 903.0L185.2 901.0L186.3 899.0L187.6 897.8L189.6 897.2L191.1 897.2L191.6 897.5L192.3 898.5L192.5 899.5L192.3 901.0L191.6 902.0L189.1 904.4L188.1 905.0Z"/>
<path d="M188.1 904.7L186.6 904.7L185.6 903.9L185.2 902.5L185.7 900.5L186.6 899.1L187.6 898.2L189.6 897.6L191.1 897.8L191.6 898.1L192.1 899.0L192.2 900.0L191.9 901.0L189.1 904.0L188.1 904.7Z"/>
<path d="M188.6 904.0L187.1 904.4L186.1 903.8L185.5 902.5L185.8 901.0L186.6 899.5L187.6 898.6L189.1 898.0L190.6 898.1L191.3 898.5L191.7 899.0L191.8 900.5L191.2 901.5L188.6 904.0Z"/>
<path d="M187.6 904.0L186.6 903.6L185.9 902.5L186.1 901.2L186.6 900.0L187.6 899.0L188.6 898.5L190.1 898.4L191.1 898.8L191.6 900.0L191.2 901.0L188.6 903.5L187.6 904.0Z"/>
</g>
<path d="M169.6,911.0 Q169.6,907.8 180.4,907.8 Q191.1,907.8 191.1,911.0" fill="none" stroke="#2a2a2a" stroke-width="1.4"/>
<rect x="167.5" y="803.7" width="107.3" height="107.3" fill="none" stroke="#6a6a6a" stroke-width="1.1"/>
<line x1="199.8" y1="803.7" x2="199.8" y2="911.0" stroke="#7a7a7a" stroke-width="1.0" />
<line x1="167.5" y1="884.0" x2="274.8" y2="884.0" stroke="#7a7a7a" stroke-width="1.0" />
<text x="168.9" y="818.6" font-size="14" text-anchor="start" font-weight="normal" fill="#231f20" stroke="#231f20" stroke-width="0.28" >0.45</text>
<text x="270.5" y="817.8" font-size="14" text-anchor="end" font-weight="normal" fill="#231f20" stroke="#231f20" stroke-width="0.28" >1.2</text>
<text x="268.3" y="908.3" font-size="14" text-anchor="end" font-weight="normal" fill="#231f20" stroke="#231f20" stroke-width="0.28" >2.0</text>
<clipPath id="cp12"><rect x="285.5" y="802.2" width="111.5" height="111.5"/></clipPath>
<g clip-path="url(#cp12)" fill="#000" fill-opacity="0.013" stroke="#4a4a4a" stroke-width="0.42">
<path d="M326.0 913.7L307.5 914.0L301.4 913.7L294.5 909.1L291.3 906.2L289.2 903.2L287.6 898.2L287.2 892.2L287.4 890.2L288.2 887.7L289.7 884.2L291.5 881.6L292.8 879.2L296.3 875.7L297.5 874.8L302.0 872.4L304.0 871.7L306.0 871.3L315.0 870.8L319.5 870.3L321.0 869.7L321.6 868.7L321.5 864.2L319.9 861.2L318.0 854.6L317.0 852.8L315.8 852.2L312.0 851.3L308.5 851.4L305.0 850.8L302.0 851.1L300.5 850.9L297.2 849.2L294.5 848.4L292.2 846.7L288.2 844.7L287.2 843.7L285.5 840.5L285.2 826.2L285.5 812.6L288.7 808.7L294.0 805.2L296.0 804.4L299.0 804.0L304.5 802.4L312.3 802.2L314.3 803.2L317.0 803.8L322.5 806.0L324.5 807.1L327.0 808.9L330.0 811.6L333.5 817.7L335.5 819.7L337.8 824.2L339.5 829.7L339.6 833.2L340.6 836.7L340.5 839.7L341.9 846.7L341.5 854.2L339.4 862.2L338.2 864.7L337.8 866.7L337.3 867.7L334.0 871.7L333.6 872.7L334.0 875.2L335.0 878.4L336.3 881.2L337.0 883.7L338.8 887.2L339.5 889.2L339.7 891.7L339.1 896.2L338.7 897.7L337.5 900.2L336.3 904.2L335.2 906.2L330.1 911.2L326.0 913.7Z"/>
<path d="M334.0 862.8L333.0 863.1L328.5 863.0L326.0 862.4L325.0 861.9L324.2 860.7L322.5 856.2L321.4 851.2L320.0 849.1L319.0 848.1L318.0 847.7L317.0 847.7L308.0 848.3L304.5 847.5L300.5 847.3L298.0 846.1L296.0 845.8L295.0 845.4L293.3 843.7L291.7 841.7L289.5 840.1L288.6 839.2L287.3 837.2L286.5 834.2L285.5 832.7L285.3 826.2L285.5 819.7L288.1 814.7L290.5 812.1L293.5 810.1L296.5 808.7L298.5 807.5L303.0 805.8L304.5 805.4L307.5 805.5L310.5 805.1L315.0 806.4L318.0 807.0L319.5 807.6L320.6 808.7L322.5 811.6L325.0 813.1L327.5 815.2L330.3 818.7L332.6 823.2L334.3 828.7L334.6 831.7L337.1 837.2L336.8 840.7L338.3 845.7L338.4 848.7L337.1 854.2L336.8 857.2L336.3 858.2L334.9 860.2L334.5 861.9L334.0 862.8ZM316.0 913.7L314.2 913.7L311.5 913.0L310.0 913.1L308.0 913.7L306.5 913.5L304.0 912.0L301.5 911.0L299.2 909.2L296.5 907.5L293.5 904.7L292.5 903.2L290.6 895.7L291.0 889.2L291.4 887.2L293.0 884.2L296.0 880.0L299.0 877.2L303.0 875.1L309.5 873.6L312.5 873.7L317.0 873.4L318.5 873.6L326.0 875.4L326.5 875.8L328.5 878.2L331.0 879.8L332.0 880.9L333.0 882.6L334.0 885.1L335.1 886.7L335.8 888.2L336.6 892.7L336.3 896.2L332.9 904.7L328.5 908.7L326.0 910.2L324.0 911.8L321.5 912.6L316.0 913.7Z"/>
<path d="M329.0 859.3L328.3 859.2L327.8 857.2L325.1 852.7L325.0 851.7L325.6 849.7L325.4 848.7L325.0 848.2L321.5 846.1L320.0 845.5L317.0 845.0L313.5 845.2L309.5 845.2L307.0 845.7L304.5 845.2L301.0 845.1L298.5 843.9L296.5 843.4L295.5 843.0L293.3 840.7L290.0 838.1L289.2 836.7L288.5 833.2L286.7 830.2L286.0 827.2L286.0 825.7L286.8 822.7L288.6 817.7L289.5 816.1L291.0 814.5L294.0 812.8L295.5 811.6L298.0 810.4L300.0 808.9L301.5 808.2L306.0 807.5L311.0 807.4L318.0 809.5L322.0 813.7L324.5 815.3L325.9 816.7L328.8 820.2L331.0 825.7L332.4 828.2L332.6 829.2L332.4 831.7L333.4 833.7L333.6 834.7L333.8 837.7L333.4 840.2L334.9 842.7L335.6 845.7L335.5 846.7L334.6 849.2L335.0 851.7L334.5 856.2L334.0 856.7L331.8 857.7L329.0 859.3ZM317.0 911.8L315.0 912.1L311.5 911.6L308.0 911.9L302.5 909.5L298.5 907.2L297.5 906.2L296.1 903.7L295.0 902.2L293.5 898.7L292.8 896.2L292.6 894.7L293.3 890.2L293.4 887.7L294.1 885.7L295.0 884.2L296.0 883.1L300.5 879.7L302.5 877.7L303.5 877.1L306.0 876.7L309.5 875.4L312.5 875.7L314.5 875.2L316.5 875.2L318.0 875.3L320.0 876.0L323.5 877.6L325.5 878.0L326.5 878.7L330.8 883.2L332.3 886.2L333.7 888.2L335.0 892.7L334.9 894.7L333.3 899.7L330.9 903.7L327.5 907.2L325.0 908.5L323.0 910.0L317.0 911.8Z"/>
<path d="M331.0 854.9L329.5 854.9L328.5 854.1L328.1 852.7L328.6 850.7L328.4 849.2L327.1 846.7L325.9 845.2L325.2 843.2L324.5 842.6L321.5 842.7L318.5 843.5L305.5 843.2L303.0 843.6L302.0 843.6L301.0 843.2L298.5 841.3L295.0 840.1L291.5 837.5L290.7 836.2L290.4 833.7L288.5 829.2L288.3 828.2L289.0 825.7L289.3 822.2L290.3 818.2L291.4 816.2L292.5 815.4L294.5 814.6L296.5 812.8L299.0 811.6L301.5 809.8L302.5 809.5L307.0 809.0L310.5 809.9L313.5 810.1L316.5 811.6L318.5 812.1L320.0 813.2L322.0 815.4L324.0 817.0L325.9 819.2L326.8 820.7L327.4 823.7L328.8 825.7L330.2 829.2L330.0 831.2L330.3 833.2L328.0 836.3L326.3 837.2L326.5 837.7L327.5 838.0L329.0 837.6L330.0 837.8L330.4 838.2L330.6 840.2L331.0 841.2L333.5 844.7L333.5 846.2L331.6 851.7L331.8 854.2L331.0 854.9ZM315.5 910.8L308.0 910.4L303.5 908.5L299.5 906.4L298.5 905.4L297.5 903.2L295.9 900.7L294.8 898.2L294.4 896.7L294.1 893.7L295.0 890.2L295.2 886.7L296.0 884.9L299.0 882.3L302.0 880.7L304.5 878.9L309.5 876.7L312.0 877.1L315.0 876.4L318.0 876.6L320.5 877.5L323.0 879.0L325.5 879.9L329.9 884.2L330.9 886.7L332.1 888.7L333.6 893.2L333.5 894.7L332.1 898.7L327.0 905.8L324.5 907.1L322.0 908.9L318.5 909.7L315.5 910.8Z"/>
<path d="M316.5 842.2L311.0 842.0L302.5 842.1L299.0 839.4L298.0 839.0L295.5 838.5L292.5 836.7L292.0 835.7L291.6 833.7L290.9 831.7L290.0 827.2L290.5 823.2L291.5 820.7L292.1 818.2L292.5 817.2L295.0 815.8L297.0 814.0L299.5 813.1L302.0 811.4L306.5 810.5L308.0 810.6L311.0 812.1L313.5 811.8L315.5 812.7L318.5 813.3L320.0 814.5L322.5 817.9L324.5 819.6L325.2 820.7L325.7 823.7L326.8 826.2L327.5 828.7L327.6 830.2L327.0 831.7L326.8 833.7L326.4 834.2L324.1 835.7L323.0 836.7L321.5 839.9L318.7 841.7L316.5 842.2ZM329.0 843.9L328.5 844.1L328.0 843.9L327.4 843.2L327.4 841.7L328.0 841.3L329.0 841.7L329.4 842.2L329.5 843.2L329.0 843.9ZM315.0 909.7L311.0 909.8L308.5 909.4L304.0 907.5L301.5 905.7L300.0 904.9L299.0 903.8L296.8 900.2L295.7 897.2L295.3 894.2L296.1 891.2L296.7 886.2L297.2 885.2L299.5 883.1L306.1 879.2L308.0 878.3L309.5 878.0L312.5 878.0L315.0 877.4L317.0 877.4L318.5 877.7L320.0 878.4L322.5 880.1L324.8 881.2L328.5 884.1L329.1 885.2L329.7 887.2L331.3 889.7L332.3 893.7L330.8 898.2L328.5 901.3L326.5 904.7L324.0 906.1L321.5 908.1L318.0 908.7L315.0 909.7Z"/>
<path d="M317.0 840.8L315.0 841.0L311.5 840.4L307.5 840.9L303.5 840.9L302.0 840.3L298.5 838.0L294.5 836.4L293.5 835.7L293.0 834.7L292.4 832.2L292.3 829.7L291.3 827.2L291.4 824.2L293.8 818.7L297.0 815.5L298.0 814.9L300.0 814.3L303.0 812.3L306.0 811.7L307.5 812.0L310.3 813.2L312.0 813.6L317.5 813.9L318.5 814.3L319.6 815.2L321.8 819.2L323.9 821.2L324.4 825.2L325.5 827.7L325.7 829.2L324.8 831.2L324.7 833.2L324.2 834.2L321.3 836.7L320.0 838.9L317.0 840.8ZM315.0 908.7L311.0 908.9L308.5 908.5L304.7 906.7L302.7 904.7L300.5 903.6L299.5 902.5L298.0 900.2L296.6 896.2L296.3 894.2L298.0 886.2L298.6 885.2L300.0 883.8L307.5 879.5L310.0 879.0L317.0 878.3L319.0 878.8L325.0 883.0L327.5 884.4L328.0 885.2L328.5 887.7L330.5 890.6L331.0 893.7L329.7 897.7L328.0 900.0L326.0 903.7L321.0 907.4L315.0 908.7Z"/>
<path d="M305.0 839.8L303.5 839.8L302.0 839.3L298.5 837.0L295.0 835.2L294.2 834.2L294.0 833.2L294.7 831.2L294.7 830.2L292.9 827.7L292.5 825.7L292.7 824.2L293.5 822.7L294.4 820.2L297.5 816.5L300.0 815.6L302.5 813.6L304.5 812.8L306.5 812.9L313.5 815.1L314.5 815.1L316.5 814.6L318.0 814.9L319.5 816.5L321.4 820.7L322.7 822.7L322.9 824.2L322.4 826.7L323.6 829.7L323.3 833.7L322.5 834.7L320.1 836.2L318.7 837.7L315.5 839.4L312.0 839.3L305.0 839.8ZM316.0 907.7L309.5 908.0L308.0 907.5L305.7 906.2L304.0 903.9L301.5 902.6L299.5 900.4L297.8 896.7L297.4 894.2L297.8 890.7L298.7 888.2L299.1 886.2L300.5 884.5L303.5 882.4L308.0 880.3L311.0 879.6L317.0 879.0L318.0 879.2L319.0 879.7L322.9 882.7L324.3 884.2L326.0 884.7L326.8 885.2L327.9 888.7L329.4 890.7L329.7 892.7L329.0 896.5L327.5 898.8L325.5 903.0L320.5 906.7L316.0 907.7Z"/>
<path d="M313.0 838.2L310.0 838.6L305.5 838.0L303.5 838.6L302.5 838.6L301.0 837.9L299.0 836.3L296.5 834.9L295.6 833.7L295.6 829.7L294.3 827.2L294.0 825.7L295.3 820.7L296.3 819.2L297.5 818.0L300.5 816.4L302.5 814.6L304.0 813.8L305.5 813.6L309.5 814.5L314.0 816.4L315.0 816.4L316.5 815.7L317.5 815.8L318.5 816.6L319.5 818.2L320.0 819.7L320.2 821.7L321.6 823.7L321.8 824.7L321.2 827.2L322.4 829.7L322.2 833.7L321.5 834.4L319.5 835.3L317.0 837.1L315.0 837.9L313.0 838.2ZM313.0 907.2L310.0 907.4L308.5 906.9L306.5 905.6L304.5 903.0L302.5 902.0L301.6 901.2L299.6 898.7L298.7 896.7L298.4 893.7L298.4 891.2L299.5 888.7L300.1 886.2L301.0 885.2L304.0 882.9L310.5 880.3L317.5 879.9L319.0 880.6L320.6 882.2L322.1 883.2L324.0 885.5L326.0 886.5L327.3 889.2L328.6 891.2L328.7 892.7L327.8 896.2L327.0 897.7L325.5 901.7L324.8 902.7L319.3 906.2L316.5 907.0L313.0 907.2Z"/>
<path d="M311.5 837.7L309.5 837.8L305.5 836.9L303.0 837.5L302.0 837.4L297.5 834.3L296.7 833.2L296.0 828.4L295.2 825.2L296.3 820.7L296.9 819.7L298.0 818.7L300.5 817.3L303.0 815.4L304.3 814.7L305.5 814.6L310.0 815.4L311.5 816.0L313.5 817.5L314.5 818.0L317.0 817.7L318.0 818.0L319.0 819.3L319.1 822.2L320.7 824.2L320.8 825.2L320.3 827.7L321.5 830.2L321.2 833.2L320.5 833.8L319.0 834.3L316.5 836.1L314.0 836.7L311.5 837.7ZM312.0 906.7L310.0 906.7L309.0 906.4L307.0 904.8L305.0 902.6L303.0 901.5L302.1 900.7L300.1 898.2L299.6 897.2L299.4 896.2L299.1 891.2L300.8 886.7L304.7 883.2L310.5 880.9L311.5 880.7L314.0 880.9L316.5 880.6L317.5 880.7L319.0 881.6L320.1 882.7L322.0 884.2L323.5 886.1L325.5 887.5L327.7 891.2L327.8 892.7L325.5 900.2L324.4 902.2L318.0 905.9L316.5 906.3L312.0 906.7Z"/>
<path d="M311.5 836.8L310.5 837.1L309.5 837.0L306.0 836.0L302.5 836.3L300.2 834.7L298.5 833.8L297.5 832.5L296.9 830.2L296.2 825.2L297.1 821.2L298.1 819.7L303.5 816.2L305.0 815.9L309.0 816.0L311.5 817.1L314.0 819.4L316.5 819.3L317.5 819.6L318.0 820.2L318.3 822.7L319.8 824.7L319.8 825.7L319.0 828.2L320.3 830.2L320.3 831.2L320.0 832.2L318.5 833.2L316.9 834.7L316.0 835.0L314.0 835.3L311.5 836.8ZM316.5 905.7L311.5 906.1L309.5 905.8L307.0 903.9L305.3 902.2L302.9 900.7L300.5 897.7L300.1 896.7L300.2 894.2L299.8 891.2L301.3 887.2L305.0 883.7L308.0 882.7L310.5 881.5L311.5 881.4L314.0 881.7L316.5 881.3L318.0 881.7L320.0 883.6L321.5 884.6L324.9 888.2L327.0 891.7L327.0 892.7L326.4 895.7L325.1 899.7L324.5 901.2L322.5 902.7L320.0 903.9L318.0 905.2L316.5 905.7Z"/>
<path d="M311.5 835.9L310.5 836.2L309.5 836.1L307.5 835.1L306.5 834.9L303.0 835.2L299.0 833.0L298.0 831.5L297.4 829.2L297.1 825.2L297.2 824.2L298.0 821.4L298.9 820.2L300.5 819.2L303.0 817.2L304.5 817.0L309.0 817.3L311.5 818.4L313.5 820.9L314.0 821.0L316.0 820.7L316.5 820.8L317.0 821.3L317.7 823.2L318.7 825.2L318.5 826.2L317.2 827.7L317.4 828.7L318.4 830.7L318.3 831.2L317.5 832.2L316.5 832.9L315.5 832.4L315.0 832.4L313.1 834.7L311.5 835.9ZM316.0 905.2L312.5 905.5L310.0 905.1L307.5 903.5L305.4 901.7L303.5 900.6L301.1 897.7L300.6 896.7L300.9 894.2L300.5 891.2L301.8 887.7L305.3 884.2L308.3 883.2L310.5 882.1L311.5 882.1L313.5 882.4L316.5 882.0L318.0 882.5L319.7 884.2L322.0 885.9L324.3 888.7L326.2 892.2L325.9 895.2L324.6 899.7L324.0 900.9L322.4 902.2L319.5 903.4L317.5 904.8L316.0 905.2Z"/>
<path d="M310.5 835.3L309.5 835.1L307.5 834.1L304.0 834.3L303.0 834.1L299.6 832.2L298.5 830.2L297.8 827.2L298.2 824.2L299.5 821.3L301.0 820.6L302.0 818.7L303.0 817.9L304.5 817.7L310.5 819.0L311.5 819.8L313.0 822.0L314.0 822.3L316.0 822.2L317.0 823.6L317.4 825.2L317.3 825.7L316.0 827.2L315.9 827.7L316.3 829.7L316.2 830.2L314.2 831.7L312.5 834.3L311.5 835.0L310.5 835.3ZM316.0 904.7L312.5 905.0L311.3 904.7L308.5 903.5L303.7 900.2L301.4 897.2L301.2 896.2L301.5 893.7L301.1 891.7L301.4 890.2L302.2 888.2L305.7 884.7L310.5 882.9L313.0 883.2L315.5 882.7L317.0 882.7L318.0 883.3L319.5 884.9L321.5 886.1L323.5 888.7L324.3 891.2L325.2 892.2L325.5 893.2L325.4 894.7L324.0 899.8L323.5 900.7L322.5 901.5L319.5 902.8L317.5 904.2L316.0 904.7Z"/>
<path d="M311.5 834.3L310.5 834.5L308.0 833.5L303.8 833.2L301.3 832.2L300.2 831.2L298.6 827.7L298.7 825.7L299.0 824.7L300.0 823.3L302.4 822.2L302.5 821.7L302.4 819.7L303.0 818.7L303.5 818.4L304.5 818.3L307.0 819.2L310.0 819.8L311.0 820.4L312.5 822.7L313.0 823.1L315.5 823.4L316.1 824.2L316.2 825.2L315.0 827.2L315.1 829.7L313.5 831.7L312.5 833.5L311.5 834.3ZM316.0 904.3L313.0 904.5L310.5 903.4L308.0 902.7L304.0 899.9L302.0 897.2L301.8 896.2L302.0 894.2L301.7 891.7L302.0 890.3L302.8 888.7L305.0 886.1L306.0 885.2L310.0 884.1L313.0 884.0L315.5 883.2L316.5 883.2L317.7 883.7L319.5 885.7L321.5 886.8L322.8 888.7L323.1 889.7L323.0 891.7L324.5 893.2L324.6 893.7L324.0 896.2L323.9 898.2L323.5 899.6L323.0 900.4L322.0 901.2L319.5 902.0L317.3 903.7L316.0 904.3Z"/>
<path d="M311.0 833.8L310.0 833.7L308.0 832.7L305.2 832.7L302.0 831.3L301.0 830.6L299.7 828.2L299.3 826.7L299.5 825.7L300.0 824.8L301.0 823.8L303.4 822.7L303.5 822.2L303.0 820.2L303.5 819.1L304.5 818.9L307.5 820.3L310.0 820.7L311.0 821.5L312.5 823.7L314.5 824.3L314.9 824.7L314.9 825.7L313.7 827.7L314.0 829.7L312.4 832.7L312.0 833.3L311.0 833.8ZM316.0 903.8L313.5 904.0L312.7 903.7L311.5 902.4L311.1 902.2L309.5 902.5L308.5 902.3L304.4 899.7L302.9 897.7L302.4 896.2L302.3 892.2L302.5 890.9L303.0 889.8L305.3 886.7L306.5 885.7L309.0 885.1L313.0 884.6L315.5 883.7L316.5 883.7L317.5 884.2L319.1 886.2L321.0 887.1L322.0 888.2L322.5 889.7L322.2 891.7L323.1 894.2L322.7 895.7L323.2 897.7L323.0 899.2L322.0 900.5L321.0 901.0L319.0 901.4L317.2 903.2L316.0 903.8Z"/>
<path d="M311.5 832.9L311.0 833.1L310.0 832.9L308.0 831.3L306.5 832.0L305.5 831.9L304.5 831.0L302.0 830.4L301.0 829.2L300.1 827.2L300.2 826.2L300.7 825.2L301.5 824.3L304.4 823.2L304.7 822.7L303.9 820.2L304.4 819.7L305.0 819.8L307.0 821.0L310.0 821.6L310.7 822.2L312.0 824.2L313.4 825.2L313.6 825.7L313.4 826.2L310.8 828.2L310.8 828.7L311.0 829.0L312.1 829.7L312.5 830.2L312.3 831.7L311.5 832.9ZM307.8 830.7L308.0 830.0L307.6 829.2L307.0 828.9L306.4 829.2L306.1 829.7L306.3 830.2L307.5 830.9L307.8 830.7ZM316.0 903.4L314.5 903.6L313.2 903.2L312.8 902.7L312.4 901.2L312.0 900.8L311.0 900.9L309.5 901.7L308.0 901.5L304.5 899.3L303.4 897.7L303.0 896.2L302.8 892.7L303.0 891.4L303.5 890.4L305.0 888.7L306.0 887.0L307.0 886.2L313.0 885.1L315.5 884.2L316.5 884.2L317.5 884.8L318.8 886.7L321.0 887.7L321.8 888.7L322.0 889.7L321.6 891.7L322.0 893.7L321.8 896.2L322.4 898.2L322.2 899.2L321.9 899.7L321.0 900.3L319.0 900.4L318.5 900.6L317.0 902.7L316.0 903.4Z"/>
<path d="M304.0 829.8L302.5 829.8L301.5 828.9L300.9 826.7L301.5 825.2L302.0 824.7L303.0 824.3L305.5 824.5L306.4 822.7L307.0 822.3L309.0 822.1L310.0 822.4L310.7 823.2L311.8 825.2L311.9 825.7L311.7 826.2L310.0 827.5L309.0 828.0L307.0 826.9L306.5 826.9L305.0 829.0L304.0 829.8ZM311.0 832.3L310.5 832.2L309.9 831.7L309.8 831.2L310.0 830.6L311.0 830.5L311.5 830.9L311.5 831.7L311.0 832.3ZM316.0 902.9L314.5 903.1L313.6 902.7L313.0 900.7L312.5 900.2L311.0 900.2L309.5 901.0L308.5 901.1L305.5 899.6L304.2 898.2L303.6 896.7L303.3 893.2L303.5 891.8L304.1 890.7L305.7 889.2L306.8 887.2L307.5 886.7L316.0 884.6L317.0 885.0L318.7 887.2L320.5 888.0L321.2 888.7L321.4 889.7L321.1 891.7L321.4 894.2L321.1 896.2L321.2 898.7L320.5 899.3L319.0 899.6L318.0 900.1L316.8 902.2L316.0 902.9Z"/>
<path d="M309.5 826.7L309.0 826.8L308.0 826.3L307.2 825.2L307.0 824.2L307.2 823.7L308.0 823.0L309.5 823.0L310.6 824.2L310.8 825.7L310.5 826.2L309.5 826.7ZM304.0 828.7L303.0 829.1L302.5 828.9L301.9 827.7L301.8 826.7L302.0 825.7L303.0 824.9L303.5 824.9L304.4 825.2L305.0 826.2L305.0 827.2L304.0 828.7ZM316.0 902.2L315.0 902.6L314.5 902.5L314.0 902.0L313.5 900.2L312.7 899.7L311.2 899.7L308.5 900.5L305.5 899.1L304.7 898.2L304.2 897.2L303.8 893.2L303.9 892.2L304.5 891.2L306.0 889.7L307.3 887.7L308.0 887.2L316.0 885.2L317.0 885.7L318.5 887.7L320.5 888.7L320.9 889.7L320.6 891.7L320.9 894.2L320.4 897.7L320.0 898.3L317.5 899.7L316.0 902.2Z"/>
<path d="M309.5 825.8L308.7 825.7L308.2 825.2L308.0 824.6L308.5 823.9L309.5 824.0L309.9 824.7L310.0 825.2L309.5 825.8ZM303.5 827.2L302.9 826.7L303.0 826.2L303.5 826.0L303.8 826.7L303.5 827.2ZM315.0 901.7L314.3 900.2L313.5 899.5L311.5 899.3L308.5 900.0L307.0 899.5L305.7 898.7L304.7 897.2L304.3 893.2L304.8 891.7L306.5 889.9L308.0 887.9L312.5 886.5L316.0 885.8L316.7 886.2L318.0 887.9L320.1 889.2L320.3 889.7L320.1 891.7L320.4 894.7L320.0 896.7L319.5 897.7L317.0 899.4L315.5 901.6L315.0 901.7Z"/>
<path d="M316.0 899.3L315.5 899.5L312.5 898.9L308.5 899.5L306.5 898.8L305.5 897.8L305.2 896.7L304.8 892.7L305.4 891.7L308.5 888.3L313.0 886.8L315.5 886.4L316.5 886.8L317.6 888.2L319.6 889.7L319.6 892.2L320.0 894.2L319.6 896.2L318.5 897.7L316.0 899.3Z"/>
<path d="M311.5 898.7L308.5 899.1L306.5 898.2L305.8 897.2L305.3 893.7L305.3 892.7L308.0 889.4L309.0 888.6L311.0 888.2L313.7 887.2L315.0 887.0L315.9 887.2L318.9 890.2L318.9 891.7L319.6 894.2L319.3 895.7L318.5 896.9L316.5 898.2L311.5 898.7Z"/>
<path d="M309.5 898.7L308.5 898.7L307.5 898.3L306.5 897.2L306.2 895.2L305.8 893.7L306.0 892.5L309.0 889.1L311.5 888.7L314.0 887.8L315.5 887.9L317.3 890.2L319.0 893.7L319.1 894.7L318.8 895.7L318.0 896.5L316.5 897.4L313.0 898.2L309.5 898.7Z"/>
<path d="M311.5 898.2L309.0 898.3L307.6 897.7L307.1 896.7L307.1 895.2L306.4 893.7L306.5 892.7L309.0 889.7L314.5 888.8L315.5 889.5L316.6 891.7L318.3 893.7L318.5 894.8L318.0 895.7L316.5 896.6L311.5 898.2Z"/>
<path d="M312.0 897.8L309.5 898.0L308.5 897.7L308.0 897.2L307.9 896.2L308.7 894.2L307.5 893.4L307.4 892.7L308.6 890.7L309.5 890.0L313.0 889.7L314.0 889.9L314.5 890.3L317.6 894.2L317.5 895.0L316.7 895.7L312.0 897.8Z"/>
<path d="M311.0 897.7L309.5 897.7L308.7 897.2L308.5 896.7L308.9 895.7L310.0 894.2L310.0 893.7L309.0 892.7L308.7 892.2L308.7 891.7L309.3 890.7L310.5 890.3L313.0 890.7L313.6 891.2L314.4 892.7L315.5 893.2L316.4 894.2L316.3 894.7L315.8 895.2L314.5 895.7L312.7 897.2L311.0 897.7Z"/>
</g>
<path d="M291.1,913.7 Q291.1,910.5 302.8,910.5 Q314.5,910.5 314.5,913.7" fill="none" stroke="#2a2a2a" stroke-width="1.4"/>
<rect x="285.5" y="802.2" width="111.5" height="111.5" fill="none" stroke="#6a6a6a" stroke-width="1.1"/>
<line x1="326.7" y1="802.2" x2="326.7" y2="913.7" stroke="#7a7a7a" stroke-width="1.0" />
<line x1="285.5" y1="865.2" x2="397.0" y2="865.2" stroke="#7a7a7a" stroke-width="1.0" />
<text x="286.9" y="818.3" font-size="14" text-anchor="start" font-weight="normal" fill="#231f20" stroke="#231f20" stroke-width="0.28" >27</text>
<text x="391.8" y="816.3" font-size="14" text-anchor="end" font-weight="normal" fill="#231f20" stroke="#231f20" stroke-width="0.28" >2.0</text>
<text x="390.9" y="911.4" font-size="14" text-anchor="end" font-weight="normal" fill="#231f20" stroke="#231f20" stroke-width="0.28" >1.0</text>
<clipPath id="cp13"><rect x="407.9" y="800.9" width="111.2" height="111.1"/></clipPath>
<g clip-path="url(#cp13)" fill="#000" fill-opacity="0.013" stroke="#4a4a4a" stroke-width="0.42">
<path d="M475.5 912.0L467.2 912.0L463.5 910.0L461.0 910.1L457.5 909.2L455.9 909.5L451.5 912.0L432.4 912.3L422.1 912.0L418.6 910.5L415.1 907.5L413.8 906.0L410.9 901.9L408.9 899.9L408.1 898.5L407.9 898.0L407.8 895.0L407.9 882.5L409.2 879.5L412.0 875.5L417.5 869.5L424.9 865.6L436.0 863.0L436.6 862.5L437.0 861.5L436.5 856.5L436.9 851.9L436.5 850.9L434.4 850.2L431.9 848.8L429.9 848.1L427.6 846.4L424.9 845.6L423.4 844.6L420.4 841.5L416.9 837.4L413.9 829.9L414.0 820.4L416.8 812.4L417.9 810.9L421.4 807.5L427.4 803.8L432.3 802.4L435.4 801.2L437.9 800.9L443.0 800.9L445.5 802.0L449.0 802.0L451.5 802.4L452.8 802.9L455.5 804.5L461.0 805.8L465.0 806.2L470.0 806.2L475.0 807.1L477.0 807.8L482.3 810.9L485.1 813.9L487.0 816.9L488.5 821.6L489.6 823.9L489.8 827.9L491.0 830.4L492.6 835.9L494.4 839.4L495.5 844.9L495.9 850.9L495.5 854.9L496.2 859.5L495.7 864.5L495.7 867.5L494.9 870.5L494.0 876.5L493.0 879.5L492.2 884.0L490.5 887.5L489.8 891.5L488.2 895.5L486.5 897.7L484.4 902.0L481.3 905.5L480.0 908.0L477.5 910.2L476.0 912.0L475.5 912.0ZM459.8 857.5L461.5 856.5L461.9 855.4L461.2 852.4L460.9 849.4L460.4 848.4L459.5 848.0L458.0 848.3L456.6 848.9L456.0 849.5L455.7 850.4L458.0 856.5L459.0 857.5L459.8 857.5ZM457.0 868.0L458.0 867.2L458.5 866.3L459.1 864.0L459.0 862.5L458.7 861.5L458.0 860.6L457.5 860.5L456.3 861.0L454.4 863.0L451.5 865.0L450.8 866.0L451.0 867.0L452.0 867.7L453.0 868.2L454.5 868.3L457.0 868.0Z"/>
<path d="M440.5 912.0L428.6 912.0L426.4 910.5L421.4 908.4L417.4 905.7L416.3 904.5L414.5 902.0L413.4 898.5L411.4 896.8L410.5 895.5L410.2 894.0L410.4 890.5L410.0 888.0L411.4 883.9L412.1 881.0L415.4 876.1L417.9 874.2L420.4 871.5L424.9 868.7L428.9 867.3L432.4 866.7L436.0 866.7L439.0 867.3L443.0 867.4L446.0 869.1L449.5 870.3L453.0 873.2L456.0 874.2L458.0 875.3L459.0 875.3L459.8 874.5L461.8 864.0L462.7 861.5L464.5 858.6L464.9 857.5L465.7 850.9L466.8 847.9L466.6 846.4L465.2 844.4L463.5 843.3L460.5 843.0L452.5 844.7L451.0 845.4L449.7 846.4L448.8 847.9L448.9 848.9L449.8 850.4L451.9 852.4L453.5 854.4L454.1 855.9L454.1 857.0L453.1 858.5L449.0 862.2L448.0 862.7L447.0 862.9L445.0 862.6L444.0 862.1L441.0 860.0L440.4 859.0L440.2 857.5L440.2 854.9L440.7 852.9L441.5 851.8L444.1 849.4L444.5 848.4L444.3 847.9L443.0 847.6L440.5 847.8L435.4 846.9L434.4 846.4L431.4 844.3L426.9 843.1L425.9 842.6L423.9 840.3L421.7 838.4L419.4 835.3L417.3 829.9L417.3 826.9L417.9 822.4L417.8 819.4L418.4 816.9L419.6 814.4L423.7 810.4L426.4 809.0L427.9 807.1L428.9 806.4L431.9 805.2L435.4 805.1L438.0 804.3L440.5 804.8L443.5 804.3L449.0 804.3L450.5 804.8L452.5 807.1L454.5 808.0L458.5 808.2L462.0 809.7L467.0 809.3L471.0 810.0L473.5 810.1L475.0 810.5L478.5 812.6L482.0 816.5L484.8 820.9L484.6 828.4L484.7 829.4L486.0 831.9L486.8 834.4L488.9 836.4L489.6 837.4L490.0 840.9L491.0 843.4L491.8 846.9L493.0 850.4L493.0 851.4L492.5 854.9L493.4 860.0L493.2 866.5L492.9 867.5L491.4 870.0L491.4 873.0L490.3 881.0L489.7 883.0L487.0 888.7L485.0 891.4L483.6 894.0L481.8 899.5L481.0 900.5L478.5 902.4L477.4 904.0L476.5 904.6L472.5 906.3L471.0 906.6L469.5 906.6L467.5 906.0L464.5 903.8L460.7 902.0L459.5 901.6L458.5 901.6L457.0 902.5L454.5 906.1L453.0 907.4L448.0 909.6L445.0 910.3L441.0 912.0L440.5 912.0Z"/>
<path d="M435.4 911.0L431.4 911.0L429.4 910.4L424.9 907.6L421.4 906.3L418.4 903.5L416.7 901.5L415.9 900.0L415.2 897.5L413.0 895.0L412.3 893.0L412.4 889.0L413.6 885.0L413.8 882.5L414.2 881.5L416.9 877.9L421.4 873.5L424.4 872.3L426.9 870.4L432.9 868.7L434.9 868.8L443.5 870.0L448.0 871.6L449.0 872.2L451.5 874.5L454.3 876.5L455.5 878.8L456.5 879.7L457.5 880.1L459.0 879.5L461.5 877.0L462.2 876.0L463.4 865.0L466.0 859.0L467.4 853.4L467.7 851.4L469.1 848.4L470.1 844.9L470.2 842.4L469.7 841.4L468.0 840.4L466.5 839.9L465.0 839.8L452.5 842.6L448.5 844.5L445.5 844.1L443.0 844.7L441.0 844.6L437.0 844.9L434.9 844.5L431.9 842.7L428.7 841.4L426.7 839.9L425.4 838.3L423.6 836.4L422.4 834.5L420.6 832.4L420.4 831.4L420.4 828.4L419.6 825.4L419.5 824.4L420.4 820.4L420.8 817.4L421.6 815.9L424.4 812.5L428.9 809.4L431.4 808.5L433.0 807.4L436.0 807.0L438.5 806.2L441.0 806.4L443.5 805.9L448.5 806.2L449.5 806.6L451.5 808.5L454.9 810.4L456.5 810.9L463.0 812.5L466.5 811.5L469.0 811.5L475.5 813.2L477.4 814.4L480.2 817.9L480.8 818.9L482.3 823.9L482.3 825.9L481.8 829.4L482.9 832.4L482.8 834.9L483.1 837.9L483.5 838.5L485.5 839.0L486.3 841.4L487.9 844.4L488.6 846.9L490.7 849.4L491.1 850.4L490.7 853.4L490.7 857.0L491.4 862.5L491.4 865.5L491.0 867.0L489.7 868.5L489.2 869.5L489.6 873.0L488.9 876.5L488.9 879.5L488.2 882.0L486.7 885.0L484.8 887.5L483.5 890.5L480.1 896.0L479.0 898.3L475.0 901.0L472.5 901.7L470.5 901.9L467.3 901.0L466.6 900.5L466.4 899.0L465.7 898.0L461.5 896.1L460.7 896.0L459.0 898.2L456.5 900.2L452.9 904.5L451.5 905.8L447.5 907.2L440.5 910.3L438.5 910.7L435.4 911.0ZM447.5 860.5L446.5 860.7L445.3 860.5L444.0 859.4L442.8 858.0L442.4 857.0L442.3 855.4L442.8 854.4L444.0 853.5L445.5 853.1L449.0 853.2L450.0 853.6L451.0 854.9L451.3 855.9L451.0 857.0L447.5 860.5Z"/>
<path d="M437.5 843.4L434.9 843.1L429.6 839.9L425.0 835.4L422.3 831.4L421.9 830.4L421.6 826.9L421.2 824.4L422.7 817.9L423.7 815.9L424.9 814.0L428.9 811.4L431.9 810.4L433.9 808.8L436.0 808.3L438.0 807.6L444.0 807.2L447.5 808.3L452.0 810.2L458.0 813.3L460.0 813.5L462.5 814.3L463.5 814.4L467.0 813.0L468.5 812.8L474.5 814.7L476.0 815.7L478.7 818.9L479.3 820.4L479.7 822.4L480.5 824.4L480.5 826.9L477.3 835.4L476.5 836.3L474.5 837.7L473.5 838.2L471.0 838.8L470.0 838.7L467.5 837.9L460.0 838.2L457.5 839.7L453.5 840.6L448.5 842.8L446.0 842.7L443.5 843.0L441.5 842.8L439.5 843.3L437.5 843.4ZM437.0 909.5L430.4 908.8L428.9 908.5L425.9 906.2L422.4 904.8L417.6 900.0L416.2 896.5L414.3 894.0L413.9 892.5L414.7 887.5L416.3 881.5L417.7 879.5L421.4 875.3L422.9 874.4L425.9 873.5L427.9 871.9L433.9 870.4L440.0 870.7L444.0 871.5L446.1 872.5L447.5 873.4L449.0 874.9L451.2 876.5L452.5 879.6L454.5 881.1L457.0 883.5L458.2 885.5L459.5 887.0L459.8 890.0L461.0 890.2L463.0 890.1L463.5 889.8L463.7 889.0L463.5 888.0L462.3 885.0L462.1 884.0L462.3 883.0L463.6 880.0L463.6 877.0L464.2 873.5L464.6 867.0L465.0 865.0L466.5 861.3L467.9 856.5L468.9 854.4L469.4 850.9L472.0 846.4L472.7 842.9L473.1 842.4L474.0 842.0L476.5 842.2L477.3 841.9L477.8 841.4L477.9 840.9L478.0 838.9L478.5 838.5L479.5 839.9L480.2 841.9L480.9 842.9L482.0 843.5L484.0 843.5L485.4 844.4L486.0 845.4L486.9 847.9L489.0 849.8L489.5 850.9L489.0 853.4L489.3 859.5L488.4 862.0L488.5 862.5L489.6 864.0L489.8 865.5L488.2 868.5L488.0 869.5L488.4 873.0L487.4 876.5L487.3 880.0L486.5 882.0L484.0 885.5L482.7 889.0L481.4 891.5L479.5 893.7L477.1 895.5L475.9 897.5L475.0 898.5L474.0 899.1L473.0 899.4L471.0 899.0L466.5 894.7L464.5 893.8L463.0 892.6L460.0 892.3L459.0 893.0L457.5 896.2L455.3 899.0L450.5 904.1L448.0 905.3L444.5 907.5L442.0 908.1L439.5 909.1L437.0 909.5Z"/>
<path d="M439.5 842.0L438.0 842.2L435.4 841.7L433.4 840.8L430.9 839.2L426.4 835.4L423.0 830.4L422.6 828.9L422.9 826.4L423.0 820.9L424.6 816.4L425.9 814.7L431.9 811.9L434.4 810.1L436.5 809.7L438.5 808.7L443.0 808.4L451.5 811.1L457.0 814.6L459.5 815.0L463.0 815.9L467.0 814.8L468.5 814.6L471.0 815.4L473.5 815.9L474.5 816.4L477.4 819.4L477.8 820.4L478.0 822.9L478.9 824.9L479.1 826.4L478.5 828.0L477.0 829.4L476.6 832.9L476.1 833.9L475.5 834.5L474.5 834.9L468.5 835.5L466.0 836.1L463.0 836.0L460.0 836.5L459.0 836.8L456.5 838.2L452.5 839.2L448.0 841.2L444.0 841.6L441.5 841.1L439.5 842.0ZM473.5 896.0L472.5 895.8L471.0 894.5L468.5 894.0L466.5 892.1L464.7 887.0L464.0 883.0L465.0 880.0L464.8 876.5L465.5 873.0L465.9 866.5L467.4 862.5L468.3 859.0L470.8 853.9L471.0 851.3L472.0 849.8L474.7 847.4L475.5 844.8L476.5 844.2L478.5 844.1L483.0 845.3L484.0 845.8L484.6 846.4L485.5 849.0L487.7 850.4L487.9 851.4L487.1 853.4L486.8 854.9L487.8 858.0L487.9 859.0L487.3 862.0L488.2 865.5L487.1 869.0L487.4 873.0L485.8 877.0L485.6 881.0L483.1 884.0L481.8 888.0L480.5 890.5L479.5 891.8L478.5 892.5L477.5 892.8L476.5 892.7L475.0 891.7L474.5 891.7L474.0 892.0L473.7 893.0L474.1 895.0L474.0 895.5L473.5 896.0ZM438.5 908.1L436.5 908.3L431.9 907.1L429.2 907.0L427.1 905.5L424.9 904.5L421.4 902.3L419.7 901.0L418.5 899.5L417.3 896.0L415.9 894.0L415.5 893.0L415.8 887.5L416.9 884.6L417.5 882.0L418.6 880.0L421.8 876.5L422.9 875.6L426.5 874.5L429.9 872.6L434.4 871.6L439.5 871.7L443.0 872.5L444.9 873.5L446.4 875.0L449.9 877.5L451.1 880.0L453.5 882.1L454.7 884.5L457.0 886.5L457.7 888.0L456.9 890.0L457.1 892.5L456.7 894.0L454.5 897.5L453.3 899.0L448.0 903.3L446.1 905.5L445.0 906.3L443.5 906.8L441.3 907.0L438.5 908.1Z"/>
<path d="M439.0 841.0L437.5 840.8L433.4 839.3L431.9 838.5L427.4 835.1L424.0 830.4L423.6 828.9L424.3 825.9L423.8 821.4L425.3 816.9L426.4 815.6L429.9 814.2L434.4 811.5L442.0 809.6L443.0 809.6L449.5 811.2L451.0 811.8L452.6 812.9L455.0 815.6L456.0 816.1L458.5 816.2L462.0 816.9L467.5 816.2L472.5 817.0L474.0 817.8L476.3 820.4L477.3 825.9L477.0 826.5L474.5 827.9L474.4 828.9L475.2 830.4L475.4 831.9L475.1 832.9L474.5 833.3L470.0 834.0L467.5 834.1L465.0 834.8L462.0 834.5L460.5 834.6L458.5 835.4L456.0 837.1L452.0 838.0L449.5 839.2L444.5 840.4L441.5 840.1L439.0 841.0ZM470.5 892.5L469.0 892.4L468.0 891.5L466.3 886.5L466.0 883.5L466.4 881.0L465.9 876.5L466.4 873.5L466.9 867.0L468.5 862.5L469.3 859.5L472.0 855.2L474.0 853.6L474.4 852.9L475.4 849.9L477.3 846.4L478.5 845.6L480.5 845.7L482.0 846.2L483.1 846.9L484.2 849.4L485.8 851.4L485.9 851.9L485.4 855.4L486.6 859.0L486.4 862.5L486.7 865.5L486.2 869.5L486.7 872.0L486.6 873.0L484.8 876.5L484.3 881.0L482.0 883.5L481.0 887.2L479.5 889.5L478.5 890.4L477.5 890.7L474.5 890.2L473.0 890.4L472.2 891.0L471.5 892.0L470.5 892.5ZM438.5 907.2L437.5 907.4L436.0 907.2L431.9 905.7L428.9 905.3L425.9 903.9L423.4 902.2L420.9 901.0L419.8 900.0L419.0 898.5L418.3 895.5L417.1 892.5L416.7 889.5L416.7 888.0L417.7 885.5L418.6 881.5L419.3 880.5L420.9 879.0L422.9 876.7L424.4 875.8L427.5 875.0L430.4 873.4L434.4 872.6L438.5 872.6L442.0 873.5L443.5 874.2L445.5 875.8L448.0 877.1L449.0 878.0L450.7 881.0L452.5 883.0L453.6 885.5L455.1 887.5L455.5 888.5L455.8 892.0L455.6 893.0L453.2 897.0L451.7 899.0L449.5 900.8L447.0 902.4L445.8 904.5L445.0 905.3L444.0 905.8L441.0 905.9L438.5 907.2Z"/>
<path d="M440.5 839.5L439.0 839.9L438.0 839.8L432.4 837.4L428.6 834.4L425.1 830.4L424.9 829.4L425.4 827.4L425.5 826.4L424.8 822.4L424.8 821.4L425.9 817.5L426.9 816.4L429.9 815.3L434.9 812.3L438.0 811.7L440.5 811.6L442.5 810.7L443.5 810.7L448.5 811.6L450.0 812.2L452.1 813.9L454.0 816.4L456.0 817.4L457.0 817.7L460.5 817.9L465.0 817.6L467.5 818.1L470.0 818.0L473.5 819.3L474.9 820.9L475.5 823.1L475.6 824.9L475.0 825.9L473.5 826.9L472.8 827.9L472.9 828.9L474.0 830.9L474.0 831.6L473.5 832.2L468.0 832.5L465.0 833.6L463.8 833.4L462.0 832.6L460.5 832.6L458.0 833.7L455.5 835.7L453.5 836.3L449.5 838.0L445.0 839.3L442.0 839.3L440.5 839.5ZM477.0 889.1L472.0 888.9L470.5 888.3L469.8 887.5L468.2 884.0L468.5 880.0L467.2 876.5L467.2 871.5L468.0 866.5L469.8 862.5L470.6 859.5L472.1 857.5L472.9 855.9L474.5 854.4L476.0 852.4L478.0 850.9L478.3 850.4L478.5 847.8L479.0 847.2L480.0 846.9L481.0 847.3L481.5 847.7L484.5 852.4L484.4 855.9L485.4 858.5L485.6 860.0L485.4 869.0L485.9 872.0L485.6 873.0L484.5 874.8L483.9 876.5L483.4 880.5L481.0 883.0L480.4 886.0L479.9 887.0L478.5 888.4L477.0 889.1ZM438.0 906.5L437.0 906.6L435.4 906.3L432.4 904.8L429.4 904.3L426.4 903.2L423.9 901.5L421.0 900.0L420.2 899.0L419.8 898.0L418.6 892.0L417.6 889.0L417.7 888.0L419.4 881.5L423.9 877.0L424.9 876.4L428.3 875.5L430.9 874.2L434.9 873.5L438.0 873.4L441.5 874.5L444.5 876.3L447.0 877.3L448.0 878.0L448.8 879.0L450.5 882.0L452.5 885.0L454.1 889.0L454.5 891.0L454.5 892.0L454.1 893.0L451.7 897.5L450.5 899.0L449.0 900.2L446.0 902.0L444.5 904.4L443.5 904.7L441.5 904.6L438.0 906.5Z"/>
<path d="M439.5 839.0L437.5 838.6L436.2 837.9L434.4 836.2L432.9 836.0L431.9 835.6L427.1 831.4L426.2 829.9L426.4 826.9L425.8 822.4L426.7 817.9L427.4 817.1L430.4 816.0L434.4 813.4L435.4 813.0L438.0 812.7L440.5 812.6L443.0 811.7L448.5 812.3L450.0 813.1L453.5 817.0L457.0 818.8L458.5 819.2L462.0 818.8L464.0 818.9L465.6 819.9L466.9 820.4L472.0 821.0L473.0 821.8L473.7 824.4L473.6 824.9L471.8 827.4L471.0 830.1L465.0 831.9L464.5 831.7L463.2 830.4L462.5 830.4L455.5 833.4L453.5 833.8L451.7 835.9L450.5 836.6L445.0 838.3L439.5 839.0ZM475.0 887.7L473.0 887.9L471.5 887.3L470.8 886.5L469.8 884.0L469.6 883.0L469.9 879.5L469.5 878.0L468.1 875.0L467.9 873.0L468.0 871.0L469.5 865.5L471.4 862.5L471.5 860.0L473.7 856.5L476.0 854.1L477.0 853.5L477.9 853.9L478.9 855.4L479.5 855.9L480.7 855.9L481.4 855.4L480.6 852.4L481.0 851.8L482.0 851.7L482.6 851.9L483.2 852.9L483.2 853.9L482.7 855.4L484.2 858.0L484.6 859.5L484.8 861.0L484.4 868.5L485.0 872.0L483.1 876.5L482.7 880.0L482.0 880.8L480.0 882.0L479.7 882.5L479.5 885.0L479.0 886.0L478.0 886.7L476.5 887.0L475.0 887.7ZM438.5 905.5L437.5 905.9L436.0 905.7L433.0 904.0L429.9 903.7L425.9 902.1L423.9 900.5L421.5 899.0L420.6 897.5L419.9 895.5L419.7 894.0L419.8 891.5L418.8 888.0L419.5 883.5L420.0 882.0L420.8 881.0L424.9 877.2L428.4 876.2L431.4 874.9L436.5 874.2L438.0 874.2L442.0 875.7L444.1 877.0L447.0 878.0L448.4 879.5L450.1 883.0L451.9 885.5L453.3 890.0L453.2 892.0L451.6 895.0L450.7 897.5L450.0 898.5L448.5 899.7L445.5 901.5L444.0 903.2L443.0 903.5L441.0 903.6L438.5 905.5Z"/>
<path d="M442.0 838.0L439.5 838.2L437.5 837.6L435.3 835.4L432.4 834.5L430.9 833.2L428.9 831.9L427.8 830.9L427.2 829.9L426.8 822.9L427.6 818.4L428.4 817.7L431.4 816.3L434.4 814.3L435.4 813.9L441.0 813.5L443.5 812.5L448.5 813.2L449.4 813.9L450.5 815.4L453.0 817.4L455.6 818.9L458.0 820.8L458.5 820.8L460.5 819.9L462.0 819.9L464.0 821.3L466.5 821.4L470.0 822.4L471.0 823.4L471.5 824.9L471.4 825.9L470.0 828.4L468.6 829.4L467.0 830.1L466.0 830.1L465.5 829.8L463.8 827.9L462.5 827.6L461.5 828.0L459.5 830.0L457.5 830.6L455.0 831.9L452.4 832.4L451.9 832.9L451.2 834.9L450.5 835.5L446.0 837.2L442.0 838.0ZM458.3 829.4L458.7 828.9L458.8 828.4L458.5 827.8L458.0 827.5L457.5 827.5L457.0 828.2L457.0 829.1L457.5 829.7L458.3 829.4ZM474.0 886.6L473.0 886.8L472.3 886.5L471.3 885.0L470.9 883.0L470.7 879.0L470.2 877.5L468.8 874.5L468.5 872.0L470.7 865.5L472.5 863.0L472.3 860.5L472.6 859.5L475.0 856.1L476.0 855.3L477.0 855.2L479.0 857.2L480.0 857.5L481.5 857.4L482.5 857.6L483.1 858.0L483.7 859.0L483.9 861.0L483.4 864.0L483.3 868.5L483.9 872.0L482.3 876.5L481.9 879.5L481.0 880.2L478.9 881.0L476.7 884.5L475.1 886.0L474.0 886.6ZM437.5 905.1L436.0 904.8L433.4 903.3L430.4 903.2L428.9 902.6L426.4 901.4L422.0 898.0L421.0 896.5L420.5 895.0L420.7 891.0L419.9 887.9L419.8 886.5L420.1 883.5L420.7 882.0L425.1 878.0L431.4 875.7L437.5 874.9L439.0 875.3L444.0 877.6L446.0 878.2L447.3 879.0L448.5 881.0L449.8 884.0L451.3 886.0L452.4 891.0L452.1 892.0L450.8 894.5L450.1 897.0L449.0 898.5L443.5 902.3L440.5 902.9L438.5 904.6L437.5 905.1Z"/>
<path d="M443.0 837.1L440.5 837.4L438.5 837.0L436.0 835.0L432.9 833.8L431.4 832.6L428.8 830.9L428.1 829.9L427.9 828.9L427.9 824.4L427.7 822.4L428.1 819.9L428.4 818.9L429.0 818.4L431.4 817.2L434.4 815.1L435.4 814.7L437.8 814.9L441.0 814.3L444.0 813.3L448.0 814.6L455.2 819.4L456.3 820.9L456.3 823.4L456.9 825.4L455.5 829.4L454.9 830.4L454.2 830.9L452.5 831.3L451.5 831.8L449.9 834.4L446.5 836.1L443.0 837.1ZM468.0 828.6L467.0 828.9L466.5 828.8L464.5 826.4L463.5 825.9L462.5 825.9L460.5 826.8L459.4 826.4L458.9 825.4L459.7 823.9L459.9 821.9L460.2 821.4L461.0 821.0L461.5 821.1L463.0 823.0L464.0 823.1L466.5 822.5L467.8 822.9L469.0 823.6L469.9 824.9L470.0 826.4L469.4 827.4L468.0 828.6ZM474.0 885.2L473.0 885.4L472.3 884.5L471.5 879.0L469.5 874.1L469.3 872.5L471.5 866.0L473.7 863.5L473.3 861.0L473.4 860.0L475.5 857.0L476.5 856.4L477.5 857.0L479.0 858.8L479.5 858.9L482.0 858.4L482.5 858.7L483.0 859.5L483.1 861.0L482.1 864.0L482.4 866.5L482.3 869.5L482.8 872.0L482.4 874.0L481.2 876.5L480.9 878.5L480.6 879.0L478.5 880.1L475.5 882.5L474.0 885.2ZM437.5 903.6L433.4 902.7L430.9 902.7L429.4 902.3L427.2 901.0L422.7 897.5L421.6 896.0L421.2 895.0L421.4 890.5L420.6 886.0L420.7 884.0L421.3 882.5L425.6 878.5L428.9 877.5L431.9 876.3L437.5 875.6L438.5 875.8L444.0 878.2L446.0 878.8L446.9 879.5L448.1 881.5L449.1 884.5L450.5 886.5L451.3 891.0L451.1 892.0L450.0 894.5L449.5 896.5L448.5 897.9L443.5 901.4L442.5 901.8L440.0 902.3L437.5 903.6Z"/>
<path d="M442.0 836.5L440.5 836.4L437.6 834.9L433.9 833.6L429.2 830.4L428.7 829.4L428.4 827.9L428.5 826.4L429.1 824.4L428.5 822.4L428.5 821.4L428.8 819.9L429.4 819.1L431.4 818.1L434.4 815.8L435.4 815.5L438.5 815.7L441.5 815.1L444.0 814.2L448.5 816.0L454.7 819.9L455.2 820.9L455.1 823.4L455.6 825.9L454.7 828.9L454.0 829.9L451.5 830.9L449.3 833.4L447.1 834.9L442.0 836.5ZM468.0 827.0L467.5 827.2L467.0 827.0L466.5 826.2L466.0 824.9L466.5 824.2L467.5 824.3L468.5 825.4L468.6 826.4L468.0 827.0ZM475.5 881.1L474.0 881.4L473.5 881.2L473.1 880.5L470.4 873.5L470.4 872.0L471.5 868.5L472.5 866.4L473.5 865.9L475.0 866.5L475.5 866.4L476.1 865.5L475.8 863.5L476.0 862.3L478.0 860.9L479.5 860.9L480.7 861.5L480.2 864.0L480.3 864.5L481.3 866.0L481.6 867.0L481.6 868.5L481.1 870.5L481.5 873.0L481.0 874.2L480.5 874.5L479.0 873.4L478.5 873.4L478.0 873.7L477.7 874.5L477.7 875.0L479.2 877.0L479.4 878.0L479.1 878.5L477.0 880.2L475.5 881.1ZM436.5 902.1L434.9 902.3L429.9 902.0L428.3 901.0L426.8 899.5L424.4 898.2L423.2 897.0L422.1 895.5L421.8 894.5L422.0 890.5L421.4 884.5L421.6 883.5L422.2 882.5L425.9 879.2L428.4 878.6L432.4 876.8L437.5 876.3L441.5 877.6L443.5 878.6L445.5 879.3L446.5 880.1L447.6 882.0L448.5 885.4L449.7 887.5L450.1 891.5L450.0 892.5L448.5 896.4L445.4 899.5L442.5 901.0L436.5 902.1Z"/>
<path d="M443.0 835.4L441.5 835.7L439.0 834.5L434.4 833.3L430.2 830.4L429.5 829.4L429.1 827.9L429.2 826.9L429.4 826.3L431.0 824.9L431.1 824.4L429.4 822.4L429.2 821.4L429.4 820.5L429.9 819.8L431.9 818.8L433.7 816.9L434.9 816.2L439.0 816.4L441.0 816.0L443.5 815.0L444.5 815.0L448.5 816.7L452.9 819.4L453.9 820.4L454.1 821.4L453.6 824.4L454.1 825.9L454.1 826.9L454.0 827.9L453.5 828.8L451.5 830.0L449.0 832.7L447.5 833.8L446.5 834.3L443.0 835.4ZM476.0 879.6L475.0 879.7L474.5 879.5L474.0 878.9L473.8 877.5L474.5 875.5L474.5 874.5L474.0 873.4L472.3 872.0L472.0 871.0L472.0 870.0L472.5 868.5L473.0 867.7L473.5 867.5L475.5 867.6L478.0 865.7L480.0 866.5L480.5 867.0L480.7 868.0L480.5 869.0L478.4 871.0L476.7 874.0L476.6 875.0L478.0 877.5L477.7 878.5L476.0 879.6ZM436.0 901.5L431.4 901.7L429.9 901.5L428.9 900.8L427.4 899.2L425.2 898.0L424.0 897.0L423.0 895.5L422.5 894.0L422.4 884.5L422.5 883.5L422.9 882.8L425.9 880.2L428.4 879.7L430.9 878.0L432.4 877.4L436.5 877.0L441.1 878.0L445.6 880.5L447.0 883.0L448.4 887.5L448.4 890.0L449.0 892.5L448.0 895.0L446.0 898.0L445.0 899.1L444.0 899.7L440.5 900.7L436.0 901.5Z"/>
<path d="M443.0 834.6L441.5 834.7L440.0 834.1L437.0 833.5L434.4 832.8L433.4 832.2L430.5 829.4L430.2 828.4L430.2 827.4L431.9 825.6L432.3 824.9L432.5 823.9L431.9 823.0L430.4 822.0L430.4 821.0L431.9 820.0L433.9 817.4L434.9 816.8L436.0 816.6L438.0 817.1L439.5 817.1L441.5 816.6L443.5 815.7L444.5 815.7L448.5 817.4L452.7 820.4L452.9 821.4L452.6 822.4L451.0 825.9L451.6 827.9L450.9 829.4L449.3 831.4L448.0 832.6L446.0 833.7L443.0 834.6ZM476.5 871.2L476.0 871.2L475.5 870.9L474.7 870.0L474.7 869.5L477.5 867.4L478.0 867.2L479.0 867.4L479.4 868.0L479.4 868.5L476.5 871.2ZM436.0 901.0L431.4 901.2L429.9 900.9L428.1 899.0L424.8 897.0L423.4 894.5L422.9 892.5L423.0 888.5L423.3 886.5L423.2 884.0L423.7 883.0L425.9 881.1L426.9 880.9L428.9 881.0L430.1 879.5L431.3 878.5L432.9 877.8L434.4 877.5L436.5 877.6L441.0 878.5L442.4 879.5L445.5 882.6L446.5 884.0L447.1 886.0L447.5 888.0L447.3 890.0L448.0 892.5L447.5 894.0L445.4 897.5L444.5 898.5L443.5 898.9L442.0 899.0L440.0 900.1L436.0 901.0Z"/>
<path d="M444.0 833.5L442.5 833.7L441.0 833.4L438.0 833.2L434.9 832.5L433.4 831.6L431.6 829.4L431.5 827.9L432.9 825.1L433.3 823.9L433.3 822.9L432.9 821.4L433.1 819.9L433.7 818.4L434.7 817.4L436.0 817.2L438.0 817.8L439.0 817.9L441.5 817.3L443.5 816.3L444.5 816.3L447.2 817.4L448.0 817.9L448.9 818.9L448.9 819.4L448.4 820.4L448.4 821.4L449.0 822.0L450.5 822.2L450.7 822.4L450.8 822.9L449.8 825.9L449.9 829.4L449.0 830.9L448.0 831.8L446.0 832.9L444.0 833.5ZM436.0 900.5L433.9 900.8L431.4 900.7L430.4 900.5L428.4 898.6L425.9 897.3L425.1 896.5L423.6 893.5L423.3 892.0L423.5 889.5L424.1 887.0L424.0 884.0L424.5 883.0L425.4 882.2L426.4 881.7L429.4 881.9L430.6 880.0L431.4 879.1L432.9 878.3L434.4 878.0L440.0 878.8L441.5 879.5L442.9 882.0L445.0 883.4L446.0 884.4L446.5 885.5L446.8 887.0L446.5 890.0L447.1 892.0L447.0 893.0L445.0 896.9L444.0 897.7L442.0 898.0L439.5 899.6L436.0 900.5Z"/>
<path d="M443.5 833.0L441.5 832.4L438.5 832.8L435.4 832.2L433.9 831.5L432.6 829.9L432.2 828.9L432.4 827.4L434.4 822.9L435.9 821.4L434.9 821.3L434.1 820.4L434.1 818.9L434.9 817.9L435.4 817.7L436.4 817.9L438.0 819.5L440.0 818.5L442.0 818.0L444.0 816.9L445.0 817.0L446.0 817.4L447.2 818.4L447.4 821.4L448.7 823.4L449.1 824.4L449.0 829.4L448.5 830.4L447.4 831.4L445.0 832.7L443.5 833.0ZM436.0 900.1L433.9 900.3L431.1 900.0L429.3 898.5L426.3 897.0L425.1 895.5L423.9 893.0L423.8 892.0L423.9 890.4L425.0 887.5L424.5 884.5L424.9 883.5L425.4 882.9L426.4 882.4L427.4 882.4L428.9 882.7L429.9 882.5L431.4 879.9L432.9 878.9L434.4 878.5L435.4 878.6L437.5 879.3L439.5 879.3L440.5 879.6L441.0 880.0L442.5 882.5L445.5 884.6L446.0 885.5L446.3 886.5L445.8 890.0L446.3 892.0L446.3 893.0L445.0 895.9L444.0 896.8L442.0 897.3L439.5 899.0L436.0 900.1Z"/>
<path d="M445.0 832.1L443.5 832.3L441.5 831.4L438.5 832.3L434.9 831.5L433.4 830.4L432.9 829.4L432.7 828.4L433.7 825.4L434.9 823.4L437.0 822.2L440.0 819.4L441.0 819.0L442.7 818.9L443.8 817.9L444.5 817.7L445.5 817.9L446.3 818.9L446.8 821.4L448.0 823.9L448.3 825.4L447.9 829.9L447.0 830.9L445.0 832.1ZM435.4 819.7L434.9 819.4L434.9 818.9L435.4 818.6L436.0 818.9L435.9 819.4L435.4 819.7ZM436.0 899.6L433.9 899.7L431.9 899.3L426.4 896.5L425.6 895.5L424.4 893.0L424.2 892.0L424.5 890.5L426.0 888.0L425.9 887.0L425.2 885.0L425.3 884.0L425.7 883.5L426.9 882.9L429.4 883.5L429.9 883.4L430.4 882.9L431.9 880.2L432.9 879.5L434.4 879.1L435.4 879.3L437.0 880.2L439.0 880.0L440.0 880.2L442.0 882.6L445.0 884.7L445.6 885.5L445.8 886.5L445.8 887.5L445.2 890.0L445.6 893.0L444.6 895.5L444.0 896.1L441.5 897.0L439.0 898.6L436.0 899.6Z"/>
<path d="M445.0 831.6L443.5 831.7L441.5 830.6L440.5 830.8L439.0 831.6L437.5 831.5L434.4 830.7L433.4 829.4L433.2 828.4L433.4 827.4L434.6 824.4L435.4 823.6L437.7 822.4L439.5 820.5L440.5 819.8L441.5 819.7L443.0 819.9L445.0 819.3L445.5 819.8L447.2 823.9L447.5 825.4L447.2 829.4L446.6 830.4L445.0 831.6ZM436.0 899.0L433.9 899.0L427.1 896.5L425.9 895.2L424.7 892.0L424.9 891.0L426.4 889.0L426.9 887.5L426.8 886.5L426.0 885.0L426.2 884.0L426.9 883.6L427.9 883.8L428.7 884.5L428.9 885.3L429.4 885.5L429.9 885.1L431.9 880.9L432.9 880.1L433.9 879.7L435.2 880.0L437.0 881.6L437.5 881.7L439.0 881.1L439.5 881.1L442.3 883.5L444.5 884.8L445.1 885.5L445.4 886.5L445.4 887.5L444.7 890.5L444.9 893.5L444.4 895.0L443.9 895.5L441.5 896.4L439.5 897.7L436.0 899.0Z"/>
<path d="M445.0 831.0L444.0 831.1L442.5 830.1L441.5 829.8L440.5 830.0L438.5 830.8L434.9 830.4L433.9 829.5L433.7 828.4L434.0 826.9L434.8 824.9L435.8 823.9L438.5 822.6L440.5 820.6L441.5 820.4L444.5 820.7L445.0 821.0L446.5 823.7L446.8 825.4L446.3 827.4L446.4 829.4L445.8 830.4L445.0 831.0ZM437.0 898.0L434.9 898.4L432.9 897.6L430.4 897.2L427.9 896.4L426.9 895.8L426.4 895.1L425.3 892.5L425.4 891.3L426.8 889.5L427.9 887.2L430.3 886.0L432.2 881.5L432.9 880.7L433.9 880.4L434.9 880.7L436.5 882.3L437.5 882.5L439.0 882.3L440.0 882.5L444.0 885.0L444.6 885.5L445.0 886.5L445.0 887.7L444.2 890.5L444.3 893.5L444.0 894.5L443.5 895.0L441.5 895.8L439.5 897.0L437.0 898.0Z"/>
<path d="M439.0 829.5L435.4 829.8L434.4 829.1L434.3 827.9L434.4 826.9L435.3 824.9L436.0 824.3L439.0 823.3L441.0 821.2L442.0 821.2L444.5 821.8L445.1 822.4L445.8 823.9L446.0 824.9L445.8 825.4L445.5 825.7L443.5 825.5L442.5 825.9L442.4 826.4L442.9 828.4L442.5 828.7L439.0 829.5ZM445.0 830.1L444.5 830.3L444.0 830.2L443.3 828.9L444.0 828.6L445.0 828.6L445.4 828.9L445.5 829.4L445.0 830.1ZM436.0 897.6L434.9 897.5L433.4 896.8L430.4 896.6L427.9 895.7L426.9 894.8L426.1 892.5L426.2 891.5L427.9 888.4L428.4 887.8L430.5 886.5L431.1 885.5L432.4 882.0L433.4 881.1L434.4 881.3L435.7 882.5L436.5 882.8L440.0 883.4L443.9 885.5L444.6 886.5L444.5 888.0L443.6 891.0L443.4 894.0L443.0 894.5L441.0 895.3L439.1 896.5L436.0 897.6Z"/>
<path d="M444.5 824.2L443.5 824.3L442.5 823.9L441.8 822.9L442.0 822.4L443.0 822.3L444.0 822.6L444.6 823.4L444.5 824.2ZM437.0 828.5L435.4 828.6L435.0 827.9L435.3 825.9L436.0 825.0L436.5 824.7L437.5 824.7L438.2 824.9L439.0 825.9L440.5 826.7L440.9 827.4L440.7 827.9L440.0 828.2L438.0 828.2L437.0 828.5ZM436.5 896.5L435.4 896.5L433.9 895.8L431.9 896.1L430.4 895.8L427.9 894.1L427.4 892.5L427.4 891.0L428.3 889.0L430.9 886.5L432.4 883.0L433.4 881.9L433.9 881.9L436.0 883.1L438.5 883.7L441.0 885.2L443.0 885.6L443.6 886.0L444.1 887.0L442.7 893.5L442.0 894.0L440.3 894.5L438.5 895.9L436.5 896.5Z"/>
<path d="M437.5 895.1L436.9 895.0L436.0 893.9L434.9 893.4L434.4 893.5L432.7 895.0L431.4 895.1L429.9 894.0L428.4 892.0L428.3 891.0L428.6 890.0L431.4 886.5L432.5 884.0L433.4 882.8L433.9 882.8L437.7 884.0L440.1 886.0L443.0 886.5L443.4 887.0L443.4 888.5L442.5 892.0L442.0 893.0L439.5 893.9L437.5 895.1Z"/>
<path d="M432.4 894.0L431.4 894.1L430.4 893.3L429.5 892.0L429.4 891.0L430.7 888.0L432.9 884.1L433.4 883.7L434.4 883.5L437.0 884.1L438.0 884.8L439.5 886.5L442.1 887.5L442.6 888.0L442.7 889.0L442.4 890.5L442.0 891.8L441.5 892.5L438.0 893.8L437.0 893.7L435.4 892.9L434.4 892.7L433.8 893.0L432.4 894.0Z"/>
<path d="M438.5 893.1L437.5 893.2L434.4 892.2L433.4 892.3L431.9 893.0L431.1 892.5L430.9 892.0L431.0 888.5L433.4 884.4L434.4 884.0L436.7 884.5L437.4 885.0L438.5 886.7L441.0 887.8L441.8 888.5L442.0 890.0L441.5 891.6L440.5 892.4L438.5 893.1Z"/>
<path d="M438.5 892.6L437.5 892.7L432.9 891.4L431.9 890.5L431.4 889.0L431.6 888.0L433.1 885.5L433.9 884.6L434.9 884.4L436.5 884.8L437.2 885.5L438.0 887.5L440.0 888.0L441.3 889.0L441.5 890.0L441.0 891.3L440.1 892.0L438.5 892.6Z"/>
</g>
<path d="M421.2,912.0 Q421.2,908.8 432.4,908.8 Q443.5,908.8 443.5,912.0" fill="none" stroke="#2a2a2a" stroke-width="1.4"/>
<rect x="407.9" y="800.9" width="111.2" height="111.1" fill="none" stroke="#6a6a6a" stroke-width="1.1"/>
<line x1="461.4" y1="800.9" x2="461.4" y2="912.0" stroke="#7a7a7a" stroke-width="1.0" />
<line x1="407.9" y1="869.2" x2="519.1" y2="869.2" stroke="#7a7a7a" stroke-width="1.0" />
<text x="409.4" y="817.4" font-size="14" text-anchor="start" font-weight="normal" fill="#231f20" stroke="#231f20" stroke-width="0.28" >16</text>
<text x="513.1" y="817.4" font-size="14" text-anchor="end" font-weight="normal" fill="#231f20" stroke="#231f20" stroke-width="0.28" >14</text>
<text x="512.1" y="908.5" font-size="14" text-anchor="end" font-weight="normal" fill="#231f20" stroke="#231f20" stroke-width="0.28" >7.9</text>
<clipPath id="cp14"><rect x="528.5" y="802.9" width="111.5" height="112.3"/></clipPath>
<g clip-path="url(#cp14)" fill="#000" fill-opacity="0.013" stroke="#4a4a4a" stroke-width="0.42">
<path d="M583.0 915.2L565.5 915.6L538.5 915.5L530.4 915.2L528.5 913.9L528.2 906.2L528.1 890.6L528.5 871.9L530.0 870.7L532.0 868.1L536.3 865.6L541.0 860.7L543.0 857.5L544.0 855.0L546.4 852.0L547.5 848.0L547.1 846.5L545.5 844.7L544.2 843.5L541.5 841.9L539.4 840.0L537.9 838.5L535.4 835.0L533.3 830.0L532.6 827.5L532.7 824.0L533.1 820.4L533.7 818.4L537.5 812.1L539.0 810.8L542.0 808.8L544.5 806.6L547.0 805.4L554.5 803.7L558.5 804.0L565.5 803.9L567.0 804.2L570.5 806.2L573.0 807.2L574.5 808.0L576.0 809.4L577.9 811.9L579.8 813.4L583.0 816.9L583.4 817.9L584.1 822.5L585.0 825.0L584.8 827.0L583.9 829.5L583.4 832.0L582.6 834.0L579.5 838.7L577.2 841.5L576.6 843.0L576.4 844.5L577.7 847.5L582.3 853.0L583.5 856.0L585.0 859.0L585.5 862.1L585.4 867.1L586.0 869.4L588.3 872.1L589.6 874.1L590.9 875.1L592.0 875.2L593.0 875.1L600.1 872.6L601.3 871.6L602.8 869.1L602.8 868.1L602.5 867.6L600.0 865.2L597.5 860.1L596.1 855.5L596.1 853.0L595.3 850.0L594.8 845.0L594.9 844.0L595.9 841.5L596.1 839.0L596.6 837.5L600.0 831.6L603.0 828.4L604.5 827.2L606.5 826.6L608.5 826.6L611.5 827.7L614.0 828.4L615.0 828.9L617.0 831.3L618.8 833.0L619.7 834.5L620.2 837.0L621.7 840.5L622.8 845.5L621.9 854.0L621.5 856.0L619.2 862.1L618.6 863.1L613.5 867.7L611.3 868.6L609.8 869.6L608.9 870.6L608.8 871.1L609.3 872.1L612.5 873.9L616.0 876.7L617.3 878.1L618.3 879.6L618.9 881.6L619.5 885.6L619.3 888.6L618.7 890.6L617.8 892.1L615.9 894.1L612.0 897.0L610.5 897.7L603.5 898.6L599.5 898.7L594.5 899.3L594.0 899.7L593.1 902.2L591.6 904.2L590.3 906.7L587.7 910.7L585.1 913.7L583.0 915.2Z"/>
<path d="M575.0 915.2L557.0 915.5L537.6 915.2L536.0 913.2L533.5 912.6L532.7 912.2L531.0 909.9L528.5 907.8L528.2 890.6L528.5 878.3L529.7 877.1L530.9 875.1L534.0 871.4L535.0 870.7L539.5 868.7L542.6 866.1L543.3 865.1L545.0 860.6L546.5 858.4L547.6 856.0L550.4 852.0L552.5 850.3L553.3 848.5L553.1 847.0L552.0 845.4L550.9 844.5L548.0 843.2L544.6 840.0L542.1 838.5L538.0 833.3L536.5 830.5L535.9 828.0L535.9 826.5L536.8 819.9L539.5 814.6L541.8 812.9L545.5 809.6L548.0 808.0L551.0 807.8L554.5 806.5L562.5 806.6L565.5 807.0L567.0 807.5L571.0 809.8L573.3 811.9L577.5 814.7L580.3 818.4L580.8 819.9L581.4 824.0L581.3 827.5L580.7 830.5L577.3 837.0L572.0 841.5L570.1 843.5L569.7 844.5L570.0 845.5L570.8 846.5L574.5 848.9L575.7 850.0L579.6 855.5L581.7 859.0L582.5 861.6L581.7 865.6L582.1 870.1L583.5 873.7L585.5 877.6L586.5 878.5L587.5 879.0L589.0 879.3L591.0 879.4L593.5 878.7L596.8 878.6L599.5 876.5L601.0 876.1L608.5 876.1L610.2 876.6L613.5 879.1L614.6 880.1L615.3 881.6L615.4 884.1L615.9 886.6L615.8 887.6L613.6 891.6L612.5 892.9L609.0 894.7L606.5 895.4L605.0 895.6L602.0 895.6L599.5 895.1L596.5 895.0L593.0 893.6L592.0 893.5L591.5 893.7L589.5 896.7L587.5 902.2L586.0 904.4L584.5 907.2L580.0 912.5L575.0 915.2ZM607.5 863.6L606.0 863.6L605.0 863.1L603.9 861.1L602.0 860.1L601.0 858.9L600.6 857.5L600.2 854.0L598.7 851.0L598.2 845.5L598.4 844.5L599.5 842.1L599.8 839.5L600.9 837.5L604.0 834.6L606.3 832.0L607.5 831.4L609.5 831.3L611.5 831.6L612.9 832.5L614.5 835.0L616.5 837.4L618.4 841.0L619.0 843.5L619.2 848.5L619.0 852.5L618.6 854.0L618.0 855.2L615.5 859.0L615.0 861.6L614.5 862.2L613.5 862.6L609.5 862.9L607.5 863.6Z"/>
<path d="M569.0 915.2L557.0 915.4L541.9 915.2L539.0 913.3L536.5 911.1L532.0 907.8L530.2 905.7L528.5 903.1L528.3 890.6L528.5 883.6L529.6 882.6L530.7 880.6L532.5 878.4L533.8 875.6L534.5 874.7L539.0 872.2L541.8 870.1L543.0 869.0L546.0 865.6L546.7 864.1L546.8 862.1L547.1 861.1L548.9 858.5L550.2 856.0L554.5 850.7L557.5 848.5L558.7 846.0L558.4 844.5L557.0 843.2L556.0 843.0L553.5 843.3L551.5 842.7L549.0 841.5L546.7 839.5L543.4 837.5L542.6 836.5L541.0 833.5L539.3 831.0L538.3 828.5L538.6 821.4L541.0 816.3L543.4 814.4L545.0 811.9L547.0 810.3L548.5 809.7L551.5 809.7L554.0 808.4L555.0 808.1L559.5 808.2L565.0 809.0L569.5 810.4L570.5 811.1L572.5 813.1L576.9 816.4L579.0 820.5L579.7 822.5L578.9 830.0L578.3 831.5L576.9 834.0L574.2 837.5L573.0 838.7L569.5 840.6L566.5 841.3L565.5 841.8L563.6 844.5L563.2 845.5L563.5 846.1L565.5 847.3L566.9 848.5L570.5 849.3L572.0 850.0L574.2 852.5L577.0 854.5L578.0 856.0L579.7 862.1L579.6 863.1L578.6 865.1L578.7 867.6L578.1 870.1L578.5 870.9L580.5 873.1L582.8 879.1L584.8 882.1L585.7 885.1L587.0 887.6L587.2 888.6L586.3 892.6L586.7 895.1L585.8 897.7L585.4 900.7L582.8 905.7L577.3 910.7L575.0 912.4L572.0 914.3L569.0 915.2ZM610.0 835.6L608.5 835.7L608.1 835.5L608.0 835.0L609.0 834.8L609.9 835.0L610.1 835.5L610.0 835.6ZM610.0 859.1L609.0 859.2L607.5 859.0L604.0 857.5L603.2 857.0L602.7 856.0L602.1 853.5L601.0 850.5L600.9 846.5L602.1 844.0L603.0 840.3L603.6 839.0L604.4 838.0L606.0 837.3L611.0 837.6L613.0 838.4L614.0 839.4L615.3 841.5L616.1 843.5L616.4 847.0L616.1 849.5L616.4 852.0L616.2 853.0L613.5 856.6L611.5 858.3L610.0 859.1ZM605.5 893.7L603.5 893.5L600.0 892.3L596.5 892.1L595.5 891.5L594.0 889.7L592.0 889.4L591.0 888.9L590.8 888.1L591.5 887.3L592.5 887.1L594.0 887.6L594.2 886.6L593.6 885.1L593.5 884.1L593.8 883.1L594.5 882.1L595.9 881.1L598.5 880.1L600.5 878.6L601.5 878.2L603.5 878.1L605.5 878.3L607.5 878.9L612.0 882.1L612.7 883.1L613.1 885.6L613.2 887.1L612.9 888.6L612.0 889.8L610.1 891.6L605.5 893.7Z"/>
<path d="M560.0 842.5L559.0 842.4L557.0 841.6L554.0 842.0L552.5 841.8L545.0 837.4L543.7 836.0L542.9 834.0L541.3 831.5L540.3 829.5L539.9 828.0L539.8 823.0L540.3 820.9L542.0 817.4L544.5 814.9L546.5 812.0L548.0 811.1L549.0 810.9L551.5 811.1L552.5 810.8L555.0 809.4L558.0 809.2L565.0 810.2L568.5 811.1L570.0 812.0L575.5 817.3L576.6 819.9L578.0 822.1L578.2 823.0L578.0 827.0L577.2 830.5L576.3 832.5L573.0 836.9L572.0 837.8L569.0 839.2L565.0 840.3L562.0 841.8L560.0 842.5ZM608.5 856.7L607.0 856.8L605.4 855.5L605.0 854.5L604.8 853.0L603.7 850.5L604.7 845.0L604.7 842.0L605.7 840.5L607.0 840.0L609.0 840.3L611.5 840.2L612.5 840.6L614.0 842.5L614.4 844.5L614.1 849.0L614.5 851.5L614.1 853.0L612.5 854.8L610.0 855.5L608.5 856.7ZM566.0 915.2L547.7 915.2L546.5 914.4L543.5 913.7L541.8 912.7L539.0 911.5L538.0 910.8L535.4 908.2L534.5 906.0L533.0 905.5L532.0 904.8L529.3 900.7L528.5 898.3L528.5 887.3L528.8 885.6L530.9 883.6L533.5 880.2L535.5 875.9L537.5 874.8L540.1 874.1L542.0 872.1L544.5 870.8L545.4 870.1L546.6 867.6L548.6 865.1L548.8 864.1L548.9 861.6L551.3 857.0L553.7 854.5L555.1 852.5L559.5 849.3L561.5 848.7L564.0 849.0L566.5 849.9L570.0 850.7L571.0 851.5L572.5 854.0L573.5 854.6L575.5 855.2L576.4 856.0L576.9 857.5L577.5 861.1L577.4 862.1L576.6 864.6L576.7 867.1L576.2 870.1L576.3 871.6L577.3 874.1L578.9 876.1L579.5 878.2L583.0 882.9L583.6 884.6L583.5 887.1L583.9 890.1L584.0 898.2L583.8 899.7L583.4 900.7L582.0 902.7L580.0 904.8L578.9 906.7L575.8 910.2L571.0 913.2L567.6 914.2L566.0 915.2ZM606.5 890.3L604.0 890.5L601.0 889.9L599.0 889.9L597.9 889.6L597.3 889.1L596.9 888.1L596.6 885.1L596.7 884.1L597.6 883.1L601.0 880.7L602.5 880.1L603.5 880.2L606.5 881.7L608.5 883.1L610.2 883.6L610.7 884.1L611.1 885.1L611.2 886.1L611.0 887.1L610.5 887.7L607.5 889.9L606.5 890.3Z"/>
<path d="M560.5 841.1L559.5 841.2L557.0 840.5L553.5 840.9L552.5 840.5L551.0 839.4L546.0 837.1L544.8 836.0L543.9 833.5L542.2 831.0L541.1 827.5L541.1 823.0L541.4 821.4L543.0 817.9L546.5 813.6L548.0 812.4L549.0 812.2L551.5 812.2L553.0 811.8L555.5 810.6L558.5 810.2L565.0 811.1L568.0 811.9L569.5 812.9L574.0 817.5L574.6 818.4L575.6 820.9L576.7 823.0L577.0 826.5L576.2 830.0L575.3 832.0L572.9 835.5L571.5 836.7L568.5 838.4L564.0 839.6L560.5 841.1ZM609.5 851.0L608.5 851.0L607.7 850.5L607.0 849.5L606.8 848.5L607.0 847.7L607.5 847.0L608.5 846.4L609.5 846.2L610.5 846.4L611.4 847.0L611.9 848.5L611.9 849.5L611.5 850.3L610.5 850.9L609.5 851.0ZM558.5 915.2L555.6 915.2L554.0 914.4L553.0 914.2L550.0 914.6L549.0 914.5L546.5 913.1L544.5 912.5L540.0 910.7L538.5 909.8L536.8 907.7L536.0 905.1L535.5 904.6L533.0 903.1L530.3 898.7L529.7 896.7L530.4 893.1L529.6 890.6L531.0 886.1L535.0 880.1L536.5 876.8L537.6 876.1L541.0 875.2L543.0 873.4L545.0 872.3L547.4 870.6L548.0 869.6L548.5 867.6L550.1 865.1L550.6 861.1L552.5 857.5L556.5 853.1L559.5 850.8L561.5 850.3L569.2 851.5L570.2 852.5L571.5 855.3L572.5 856.0L574.7 857.0L575.5 858.0L576.0 859.6L576.1 861.1L575.3 864.1L575.1 869.1L574.4 875.1L574.6 875.6L576.9 877.1L577.8 879.1L581.6 884.1L581.6 885.1L580.2 887.6L580.4 888.1L581.5 889.4L581.8 890.1L582.4 894.1L582.7 898.2L582.5 899.2L582.0 899.9L578.6 904.2L576.2 908.2L575.0 909.3L572.0 910.6L570.5 912.0L569.5 912.6L566.5 912.9L564.5 913.9L561.5 914.2L558.5 915.2ZM606.5 888.3L605.5 888.5L604.5 888.3L602.5 887.1L600.5 887.0L600.0 886.6L599.9 886.1L600.5 885.4L601.0 885.4L602.5 886.1L604.1 884.1L604.5 883.9L605.5 883.9L606.5 884.7L607.4 886.6L607.2 887.6L606.5 888.3Z"/>
<path d="M561.0 840.0L559.5 840.2L557.0 839.6L554.0 839.9L551.8 838.5L546.8 836.5L545.6 835.5L544.8 833.5L543.3 831.5L542.7 830.0L542.1 827.5L542.6 821.4L543.8 818.4L546.5 815.1L547.5 814.2L550.0 813.7L556.0 811.7L558.0 811.3L560.0 811.2L565.0 811.8L567.0 812.5L569.5 814.3L573.0 818.1L573.9 819.4L575.8 824.0L576.0 826.0L574.9 830.5L573.0 833.9L572.0 835.1L568.5 837.5L563.5 838.7L561.0 840.0ZM558.5 914.2L557.5 914.4L556.5 914.2L554.0 913.0L549.5 913.3L548.5 912.8L547.0 911.5L544.0 911.0L540.6 909.7L539.5 909.0L538.4 907.7L536.9 904.7L534.8 902.2L534.2 900.7L532.7 899.2L532.0 898.2L532.1 894.1L531.4 890.1L532.3 887.1L533.7 884.6L534.5 882.6L536.5 880.1L537.7 878.1L538.4 877.6L540.5 876.8L543.0 874.9L547.0 872.5L550.0 871.8L550.5 871.4L550.7 870.6L549.9 869.1L549.9 868.1L551.1 865.6L552.1 860.6L557.1 854.0L560.0 851.8L561.5 851.6L566.0 852.5L568.5 852.6L569.1 853.0L570.7 856.0L571.5 856.7L574.0 858.0L574.7 859.0L574.9 860.6L574.3 863.6L573.8 869.1L573.5 870.4L572.6 872.6L572.6 874.1L573.4 876.1L575.9 878.1L577.8 882.1L579.1 884.1L579.3 885.1L578.6 887.1L578.7 888.1L580.3 891.1L581.2 894.6L581.2 897.2L581.0 898.2L578.9 901.7L576.6 904.2L575.8 906.7L575.0 907.9L574.0 908.4L571.5 908.7L570.8 909.2L569.0 911.3L568.0 911.4L566.0 911.1L564.5 912.0L562.0 912.6L558.5 914.2Z"/>
<path d="M561.0 839.1L560.0 839.4L557.0 838.8L554.5 838.9L547.9 836.0L546.5 835.0L545.7 833.5L544.0 831.3L543.5 830.0L543.1 827.5L543.7 825.0L543.6 822.5L543.9 820.4L544.7 818.4L547.5 815.5L549.5 814.9L552.5 813.4L557.5 812.2L560.5 812.0L564.5 812.4L566.5 813.2L569.0 815.2L573.0 819.9L574.8 824.0L575.1 825.5L574.2 829.5L572.4 833.5L571.5 834.4L568.0 836.9L563.0 838.0L561.0 839.1ZM558.5 913.3L557.0 913.3L554.0 912.2L550.0 912.1L549.3 911.7L547.5 909.6L546.5 909.5L545.0 909.9L544.0 909.9L542.0 909.1L540.4 908.2L539.1 906.7L536.5 902.7L535.6 899.7L534.4 898.7L533.8 897.7L532.7 891.1L533.6 887.6L535.0 885.1L535.6 883.1L536.3 882.1L538.0 880.9L540.6 879.6L541.9 877.1L543.5 875.8L547.5 873.6L551.0 873.0L552.2 872.1L552.5 870.6L552.0 867.6L553.1 861.6L554.6 860.1L555.8 857.5L558.0 854.5L559.5 853.3L561.0 852.8L564.5 853.4L566.5 854.6L568.0 854.7L568.5 855.0L570.5 857.3L573.0 858.5L573.8 859.6L573.8 861.1L572.9 867.1L572.1 869.1L570.1 871.6L569.9 872.6L570.4 873.6L572.5 876.5L574.5 878.1L575.5 879.6L575.7 880.6L575.7 882.6L576.0 883.5L577.0 884.7L577.5 885.6L577.5 888.1L578.6 890.6L578.8 892.6L579.6 894.6L579.7 895.6L578.2 899.7L575.5 903.3L574.5 906.1L574.0 906.7L571.0 907.4L568.5 909.2L566.5 908.8L565.5 909.0L564.0 910.7L561.5 911.5L559.5 912.9L558.5 913.3Z"/>
<path d="M560.0 838.6L557.5 838.1L554.5 838.1L550.0 836.2L547.9 835.0L546.4 833.0L544.8 831.5L544.1 830.0L543.9 828.0L544.0 827.0L545.1 824.5L544.8 820.4L545.5 818.7L547.5 816.7L552.5 814.0L558.0 812.9L564.0 813.0L566.0 813.7L568.0 815.4L571.8 819.9L574.0 824.0L574.1 826.0L573.3 829.5L572.0 832.5L571.3 833.5L567.0 836.4L563.0 837.2L560.0 838.6ZM558.5 912.3L557.5 912.4L554.5 911.6L551.0 911.3L550.0 910.8L548.6 909.2L547.8 908.7L546.5 908.5L544.0 908.8L542.5 908.3L541.0 907.3L537.5 902.7L537.1 901.7L537.0 899.5L535.5 898.2L534.7 897.2L533.8 891.6L534.8 888.1L536.5 885.6L537.3 883.1L538.8 881.6L541.3 880.1L543.3 877.1L544.5 876.3L548.0 874.6L549.0 874.4L551.0 874.8L551.5 874.6L554.0 872.6L554.5 871.6L553.8 865.6L554.5 862.6L556.5 858.5L558.2 856.5L559.0 855.0L560.0 854.2L561.0 854.0L564.0 854.6L565.5 856.6L568.5 857.3L570.0 858.6L572.0 859.4L572.6 860.1L572.8 862.1L572.2 866.6L571.5 867.9L569.0 871.1L568.7 872.1L568.7 873.1L569.2 874.1L571.5 876.8L573.5 878.6L574.2 879.6L574.8 883.1L576.4 886.1L576.5 888.6L577.1 890.6L577.0 893.1L577.7 895.1L577.9 896.1L577.4 898.2L575.8 901.2L574.0 904.0L573.0 905.1L570.5 906.5L568.5 908.0L566.0 908.0L565.2 908.2L563.0 910.0L561.2 910.7L559.5 911.9L558.5 912.3Z"/>
<path d="M560.5 837.7L559.5 837.8L555.0 837.5L550.5 835.8L548.5 834.5L547.5 832.8L545.5 831.3L544.8 830.0L544.6 827.5L545.7 825.0L545.9 824.0L545.6 820.4L545.9 819.4L546.7 818.4L548.4 816.9L552.5 814.5L557.5 813.5L563.0 813.6L565.0 813.9L567.6 815.9L570.2 818.9L573.2 824.0L573.4 825.5L572.7 828.5L570.9 832.5L570.4 833.0L568.5 834.0L567.1 835.5L566.5 835.9L562.5 836.7L560.5 837.7ZM558.5 911.3L557.0 911.3L552.0 910.7L550.9 910.2L549.4 908.7L548.5 908.1L547.0 907.7L544.0 907.7L542.0 906.6L538.4 902.7L538.0 901.7L538.0 899.1L537.5 898.5L536.0 897.4L535.5 896.7L535.4 893.6L535.0 891.6L536.0 888.1L538.1 885.6L538.6 883.1L539.5 882.1L541.8 880.6L544.5 877.4L546.0 876.5L548.0 875.8L549.0 876.0L550.0 876.7L551.0 876.6L553.0 874.9L554.0 874.3L555.5 873.8L558.5 873.3L559.6 872.6L559.8 872.1L559.5 871.5L556.5 870.3L555.7 869.6L555.3 868.6L555.3 867.1L556.0 864.6L556.1 861.6L556.9 859.6L557.7 858.5L559.9 857.0L560.8 855.5L562.0 855.4L563.5 855.9L565.3 857.5L568.0 858.2L570.0 860.0L571.0 860.6L571.7 861.6L571.7 864.1L571.3 866.1L570.5 867.6L568.1 870.6L567.7 871.6L567.5 873.6L567.9 874.6L570.4 877.6L572.5 879.1L573.2 880.1L574.3 883.6L575.7 886.6L575.4 889.6L575.9 891.1L576.8 896.7L574.7 901.7L573.0 903.5L568.5 907.0L565.0 907.5L563.0 908.9L558.5 911.3Z"/>
<path d="M560.0 837.1L555.0 836.8L550.5 835.2L549.0 834.0L548.0 831.7L546.0 830.8L545.4 830.0L545.1 828.0L546.4 824.5L546.5 820.4L546.8 819.4L549.3 816.9L552.5 815.0L557.5 814.0L560.5 814.4L563.5 814.3L565.0 814.7L567.0 816.1L569.9 819.4L572.5 824.0L572.6 825.5L571.8 828.5L569.7 832.0L568.0 833.3L566.7 835.0L566.0 835.4L562.5 836.2L560.0 837.1ZM566.5 870.6L566.0 870.8L564.0 869.8L562.0 869.9L560.5 869.5L558.5 869.7L557.5 869.4L556.7 868.6L556.5 867.6L557.6 866.1L558.0 865.1L557.2 862.1L557.5 860.2L558.5 859.1L562.0 857.3L563.0 857.2L565.0 858.2L567.5 858.8L568.4 859.6L570.1 862.1L570.3 864.1L569.9 866.1L568.5 868.6L566.5 870.6ZM558.5 910.2L555.0 910.3L553.0 910.0L552.0 909.6L549.3 907.7L547.5 907.1L545.0 906.9L544.0 906.5L541.5 904.6L539.0 902.0L538.8 901.2L538.7 898.7L538.4 898.2L537.0 897.2L536.3 896.1L536.5 893.6L536.1 891.6L536.2 890.6L537.0 888.4L539.3 886.1L539.4 884.1L539.7 883.1L542.3 881.1L545.5 877.9L547.5 877.1L550.5 877.7L551.5 877.3L553.5 875.6L556.5 874.5L560.0 874.0L562.0 872.6L565.0 872.8L565.5 873.0L566.5 876.2L568.2 879.1L569.0 879.6L571.5 879.9L572.2 880.6L573.0 882.0L574.8 886.6L574.3 889.1L575.2 892.1L575.9 896.7L574.0 901.4L573.0 902.3L571.5 902.7L571.0 903.0L570.0 904.7L568.5 906.1L567.5 906.5L565.0 906.7L562.0 908.5L558.5 910.2Z"/>
<path d="M559.5 836.5L555.5 836.2L550.5 834.6L549.4 833.5L549.0 831.9L548.5 831.0L546.5 830.1L545.8 829.0L545.8 827.5L546.9 824.5L547.4 819.9L549.5 817.4L551.0 816.3L552.5 815.5L557.5 814.5L560.5 815.1L563.5 815.0L565.0 815.3L567.0 816.7L569.5 819.7L571.7 824.0L571.8 825.5L570.7 829.0L569.4 831.0L566.3 834.5L565.0 835.3L559.5 836.5ZM566.5 869.1L565.5 869.1L564.0 868.3L562.0 867.9L560.5 866.9L559.2 864.1L558.6 862.1L558.5 861.1L559.0 860.1L562.0 858.5L563.0 858.2L567.0 859.3L567.9 860.1L568.7 861.6L568.8 863.6L567.9 866.1L567.7 868.1L566.5 869.1ZM558.0 909.2L555.0 909.5L553.5 909.2L550.5 907.3L544.5 905.8L541.5 903.6L539.7 901.7L539.4 898.2L537.2 896.1L537.1 895.1L537.4 893.6L537.0 891.6L537.0 890.7L537.7 889.1L540.1 886.6L540.7 883.6L543.4 881.6L546.0 878.8L547.5 878.3L550.0 878.4L551.0 878.2L553.5 876.6L555.5 876.2L557.4 875.1L560.5 875.2L562.5 874.4L563.5 874.3L564.5 874.9L565.0 875.7L566.0 880.7L567.0 881.2L569.5 880.9L571.0 881.0L571.8 881.6L572.5 882.6L573.6 886.1L573.3 888.6L574.5 892.1L574.7 894.6L575.1 896.1L575.1 897.2L573.5 901.0L573.0 901.4L571.0 901.7L570.5 902.0L569.5 904.2L568.5 905.2L567.5 905.7L564.4 906.2L560.5 908.4L558.0 909.2Z"/>
<path d="M559.5 836.0L556.0 835.7L553.0 834.5L550.7 834.0L550.0 833.2L549.0 830.6L547.0 829.4L546.4 828.5L546.3 827.5L547.2 825.0L547.8 820.9L548.2 819.9L550.1 817.4L552.5 816.0L557.5 815.0L560.5 815.7L563.5 815.6L565.0 816.0L566.5 816.9L569.1 819.9L570.9 824.0L571.0 825.5L569.9 829.0L568.6 831.0L566.0 834.1L564.5 835.0L559.5 836.0ZM566.5 865.2L565.5 865.4L563.0 865.5L561.5 865.0L560.2 863.6L559.9 862.1L560.1 861.1L561.2 860.1L563.0 859.2L565.6 859.6L566.9 860.1L567.9 861.6L568.0 863.1L567.5 864.4L566.5 865.2ZM555.0 908.7L553.5 908.4L551.0 906.7L545.0 905.3L543.2 904.2L541.0 902.2L540.2 900.7L540.4 898.2L540.1 897.7L538.5 896.5L537.9 895.6L538.2 893.1L537.9 891.1L538.4 890.1L540.6 887.1L541.6 884.6L544.5 882.5L546.2 880.1L546.8 879.6L548.0 879.2L551.0 878.8L553.5 877.5L556.0 877.6L558.0 876.2L563.0 876.2L563.5 876.4L563.9 877.1L563.8 880.1L565.0 881.7L565.9 882.1L567.0 882.3L570.5 881.9L571.5 882.5L571.9 883.1L572.3 884.1L572.3 885.1L571.5 887.1L573.7 891.6L573.9 892.6L573.6 894.6L574.2 896.7L574.2 897.7L573.3 900.2L572.5 900.7L570.5 901.1L570.0 901.5L569.1 903.7L568.0 904.9L567.0 905.2L564.0 905.7L559.5 907.9L555.0 908.7Z"/>
<path d="M559.5 835.5L556.0 835.2L553.0 833.8L551.0 833.3L550.5 832.8L549.5 830.4L549.0 829.8L547.5 828.9L546.9 828.0L546.9 827.0L547.6 825.0L548.4 820.9L549.9 818.4L550.8 817.4L552.0 816.7L556.5 815.5L558.0 815.5L560.5 816.2L564.0 816.2L565.8 816.9L566.9 817.9L568.7 820.4L570.3 824.5L570.3 825.5L569.2 829.0L568.3 830.5L565.5 833.9L564.0 834.6L559.5 835.5ZM566.0 864.2L563.0 864.2L562.0 863.8L561.3 862.6L561.5 861.6L562.4 860.6L563.5 860.1L566.3 860.6L567.0 861.3L567.3 862.6L567.0 863.6L566.0 864.2ZM556.0 907.8L555.0 908.0L554.0 907.9L551.0 906.0L548.5 905.7L546.6 905.2L545.0 904.6L543.6 903.7L541.5 901.7L540.9 900.7L541.0 899.6L541.9 897.7L541.8 897.2L539.3 896.1L538.8 895.6L538.8 894.6L540.0 890.9L540.3 889.1L542.0 886.0L545.6 882.6L547.4 880.6L549.0 879.8L553.5 878.4L557.0 878.6L558.0 878.2L559.0 877.3L560.0 877.0L561.0 877.1L562.0 877.6L562.6 880.1L564.5 882.3L565.5 882.8L567.0 883.0L570.0 883.0L571.0 883.6L571.2 884.6L570.6 886.1L570.5 887.1L570.9 888.1L572.5 890.2L573.1 891.6L573.1 892.6L572.4 895.1L573.2 897.2L573.2 898.7L572.5 899.9L569.9 900.7L569.5 901.2L568.5 903.7L567.5 904.5L563.5 905.3L560.0 906.8L557.5 907.3L556.0 907.8Z"/>
<path d="M560.0 835.0L558.5 835.1L556.5 834.8L553.0 833.2L551.5 832.8L550.7 832.0L549.5 829.6L547.6 828.0L547.4 827.0L548.7 821.4L550.5 818.4L552.0 817.3L557.0 815.8L560.5 816.7L564.0 816.8L565.5 817.3L566.3 817.9L567.9 820.4L568.5 822.5L569.6 825.0L569.2 827.5L568.4 829.5L567.5 830.8L564.5 834.0L560.0 835.0ZM566.0 862.8L565.5 863.0L564.5 862.8L564.0 862.6L563.8 862.1L564.5 861.6L565.5 861.6L566.1 862.1L566.0 862.8ZM555.5 907.2L554.0 907.2L551.0 905.4L547.5 904.9L545.8 904.2L544.0 903.0L542.6 901.7L542.1 900.7L542.2 899.7L543.0 897.7L543.0 896.7L542.5 896.1L540.3 895.6L539.8 895.1L539.7 894.6L540.0 893.6L541.0 892.1L541.0 889.6L541.5 888.1L544.9 884.1L548.5 880.8L550.0 880.0L553.0 879.3L555.5 879.6L558.0 879.4L560.0 878.2L560.5 878.2L561.0 878.6L561.9 880.6L564.0 882.7L565.0 883.2L568.2 884.1L569.2 884.6L569.5 885.1L569.9 887.6L570.5 888.8L572.0 890.6L572.4 891.6L572.3 892.6L570.9 896.1L571.0 896.7L572.0 897.7L572.2 898.7L572.0 899.2L571.5 899.4L570.0 899.6L569.5 899.9L569.0 900.8L568.3 903.2L567.2 904.2L562.5 905.0L558.0 906.1L555.5 907.2Z"/>
<path d="M560.0 834.5L558.5 834.6L556.5 834.3L551.5 832.1L549.6 829.0L548.2 827.5L548.1 827.0L549.0 822.0L551.0 818.9L552.1 817.9L556.5 816.3L558.0 816.4L560.5 817.1L563.5 817.2L565.5 817.9L566.4 818.9L566.9 819.9L567.0 822.5L568.5 824.1L568.9 825.0L569.0 826.0L568.5 828.0L567.9 829.5L567.1 830.5L564.2 833.5L560.0 834.5ZM555.5 906.3L554.5 906.6L554.0 906.5L551.5 904.8L548.5 904.7L547.5 904.4L546.4 903.7L544.1 901.7L543.6 900.7L543.4 899.7L543.9 896.7L543.7 895.6L543.0 895.2L541.5 894.8L541.1 894.1L542.1 892.6L542.2 892.1L541.7 889.6L542.0 888.6L544.1 886.6L545.5 884.4L549.8 880.6L552.0 880.1L554.5 880.7L557.0 880.2L560.0 880.1L564.0 883.3L566.5 884.2L567.8 885.1L570.0 889.4L571.4 891.1L571.5 892.6L569.7 896.1L568.7 899.7L568.2 902.2L567.5 903.4L566.0 904.1L558.5 904.7L557.0 905.3L555.5 906.3Z"/>
<path d="M560.5 834.0L558.5 834.2L557.0 834.0L552.0 831.8L551.2 831.0L548.9 827.0L549.0 823.5L550.0 821.3L552.0 818.9L556.5 816.8L557.5 816.7L560.0 817.4L563.0 817.6L565.1 818.4L565.7 818.9L566.2 819.9L566.2 822.0L566.4 823.0L568.0 824.8L568.2 825.5L567.9 828.0L567.0 829.7L565.0 831.2L563.4 833.0L560.5 834.0ZM555.0 905.4L554.0 905.4L551.5 903.9L548.5 904.1L547.5 903.7L546.9 903.2L544.4 899.7L544.2 898.7L544.9 896.1L544.8 895.1L544.0 892.8L542.5 890.1L542.6 889.1L545.0 886.8L546.1 884.6L549.5 881.4L551.0 880.7L552.5 880.9L554.0 881.7L557.0 880.8L559.5 881.1L561.5 882.0L564.0 883.9L566.2 884.6L567.1 885.6L568.4 888.6L568.5 890.7L568.8 891.1L570.0 891.8L570.5 892.6L568.2 898.7L567.7 902.2L567.1 903.2L566.2 903.7L565.0 903.8L560.0 903.6L558.5 903.7L557.1 904.2L555.0 905.4Z"/>
<path d="M560.5 833.5L558.5 833.8L557.0 833.6L552.3 831.5L551.1 830.0L549.4 826.0L549.5 823.5L550.0 822.3L552.0 821.1L552.5 819.9L553.5 819.0L557.0 817.3L562.5 817.9L564.7 818.9L565.4 819.9L565.8 823.0L567.1 825.5L567.0 827.8L566.5 828.9L563.0 831.3L561.7 833.0L560.5 833.5ZM556.0 903.8L555.0 904.1L554.0 903.9L552.5 902.7L551.5 902.3L549.5 903.4L548.5 903.4L548.0 903.2L547.4 902.7L546.5 900.6L545.2 898.7L545.7 896.7L545.7 895.6L544.5 891.6L543.5 889.6L544.2 888.6L546.0 887.1L546.8 885.1L549.4 882.1L550.0 881.6L551.0 881.2L552.0 881.4L553.5 882.6L554.0 882.7L556.5 881.5L557.5 881.4L558.5 881.5L561.0 882.6L563.5 884.3L565.9 885.1L566.7 886.1L567.3 888.1L567.5 891.3L569.1 893.1L569.1 894.1L567.3 899.7L567.2 902.2L566.5 903.1L565.0 903.4L559.5 902.8L558.0 903.1L556.0 903.8Z"/>
<path d="M560.0 833.1L558.5 833.3L557.0 833.2L552.2 831.0L551.2 829.5L550.0 825.2L550.0 824.0L550.5 823.0L551.0 822.9L552.5 823.0L553.0 822.7L553.3 822.0L553.4 820.4L553.6 819.9L556.0 818.3L557.5 817.7L562.5 818.4L564.0 819.3L564.8 820.4L565.7 824.5L565.5 825.5L564.8 827.0L564.6 829.0L564.0 829.6L562.0 830.9L561.1 832.5L560.0 833.1ZM566.0 902.8L565.0 902.9L564.0 902.7L563.0 901.7L563.2 901.2L564.4 900.2L564.6 899.7L564.0 899.3L562.6 899.7L562.4 900.2L562.6 901.2L562.3 901.7L558.5 902.3L556.0 903.1L554.5 902.9L552.5 901.2L551.0 900.8L550.0 900.9L549.5 901.2L549.0 902.1L548.5 902.2L545.5 893.1L545.2 889.6L545.5 889.0L547.1 887.6L548.2 885.1L550.0 882.3L550.5 882.0L551.5 881.9L553.0 883.7L554.0 884.1L556.5 882.1L558.0 882.0L562.8 884.6L565.0 885.2L566.0 886.0L566.8 888.6L566.8 891.1L568.2 894.1L567.7 897.2L566.3 899.7L566.7 901.7L566.5 902.3L566.0 902.8ZM558.2 886.6L558.8 886.1L558.8 885.6L558.5 885.4L558.0 885.3L556.0 885.5L554.5 885.1L554.3 885.6L554.4 886.1L555.0 886.5L558.2 886.6Z"/>
<path d="M560.0 832.5L559.0 832.8L557.5 832.8L553.0 831.0L551.9 830.0L551.4 828.5L551.0 825.5L551.3 824.5L553.0 823.6L553.7 823.0L554.0 822.5L554.3 820.4L554.6 819.9L556.5 818.7L557.5 818.2L561.5 818.7L563.2 819.4L564.2 820.9L564.9 824.0L563.7 829.0L561.4 830.5L560.6 832.0L560.0 832.5ZM558.5 884.2L556.5 884.5L555.8 884.1L555.8 883.6L556.5 882.8L557.7 882.6L558.6 883.1L559.0 883.6L558.9 884.1L558.5 884.2ZM556.5 902.2L554.9 902.2L553.7 900.7L553.0 900.2L550.0 899.7L549.0 899.2L548.5 898.6L546.0 893.1L545.8 891.6L546.2 890.1L548.0 887.8L550.5 882.9L551.0 882.8L551.4 883.1L552.2 884.6L553.8 886.6L555.0 887.4L556.5 887.5L558.6 887.1L559.4 886.6L560.1 885.1L560.5 884.8L565.0 885.8L565.8 886.6L566.1 887.6L566.3 891.1L567.3 894.1L567.1 896.7L566.7 897.7L566.0 898.2L564.5 898.2L562.5 898.7L561.5 899.3L560.7 900.7L560.0 901.2L556.5 902.2Z"/>
<path d="M559.5 832.0L557.5 832.2L553.5 830.9L552.3 830.0L551.8 828.5L552.0 825.5L554.4 823.0L555.1 820.4L557.0 819.0L558.0 818.7L561.0 819.1L562.5 819.8L563.2 820.9L564.2 824.0L563.3 828.5L562.5 829.2L560.5 830.2L560.0 831.5L559.5 832.0ZM557.0 901.2L555.6 901.2L555.3 900.7L555.3 899.7L555.0 899.3L551.5 899.3L549.7 898.7L549.2 898.2L548.1 895.6L546.5 893.3L546.3 892.1L546.7 890.6L548.3 888.6L549.5 886.5L550.5 885.6L551.0 885.5L552.0 885.8L554.0 887.5L555.5 888.1L558.5 887.6L559.8 887.1L561.0 886.3L562.0 886.1L564.5 886.2L565.5 887.2L565.8 888.6L565.7 890.6L566.2 893.6L565.0 895.1L564.7 896.7L564.5 897.2L561.0 898.8L559.0 900.6L557.0 901.2Z"/>
<path d="M558.0 831.2L555.0 830.9L553.4 830.5L552.5 829.5L552.2 827.5L552.7 825.5L554.9 823.0L556.0 820.5L557.5 819.4L559.0 819.1L561.0 819.7L562.0 820.4L562.4 822.5L563.5 824.0L563.6 825.0L563.1 827.5L562.6 828.5L561.5 829.1L559.5 829.2L559.0 829.4L558.4 831.0L558.0 831.2ZM558.5 899.9L557.5 900.0L557.0 899.7L556.7 898.7L556.0 898.1L552.5 898.7L550.5 898.3L549.5 897.2L548.9 895.1L547.0 893.2L546.8 892.1L547.0 891.1L550.5 886.7L551.0 886.4L552.0 886.6L554.5 888.4L556.0 889.0L557.5 888.3L563.0 886.8L564.0 886.7L565.0 887.4L565.3 888.6L565.0 890.6L565.5 892.6L565.3 893.6L564.1 895.1L563.7 896.7L563.3 897.2L560.0 898.7L558.5 899.9Z"/>
<path d="M557.0 830.2L555.0 830.5L553.4 830.0L552.7 829.0L552.8 827.0L553.3 825.5L555.1 823.5L556.5 820.9L558.0 819.8L559.5 819.7L560.9 820.4L561.5 822.5L563.0 824.4L563.1 825.5L562.8 827.0L562.5 827.8L562.0 828.3L561.0 828.6L559.0 828.4L557.0 830.2ZM559.5 898.2L558.5 898.5L558.0 898.4L556.0 897.2L553.0 898.1L552.0 898.1L551.0 897.8L550.1 896.7L549.5 894.4L547.5 892.6L547.4 891.6L547.6 891.1L549.7 889.1L550.7 887.6L551.5 887.3L552.5 887.6L554.4 889.1L555.5 890.9L556.0 891.0L556.5 890.6L557.2 889.1L558.0 888.6L561.0 888.4L563.0 887.6L564.0 887.6L564.5 888.1L564.5 888.6L563.7 890.6L564.6 892.1L564.6 893.1L563.6 894.6L562.9 896.7L562.0 897.3L559.5 898.2Z"/>
<path d="M555.0 830.0L554.0 829.8L553.2 829.0L553.1 827.5L553.6 826.0L557.5 820.9L558.5 820.4L559.6 820.4L560.2 820.9L561.0 823.0L562.5 824.5L562.6 826.0L562.1 827.5L561.5 828.0L561.0 828.1L559.5 827.8L558.5 828.0L556.5 829.6L555.0 830.0ZM561.0 897.2L558.5 897.5L557.5 897.1L556.0 895.8L555.5 896.0L554.4 897.2L553.5 897.5L552.5 897.6L551.5 897.3L550.9 896.7L550.0 893.6L548.5 892.5L548.2 891.6L549.0 890.7L551.2 890.1L552.0 888.6L553.0 889.0L553.7 889.6L554.2 891.1L555.0 892.0L555.5 892.2L556.5 892.2L557.3 891.6L557.5 890.1L558.0 889.3L559.0 889.0L559.7 889.1L560.4 889.6L561.0 891.5L563.4 892.6L563.6 893.1L562.4 896.1L562.0 896.7L561.0 897.2Z"/>
<path d="M556.0 829.2L554.5 829.4L553.8 829.0L553.5 828.0L553.9 826.5L557.0 822.4L558.0 821.5L559.0 821.3L559.5 821.7L560.5 823.2L562.0 824.6L562.3 825.5L562.0 826.7L561.5 827.3L561.0 827.5L559.5 827.2L558.5 827.3L556.0 829.2ZM553.5 896.9L552.5 897.0L552.0 896.9L551.4 896.1L551.2 893.1L551.5 892.6L552.5 892.3L553.5 892.5L554.4 893.1L554.7 893.6L554.3 896.1L553.5 896.9ZM560.5 896.8L558.5 896.8L557.5 896.1L556.7 894.1L556.7 893.6L557.2 893.1L558.5 892.4L559.5 892.2L562.0 893.4L562.2 894.1L561.9 895.6L561.5 896.2L560.5 896.8Z"/>
</g>
<path d="M539.6,915.2 Q539.6,912.0 557.5,912.0 Q575.3,912.0 575.3,915.2" fill="none" stroke="#2a2a2a" stroke-width="1.4"/>
<rect x="528.5" y="802.9" width="111.5" height="112.3" fill="none" stroke="#6a6a6a" stroke-width="1.1"/>
<line x1="592.4" y1="802.9" x2="592.4" y2="915.2" stroke="#7a7a7a" stroke-width="1.0" />
<line x1="528.5" y1="874.0" x2="640.0" y2="874.0" stroke="#7a7a7a" stroke-width="1.0" />
<text x="528.9" y="819.3" font-size="14" text-anchor="start" font-weight="normal" fill="#231f20" stroke="#231f20" stroke-width="0.28" >26</text>
<text x="632.8" y="819.3" font-size="14" text-anchor="end" font-weight="normal" fill="#231f20" stroke="#231f20" stroke-width="0.28" >2.1</text>
<text x="634.3" y="911.4" font-size="14" text-anchor="end" font-weight="normal" fill="#231f20" stroke="#231f20" stroke-width="0.28" >2.1</text>
<clipPath id="cp15"><rect x="651.0" y="800.2" width="111.2" height="112.1"/></clipPath>
<g clip-path="url(#cp15)" fill="#000" fill-opacity="0.013" stroke="#4a4a4a" stroke-width="0.42">
<path d="M704.6 912.3L693.6 912.6L670.0 912.7L657.5 912.6L651.3 912.3L651.0 912.1L650.7 905.8L650.6 894.3L650.7 875.8L651.0 866.3L655.8 863.8L659.0 860.9L664.3 853.2L665.7 849.7L667.9 846.7L668.1 845.7L667.4 844.2L665.9 842.2L659.9 837.7L655.4 832.2L653.7 828.7L652.6 823.7L653.1 818.7L654.5 814.7L656.7 810.7L661.3 806.2L665.0 803.9L670.5 802.0L673.5 800.6L676.0 800.6L680.6 801.8L686.6 801.7L694.2 804.7L695.7 805.7L697.1 807.7L701.4 812.2L702.4 813.7L703.8 816.7L704.2 818.2L704.1 822.2L704.7 825.2L704.4 828.2L703.7 829.7L701.5 832.2L699.3 836.7L697.1 839.3L696.7 840.2L696.7 841.2L697.2 842.7L698.0 844.2L702.6 849.2L703.6 850.9L704.1 852.7L704.5 855.7L705.6 858.8L705.6 862.8L706.5 868.3L707.1 869.3L708.1 869.8L714.1 871.7L715.6 871.4L718.1 870.4L721.1 870.5L725.1 869.7L726.6 869.9L729.1 870.8L732.1 871.1L733.6 871.8L734.7 872.7L737.7 876.8L739.8 878.8L740.6 880.3L740.9 883.3L740.2 886.8L739.5 888.3L737.2 891.3L734.1 893.7L731.6 895.0L726.1 895.7L722.6 896.9L719.6 896.8L716.0 897.3L715.4 897.8L714.1 900.3L709.6 905.8L708.7 908.8L708.1 909.7L707.1 910.6L704.6 912.3ZM728.6 860.8L727.1 860.8L726.1 860.5L722.6 858.5L720.7 856.2L718.1 852.2L716.6 846.7L716.6 843.2L716.2 840.2L716.3 837.7L716.4 836.2L717.6 832.7L719.6 829.7L720.4 827.2L721.1 826.1L723.1 824.5L725.6 823.2L726.6 822.9L729.6 822.5L732.1 823.1L733.6 823.8L739.1 829.7L740.6 835.7L740.7 838.2L741.2 841.7L741.0 846.7L740.8 848.2L739.5 851.7L737.7 854.9L736.7 856.1L731.6 859.7L730.1 860.5L728.6 860.8Z"/>
<path d="M697.6 912.3L673.5 912.6L657.2 912.3L654.0 908.3L653.0 907.6L651.0 906.7L650.7 894.3L650.7 881.3L651.0 872.9L653.0 870.3L658.6 866.3L664.5 860.6L667.0 855.0L667.8 852.2L671.0 849.2L672.3 847.2L672.8 845.7L672.5 844.1L670.7 841.2L667.5 839.7L664.8 837.7L661.5 835.1L658.5 831.7L656.8 828.2L656.4 826.7L656.5 822.7L656.1 819.2L656.2 817.7L657.0 815.7L658.9 813.7L660.4 811.7L663.5 808.7L666.0 807.1L668.0 806.5L670.5 805.2L674.5 803.9L677.5 803.5L679.1 803.6L687.6 804.9L689.6 805.7L692.6 808.1L695.1 809.7L696.1 810.6L697.6 813.1L699.5 815.2L701.1 818.7L701.4 819.7L701.1 822.7L701.3 825.2L700.9 827.7L700.3 829.2L693.6 838.9L692.6 839.6L690.6 840.3L689.5 841.2L689.6 841.7L690.0 842.2L693.6 844.8L695.6 846.7L697.2 848.7L699.1 850.7L700.0 852.2L700.7 854.2L701.2 857.8L702.1 860.8L702.4 864.3L702.3 867.8L702.9 870.8L703.4 871.8L706.6 874.8L710.6 876.9L712.6 876.6L716.1 874.7L719.1 874.3L722.6 873.3L724.6 873.2L727.1 873.9L731.1 874.3L732.7 875.3L735.7 879.4L736.4 881.3L736.4 883.8L735.2 887.3L734.2 888.8L731.6 891.2L730.1 892.0L723.6 893.8L722.1 893.8L718.6 893.1L715.1 893.5L713.6 893.9L712.2 895.3L709.6 898.7L707.6 902.5L705.1 904.4L702.3 908.3L700.3 909.8L698.6 911.8L697.6 912.3ZM729.6 856.4L728.1 856.6L727.2 856.2L725.1 853.9L723.1 853.2L722.1 852.2L720.5 847.7L720.2 845.2L719.3 841.7L719.4 840.2L720.9 837.2L721.1 833.7L722.4 831.2L723.1 829.0L723.6 828.4L724.6 827.8L727.1 827.2L729.1 827.3L731.6 828.3L733.8 829.7L735.4 831.2L736.2 832.3L737.2 834.7L737.8 838.7L738.3 840.7L737.7 844.2L737.6 847.7L736.8 850.2L735.7 851.5L732.6 853.7L730.6 855.8L729.6 856.4Z"/>
<path d="M681.6 841.8L680.1 841.9L677.0 841.0L674.0 840.4L671.9 839.2L669.0 838.5L667.5 837.8L660.9 832.2L660.0 830.7L658.2 826.7L658.4 822.2L658.1 818.2L658.5 817.2L660.5 814.9L662.7 811.7L663.5 810.9L665.0 809.9L670.5 807.1L673.5 805.8L676.0 805.1L678.5 804.9L680.1 805.1L687.6 806.9L689.6 807.8L692.1 809.6L694.1 810.6L695.6 812.2L696.6 814.5L699.1 818.7L699.6 820.2L699.3 822.2L698.0 825.2L698.3 827.7L698.1 828.7L695.0 833.7L692.7 835.7L690.8 837.7L689.6 838.6L685.1 841.1L681.6 841.8ZM730.6 851.8L727.1 851.9L726.1 851.6L725.1 850.9L723.0 847.7L722.5 844.7L721.4 841.7L721.6 840.2L723.2 837.2L723.5 834.7L723.9 833.7L725.6 831.0L727.1 830.1L728.6 830.2L730.6 831.3L732.5 835.2L734.7 836.9L735.2 837.5L736.1 840.7L736.1 841.7L735.7 845.7L734.9 848.2L733.0 850.2L730.6 851.8ZM692.6 912.3L673.5 912.5L661.8 912.3L659.2 910.8L657.0 908.9L655.5 906.8L654.0 904.0L653.5 903.6L651.5 903.1L651.0 902.7L650.8 894.3L651.0 877.2L653.0 874.9L654.2 872.8L657.5 870.4L659.5 868.6L663.3 866.8L666.3 864.3L667.2 862.8L667.6 859.3L669.9 853.2L673.5 848.6L676.4 845.7L680.1 844.0L682.6 844.5L685.1 844.2L687.6 845.5L689.6 845.6L691.1 846.0L693.1 847.2L694.1 848.2L695.4 850.2L697.6 851.9L698.2 853.2L700.0 861.8L699.8 867.3L700.7 872.3L702.5 875.8L707.1 879.5L708.6 881.3L709.2 882.3L708.9 884.8L707.4 887.8L707.6 888.8L709.0 889.8L709.2 890.3L708.8 894.3L708.4 895.3L706.3 897.3L705.2 900.8L701.6 905.7L698.6 908.0L696.6 910.0L692.6 912.3ZM725.6 890.8L723.1 891.2L720.1 890.5L716.1 890.4L714.9 889.8L713.6 888.3L711.3 882.8L711.3 882.3L712.1 880.8L714.5 879.3L715.7 877.3L716.6 876.4L717.6 876.1L720.6 875.8L722.6 875.3L726.1 875.6L728.1 876.3L731.6 878.7L732.6 879.8L733.5 881.8L733.8 883.3L733.6 885.3L732.9 886.8L731.8 888.3L730.6 889.2L727.6 890.4L725.6 890.8Z"/>
<path d="M683.1 839.3L681.6 839.5L676.5 839.3L673.0 838.1L669.5 837.4L668.5 837.0L662.0 831.7L661.0 830.2L659.9 827.2L659.8 818.7L660.2 817.7L661.5 815.7L664.0 812.3L665.0 811.4L671.0 807.9L675.0 806.4L677.5 806.1L680.1 806.3L685.6 807.8L690.1 809.6L694.2 812.2L694.8 813.2L695.6 815.7L697.6 818.7L698.2 820.2L697.9 821.7L696.4 824.7L696.4 828.7L694.6 832.0L688.4 837.7L686.1 838.8L683.1 839.3ZM730.1 848.9L728.1 848.9L727.1 848.5L726.1 847.7L725.3 846.7L723.5 842.2L723.4 841.2L723.6 840.3L724.8 838.7L726.0 835.2L726.6 834.6L727.1 834.5L727.6 834.7L728.6 835.7L730.6 836.5L731.7 837.7L732.2 838.7L733.0 842.7L733.6 844.3L733.6 845.7L733.1 846.7L731.6 848.1L730.1 848.9ZM686.1 912.3L680.4 912.3L678.5 911.8L676.9 912.3L675.5 912.4L666.7 912.3L664.9 911.8L662.1 910.3L660.5 908.7L658.5 907.6L657.5 906.7L655.4 902.8L653.0 900.8L652.0 898.1L651.0 896.6L650.9 895.3L651.0 887.9L651.7 885.8L651.5 884.8L651.0 883.9L651.0 880.7L653.5 879.1L654.2 877.8L656.0 875.8L656.9 873.8L657.5 873.1L658.5 872.5L660.6 871.8L662.0 870.4L664.0 869.2L668.0 865.6L668.9 864.3L669.4 862.8L669.4 859.3L670.0 856.8L672.5 852.4L674.5 849.9L677.5 847.8L678.5 847.4L681.6 847.5L684.6 846.7L685.6 846.7L687.6 847.4L690.1 847.7L691.1 848.1L692.6 849.2L694.1 851.4L696.1 852.8L696.8 853.7L697.7 856.8L698.2 860.8L698.2 862.8L697.6 867.3L698.4 870.3L698.7 872.3L700.3 875.3L703.4 879.3L704.1 881.8L705.6 883.8L705.8 884.8L705.3 887.8L706.1 893.3L705.8 894.8L703.5 897.8L703.1 900.3L702.5 901.8L701.1 903.6L698.6 905.4L696.4 908.3L694.6 909.2L691.6 909.5L689.1 911.6L686.1 912.3ZM719.6 888.8L718.6 888.7L717.6 888.0L715.8 884.8L715.6 883.8L715.8 882.8L717.5 880.8L718.0 878.3L718.5 877.8L720.1 877.4L726.1 877.4L727.6 878.1L730.2 880.3L731.5 882.8L731.8 883.8L731.4 884.8L729.6 886.6L728.6 886.8L727.1 886.4L726.6 886.5L724.6 888.2L719.6 888.8Z"/>
<path d="M677.5 838.3L676.0 838.1L673.5 837.1L669.5 836.0L663.0 831.3L662.2 830.2L661.4 828.2L661.0 823.7L661.4 818.2L662.4 816.2L665.1 812.7L666.0 811.9L668.5 810.7L672.0 808.3L675.0 807.3L677.5 807.0L679.1 807.1L685.1 808.6L689.1 810.2L693.1 812.7L693.8 813.7L694.6 816.0L696.3 819.2L696.7 820.7L695.4 823.7L695.5 827.7L695.3 828.7L694.6 830.2L693.1 832.0L688.6 835.9L686.6 837.3L682.6 837.9L679.6 837.8L677.5 838.3ZM730.1 846.3L729.1 846.7L728.1 846.2L727.6 845.7L726.2 842.7L726.2 841.7L726.6 840.7L727.3 839.7L728.1 839.2L729.1 839.4L729.8 840.7L730.1 843.7L730.4 845.2L730.5 845.7L730.1 846.3ZM674.0 912.3L670.5 912.1L666.2 910.3L664.0 908.3L661.0 906.9L658.5 905.1L656.5 902.3L654.3 899.8L651.6 894.8L651.6 893.8L652.2 891.8L652.1 888.8L652.8 885.8L652.5 882.8L653.0 881.9L654.5 881.0L655.3 880.3L656.3 878.3L658.3 876.3L658.9 874.8L659.4 874.3L662.0 873.2L666.5 869.4L667.5 869.1L669.0 869.4L669.6 869.3L669.8 868.8L669.9 866.3L671.2 860.8L671.2 857.8L673.2 853.7L674.0 852.6L676.1 850.7L677.5 849.9L681.6 849.3L684.1 848.2L685.1 848.0L690.1 849.7L695.1 853.8L696.2 855.2L696.8 857.3L696.9 860.8L696.2 864.8L696.1 868.3L696.9 870.8L697.4 873.8L700.8 877.8L701.9 879.8L702.2 882.8L703.5 885.3L704.4 889.3L704.4 893.8L703.9 894.8L702.4 896.3L701.7 897.3L701.4 898.3L701.4 900.3L701.1 901.3L700.1 902.5L697.6 903.7L697.1 904.2L696.3 906.3L695.4 907.3L694.6 907.6L692.6 907.5L691.1 907.8L686.6 910.1L684.1 911.7L683.1 911.7L680.6 911.0L678.5 910.9L677.0 911.2L674.0 912.3ZM720.6 886.8L719.6 886.8L719.0 886.3L718.5 885.3L718.4 883.8L718.7 882.8L720.6 880.2L721.1 880.0L722.6 880.7L723.7 879.8L725.6 879.2L727.1 879.8L728.2 880.8L728.7 881.8L728.6 882.9L727.6 883.4L724.1 884.0L723.0 884.8L721.6 886.3L720.6 886.8Z"/>
<path d="M678.0 837.3L676.5 837.3L671.0 835.2L668.0 833.5L665.5 831.4L663.6 830.2L662.8 828.7L661.9 823.7L662.2 819.7L662.6 818.2L664.4 815.2L665.9 813.2L667.0 812.4L669.5 811.2L671.2 809.7L672.5 808.9L675.0 808.0L677.0 807.7L678.5 807.8L681.4 808.7L684.1 809.0L688.6 810.9L690.1 811.8L692.0 813.2L692.8 814.2L694.6 818.2L695.0 820.2L694.5 822.7L694.6 827.7L694.1 829.2L693.1 830.5L688.9 834.2L686.6 835.9L685.1 836.4L682.1 836.8L680.1 836.8L678.0 837.3ZM675.5 910.8L674.0 911.0L669.0 910.2L667.3 909.3L664.8 907.3L662.0 906.1L658.5 903.2L655.6 899.8L653.4 895.3L653.2 893.8L653.7 891.3L653.2 889.3L653.2 888.3L654.1 883.8L654.5 882.8L661.0 875.8L664.0 872.8L666.0 871.3L667.0 871.0L669.5 871.1L670.5 870.8L671.0 870.2L671.4 869.3L671.4 866.3L673.0 860.3L673.3 857.3L674.0 854.7L674.5 853.9L677.5 851.2L678.5 850.8L681.1 850.6L684.1 849.4L685.1 849.3L689.6 851.1L695.1 855.7L695.6 856.5L695.8 857.8L695.7 861.3L694.2 867.8L694.3 868.8L695.5 871.3L695.6 873.8L695.9 874.8L696.6 875.5L699.6 877.8L700.5 879.3L700.7 880.8L700.1 883.3L700.2 883.8L702.3 886.3L703.3 888.8L703.4 890.3L702.8 893.3L700.7 897.3L699.7 900.8L699.1 901.4L695.9 903.3L694.6 905.6L694.1 905.8L692.1 905.7L689.1 907.6L684.1 910.1L681.1 909.9L675.5 910.8Z"/>
<path d="M679.1 836.2L677.5 836.6L676.5 836.5L670.5 833.9L668.0 832.5L667.2 831.7L666.0 829.7L664.2 828.2L662.7 823.7L663.3 819.2L664.7 816.2L666.0 814.4L667.0 813.5L670.0 811.9L672.5 809.6L674.0 808.9L675.5 808.6L678.0 808.6L681.1 809.4L684.1 809.7L689.1 812.1L691.6 814.2L693.6 817.7L694.0 819.2L693.8 822.7L694.1 826.7L693.7 828.2L693.1 829.2L690.6 831.2L688.2 833.7L686.6 834.8L683.1 835.8L679.1 836.2ZM676.0 909.8L674.5 909.7L672.0 908.7L669.5 908.7L668.0 908.1L665.0 906.2L662.5 905.0L661.2 903.8L659.0 902.4L657.0 900.3L656.0 898.3L655.5 894.3L655.7 891.8L654.7 889.3L655.1 887.3L655.1 884.8L655.5 883.3L656.1 882.3L659.5 878.8L661.8 876.8L664.5 873.4L666.5 872.2L670.0 871.9L671.2 871.3L672.1 870.3L672.5 869.3L672.7 866.8L673.3 865.3L673.6 862.3L675.6 858.8L675.0 856.8L675.0 855.7L675.5 854.7L677.1 852.7L678.5 851.9L680.6 851.8L684.6 850.6L688.6 852.1L690.1 853.0L691.6 854.2L694.5 857.3L694.7 861.3L693.6 865.3L692.7 867.3L692.6 868.3L692.7 869.8L694.1 871.8L694.3 874.3L695.1 875.8L696.6 877.2L698.6 878.2L699.4 879.3L699.6 880.8L698.3 883.3L698.3 884.3L698.6 884.8L700.9 886.8L702.1 888.8L702.2 889.8L701.1 891.8L700.8 894.8L700.0 896.8L698.6 899.6L696.7 901.3L695.6 902.0L692.6 903.2L691.6 904.0L690.1 905.8L689.1 906.7L684.6 908.9L683.6 909.1L681.1 908.8L676.0 909.8Z"/>
<path d="M682.1 835.2L677.0 835.7L674.4 834.2L671.5 833.5L669.0 832.3L667.9 831.2L666.8 829.2L665.3 827.2L663.7 824.2L663.5 822.7L664.0 819.7L666.0 815.7L667.0 814.7L670.0 813.0L672.5 810.3L674.0 809.5L675.5 809.3L678.0 809.4L681.1 810.1L683.6 810.2L684.6 810.5L687.1 812.1L689.1 813.0L690.6 814.1L691.4 815.2L693.2 818.7L693.2 822.7L693.5 826.2L692.8 828.2L687.0 833.7L685.1 834.6L682.1 835.2ZM676.5 908.8L675.5 908.7L671.5 907.3L668.0 906.8L667.0 906.5L662.0 902.9L659.5 901.5L657.7 899.8L657.1 898.3L657.4 896.3L657.0 894.3L657.2 891.8L656.5 889.8L656.8 887.8L656.0 885.3L656.1 884.3L656.7 882.8L660.0 879.5L662.5 877.5L664.2 874.8L665.0 873.8L666.5 873.0L669.0 873.0L670.0 872.7L671.7 871.8L672.9 870.8L674.9 868.3L675.4 867.3L674.9 862.8L675.2 861.8L676.6 859.3L676.4 856.8L676.6 855.7L677.9 853.7L678.5 853.2L683.6 851.9L686.1 852.9L688.6 853.5L690.1 854.3L691.1 855.2L693.4 858.8L693.8 860.8L693.5 862.3L691.6 866.2L690.9 868.8L689.3 870.3L688.9 871.3L689.0 871.8L689.6 872.4L692.2 873.3L695.6 877.7L698.0 879.3L698.3 879.8L698.3 880.8L697.4 882.8L697.2 884.3L697.6 885.3L699.3 887.3L699.7 888.3L699.8 889.8L699.0 892.3L699.7 894.3L699.7 895.3L698.9 897.3L697.1 899.6L695.6 900.7L692.6 901.3L691.6 902.2L689.6 905.3L688.6 906.2L684.1 908.1L681.1 907.7L676.5 908.8Z"/>
<path d="M681.1 834.7L677.5 834.8L675.0 833.5L671.5 832.7L669.4 831.7L668.4 830.7L664.4 823.7L664.2 822.7L664.5 820.9L665.3 818.7L666.3 816.7L667.5 815.5L670.0 814.0L672.9 810.7L674.5 810.0L678.5 810.3L681.1 810.8L683.6 810.9L684.6 811.2L686.6 812.7L688.6 813.5L690.1 814.6L690.9 815.7L692.6 819.2L693.0 825.7L692.8 826.7L692.3 827.7L686.6 833.2L684.6 834.1L681.1 834.7ZM678.0 907.4L676.0 907.7L670.5 906.0L667.5 905.7L666.5 905.1L663.0 902.0L659.5 900.1L658.6 899.3L658.3 898.3L658.6 896.3L658.1 894.3L658.3 891.8L657.8 889.8L658.0 887.8L656.9 885.3L656.8 884.3L657.7 882.8L663.0 878.2L664.6 875.3L665.5 874.3L666.5 873.8L669.0 873.7L671.0 873.0L674.0 871.4L677.5 868.3L678.0 867.3L678.0 866.8L676.8 864.8L676.5 863.3L677.4 859.3L677.7 856.2L679.1 854.6L682.1 853.0L683.1 852.8L689.6 855.3L690.5 856.2L692.0 859.3L692.2 860.8L692.0 861.3L690.9 862.3L690.6 865.3L689.9 867.8L688.1 870.7L688.0 871.8L688.6 872.8L691.1 874.1L692.1 874.9L694.1 877.1L696.4 880.3L696.3 884.8L698.3 887.3L698.9 889.3L698.4 890.8L696.8 892.8L696.7 893.3L697.0 893.8L698.6 894.8L698.7 895.8L698.0 897.3L696.1 899.2L695.1 899.7L693.1 899.9L691.6 900.9L689.1 904.8L688.1 905.7L684.1 906.9L680.6 906.8L678.0 907.4Z"/>
<path d="M680.1 834.2L678.0 834.0L675.3 832.7L672.0 832.2L670.0 831.2L669.0 830.2L667.0 827.2L666.0 824.8L665.1 823.2L665.1 821.7L666.3 818.2L666.9 817.2L667.9 816.2L670.5 814.5L673.0 811.4L674.5 810.6L675.5 810.6L678.0 811.2L683.1 811.5L684.1 811.7L686.1 813.2L688.6 814.3L689.6 815.0L690.5 816.2L691.9 819.7L692.4 825.2L692.1 826.7L691.6 827.6L686.1 832.8L683.5 833.7L680.1 834.2ZM677.0 906.8L675.5 906.7L672.5 906.0L670.5 905.1L667.5 904.6L666.0 902.6L663.5 901.1L661.9 899.3L660.0 898.4L659.0 893.8L659.2 891.3L658.8 889.3L659.1 887.3L658.9 886.8L657.8 885.3L657.7 884.3L658.5 883.1L661.0 882.2L662.0 880.3L664.0 878.2L665.2 875.8L666.0 874.8L667.0 874.5L670.0 874.3L674.5 872.5L679.8 867.8L679.9 866.8L678.3 864.8L678.0 863.8L678.4 857.3L678.8 856.2L679.3 855.7L682.1 854.0L683.1 853.7L688.6 856.0L689.5 856.8L690.0 857.8L690.0 859.3L689.2 861.8L689.6 864.8L688.5 868.3L687.1 870.8L687.1 871.8L687.8 873.3L691.1 875.1L693.2 877.3L694.6 879.3L695.0 880.3L695.4 885.3L697.6 887.6L698.1 888.8L697.8 890.3L697.1 891.2L695.7 892.3L695.4 893.3L695.7 894.3L697.2 895.3L697.6 895.8L697.6 896.3L697.0 897.3L695.9 898.3L695.1 898.7L693.1 899.1L691.3 900.3L690.4 901.3L688.6 904.3L687.6 905.1L685.1 905.2L682.6 905.9L679.6 906.0L677.0 906.8Z"/>
<path d="M682.6 833.3L681.1 833.6L679.6 833.6L677.0 832.5L673.5 831.9L672.0 831.4L670.3 830.2L668.0 827.8L667.4 826.7L666.8 824.7L665.9 822.7L666.0 821.7L667.1 818.2L668.4 816.7L671.1 814.7L673.0 812.2L674.0 811.4L675.5 811.3L678.0 812.3L682.1 812.0L683.6 812.2L686.1 813.9L688.8 815.2L690.0 816.7L691.7 821.7L691.9 824.7L691.6 826.2L691.0 827.2L686.6 831.8L685.1 832.6L682.6 833.3ZM677.5 905.9L676.0 906.1L673.5 905.6L668.7 903.8L668.2 903.3L667.5 901.8L666.8 901.3L665.0 900.9L664.0 900.3L662.7 898.3L661.0 897.1L659.8 894.8L659.6 893.3L660.0 891.3L659.9 888.8L661.1 885.3L662.2 883.8L662.7 880.8L663.3 879.8L664.9 878.3L666.3 875.8L667.0 875.4L669.5 875.3L672.0 874.8L677.3 872.3L679.1 870.3L681.9 868.8L682.3 868.3L682.6 866.8L683.1 866.4L684.7 865.8L685.4 865.3L685.6 863.8L685.2 862.8L682.6 860.6L680.1 860.2L679.6 859.8L679.2 858.8L679.2 857.8L679.9 856.8L681.6 856.1L683.1 854.9L683.6 854.9L685.6 856.1L687.6 856.8L688.6 857.8L688.5 858.8L687.1 860.8L687.2 862.3L688.1 863.5L688.3 864.3L688.1 865.0L687.1 866.3L687.2 868.3L686.1 870.8L686.0 872.8L687.1 874.5L690.1 875.5L693.1 878.4L693.9 880.3L694.6 885.6L696.7 887.8L697.1 888.4L697.3 889.3L696.8 890.3L695.1 891.1L694.6 891.9L694.7 894.3L696.1 896.3L695.6 897.3L692.1 899.0L690.0 900.8L688.1 903.2L687.6 903.5L687.1 903.4L686.1 902.6L685.6 902.7L684.1 904.2L683.1 904.8L681.6 905.1L679.1 905.1L677.5 905.9ZM682.1 865.9L681.6 865.9L680.6 865.6L679.3 864.3L679.2 863.3L679.6 862.5L680.1 862.0L681.6 862.1L682.6 862.8L682.8 863.3L682.7 864.3L682.1 865.9ZM683.6 874.3L684.2 873.3L684.0 872.3L682.6 871.0L681.6 871.2L680.8 872.3L681.1 873.8L682.1 874.6L682.6 874.7L683.6 874.3Z"/>
<path d="M681.6 832.8L680.1 833.0L677.5 831.9L674.5 831.6L673.0 831.1L671.8 830.2L670.5 828.7L668.5 827.4L667.8 826.2L666.8 822.2L667.7 818.7L668.7 817.2L671.5 815.0L673.5 812.5L674.5 811.9L675.5 812.0L678.0 813.1L682.1 812.5L683.1 812.6L684.1 813.1L685.6 814.2L688.1 815.5L688.8 816.2L689.3 817.2L689.7 819.2L691.1 821.5L691.4 823.7L691.1 825.6L688.0 829.7L686.6 831.1L685.6 831.7L683.1 832.2L681.6 832.8ZM677.0 905.3L675.5 905.5L673.0 904.9L669.5 902.8L668.6 901.3L668.0 900.9L665.0 899.9L664.4 899.3L663.5 897.7L661.5 896.4L661.0 895.8L660.2 893.8L660.7 890.8L660.8 888.8L663.2 884.3L663.3 881.3L663.7 880.3L667.0 876.7L671.5 875.9L675.0 874.0L676.5 873.7L679.6 874.1L682.1 875.6L683.1 875.6L685.1 875.0L686.6 876.3L689.1 876.2L690.1 876.8L690.8 877.8L691.4 879.3L692.6 880.0L693.1 880.8L693.7 882.8L693.7 885.8L695.0 888.3L694.7 888.8L693.6 889.6L693.4 890.3L694.4 895.8L694.2 896.8L688.1 901.5L685.6 901.6L684.6 902.3L683.3 903.8L682.1 904.3L681.1 904.3L679.6 903.8L678.8 903.8L677.0 905.3Z"/>
<path d="M680.6 832.2L678.0 831.4L675.0 831.2L673.5 830.8L672.4 829.7L671.0 827.8L669.0 826.8L668.3 825.7L667.5 822.2L668.4 818.7L669.5 817.2L671.5 815.7L673.5 813.3L674.5 812.7L675.5 812.7L678.0 813.8L679.1 813.8L682.1 813.1L683.6 813.4L687.8 816.2L688.3 817.2L689.0 819.7L690.6 821.7L690.8 823.2L690.5 824.7L687.1 830.0L685.6 831.1L683.1 831.2L680.6 832.2ZM676.0 904.9L674.5 904.8L673.0 904.3L669.4 900.8L665.4 899.3L663.7 896.8L662.0 895.9L661.4 895.3L660.8 894.3L660.7 893.3L661.6 888.8L664.1 884.3L663.8 881.8L664.4 880.3L667.5 877.7L670.0 877.5L675.0 874.7L676.5 874.4L678.0 874.7L681.6 876.2L684.6 876.4L686.5 877.3L689.1 877.6L689.5 878.3L690.1 880.3L690.6 880.8L692.1 881.4L692.6 881.8L693.0 882.8L693.1 883.8L692.8 885.8L693.1 887.8L692.5 890.3L693.3 893.3L693.4 895.3L693.2 896.3L692.8 896.8L690.4 899.3L689.1 900.2L688.1 900.7L686.1 900.8L685.1 901.2L683.1 903.2L682.1 903.6L681.1 903.6L678.5 902.5L678.0 902.8L677.0 904.4L676.0 904.9Z"/>
<path d="M681.1 831.3L680.1 831.3L678.0 830.8L675.5 830.9L674.0 830.5L673.1 829.7L671.5 827.4L669.1 825.7L668.6 824.7L668.2 823.2L668.1 821.7L669.1 818.7L670.3 817.2L672.0 815.9L673.5 814.2L674.5 813.5L675.5 813.5L678.0 814.4L682.1 813.6L683.6 814.0L687.1 816.3L687.6 817.2L688.3 819.7L690.1 822.2L690.2 823.2L689.9 824.2L686.7 829.7L685.6 830.5L683.1 830.5L681.1 831.3ZM675.5 904.4L674.4 904.3L673.3 903.8L671.3 901.3L670.0 900.3L666.0 899.1L665.2 898.3L664.0 896.0L662.5 895.4L661.7 894.8L661.2 893.3L662.3 888.8L664.6 884.8L664.8 883.8L664.5 881.8L665.0 880.5L667.5 878.7L670.5 878.4L672.0 877.3L675.0 875.4L676.5 875.1L677.6 875.3L680.1 876.6L684.1 877.1L686.1 877.9L688.1 878.3L688.6 878.8L689.5 880.8L690.0 881.3L692.1 882.6L692.4 883.8L691.8 886.3L691.8 889.8L692.6 893.3L692.7 894.3L692.3 895.8L690.7 898.3L689.1 899.7L685.1 900.6L683.1 902.4L682.1 903.0L681.1 902.9L679.1 901.8L678.0 901.7L677.4 902.3L676.5 903.8L675.5 904.4Z"/>
<path d="M682.1 830.3L680.6 830.7L678.5 830.4L675.5 830.6L674.5 830.3L673.5 829.5L672.0 827.2L670.0 825.7L669.2 824.7L668.5 822.2L668.8 820.7L669.5 819.2L670.5 817.7L674.5 814.3L675.5 814.3L678.0 814.9L682.1 814.1L683.1 814.4L685.6 815.7L686.8 816.7L688.0 820.2L689.5 822.2L689.4 823.7L688.1 825.9L686.5 829.2L685.6 829.9L683.1 830.0L682.1 830.3ZM675.5 903.6L674.5 903.8L673.6 903.3L671.6 900.8L670.5 900.0L667.5 899.3L666.3 898.8L665.5 897.8L664.5 895.2L664.0 894.8L662.5 894.5L662.0 894.0L661.8 893.3L662.7 889.3L665.3 884.3L665.2 881.8L665.5 881.0L666.5 880.3L668.0 879.6L670.5 879.6L673.0 877.3L675.0 876.1L676.5 875.7L677.5 876.0L679.6 877.3L683.6 877.6L687.6 879.0L688.1 879.4L689.6 881.8L691.3 883.3L691.2 884.3L690.5 885.8L691.9 893.8L691.6 894.7L690.8 895.8L690.4 897.8L689.1 899.2L685.1 900.1L682.1 902.3L681.1 902.2L679.1 901.0L678.0 900.8L677.0 901.6L676.0 903.2L675.5 903.6Z"/>
<path d="M676.0 830.2L675.0 830.1L674.3 829.7L672.5 827.2L670.2 825.2L669.4 824.2L669.0 822.7L669.0 821.7L670.6 818.7L671.4 817.7L674.0 815.6L675.0 815.2L678.0 815.4L682.1 814.7L685.7 816.2L686.6 817.2L687.5 820.2L688.9 822.7L688.7 823.7L686.3 828.7L685.1 829.5L683.1 829.6L681.1 830.1L678.5 830.0L676.0 830.2ZM675.0 903.0L674.0 902.8L672.4 900.8L671.0 899.7L669.8 899.3L667.5 898.9L666.3 898.3L665.7 897.3L665.0 894.3L664.5 893.8L663.0 893.4L662.8 892.3L663.4 889.3L665.7 884.8L666.5 881.8L671.0 880.4L673.0 877.9L675.0 876.7L676.5 876.4L679.1 877.9L683.6 878.2L687.6 880.0L689.1 882.8L688.8 885.3L690.2 888.3L690.9 892.8L690.7 893.8L689.3 895.8L689.7 897.3L689.6 897.8L689.1 898.5L688.1 898.9L685.1 899.6L682.1 901.6L681.1 901.5L679.1 900.3L678.0 900.1L677.0 900.7L675.5 902.7L675.0 903.0Z"/>
<path d="M677.0 829.8L675.5 829.8L674.5 829.4L672.6 826.7L670.0 824.4L669.4 822.7L669.5 821.7L670.0 820.7L672.5 817.7L674.0 816.6L675.0 816.2L681.6 815.3L684.1 815.9L685.6 816.6L686.4 817.7L687.1 820.2L688.3 822.7L688.1 823.7L686.1 828.2L685.6 828.8L684.6 829.1L681.1 829.6L679.1 829.5L677.0 829.8ZM675.0 902.0L674.5 902.1L674.0 901.8L672.6 900.3L671.1 899.3L667.5 898.5L666.4 897.8L666.0 896.8L665.6 893.8L663.9 891.8L663.9 890.8L664.6 887.8L667.0 883.5L669.5 881.9L671.5 880.9L672.2 880.3L673.0 878.6L674.5 877.7L676.0 877.3L679.1 878.5L682.1 878.5L683.6 878.7L687.1 880.7L687.6 881.3L688.1 882.8L687.9 885.3L689.7 888.8L690.0 891.3L689.9 892.8L689.4 893.8L687.8 895.8L687.8 896.3L688.4 897.3L688.4 897.8L687.6 898.3L685.1 899.0L682.1 900.8L681.1 900.7L678.5 899.5L677.5 899.4L675.0 902.0Z"/>
<path d="M678.0 829.2L676.0 829.5L675.0 829.2L674.5 828.8L673.0 826.7L670.4 824.2L669.9 822.7L670.1 821.7L673.1 818.2L675.0 817.1L678.5 816.2L681.1 815.9L683.6 816.3L685.1 816.8L686.1 817.9L686.8 820.7L687.8 822.7L687.6 823.7L685.8 827.7L685.4 828.2L684.6 828.6L681.6 829.0L679.6 828.9L678.0 829.2ZM675.0 900.9L674.5 901.0L674.0 900.8L672.5 899.5L671.0 898.8L667.5 898.1L666.6 897.3L666.4 894.3L665.5 891.8L665.1 889.3L665.3 887.3L667.0 884.6L668.5 883.8L670.4 882.3L672.1 881.3L672.7 880.8L673.5 879.3L674.5 878.5L676.0 878.2L678.5 879.1L682.1 878.9L683.6 879.2L686.6 881.6L687.1 882.3L687.1 885.8L688.6 887.8L689.1 889.3L689.2 891.8L689.0 892.8L687.2 895.3L686.3 897.3L683.1 899.6L682.1 900.1L681.1 900.1L677.5 898.5L676.5 899.1L675.0 900.9Z"/>
<path d="M678.0 828.8L676.0 829.1L675.0 828.6L670.6 823.7L670.4 822.7L670.5 822.0L674.0 818.4L678.0 816.7L680.6 816.4L683.6 816.8L684.9 817.2L685.8 818.2L686.4 820.7L687.2 822.7L687.1 823.7L685.5 827.2L685.1 827.8L684.1 828.3L681.6 828.5L679.6 828.0L678.0 828.8ZM682.1 899.5L681.1 899.6L680.1 899.4L677.5 897.7L676.5 898.0L674.5 899.6L671.0 898.3L668.0 897.9L667.2 897.3L666.9 896.8L667.0 894.3L666.5 892.3L666.5 890.3L665.8 888.3L666.0 886.8L667.0 885.4L668.0 884.9L669.0 885.3L669.5 886.4L670.4 883.3L674.2 880.8L675.5 879.4L676.5 879.3L679.1 879.7L682.1 879.5L683.6 880.0L686.1 882.8L686.3 883.8L686.1 886.3L686.6 887.2L687.6 887.9L688.2 888.8L688.4 891.8L688.0 893.3L685.6 896.7L683.2 898.8L682.1 899.5Z"/>
<path d="M677.5 828.4L676.5 828.6L675.4 828.2L671.2 823.7L670.9 822.7L671.1 822.2L674.5 818.9L678.0 817.1L680.1 816.9L683.6 817.3L684.8 817.7L685.5 818.7L686.6 823.2L685.1 827.0L684.2 827.7L682.6 828.0L681.6 827.9L679.6 826.9L679.1 827.0L677.5 828.4ZM682.1 899.0L681.1 899.2L680.1 899.0L679.1 898.3L678.0 896.7L677.5 896.3L675.5 897.7L674.5 898.0L668.5 897.5L668.0 897.3L667.6 896.8L667.8 894.3L667.5 892.8L667.5 891.6L668.0 890.7L670.0 890.8L670.3 887.3L671.4 883.8L672.5 882.8L674.5 882.1L676.5 880.4L682.1 880.1L682.8 880.3L683.4 880.8L684.9 883.3L684.8 885.8L686.6 889.3L686.8 890.3L687.5 891.8L687.4 893.3L686.5 894.8L685.6 895.9L684.1 897.0L682.1 899.0ZM667.0 888.5L666.5 887.8L666.5 887.3L667.0 886.3L667.5 886.1L668.0 886.4L668.0 887.3L667.5 888.3L667.0 888.5Z"/>
<path d="M677.0 827.8L675.9 827.7L672.1 824.2L671.6 823.2L671.9 822.2L674.5 819.7L678.0 817.6L679.6 817.3L683.6 817.8L684.6 818.2L685.1 819.2L685.8 823.2L685.6 824.3L684.5 826.7L683.6 827.4L682.1 827.4L680.1 826.3L679.1 826.0L678.4 826.2L677.0 827.8ZM681.1 898.8L680.1 898.5L679.2 897.8L678.6 895.3L678.0 894.8L677.0 895.0L676.0 896.3L675.0 896.9L672.5 896.7L669.5 896.9L668.9 896.8L668.5 896.3L669.0 892.8L670.5 892.2L671.0 891.5L670.6 888.3L670.8 887.3L671.2 886.3L672.0 885.1L672.5 884.7L673.5 884.7L675.5 885.1L676.0 884.8L675.4 883.8L675.4 883.3L676.4 881.8L677.5 881.2L682.1 881.1L683.0 881.8L683.4 883.3L682.8 884.8L682.8 885.3L684.6 886.8L685.2 888.3L684.5 890.3L684.6 890.8L686.3 891.8L686.9 892.8L686.6 893.8L685.6 895.3L683.6 896.6L682.1 898.4L681.1 898.8Z"/>
<path d="M683.1 826.8L681.6 826.6L679.1 825.2L678.0 825.3L676.5 826.5L675.5 826.4L674.0 825.4L672.8 824.2L672.3 823.2L672.4 822.7L674.7 820.2L678.0 818.0L679.6 817.7L681.6 818.3L683.6 818.6L684.1 818.8L684.4 819.7L684.4 822.7L684.1 825.7L683.6 826.5L683.1 826.8ZM681.1 898.3L680.5 898.3L679.8 897.8L679.4 896.8L679.3 894.8L678.6 893.8L678.0 893.6L676.5 894.0L675.0 895.7L674.5 895.8L671.0 895.5L670.5 895.3L670.3 894.8L670.4 894.3L671.5 892.7L671.8 891.8L671.0 888.3L671.2 887.3L671.7 886.3L672.5 885.6L673.0 885.5L676.0 886.3L677.0 886.2L677.9 885.8L678.5 884.8L678.5 883.9L678.3 883.3L680.6 882.7L681.1 882.8L681.7 883.3L681.1 885.3L681.4 885.8L683.6 886.6L684.3 887.3L684.6 888.3L683.8 890.3L683.9 890.8L684.2 891.3L685.8 892.3L686.3 893.3L685.5 894.8L683.1 896.2L682.0 897.8L681.1 898.3Z"/>
<path d="M682.6 826.1L681.6 826.0L679.1 824.4L678.0 824.5L676.0 825.3L675.0 825.2L673.5 824.0L673.2 823.2L673.3 822.7L674.5 821.2L677.4 818.7L678.5 818.2L680.1 818.3L682.4 819.7L682.6 821.7L683.3 824.7L683.1 825.6L682.6 826.1ZM681.6 897.4L681.1 897.8L680.6 897.7L680.2 897.3L680.1 896.7L680.5 895.3L680.4 894.8L679.1 892.9L678.5 892.6L674.5 893.2L673.5 893.9L672.9 893.8L672.7 892.3L671.4 888.8L671.4 887.8L672.0 886.6L673.0 886.1L677.0 886.9L679.6 886.3L682.6 886.9L683.6 887.3L684.0 888.3L683.4 889.8L683.3 890.8L684.0 891.8L685.5 892.8L685.6 893.8L684.6 895.0L682.3 895.8L681.6 897.4Z"/>
<path d="M682.1 825.2L681.1 825.0L680.1 823.9L679.6 823.7L676.5 824.3L675.5 824.3L674.6 823.7L674.4 822.7L675.3 821.2L677.0 819.4L678.5 818.6L679.6 818.6L680.7 819.2L681.4 820.2L681.3 822.2L682.4 824.2L682.1 825.2ZM683.6 894.8L682.6 894.8L681.6 894.5L680.6 893.7L679.5 892.3L678.5 891.7L676.0 892.3L674.5 892.2L673.5 891.8L672.5 890.6L671.9 889.3L671.7 888.3L672.0 887.2L673.0 886.6L677.0 887.5L680.1 887.3L682.1 887.4L683.1 887.7L683.3 888.3L682.8 890.3L683.0 891.3L685.0 893.3L685.1 893.8L684.7 894.3L683.6 894.8Z"/>
</g>
<path d="M662.1,912.3 Q662.1,909.1 676.6,909.1 Q691.0,909.1 691.0,912.3" fill="none" stroke="#2a2a2a" stroke-width="1.4"/>
<rect x="651.0" y="800.2" width="111.2" height="112.1" fill="none" stroke="#6a6a6a" stroke-width="1.1"/>
<line x1="702.0" y1="800.2" x2="702.0" y2="912.3" stroke="#7a7a7a" stroke-width="1.0" />
<line x1="651.0" y1="870.6" x2="762.2" y2="870.6" stroke="#7a7a7a" stroke-width="1.0" />
<text x="651.7" y="816.8" font-size="14" text-anchor="start" font-weight="normal" fill="#231f20" stroke="#231f20" stroke-width="0.28" >22</text>
<text x="755.6" y="818.3" font-size="14" text-anchor="end" font-weight="normal" fill="#231f20" stroke="#231f20" stroke-width="0.28" >2.8</text>
<text x="757.2" y="904.0" font-size="14" text-anchor="end" font-weight="normal" fill="#231f20" stroke="#231f20" stroke-width="0.28" >4.2</text>
<clipPath id="cp20"><rect x="43.8" y="947.1" width="111.5" height="111.6"/></clipPath>
<g clip-path="url(#cp20)" fill="#000" fill-opacity="0.013" stroke="#4a4a4a" stroke-width="0.42">
<path d="M85.8 1058.7L71.3 1059.1L48.8 1059.1L43.8 1058.8L43.4 1050.7L43.4 1042.7L43.7 1039.2L43.8 1038.5L46.8 1035.7L47.8 1035.3L50.3 1035.2L51.3 1034.9L55.3 1032.7L56.3 1031.7L58.5 1028.7L62.3 1024.7L74.3 1015.8L78.3 1014.3L80.8 1012.9L83.5 1012.2L85.8 1011.2L89.8 1010.4L92.3 1010.4L96.3 1011.8L98.8 1012.3L103.8 1016.2L104.4 1017.7L105.0 1022.7L104.9 1028.2L104.1 1030.7L103.6 1033.7L102.9 1035.7L98.2 1044.2L91.8 1053.0L85.8 1058.7Z"/>
<path d="M81.8 1058.7L66.3 1059.1L45.6 1058.7L43.8 1054.9L43.6 1046.7L43.8 1040.8L45.8 1038.9L47.3 1037.8L53.8 1036.4L55.3 1035.7L58.1 1033.2L62.5 1028.2L64.8 1026.1L73.3 1019.7L75.3 1018.8L77.8 1017.3L81.3 1015.9L84.1 1015.2L86.8 1014.1L88.8 1013.9L91.8 1014.1L95.3 1016.2L98.3 1017.3L99.8 1018.7L101.2 1022.7L101.6 1024.7L101.6 1029.7L101.3 1031.7L97.0 1041.7L94.8 1044.6L93.7 1046.7L89.8 1051.7L83.8 1057.4L81.8 1058.7Z"/>
<path d="M78.8 1058.7L66.3 1059.0L47.8 1058.7L47.0 1057.7L45.8 1055.2L43.8 1052.4L43.8 1042.6L45.8 1040.4L47.3 1039.4L50.3 1038.5L54.7 1037.7L56.3 1036.9L63.8 1029.4L68.6 1025.2L72.3 1022.6L75.8 1020.6L78.8 1018.6L86.8 1016.5L92.8 1017.4L94.2 1018.2L96.8 1020.2L99.5 1025.2L99.7 1026.7L99.0 1032.2L97.2 1036.2L95.7 1041.2L92.4 1046.2L86.3 1053.1L83.3 1055.2L80.6 1057.7L78.8 1058.7Z"/>
<path d="M75.3 1058.7L66.3 1058.9L54.3 1058.8L53.0 1058.7L49.8 1057.2L48.8 1056.6L47.8 1055.6L44.8 1051.7L44.4 1050.2L44.1 1046.7L44.6 1043.7L45.6 1042.2L47.8 1040.5L50.8 1039.5L55.3 1038.9L57.3 1037.9L61.6 1033.2L67.3 1027.8L70.8 1024.9L74.8 1022.7L78.8 1020.1L80.3 1019.6L83.8 1019.5L87.3 1018.5L92.3 1019.1L93.3 1019.6L94.9 1021.2L97.2 1024.7L97.9 1026.2L97.2 1029.2L97.3 1031.7L97.2 1032.7L95.6 1036.7L94.7 1040.7L91.6 1045.2L89.8 1047.1L88.3 1049.2L85.8 1051.8L82.4 1054.2L79.3 1056.9L75.3 1058.7Z"/>
<path d="M73.8 1058.7L66.3 1058.9L54.7 1058.7L53.7 1057.7L51.3 1056.0L48.3 1054.6L47.1 1053.2L45.7 1050.7L45.1 1048.2L44.9 1046.7L45.4 1044.7L47.3 1042.2L48.8 1041.1L51.8 1040.6L55.3 1040.8L56.3 1040.4L58.3 1038.7L62.0 1034.2L67.6 1028.7L69.7 1027.2L71.8 1025.3L74.8 1024.0L78.8 1021.5L80.3 1021.1L83.3 1021.0L87.3 1019.7L88.8 1019.8L92.3 1020.5L93.3 1021.2L94.1 1022.2L95.9 1025.2L96.2 1026.7L95.6 1029.7L95.7 1033.7L94.6 1036.7L93.4 1040.7L91.8 1043.1L89.3 1045.8L87.9 1048.2L86.8 1049.4L78.8 1055.8L74.2 1058.7L73.8 1058.7Z"/>
<path d="M72.8 1058.7L64.3 1058.8L63.2 1058.7L61.8 1058.1L58.7 1058.7L56.8 1058.6L51.8 1054.8L49.3 1054.1L48.1 1053.2L46.6 1050.2L45.7 1047.7L45.7 1046.7L46.2 1045.2L47.8 1043.0L49.3 1041.9L51.3 1041.8L54.8 1042.4L55.8 1042.4L56.8 1041.9L62.6 1034.7L67.8 1029.5L70.3 1027.8L72.3 1026.0L74.8 1025.0L79.3 1022.6L83.8 1021.9L86.8 1020.7L88.3 1020.6L91.8 1021.5L92.7 1022.2L93.6 1024.2L94.8 1025.7L95.2 1027.2L94.4 1030.7L94.5 1034.2L92.0 1041.2L90.9 1042.7L88.8 1044.8L87.2 1047.7L86.3 1048.7L77.4 1055.7L73.1 1058.7L72.8 1058.7Z"/>
<path d="M71.8 1058.7L64.4 1058.7L62.8 1057.7L59.3 1057.3L55.3 1055.7L53.9 1054.7L52.7 1053.2L51.8 1053.0L50.3 1053.3L49.3 1053.1L48.5 1052.2L46.7 1048.2L46.4 1046.7L46.8 1045.7L48.2 1043.7L49.3 1042.9L50.3 1042.8L52.8 1043.6L56.3 1043.4L57.3 1043.0L63.1 1035.2L68.3 1029.8L70.9 1028.2L72.8 1026.5L79.8 1023.7L82.8 1023.1L87.3 1021.4L88.8 1021.5L90.8 1022.2L91.7 1023.2L92.3 1024.7L93.8 1026.2L94.3 1027.7L93.4 1031.2L93.4 1034.2L91.8 1037.8L90.9 1041.2L88.3 1044.3L86.6 1047.2L85.8 1048.2L76.8 1055.3L71.8 1058.7Z"/>
<path d="M67.3 1058.3L65.8 1058.5L63.3 1057.2L59.8 1056.6L57.0 1054.7L54.9 1052.2L53.8 1051.6L52.8 1051.4L50.8 1052.0L49.8 1051.9L49.3 1051.4L47.4 1047.7L47.3 1046.7L47.8 1045.4L48.8 1044.2L49.8 1043.8L52.3 1044.9L54.8 1044.4L56.8 1044.4L57.8 1043.9L60.8 1039.2L63.9 1035.2L65.6 1033.7L68.8 1030.2L71.3 1028.7L73.3 1027.0L80.3 1024.5L83.0 1024.2L87.3 1022.3L88.3 1022.3L89.4 1022.7L90.3 1023.6L90.8 1025.2L91.2 1025.7L93.1 1027.2L93.4 1028.2L92.6 1031.2L92.4 1034.2L90.9 1037.2L90.1 1041.2L87.8 1044.0L86.3 1046.5L85.3 1047.7L76.3 1054.9L71.8 1057.8L70.8 1057.9L69.3 1057.6L67.3 1058.3Z"/>
<path d="M67.3 1057.3L65.8 1057.4L63.8 1056.7L60.8 1056.3L59.8 1055.9L58.2 1054.2L57.3 1051.5L56.8 1051.0L53.8 1050.0L50.8 1050.4L50.3 1050.2L48.3 1047.2L48.3 1046.6L48.7 1045.7L49.3 1045.2L49.8 1045.2L51.3 1046.1L52.8 1046.4L55.3 1045.9L55.9 1046.2L56.2 1046.7L57.3 1050.1L57.7 1050.7L58.3 1050.8L59.3 1050.6L59.8 1050.2L60.2 1049.2L59.8 1048.2L58.0 1046.7L57.9 1046.2L58.1 1045.2L60.7 1040.7L62.8 1038.0L63.9 1036.2L66.3 1034.0L69.0 1030.7L74.3 1027.2L78.3 1026.3L80.8 1025.2L82.8 1025.1L85.8 1024.2L87.8 1023.9L89.7 1026.2L92.0 1027.7L92.4 1028.7L91.9 1030.7L91.7 1033.7L90.1 1036.7L89.8 1039.7L89.3 1041.2L84.9 1047.2L82.3 1049.6L78.6 1052.2L76.3 1054.2L71.8 1056.8L69.3 1056.6L67.3 1057.3Z"/>
<path d="M67.3 1056.3L60.8 1055.7L59.5 1054.7L59.2 1053.7L59.3 1052.7L60.5 1050.7L61.0 1049.2L60.7 1048.2L59.3 1046.2L59.2 1045.2L61.5 1040.7L63.4 1038.2L64.6 1036.2L67.1 1034.2L68.4 1032.2L69.8 1030.7L71.8 1029.7L73.7 1028.2L74.8 1027.6L78.3 1027.0L80.8 1025.9L85.3 1025.3L86.8 1025.7L90.7 1028.2L91.3 1029.2L91.1 1032.7L90.8 1033.8L89.3 1036.2L89.1 1040.2L85.3 1045.9L82.2 1049.2L78.4 1051.7L75.8 1053.8L71.8 1055.8L69.3 1055.8L67.3 1056.3Z"/>
<path d="M68.8 1055.2L66.8 1055.5L61.8 1055.3L60.8 1054.9L60.4 1054.2L60.4 1053.2L61.5 1049.2L61.4 1048.2L60.4 1046.2L60.2 1045.2L62.2 1040.7L65.3 1036.3L67.6 1034.7L69.8 1031.5L72.3 1030.1L74.3 1028.4L75.8 1027.9L78.8 1027.4L81.3 1026.4L84.8 1026.0L86.7 1026.7L89.8 1029.7L90.3 1031.2L90.0 1032.7L88.8 1033.9L88.5 1034.7L88.3 1036.2L88.6 1039.2L88.2 1040.7L85.3 1045.2L81.5 1049.2L78.2 1051.2L75.8 1053.0L73.3 1053.7L71.3 1054.9L68.8 1055.2Z"/>
<path d="M68.3 1054.8L66.3 1054.9L63.8 1054.7L62.3 1054.3L61.7 1053.7L61.6 1052.2L62.0 1048.7L61.5 1045.7L62.2 1043.7L62.5 1041.7L63.2 1040.2L65.7 1036.7L68.2 1035.2L70.3 1031.8L72.8 1030.4L74.8 1028.7L76.3 1028.2L78.8 1028.0L80.8 1027.1L81.8 1026.8L84.8 1026.7L86.2 1027.2L87.2 1028.2L87.5 1029.2L87.7 1036.7L88.0 1039.2L87.8 1040.2L85.0 1044.7L82.0 1048.2L80.8 1049.2L75.8 1052.2L72.8 1053.0L70.8 1054.3L68.3 1054.8Z"/>
<path d="M68.3 1054.2L66.3 1054.4L64.3 1054.1L62.8 1053.2L62.3 1052.2L62.5 1046.2L63.1 1043.7L63.1 1041.7L63.8 1040.2L66.2 1037.2L68.7 1035.7L70.8 1032.2L73.3 1030.7L74.9 1029.2L76.3 1028.6L79.3 1028.5L80.9 1027.7L82.3 1027.3L84.3 1027.2L85.8 1027.7L86.6 1028.7L86.8 1029.7L87.5 1039.2L87.2 1040.2L84.8 1044.2L81.8 1047.8L80.8 1048.7L75.8 1051.3L72.3 1052.5L70.3 1053.8L68.3 1054.2Z"/>
<path d="M68.3 1053.7L66.3 1053.9L64.8 1053.6L63.3 1052.7L62.8 1051.7L62.8 1050.2L63.8 1044.2L63.7 1041.7L64.1 1040.7L66.6 1037.7L69.1 1036.2L70.4 1033.7L71.1 1032.7L73.3 1031.3L75.3 1029.4L76.8 1029.0L79.3 1029.2L81.8 1028.1L83.3 1027.8L84.3 1027.8L85.3 1028.1L85.9 1028.7L86.3 1029.7L86.7 1033.7L86.9 1039.2L86.6 1040.2L84.3 1044.2L81.4 1047.7L80.3 1048.6L71.8 1052.1L69.8 1053.4L68.3 1053.7Z"/>
<path d="M68.3 1053.2L65.3 1053.2L63.8 1052.3L63.3 1051.4L63.3 1050.2L63.9 1047.7L64.4 1044.2L64.5 1041.7L64.8 1040.8L67.3 1038.0L69.6 1036.7L70.6 1034.2L71.3 1033.2L73.6 1031.7L75.7 1029.7L76.8 1029.3L79.8 1029.7L83.3 1028.4L84.3 1028.4L85.1 1028.7L85.7 1029.7L86.3 1033.7L86.5 1039.2L83.8 1044.1L80.8 1047.7L80.1 1048.2L77.8 1049.2L74.8 1049.8L73.3 1050.9L71.1 1051.7L69.8 1052.7L68.3 1053.2Z"/>
<path d="M67.8 1052.7L65.8 1052.7L64.8 1052.3L64.1 1051.7L63.8 1050.7L64.5 1048.2L65.4 1041.7L67.4 1038.7L68.3 1038.0L69.9 1037.2L70.3 1036.7L70.9 1034.7L71.5 1033.7L73.8 1032.1L75.8 1030.1L77.3 1029.8L79.8 1030.4L83.3 1029.0L84.3 1029.0L84.8 1029.4L85.2 1030.2L85.9 1033.7L85.8 1036.7L86.1 1038.7L85.9 1039.7L83.6 1043.7L80.8 1047.0L79.8 1047.8L77.3 1048.8L74.8 1049.1L72.8 1050.5L70.8 1050.9L69.2 1052.2L67.8 1052.7Z"/>
<path d="M68.3 1051.7L66.8 1052.1L65.8 1052.0L64.8 1051.3L64.6 1050.7L65.4 1048.2L65.4 1045.7L65.9 1043.2L67.7 1039.2L68.3 1038.6L70.7 1037.2L71.2 1035.2L71.8 1034.0L74.3 1032.2L76.3 1030.3L77.3 1030.2L79.8 1031.1L82.8 1029.9L83.8 1029.8L84.3 1030.0L84.8 1031.0L85.4 1033.7L85.1 1036.2L85.6 1038.7L85.4 1039.7L83.3 1043.3L80.5 1046.7L79.3 1047.6L77.3 1048.3L74.4 1048.7L72.3 1050.1L69.8 1049.9L69.2 1050.2L68.3 1051.7Z"/>
<path d="M72.8 1049.2L71.8 1049.5L69.3 1048.8L67.3 1048.7L66.8 1048.4L66.5 1047.7L66.1 1046.2L66.3 1044.7L68.0 1039.7L68.8 1038.8L70.9 1037.7L71.3 1037.0L71.7 1035.2L72.3 1034.2L74.8 1032.5L76.3 1030.9L77.3 1030.7L79.8 1032.4L80.3 1032.3L81.5 1031.2L82.3 1030.8L83.3 1030.6L83.8 1030.9L84.3 1032.2L84.3 1033.9L82.3 1034.0L81.9 1034.2L81.7 1034.7L82.3 1035.9L84.3 1036.9L85.0 1038.2L84.9 1039.7L83.3 1042.5L80.8 1045.7L79.3 1047.0L77.3 1047.9L74.3 1048.2L72.8 1049.2Z"/>
<path d="M72.3 1048.9L71.3 1048.8L67.5 1047.2L67.2 1046.7L67.0 1045.7L67.4 1042.7L68.8 1039.4L70.8 1038.4L71.6 1037.7L72.0 1035.7L72.5 1034.7L75.7 1032.7L76.8 1031.7L77.3 1031.8L80.3 1034.2L82.3 1036.7L83.9 1037.7L84.3 1038.2L84.5 1039.2L82.8 1042.4L79.8 1046.1L77.8 1047.2L74.3 1047.8L72.3 1048.9ZM82.3 1032.7L82.0 1032.2L82.8 1031.8L83.1 1032.2L82.8 1032.6L82.3 1032.7Z"/>
<path d="M72.3 1048.2L71.8 1048.3L70.8 1048.0L68.8 1046.9L68.1 1046.2L67.9 1043.2L68.6 1040.7L69.3 1039.6L71.8 1038.3L72.5 1035.7L73.3 1034.7L74.8 1034.0L76.8 1033.6L77.8 1033.6L78.8 1033.9L80.0 1034.7L81.8 1037.0L83.6 1038.7L83.7 1039.2L83.4 1040.2L82.6 1041.7L80.5 1044.7L79.3 1045.9L77.3 1046.9L73.8 1047.4L72.3 1048.2Z"/>
<path d="M72.3 1047.3L71.8 1047.4L70.8 1047.2L69.8 1046.6L69.0 1045.7L68.4 1044.2L68.4 1043.2L68.9 1041.2L69.8 1040.0L72.2 1038.7L72.9 1036.2L73.7 1035.2L77.3 1034.4L78.8 1034.5L79.8 1035.2L82.5 1038.7L82.8 1039.7L82.5 1040.7L80.8 1042.9L79.9 1044.7L78.8 1045.7L76.7 1046.7L73.3 1046.8L72.3 1047.3Z"/>
<path d="M76.8 1046.2L75.8 1046.4L74.4 1046.2L72.8 1045.0L71.3 1045.7L70.3 1045.7L69.3 1044.6L68.9 1043.7L68.9 1042.7L69.8 1040.8L72.3 1039.4L72.8 1038.9L73.4 1036.7L73.8 1036.0L74.8 1035.5L78.3 1035.0L79.3 1035.4L80.4 1036.7L81.7 1039.2L81.8 1040.2L80.5 1042.2L79.3 1044.7L76.8 1046.2Z"/>
<path d="M76.8 1045.7L75.8 1045.9L74.9 1045.7L74.1 1044.2L73.3 1043.8L70.8 1044.5L70.3 1044.4L69.7 1043.7L69.5 1042.7L70.3 1041.3L72.3 1040.2L73.3 1039.4L73.9 1037.2L74.3 1036.5L75.3 1036.1L78.3 1035.7L79.3 1036.2L79.8 1036.8L80.7 1039.7L79.0 1044.2L78.3 1044.9L76.8 1045.7Z"/>
<path d="M76.3 1045.2L75.8 1045.2L75.3 1044.7L74.8 1043.0L73.3 1042.8L71.3 1043.2L70.8 1043.2L70.6 1042.7L70.8 1042.2L74.2 1039.7L74.5 1037.7L74.8 1037.1L75.8 1036.6L78.3 1036.6L79.0 1037.2L79.4 1038.7L78.9 1043.2L78.3 1044.2L76.3 1045.2Z"/>
</g>
<rect x="43.8" y="947.1" width="111.5" height="111.6" fill="none" stroke="#6a6a6a" stroke-width="1.1"/>
<line x1="101.3" y1="947.1" x2="101.3" y2="1058.7" stroke="#7a7a7a" stroke-width="1.0" />
<line x1="43.8" y1="1006.9" x2="155.3" y2="1006.9" stroke="#7a7a7a" stroke-width="1.0" />
<text x="47.0" y="967.2" font-size="14" text-anchor="start" font-weight="normal" fill="#231f20" stroke="#231f20" stroke-width="0.28" >0.90</text>
<text x="145.6" y="970.3" font-size="14" text-anchor="end" font-weight="normal" fill="#231f20" stroke="#231f20" stroke-width="0.28" >0.02</text>
<text x="145.6" y="1054.2" font-size="14" text-anchor="end" font-weight="normal" fill="#231f20" stroke="#231f20" stroke-width="0.28" >0.21</text>
<clipPath id="cp21"><rect x="162.9" y="948.3" width="110.4" height="111.1"/></clipPath>
<g clip-path="url(#cp21)" fill="#000" fill-opacity="0.013" stroke="#4a4a4a" stroke-width="0.42">
<path d="M177.0 1059.5L171.4 1059.8L162.9 1059.8L162.5 1059.4L162.4 1055.4L162.6 1048.9L162.9 1045.9L171.4 1039.1L179.5 1034.7L182.0 1033.6L187.0 1031.9L189.5 1031.5L194.5 1031.5L196.0 1031.9L196.9 1032.4L197.7 1033.4L197.9 1034.4L197.8 1037.4L196.7 1040.9L194.2 1045.4L185.0 1054.5L177.5 1059.4L177.0 1059.5Z"/>
<path d="M174.4 1059.4L165.9 1059.8L162.9 1059.7L162.6 1059.4L162.5 1052.4L162.9 1047.7L171.4 1040.5L180.5 1035.6L183.5 1034.4L187.5 1033.5L191.0 1033.3L192.9 1033.9L193.4 1034.4L194.0 1035.4L195.1 1038.4L195.2 1039.4L194.9 1040.4L192.5 1044.9L187.9 1049.9L184.0 1053.6L177.0 1058.2L174.4 1059.4Z"/>
<path d="M172.4 1059.4L165.4 1059.7L162.9 1059.6L162.7 1059.4L162.6 1053.4L162.9 1049.0L167.3 1044.9L171.9 1041.1L177.4 1038.4L180.5 1036.6L183.5 1035.4L186.5 1034.9L190.5 1034.9L191.7 1035.4L193.1 1037.9L193.5 1039.4L192.0 1043.4L190.9 1045.4L186.3 1050.4L183.0 1053.3L176.4 1057.6L172.4 1059.4Z"/>
<path d="M170.9 1059.4L165.4 1059.6L162.8 1059.4L162.6 1054.9L162.8 1050.9L162.9 1050.1L163.9 1048.9L167.9 1045.0L171.9 1041.8L181.0 1037.0L184.0 1036.0L186.5 1035.8L190.0 1036.5L191.0 1037.0L192.2 1038.9L192.2 1040.4L190.7 1044.4L188.7 1046.9L185.4 1050.4L182.0 1053.3L175.9 1057.2L170.9 1059.4Z"/>
<path d="M168.9 1059.4L162.9 1059.4L162.7 1054.9L162.9 1051.0L167.1 1046.4L170.4 1043.5L172.9 1041.7L181.5 1037.5L184.5 1036.6L186.5 1036.5L188.5 1037.1L190.5 1038.2L191.0 1038.9L191.3 1039.9L190.2 1043.9L188.9 1045.9L185.1 1049.9L182.0 1052.7L177.5 1055.7L171.4 1058.7L168.9 1059.4Z"/>
<path d="M167.4 1059.4L163.9 1059.4L162.9 1058.8L162.8 1052.4L162.9 1051.8L168.4 1045.7L170.9 1043.5L173.4 1041.9L181.5 1038.0L184.0 1037.3L186.0 1037.2L188.0 1037.7L189.9 1038.9L190.2 1039.4L190.5 1040.4L189.4 1044.4L187.5 1046.8L182.8 1051.4L178.5 1054.6L174.9 1056.6L171.4 1058.2L167.4 1059.4Z"/>
<path d="M166.9 1059.0L165.9 1059.2L164.9 1059.1L162.9 1057.9L162.9 1052.6L167.2 1047.4L169.4 1045.2L171.4 1043.6L173.9 1042.0L181.5 1038.5L184.0 1037.9L186.0 1037.9L187.6 1038.4L189.1 1039.4L189.4 1039.9L189.6 1040.9L189.3 1042.9L188.8 1044.4L187.3 1046.4L182.3 1051.4L178.0 1054.5L173.9 1056.7L171.9 1057.6L168.9 1058.2L166.9 1059.0Z"/>
<path d="M166.9 1058.5L165.9 1058.7L164.9 1058.5L163.3 1057.4L162.9 1056.9L162.9 1053.6L163.6 1052.4L167.7 1047.4L169.9 1045.2L171.9 1043.6L174.4 1042.1L181.0 1039.1L183.5 1038.6L185.5 1038.6L187.0 1038.9L188.3 1039.9L188.7 1040.9L188.7 1042.4L188.5 1043.9L188.0 1044.9L186.8 1046.4L182.0 1051.2L178.0 1054.1L173.4 1056.6L171.4 1057.3L168.9 1057.7L166.9 1058.5Z"/>
<path d="M166.9 1057.9L165.4 1058.1L164.1 1057.4L163.2 1055.9L163.2 1054.4L163.9 1052.9L167.7 1047.9L170.4 1045.2L174.4 1042.5L181.0 1039.5L183.0 1039.1L185.0 1039.1L186.5 1039.5L187.5 1040.2L187.9 1040.9L188.1 1042.4L187.9 1043.9L187.5 1044.9L186.3 1046.4L181.5 1051.2L177.5 1054.0L172.9 1056.5L171.4 1057.0L168.9 1057.2L166.9 1057.9Z"/>
<path d="M166.9 1057.4L165.4 1057.5L164.4 1056.9L163.8 1055.9L163.9 1054.4L164.5 1052.9L167.7 1048.4L170.4 1045.5L174.4 1042.8L180.5 1040.0L182.0 1039.7L184.0 1039.6L185.5 1039.8L186.6 1040.4L187.2 1041.4L187.4 1042.4L187.3 1043.9L187.0 1044.9L186.0 1046.2L181.5 1050.8L177.5 1053.6L172.9 1056.2L171.4 1056.7L168.4 1056.9L166.9 1057.4Z"/>
<path d="M166.4 1057.0L165.4 1056.9L164.5 1055.9L164.4 1054.9L164.8 1053.4L168.4 1047.9L170.9 1045.5L174.9 1042.9L180.5 1040.4L182.0 1040.1L184.0 1040.1L185.2 1040.4L186.1 1040.9L186.5 1041.6L186.8 1042.9L186.5 1044.9L185.8 1045.9L181.0 1050.8L177.0 1053.6L172.4 1056.1L170.9 1056.4L168.6 1056.4L166.4 1057.0Z"/>
<path d="M166.4 1056.4L165.4 1056.0L165.1 1055.4L165.1 1054.4L165.6 1052.9L168.8 1047.9L171.4 1045.4L175.4 1042.9L180.5 1040.8L183.5 1040.5L184.9 1040.9L185.6 1041.4L186.2 1043.4L186.2 1044.4L185.8 1045.4L182.1 1049.4L180.5 1050.9L172.4 1055.8L170.9 1056.2L168.4 1056.0L166.4 1056.4Z"/>
<path d="M172.4 1055.6L170.9 1055.9L168.9 1055.6L166.9 1055.8L166.4 1055.7L165.9 1055.3L165.7 1054.4L166.0 1052.9L168.4 1048.9L169.4 1047.6L173.4 1044.4L178.5 1041.8L181.0 1041.1L182.5 1040.9L184.0 1041.1L185.0 1041.7L185.5 1042.5L185.8 1043.9L185.6 1044.9L185.0 1045.9L180.5 1050.6L172.4 1055.6Z"/>
<path d="M171.9 1055.5L170.9 1055.6L167.4 1055.2L166.7 1054.9L166.4 1054.4L166.4 1053.4L166.7 1052.4L169.5 1047.9L170.9 1046.5L173.4 1044.7L178.0 1042.4L182.0 1041.3L183.5 1041.4L184.5 1041.9L185.3 1043.4L185.2 1044.9L184.6 1045.9L181.8 1048.9L180.0 1050.6L171.9 1055.5Z"/>
<path d="M172.4 1055.0L171.4 1055.3L170.4 1055.3L167.4 1054.5L167.0 1053.9L167.0 1052.9L167.3 1051.9L168.7 1049.4L169.9 1047.8L173.6 1044.9L178.0 1042.7L182.5 1041.7L183.5 1041.9L184.3 1042.4L184.9 1043.4L184.9 1044.9L181.4 1048.9L179.8 1050.4L172.4 1055.0Z"/>
<path d="M171.9 1055.0L170.9 1055.1L169.9 1054.9L167.9 1054.0L167.5 1053.4L167.5 1052.4L168.2 1050.9L170.1 1047.9L173.9 1045.0L177.5 1043.2L182.0 1042.1L183.0 1042.1L184.0 1042.7L184.6 1043.9L184.5 1044.9L180.6 1049.4L179.3 1050.4L171.9 1055.0Z"/>
<path d="M172.4 1054.5L171.4 1054.8L170.4 1054.7L168.7 1053.9L168.0 1052.9L168.1 1051.9L168.7 1050.4L170.4 1047.9L173.9 1045.3L177.5 1043.5L182.0 1042.4L183.0 1042.5L183.6 1042.9L184.2 1043.9L184.1 1044.9L180.5 1049.0L179.5 1049.9L176.4 1051.6L172.4 1054.5Z"/>
<path d="M171.9 1054.4L170.4 1054.4L169.4 1053.9L168.5 1052.9L168.5 1051.9L169.0 1050.4L169.9 1048.9L170.8 1047.9L173.9 1045.7L177.5 1043.8L182.0 1042.8L183.0 1042.9L183.5 1043.3L183.9 1044.4L183.5 1045.3L180.0 1049.1L171.9 1054.4Z"/>
<path d="M171.9 1054.1L170.9 1054.2L170.1 1053.9L169.4 1053.4L168.9 1052.4L169.4 1050.4L170.9 1048.2L173.9 1046.1L177.5 1044.1L181.5 1043.2L183.0 1043.4L183.4 1043.9L183.3 1044.9L179.6 1048.9L171.9 1054.1Z"/>
<path d="M172.4 1053.5L170.9 1053.9L169.9 1053.3L169.3 1052.4L169.3 1051.4L169.7 1050.4L170.9 1048.5L173.4 1046.8L177.7 1044.4L181.5 1043.6L182.7 1043.9L183.0 1044.4L182.5 1045.4L181.0 1046.6L179.0 1048.7L172.4 1053.5Z"/>
<path d="M171.9 1053.4L170.9 1053.4L170.4 1053.2L169.9 1052.6L169.7 1051.9L170.2 1049.9L171.4 1048.4L173.9 1046.9L175.9 1046.1L178.0 1044.6L181.5 1044.2L182.2 1044.4L182.0 1045.1L179.5 1047.4L177.8 1048.4L174.3 1051.9L171.9 1053.4Z"/>
<path d="M179.0 1047.0L177.5 1047.3L176.8 1046.9L176.8 1046.4L177.4 1045.4L178.0 1045.1L179.0 1044.8L180.0 1044.9L180.5 1045.4L179.0 1047.0ZM171.9 1053.0L170.8 1052.9L170.1 1051.9L170.1 1050.9L170.9 1049.4L171.9 1048.4L173.9 1047.4L174.9 1047.2L175.8 1047.4L176.3 1048.4L176.2 1049.4L175.8 1049.9L173.9 1051.8L171.9 1053.0Z"/>
<path d="M178.5 1046.4L178.0 1046.2L177.9 1045.9L178.5 1045.5L179.0 1045.6L179.1 1045.9L178.5 1046.4ZM172.4 1052.4L171.4 1052.6L170.9 1052.4L170.5 1051.9L170.5 1050.9L170.9 1049.9L171.8 1048.9L172.9 1048.2L173.9 1047.9L174.9 1048.0L175.5 1048.9L175.3 1049.9L174.0 1051.4L172.4 1052.4Z"/>
<path d="M172.4 1052.0L171.4 1052.1L170.9 1051.5L170.9 1050.9L171.3 1049.9L171.9 1049.2L172.9 1048.7L173.9 1048.5L174.4 1048.6L174.8 1049.4L174.4 1050.4L173.4 1051.4L172.4 1052.0Z"/>
</g>
<path d="M164.9,1059.4 L164.9,1034.6 Q164.9,1031.6 163.7,1031.6" fill="none" stroke="#2a2a2a" stroke-width="1.6"/>
<line x1="162.9" y1="1057.9" x2="182.8" y2="1057.9" stroke="#2a2a2a" stroke-width="1.6"/>
<rect x="162.9" y="948.3" width="110.4" height="111.1" fill="none" stroke="#222" stroke-width="1.4"/>
<line x1="196.0" y1="948.3" x2="196.0" y2="1059.4" stroke="#b8b8b8" stroke-width="1.0" />
<line x1="162.9" y1="1031.6" x2="273.3" y2="1031.6" stroke="#7a7a7a" stroke-width="1.0" />
<text x="163.4" y="966.8" font-size="14" text-anchor="start" font-weight="normal" fill="#231f20" stroke="#231f20" stroke-width="0.28" >1.6</text>
<text x="267.4" y="964.4" font-size="14" text-anchor="end" font-weight="normal" fill="#231f20" stroke="#231f20" stroke-width="0.28" >0.10</text>
<text x="265.9" y="1057.1" font-size="14" text-anchor="end" font-weight="normal" fill="#231f20" stroke="#231f20" stroke-width="0.28" >0.04</text>
<clipPath id="cp22"><rect x="283.9" y="949.1" width="111.5" height="111.2"/></clipPath>
<g clip-path="url(#cp22)" fill="#000" fill-opacity="0.013" stroke="#4a4a4a" stroke-width="0.42">
<path d="M315.9 1060.3L305.4 1060.6L295.1 1060.3L291.4 1057.6L290.4 1056.6L287.7 1052.8L286.1 1049.3L285.4 1045.7L284.4 1042.8L283.9 1039.3L283.9 1031.9L284.6 1028.2L283.9 1022.7L284.5 1019.2L284.2 1016.7L284.3 1015.2L284.7 1013.7L286.2 1010.7L286.9 1007.7L287.8 1006.2L290.6 1002.2L293.8 998.7L295.4 997.5L296.9 996.7L300.4 996.4L303.9 995.2L306.9 995.1L311.9 996.5L317.4 998.9L319.4 1000.4L322.5 1004.2L326.0 1012.2L326.4 1014.2L326.5 1021.7L325.5 1030.2L326.4 1038.3L325.7 1046.8L324.6 1050.8L321.8 1055.3L318.3 1058.8L315.9 1060.3Z"/>
<path d="M308.9 1059.8L307.4 1060.1L304.9 1060.2L299.4 1059.5L296.9 1058.5L292.4 1055.2L291.1 1053.3L288.7 1048.8L288.0 1046.8L286.8 1040.8L287.1 1037.3L286.5 1033.3L287.2 1028.2L286.5 1023.2L287.0 1019.7L286.8 1015.7L287.1 1014.7L288.9 1011.2L290.4 1007.2L295.4 1001.1L296.9 999.9L304.4 998.4L307.9 998.1L310.4 998.4L312.4 999.1L317.4 1002.3L318.4 1003.1L320.4 1005.6L321.3 1007.2L322.9 1013.2L323.3 1019.2L323.3 1023.7L322.6 1030.2L324.0 1038.3L323.3 1047.3L322.4 1049.3L319.7 1053.8L318.4 1055.2L314.9 1057.8L308.9 1059.8Z"/>
<path d="M309.4 1058.3L307.4 1058.7L304.9 1058.6L300.4 1057.3L297.9 1056.9L295.8 1055.8L294.2 1054.3L292.4 1051.9L289.7 1047.3L289.0 1045.3L288.4 1041.3L289.1 1037.8L288.4 1034.8L289.0 1029.7L288.1 1023.2L288.5 1019.2L288.3 1016.7L288.5 1015.7L290.1 1011.7L292.5 1007.2L296.9 1002.6L297.9 1001.9L299.4 1001.3L305.4 999.9L308.9 999.9L311.9 1000.6L313.4 1001.4L316.5 1003.7L319.6 1008.2L321.2 1012.7L321.7 1015.2L321.5 1020.7L321.1 1024.2L321.2 1027.2L321.0 1030.2L322.4 1039.3L321.8 1047.3L320.3 1050.3L316.9 1054.2L309.4 1058.3Z"/>
<path d="M308.9 1057.4L307.4 1057.6L304.9 1057.4L298.4 1055.6L296.9 1054.8L293.4 1051.2L290.7 1046.8L290.2 1045.3L289.6 1041.3L290.2 1037.8L289.8 1034.8L290.3 1029.7L289.6 1025.2L289.7 1016.7L291.0 1012.2L293.5 1007.7L297.6 1003.7L299.9 1002.5L305.4 1001.1L307.9 1001.2L311.9 1002.2L313.4 1002.9L315.1 1004.2L318.6 1009.2L320.1 1012.7L320.7 1015.2L320.2 1018.7L319.5 1028.7L319.8 1031.2L320.7 1034.8L320.7 1037.3L321.1 1040.3L320.8 1046.3L320.5 1047.8L319.4 1049.9L316.9 1052.6L315.9 1053.3L313.4 1054.3L310.9 1056.3L308.9 1057.4Z"/>
<path d="M308.9 1056.3L306.9 1056.6L303.9 1056.3L298.9 1054.7L297.4 1053.8L294.9 1051.5L293.6 1049.8L291.4 1045.3L290.5 1041.3L291.0 1038.3L290.8 1035.3L291.3 1029.2L290.6 1024.7L290.8 1017.2L291.9 1012.7L294.1 1008.2L298.4 1004.4L300.4 1003.4L305.4 1002.1L306.9 1002.2L309.4 1003.3L312.4 1003.8L314.4 1005.1L317.8 1009.7L319.3 1013.2L319.9 1015.2L318.3 1028.2L318.5 1030.2L319.9 1034.8L319.7 1037.3L320.0 1042.3L319.6 1047.8L318.5 1049.8L316.4 1051.8L312.9 1053.2L309.9 1055.8L308.9 1056.3Z"/>
<path d="M308.4 1055.4L306.9 1055.6L303.4 1055.3L298.9 1053.7L296.9 1052.4L295.3 1050.8L294.4 1049.3L293.4 1046.8L292.4 1044.8L291.4 1040.8L291.8 1038.3L291.7 1035.8L292.3 1028.2L291.7 1024.7L291.9 1017.7L292.5 1014.2L293.8 1010.2L294.9 1008.4L297.3 1006.7L299.4 1004.9L301.9 1003.8L305.4 1003.0L306.9 1003.3L308.9 1004.4L311.9 1004.8L313.9 1006.0L317.0 1010.2L318.8 1014.2L319.1 1015.7L317.3 1028.2L317.6 1030.2L319.2 1034.8L319.0 1037.3L319.3 1042.8L318.9 1047.3L318.2 1048.8L316.3 1050.8L311.9 1052.8L309.4 1054.9L308.4 1055.4Z"/>
<path d="M308.4 1054.3L306.9 1054.7L303.4 1054.5L298.9 1052.9L297.4 1052.0L296.2 1050.8L295.3 1049.3L294.4 1046.8L293.1 1044.3L292.2 1040.8L292.5 1035.8L293.1 1032.2L293.3 1027.7L292.8 1024.2L292.7 1018.7L293.1 1015.7L294.2 1012.7L294.6 1010.2L295.7 1008.7L298.2 1007.2L300.4 1005.3L302.4 1004.4L304.4 1004.0L305.9 1004.2L308.9 1005.3L311.4 1005.5L312.9 1006.3L314.2 1007.7L316.4 1010.8L318.0 1014.2L318.4 1015.7L317.8 1021.2L316.5 1028.7L318.5 1034.8L318.4 1037.8L318.7 1042.8L318.1 1047.3L317.4 1048.6L315.5 1050.3L310.2 1052.8L308.4 1054.3Z"/>
<path d="M306.9 1053.8L304.9 1054.0L303.4 1053.8L298.9 1052.2L297.4 1051.2L296.3 1049.8L295.2 1046.8L293.8 1044.3L293.0 1040.8L293.2 1035.8L294.1 1031.7L294.2 1027.2L293.7 1024.2L293.5 1019.2L294.0 1015.7L295.1 1012.7L295.2 1010.7L295.7 1009.7L296.2 1009.2L299.1 1007.7L301.3 1005.7L302.4 1005.2L303.9 1004.9L304.9 1004.9L308.4 1006.0L310.9 1006.1L312.2 1006.7L313.2 1007.7L316.3 1012.2L317.3 1014.2L317.7 1015.7L317.3 1020.7L315.8 1028.7L317.8 1034.8L318.1 1042.8L317.5 1046.8L316.9 1047.9L314.8 1049.8L309.7 1052.3L307.9 1053.5L306.9 1053.8Z"/>
<path d="M304.9 1053.3L303.4 1053.1L301.4 1052.1L298.9 1051.4L297.4 1050.3L296.3 1047.3L294.4 1044.3L293.7 1040.8L293.8 1035.8L294.9 1032.4L295.1 1031.2L295.1 1027.2L294.5 1024.2L294.2 1019.2L294.8 1015.7L295.8 1013.2L296.1 1010.7L296.9 1009.7L299.8 1008.2L301.8 1006.2L303.9 1005.6L307.9 1006.6L310.9 1006.8L311.8 1007.2L316.2 1013.2L316.9 1014.7L317.1 1015.7L316.8 1020.2L316.1 1022.7L315.1 1028.7L317.2 1035.3L317.6 1042.8L316.9 1045.9L316.2 1047.3L313.6 1049.8L307.4 1052.9L304.9 1053.3Z"/>
<path d="M306.9 1052.4L305.4 1052.6L303.9 1052.6L301.9 1051.6L299.4 1050.9L298.4 1050.3L297.7 1049.3L297.3 1047.3L294.9 1044.3L294.3 1041.8L294.7 1038.8L294.5 1035.8L295.8 1031.7L296.0 1029.2L295.9 1027.2L295.1 1023.7L294.8 1019.7L295.6 1017.2L295.8 1015.2L296.7 1011.7L297.1 1010.7L297.6 1010.2L299.9 1009.0L302.3 1006.7L303.9 1006.2L307.9 1007.2L310.4 1007.3L311.3 1007.7L315.9 1013.7L316.6 1015.7L316.2 1019.7L315.3 1022.7L315.2 1025.2L314.3 1028.7L314.5 1029.7L315.7 1032.2L316.6 1035.8L316.8 1043.8L315.7 1046.3L313.4 1049.3L311.4 1050.5L306.9 1052.4Z"/>
<path d="M306.4 1051.9L304.9 1052.0L303.9 1051.9L299.2 1049.8L298.8 1049.3L297.8 1046.8L295.4 1044.3L294.8 1042.3L294.9 1040.8L295.6 1038.8L295.0 1036.3L295.1 1035.3L296.5 1031.7L297.2 1029.2L295.7 1023.7L295.3 1020.7L295.5 1019.2L296.5 1017.2L296.7 1014.2L297.4 1011.8L297.9 1011.0L300.4 1009.3L302.4 1007.3L303.9 1006.8L307.9 1007.8L309.9 1007.9L310.9 1008.2L315.4 1013.8L315.9 1014.7L316.1 1015.7L315.5 1019.2L314.4 1022.2L314.5 1025.2L313.6 1028.7L313.8 1029.7L315.0 1032.2L316.0 1036.3L316.0 1043.8L313.9 1047.8L312.6 1049.3L310.4 1050.5L306.4 1051.9Z"/>
<path d="M306.4 1051.3L303.9 1051.3L300.2 1049.3L298.4 1046.5L295.9 1044.3L295.3 1042.3L295.4 1040.8L296.3 1038.8L295.6 1036.3L295.7 1035.3L298.3 1030.2L298.5 1029.2L298.3 1028.2L296.6 1024.7L295.7 1021.2L295.9 1019.7L297.2 1017.2L297.3 1013.7L297.9 1012.2L298.6 1011.2L300.8 1009.7L302.9 1007.7L303.9 1007.4L310.5 1008.7L315.0 1014.2L315.6 1015.7L315.1 1018.2L313.1 1022.7L313.1 1023.7L313.5 1025.2L312.8 1028.7L313.0 1029.7L314.2 1032.2L315.4 1036.3L315.3 1043.8L313.3 1047.8L312.4 1048.9L310.4 1050.1L306.4 1051.3Z"/>
<path d="M306.4 1050.8L303.9 1050.7L301.5 1049.3L298.9 1046.3L296.4 1044.2L295.9 1043.3L295.7 1042.3L295.9 1040.9L296.9 1038.8L296.2 1036.3L296.2 1035.3L296.9 1033.8L298.9 1031.1L299.4 1029.7L299.2 1028.2L297.2 1024.7L296.2 1021.2L296.4 1019.7L297.7 1017.2L297.8 1013.7L298.9 1011.7L302.9 1008.4L303.9 1008.0L309.4 1008.9L310.4 1009.3L311.3 1010.2L313.3 1013.2L314.6 1014.7L315.0 1015.7L314.5 1018.2L312.3 1022.2L311.8 1023.7L312.4 1026.2L312.2 1029.7L313.4 1032.2L315.0 1036.8L315.0 1038.3L314.5 1040.3L314.8 1042.8L314.6 1043.8L313.0 1047.3L311.9 1048.7L309.9 1049.9L306.4 1050.8Z"/>
<path d="M306.4 1050.3L304.4 1050.2L303.3 1049.8L301.6 1047.8L296.9 1044.1L296.3 1043.3L296.1 1042.3L296.3 1041.3L297.5 1038.8L296.7 1036.3L296.7 1035.3L297.4 1034.1L299.4 1032.2L300.3 1029.7L300.2 1028.7L299.7 1027.7L297.6 1024.2L296.6 1021.7L296.7 1020.2L298.2 1017.2L298.2 1013.7L298.7 1012.7L299.6 1011.7L302.9 1009.0L304.4 1008.5L309.4 1009.4L310.4 1009.9L312.6 1013.7L314.0 1015.2L314.3 1016.2L314.0 1017.7L311.4 1022.7L311.1 1024.2L311.6 1026.7L311.3 1029.2L311.4 1030.2L312.9 1033.0L314.4 1036.8L314.3 1038.3L313.4 1040.3L314.1 1042.3L314.1 1043.8L312.5 1047.3L311.7 1048.3L309.9 1049.4L306.4 1050.3Z"/>
<path d="M306.4 1049.8L304.1 1049.3L303.7 1048.8L303.2 1047.3L300.9 1046.4L297.9 1044.2L296.9 1043.3L296.6 1042.3L296.9 1041.3L297.8 1039.8L298.0 1038.8L297.2 1036.3L297.3 1035.3L297.9 1034.4L299.9 1033.3L301.3 1029.2L299.8 1026.2L298.4 1024.6L297.6 1023.2L297.0 1021.7L297.0 1020.7L298.6 1017.2L298.6 1014.2L298.9 1013.2L299.9 1012.0L302.9 1009.6L304.4 1009.0L308.9 1009.8L309.9 1010.2L310.7 1011.2L311.9 1014.1L313.1 1015.7L313.5 1016.7L313.2 1018.2L310.7 1023.2L310.5 1024.2L310.9 1027.2L310.0 1029.2L310.9 1031.2L312.6 1033.8L313.8 1036.8L313.7 1037.8L312.5 1039.8L312.5 1040.3L313.5 1042.3L313.6 1043.3L312.2 1046.8L311.0 1048.3L308.9 1049.3L306.4 1049.8ZM309.2 1029.7L309.6 1029.2L308.4 1028.2L307.4 1027.9L306.5 1028.2L306.8 1029.2L307.4 1029.9L308.4 1030.1L309.2 1029.7Z"/>
<path d="M309.4 1027.5L306.9 1027.2L301.9 1027.5L301.4 1027.2L300.4 1025.7L298.8 1024.2L297.6 1022.2L297.4 1020.7L298.9 1017.5L299.2 1013.7L300.3 1012.2L302.9 1010.2L303.9 1009.6L305.9 1009.6L308.5 1010.2L309.6 1010.7L310.2 1011.7L311.4 1014.6L312.7 1016.7L312.5 1018.2L310.0 1023.7L310.0 1026.7L309.8 1027.2L309.4 1027.5ZM308.9 1048.8L306.9 1049.2L305.4 1048.9L304.9 1048.4L303.9 1046.6L301.9 1046.2L300.9 1045.7L298.2 1043.8L297.4 1042.8L297.4 1041.8L298.4 1039.3L298.4 1038.3L297.8 1036.3L297.9 1035.4L298.4 1034.9L299.9 1034.3L300.4 1033.8L301.5 1031.2L303.4 1029.1L304.4 1028.5L305.4 1028.8L307.4 1030.8L309.4 1031.2L309.9 1031.5L311.9 1033.8L313.0 1036.3L312.9 1037.8L311.7 1039.8L312.0 1040.8L313.0 1042.3L313.0 1043.8L311.3 1047.3L310.4 1048.1L308.9 1048.8Z"/>
<path d="M308.9 1026.3L307.9 1026.5L302.9 1026.4L302.1 1026.2L298.9 1023.6L297.9 1021.7L297.9 1020.6L299.2 1017.7L299.4 1014.7L299.7 1013.7L301.0 1012.2L303.9 1010.1L305.9 1010.1L308.2 1010.7L309.1 1011.2L312.0 1016.7L311.9 1018.2L309.5 1023.7L308.9 1026.3ZM308.9 1048.3L307.4 1048.6L306.0 1048.3L303.9 1045.8L301.9 1045.6L301.2 1045.3L298.6 1043.3L298.1 1042.3L298.9 1039.3L298.4 1036.3L298.6 1035.8L300.8 1034.3L301.9 1032.4L303.4 1031.6L304.0 1030.2L304.9 1029.8L305.8 1030.2L306.9 1031.4L309.4 1032.4L310.4 1033.1L311.5 1034.3L312.1 1035.8L312.1 1037.3L311.2 1038.8L310.9 1039.8L311.3 1040.8L312.4 1042.3L312.5 1043.8L310.9 1047.0L310.0 1047.8L308.9 1048.3Z"/>
<path d="M306.9 1025.8L303.4 1025.6L302.4 1025.4L299.4 1023.3L298.3 1021.7L298.3 1020.7L299.5 1018.2L299.9 1014.7L300.3 1013.7L302.9 1011.2L304.4 1010.5L306.4 1010.6L308.6 1011.7L309.4 1012.8L311.5 1017.2L311.3 1018.2L308.4 1024.9L307.9 1025.5L306.9 1025.8ZM308.4 1047.9L307.4 1048.0L306.4 1047.7L305.8 1047.3L304.4 1045.3L303.9 1045.0L302.4 1045.1L301.4 1044.8L299.1 1042.8L298.9 1041.8L299.3 1039.3L299.2 1036.3L300.9 1035.0L302.4 1033.4L304.9 1033.3L306.4 1032.7L307.9 1032.8L310.1 1033.8L311.2 1035.3L311.3 1036.3L310.3 1038.8L310.2 1039.8L310.6 1040.8L311.9 1042.3L312.0 1043.8L310.4 1046.7L309.4 1047.5L308.4 1047.9Z"/>
<path d="M306.9 1024.8L303.9 1024.8L302.9 1024.5L299.7 1022.7L299.2 1022.2L298.8 1021.2L299.8 1018.7L300.3 1015.2L300.7 1014.2L303.1 1011.7L303.9 1011.1L304.9 1010.8L306.8 1011.2L308.4 1012.4L309.4 1013.9L310.9 1017.2L310.6 1018.2L309.5 1019.7L308.9 1022.3L307.9 1024.0L306.9 1024.8ZM308.4 1047.3L307.4 1047.4L306.4 1047.0L305.7 1046.3L304.9 1044.6L304.5 1044.3L302.4 1044.5L301.4 1044.2L300.3 1043.3L299.6 1042.3L299.8 1036.8L302.9 1034.2L304.9 1034.1L306.9 1033.5L307.9 1033.5L309.4 1034.2L310.2 1035.3L310.3 1036.3L309.6 1039.8L310.0 1040.8L311.4 1042.3L311.6 1043.3L311.3 1044.3L310.0 1046.3L309.4 1046.9L308.4 1047.3Z"/>
<path d="M306.9 1023.9L305.9 1024.1L304.4 1023.9L300.5 1022.2L299.7 1021.2L300.9 1015.3L303.4 1012.2L303.9 1011.7L304.9 1011.3L306.4 1011.6L307.8 1012.7L308.9 1014.1L310.1 1016.7L310.0 1017.7L308.6 1019.7L308.2 1022.2L306.9 1023.9ZM308.9 1046.4L307.4 1046.7L306.5 1046.3L305.9 1045.3L305.8 1043.8L305.4 1043.4L304.4 1043.4L302.9 1043.9L301.9 1043.8L300.9 1043.1L300.3 1042.3L300.0 1040.8L300.7 1037.3L303.4 1035.1L305.4 1034.9L307.4 1034.3L308.4 1034.5L309.2 1035.3L309.4 1036.3L309.0 1039.3L309.1 1040.3L310.7 1042.3L311.1 1043.3L310.4 1044.8L308.9 1046.4Z"/>
<path d="M306.4 1023.3L305.4 1023.4L304.4 1023.0L302.9 1021.9L301.2 1021.2L300.7 1020.2L300.8 1017.2L301.3 1015.7L303.3 1014.2L304.3 1012.2L305.4 1011.8L306.4 1012.2L307.9 1013.7L308.9 1015.2L309.5 1016.7L309.2 1017.7L307.8 1019.7L307.8 1021.2L307.5 1022.2L306.4 1023.3ZM308.4 1045.5L307.4 1045.6L307.0 1045.3L307.1 1043.8L306.4 1042.9L304.9 1042.7L302.3 1043.3L301.3 1042.8L300.5 1041.3L300.7 1039.8L301.4 1038.3L303.4 1037.2L305.6 1036.8L307.4 1035.3L307.9 1035.4L308.4 1035.9L308.6 1040.3L309.1 1041.3L310.3 1042.8L310.4 1043.3L309.9 1044.2L308.4 1045.5Z"/>
<path d="M306.4 1022.5L305.9 1022.7L304.9 1022.4L304.3 1021.7L303.9 1020.2L303.4 1019.9L302.4 1020.1L301.9 1019.9L301.4 1018.7L301.4 1017.2L301.8 1016.2L303.9 1015.2L304.6 1013.2L305.4 1012.6L306.4 1013.1L307.9 1014.7L308.5 1015.7L308.8 1016.7L308.5 1017.7L307.3 1019.2L307.0 1021.7L306.4 1022.5ZM308.4 1042.8L307.0 1042.3L305.9 1042.1L302.9 1042.7L301.9 1042.5L301.1 1041.3L301.2 1039.8L301.9 1038.8L303.4 1038.0L307.4 1037.5L307.9 1038.5L308.2 1040.8L308.6 1042.3L308.7 1042.8L308.4 1042.8Z"/>
<path d="M306.4 1019.0L305.9 1019.1L305.4 1018.6L305.0 1017.7L305.2 1014.7L305.4 1014.1L305.9 1013.9L307.4 1015.1L307.9 1015.9L308.1 1016.7L307.7 1017.7L306.4 1019.0ZM304.4 1041.8L302.9 1042.1L302.0 1041.8L301.5 1040.8L301.9 1039.6L302.9 1038.8L303.9 1038.4L305.9 1038.3L306.9 1038.5L307.5 1039.8L307.5 1040.8L307.2 1041.3L304.4 1041.8Z"/>
<path d="M306.9 1017.2L306.4 1017.2L306.4 1016.4L306.9 1016.3L306.9 1017.2ZM304.4 1041.3L303.4 1041.4L302.6 1041.3L302.2 1040.8L302.6 1039.8L303.4 1039.2L304.4 1038.9L305.9 1039.0L306.5 1039.3L306.8 1040.3L306.5 1040.8L304.4 1041.3Z"/>
</g>
<path d="M285.9,1060.3 L285.9,1004.4 Q285.9,1001.4 284.7,1001.4" fill="none" stroke="#2a2a2a" stroke-width="1.6"/>
<path d="M300.6,1060.3 Q300.6,1057.1 310.1,1057.1 Q319.6,1057.1 319.6,1060.3" fill="none" stroke="#2a2a2a" stroke-width="1.4"/>
<rect x="283.9" y="949.1" width="111.5" height="111.2" fill="none" stroke="#6a6a6a" stroke-width="1.1"/>
<line x1="332.7" y1="949.1" x2="332.7" y2="1060.3" stroke="#7a7a7a" stroke-width="1.0" />
<line x1="283.9" y1="1019.7" x2="395.4" y2="1019.7" stroke="#7a7a7a" stroke-width="1.0" />
<text x="284.9" y="964.9" font-size="14" text-anchor="start" font-weight="normal" fill="#231f20" stroke="#231f20" stroke-width="0.28" >31</text>
<text x="387.8" y="966.4" font-size="14" text-anchor="end" font-weight="normal" fill="#231f20" stroke="#231f20" stroke-width="0.28" >0.0</text>
<text x="390.9" y="1057.5" font-size="14" text-anchor="end" font-weight="normal" fill="#231f20" stroke="#231f20" stroke-width="0.28" >0.0</text>
<clipPath id="cp23"><rect x="404.3" y="951.4" width="111.5" height="111.2"/></clipPath>
<g clip-path="url(#cp23)" fill="#000" fill-opacity="0.013" stroke="#4a4a4a" stroke-width="0.42">
<path d="M439.5 1062.7L428.9 1063.0L418.1 1062.6L413.3 1060.7L411.8 1059.6L411.0 1058.6L407.0 1051.6L406.1 1049.1L405.0 1043.6L404.3 1041.4L404.1 1002.5L404.3 974.4L404.3 972.9L404.9 970.4L405.8 968.5L411.3 961.5L412.3 960.6L418.9 956.3L427.4 954.2L428.9 954.5L430.9 955.9L433.4 956.6L439.0 959.0L440.4 959.9L442.5 961.7L444.0 963.6L447.8 970.4L448.9 974.4L448.8 978.4L449.3 982.0L448.9 986.0L449.2 989.0L449.9 992.0L450.1 998.0L450.5 1001.5L449.5 1008.5L449.9 1012.0L448.4 1018.0L447.9 1021.5L446.9 1024.5L446.5 1027.0L445.9 1040.6L446.0 1044.1L445.7 1046.1L444.8 1050.1L443.9 1052.6L443.3 1056.1L440.7 1061.6L439.9 1062.6L439.5 1062.7Z"/>
<path d="M435.9 1062.6L430.4 1062.8L423.7 1062.6L422.0 1061.1L416.9 1058.6L412.8 1056.1L411.7 1054.6L407.9 1047.6L406.8 1044.1L405.4 1036.6L405.4 1034.5L406.0 1028.0L405.7 1025.0L406.3 1022.5L406.8 1017.5L406.2 1013.5L405.9 1008.5L406.0 1005.5L405.5 1002.5L406.2 999.5L406.2 995.5L407.0 992.0L406.6 988.0L407.2 982.5L407.7 980.0L407.2 975.9L407.5 973.4L408.1 971.4L409.5 969.4L410.7 966.9L414.8 962.6L418.4 960.4L424.9 958.7L430.4 959.4L434.4 960.5L438.5 962.7L441.0 964.5L442.0 965.5L442.9 966.9L445.6 974.9L445.3 977.9L446.2 981.5L445.9 984.5L445.9 989.5L447.2 995.5L446.9 999.5L447.3 1006.0L446.5 1011.5L445.6 1015.5L444.8 1020.0L444.3 1025.5L443.9 1031.5L444.1 1036.6L443.7 1042.1L443.9 1045.6L443.2 1048.6L442.0 1052.1L441.0 1056.1L438.9 1060.1L435.9 1062.6Z"/>
<path d="M432.4 1062.6L426.6 1062.6L423.4 1059.6L419.4 1057.3L414.8 1055.6L413.5 1054.6L409.2 1047.1L408.2 1043.6L406.5 1035.1L406.7 1031.5L407.3 1028.5L407.1 1025.0L408.4 1016.5L407.7 1010.0L408.1 1006.0L407.8 1003.0L407.8 997.5L408.2 996.0L409.4 994.0L409.6 992.5L409.5 991.0L408.7 988.0L409.5 984.5L409.7 980.0L409.4 977.4L409.4 973.4L409.8 972.4L412.2 968.4L416.4 963.7L418.9 962.5L422.4 962.2L425.9 961.1L433.4 962.0L436.6 963.9L440.1 966.4L440.7 967.4L441.5 969.9L443.0 972.2L443.5 973.4L443.6 974.9L443.2 977.4L444.4 982.0L443.8 986.5L444.7 993.0L444.3 996.0L445.2 999.5L445.3 1005.0L445.1 1007.0L443.1 1016.5L442.9 1023.0L442.2 1029.5L442.3 1032.0L442.8 1036.1L442.5 1042.1L442.8 1046.1L440.2 1054.6L439.5 1056.2L437.3 1059.6L436.3 1060.6L434.9 1061.6L432.4 1062.6Z"/>
<path d="M431.4 1061.7L428.4 1061.5L427.4 1061.3L424.9 1059.1L422.4 1057.7L420.4 1056.1L415.3 1054.1L414.3 1053.3L411.1 1048.6L410.0 1046.6L407.3 1034.5L407.5 1032.0L408.2 1028.5L408.1 1025.5L408.7 1019.5L409.8 1015.0L409.9 1006.0L409.2 999.0L409.3 997.9L410.3 995.5L411.1 992.5L411.0 991.0L410.4 988.0L411.4 984.5L411.0 981.5L411.4 973.4L413.1 969.9L414.8 968.1L416.4 965.6L417.4 964.7L419.4 963.8L422.9 963.6L426.4 962.5L431.4 962.9L432.9 963.2L439.2 967.9L441.9 973.4L441.7 976.9L443.0 982.0L442.2 986.0L443.1 991.5L442.5 996.0L442.8 997.5L443.7 1000.0L443.7 1004.5L442.8 1012.0L441.6 1016.0L441.4 1024.0L440.9 1028.5L441.2 1033.0L441.8 1036.1L441.7 1042.6L442.1 1045.1L442.0 1046.1L439.7 1053.1L438.5 1055.8L435.3 1060.1L433.4 1061.1L431.4 1061.7Z"/>
<path d="M432.9 1060.2L431.9 1060.3L429.9 1059.7L428.4 1059.8L427.4 1059.5L425.9 1058.4L422.9 1057.0L420.4 1054.7L417.7 1053.6L415.5 1052.1L412.3 1048.7L410.8 1046.3L410.3 1044.6L409.9 1041.6L408.0 1034.5L408.2 1032.0L408.9 1028.5L409.6 1019.0L411.1 1015.5L411.2 1014.5L411.3 1009.0L410.4 999.5L412.2 992.0L411.6 988.5L412.6 984.5L412.3 981.5L412.8 978.9L412.3 975.4L412.5 973.9L414.2 970.4L416.9 966.7L417.9 965.7L419.9 964.8L422.9 964.6L426.4 963.5L431.9 964.1L438.5 968.6L439.2 969.9L440.5 973.4L440.7 977.4L441.6 981.5L440.4 986.0L441.9 990.5L441.9 992.0L441.5 994.4L441.4 996.0L442.2 999.5L442.3 1001.0L441.8 1011.0L440.6 1015.5L440.5 1019.0L439.8 1021.5L439.9 1024.0L439.5 1026.5L440.4 1033.0L441.1 1036.6L441.0 1042.6L441.3 1045.6L439.3 1052.1L438.2 1054.6L436.0 1057.1L434.7 1059.1L432.9 1060.2Z"/>
<path d="M432.4 1059.1L428.4 1058.2L426.4 1057.2L423.4 1056.3L420.9 1053.8L418.4 1052.8L417.4 1052.1L415.6 1050.1L412.8 1047.8L411.8 1046.6L410.9 1044.6L410.5 1041.6L408.7 1034.5L408.8 1032.0L410.5 1022.5L410.4 1019.0L410.8 1018.0L412.2 1016.0L412.5 1014.5L412.2 1012.0L412.3 1009.0L411.7 1004.0L411.6 999.5L413.1 992.0L412.6 988.0L413.5 985.5L413.7 982.0L414.5 978.9L414.4 977.9L413.4 975.4L413.5 973.9L415.2 970.4L417.4 967.4L418.4 966.5L419.9 965.8L422.9 965.4L426.4 964.5L431.4 965.0L433.9 967.0L436.9 968.5L438.0 969.3L438.8 970.9L439.5 973.4L440.3 981.0L440.1 982.5L438.8 986.5L439.0 987.5L440.5 989.8L440.9 991.5L440.5 996.0L441.3 1000.0L440.4 1003.0L440.9 1005.5L440.9 1009.5L439.6 1015.0L439.6 1019.0L438.3 1022.0L438.4 1024.0L438.2 1026.0L440.4 1036.6L440.5 1045.1L439.0 1051.1L438.0 1053.6L437.2 1054.6L435.4 1056.2L433.9 1058.2L432.4 1059.1Z"/>
<path d="M432.9 1057.6L431.9 1058.1L430.9 1057.9L428.8 1057.1L426.4 1055.7L423.9 1055.4L422.9 1054.7L421.4 1052.9L418.9 1052.0L418.1 1051.6L416.4 1049.5L412.8 1046.6L411.8 1045.2L411.4 1044.1L411.1 1042.1L410.4 1039.6L409.3 1034.0L409.4 1032.0L410.9 1024.5L411.7 1021.5L411.4 1020.0L411.4 1019.0L413.0 1016.5L413.5 1014.5L413.2 1011.5L413.2 1008.5L412.5 1006.0L412.3 1004.0L412.8 1001.0L412.9 998.5L413.5 996.5L413.6 994.0L414.1 992.0L414.1 991.0L413.5 988.5L414.5 985.5L415.6 978.9L415.5 977.4L414.5 974.9L414.5 973.9L415.3 971.9L416.3 969.9L417.4 968.5L418.4 967.5L419.9 966.8L422.4 966.4L426.4 965.4L430.9 965.7L431.9 966.4L433.5 967.9L436.9 969.5L437.7 970.4L438.2 971.4L439.2 975.9L439.0 978.9L439.2 982.0L438.0 985.5L437.8 987.0L438.1 988.5L439.4 990.5L439.8 992.0L439.6 996.5L440.2 1000.0L439.1 1002.0L438.9 1003.0L439.9 1005.5L440.1 1009.0L439.9 1010.5L438.6 1015.0L438.9 1018.5L438.6 1019.5L437.3 1021.5L437.2 1026.0L438.8 1032.0L439.8 1037.1L440.0 1041.1L439.8 1044.6L438.7 1050.1L437.9 1052.6L436.9 1053.9L434.8 1055.6L432.9 1057.6Z"/>
<path d="M432.4 1056.7L431.9 1057.0L430.9 1057.0L426.4 1054.7L423.9 1054.3L421.9 1051.9L418.9 1051.1L417.0 1049.1L413.2 1046.1L412.0 1044.1L411.6 1041.6L410.9 1039.6L409.9 1033.5L411.5 1024.5L412.8 1021.5L412.6 1019.0L413.9 1016.5L414.4 1014.5L413.9 1011.0L413.9 1008.5L413.1 1005.5L413.0 1004.0L413.9 1001.0L414.0 998.5L414.9 996.0L414.7 994.0L415.1 991.5L414.4 988.5L415.4 986.0L416.1 982.5L416.5 977.9L415.9 973.9L416.1 972.4L417.4 969.4L418.9 968.0L419.9 967.6L422.4 967.3L424.9 966.4L426.9 966.1L429.9 966.3L430.9 966.6L433.4 968.9L436.4 970.4L437.3 971.9L438.5 975.9L438.1 979.5L438.3 982.0L437.1 985.5L437.0 987.0L437.3 989.0L438.6 991.5L438.9 992.5L438.8 996.5L439.3 999.5L438.1 1002.0L437.9 1003.0L439.1 1006.0L439.5 1009.0L439.0 1011.0L437.3 1015.0L437.2 1015.5L438.1 1017.5L438.1 1018.5L436.4 1021.5L436.3 1026.0L438.5 1033.0L439.4 1038.1L439.5 1042.1L438.7 1048.1L437.5 1052.1L436.4 1053.6L434.1 1055.1L432.4 1056.7Z"/>
<path d="M431.9 1055.6L430.4 1055.6L426.7 1054.1L424.4 1053.5L423.8 1053.1L422.4 1050.9L420.4 1050.7L419.4 1050.4L417.5 1048.6L413.8 1045.9L412.6 1044.1L412.1 1041.6L411.4 1039.6L410.6 1033.5L412.0 1024.5L413.6 1021.5L413.6 1019.0L415.0 1015.5L415.1 1013.5L414.6 1011.0L414.5 1007.5L413.7 1004.5L413.8 1003.4L414.8 1001.2L415.0 999.0L416.1 996.5L415.9 994.0L416.3 992.0L415.4 988.5L416.6 986.0L417.1 983.5L417.0 980.0L417.6 973.9L417.3 971.9L417.4 970.9L418.1 969.4L419.4 968.5L422.4 968.1L424.9 967.1L426.9 966.8L429.9 967.0L431.4 967.8L434.8 971.4L435.1 973.4L436.9 974.6L437.5 975.4L437.7 976.4L437.0 979.5L437.3 982.5L436.4 985.0L436.2 986.5L436.5 989.5L437.8 992.0L438.2 993.5L438.1 996.0L438.4 999.0L438.2 1000.0L437.2 1002.0L437.1 1003.0L438.5 1006.7L438.8 1009.0L438.5 1010.5L438.0 1011.8L436.9 1013.2L435.9 1014.1L435.5 1015.0L435.8 1016.0L436.9 1017.4L437.2 1018.0L436.9 1019.0L435.5 1021.5L435.3 1026.0L435.6 1027.0L436.8 1029.5L438.0 1033.0L438.1 1035.6L438.8 1038.1L439.0 1042.1L438.3 1048.1L437.0 1052.1L435.9 1053.2L431.9 1055.6Z"/>
<path d="M431.4 1054.7L428.9 1054.5L424.9 1052.9L424.0 1052.1L422.9 1050.1L422.4 1049.8L420.9 1049.8L419.9 1049.6L414.2 1045.6L413.2 1044.1L412.7 1041.6L411.8 1039.6L411.6 1036.1L411.2 1033.5L411.8 1030.0L412.3 1025.0L412.8 1023.7L414.4 1021.5L414.5 1019.0L415.8 1016.0L415.7 1013.5L415.1 1010.0L415.5 1007.0L414.5 1004.5L415.8 1001.5L416.0 999.5L417.0 996.5L416.9 994.0L417.2 992.0L416.6 989.0L417.6 986.5L418.1 983.5L417.7 980.0L418.0 976.4L418.7 973.9L418.2 970.9L418.6 969.9L419.4 969.2L420.4 969.0L422.4 968.8L424.9 967.8L426.4 967.5L429.9 967.8L431.4 968.6L432.7 970.4L433.9 974.2L434.5 974.9L436.2 975.9L436.5 976.4L436.4 977.4L435.6 979.5L436.3 982.5L435.5 985.0L435.5 986.5L435.9 990.5L437.2 992.5L437.6 994.0L437.8 999.0L436.5 1002.0L436.3 1003.0L436.5 1004.0L438.0 1007.8L438.0 1009.5L436.9 1011.7L435.2 1013.0L434.6 1014.0L434.6 1015.5L435.8 1018.5L435.5 1019.5L433.5 1023.0L434.9 1027.5L436.4 1030.2L437.5 1033.0L437.4 1035.6L438.3 1038.1L438.6 1041.1L438.2 1046.1L437.4 1049.6L436.3 1052.1L434.4 1053.5L431.4 1054.7Z"/>
<path d="M432.4 1053.7L429.4 1054.0L425.4 1052.5L424.4 1051.6L423.4 1049.5L422.9 1049.0L419.9 1048.5L415.0 1045.6L413.8 1044.1L413.3 1041.6L412.3 1039.6L412.2 1038.6L412.2 1036.1L411.8 1033.0L412.4 1030.0L412.7 1025.0L413.3 1023.7L415.0 1021.5L415.3 1019.0L416.4 1017.0L416.6 1016.0L415.7 1010.0L415.9 1008.8L417.0 1007.0L417.1 1006.5L415.8 1004.5L416.7 1001.5L417.0 999.5L417.7 997.0L418.0 992.0L417.9 989.5L418.4 987.5L418.7 985.0L419.2 983.0L418.5 980.0L418.8 976.4L419.4 973.9L418.9 970.9L419.4 970.1L419.9 969.8L422.4 969.5L425.9 968.2L429.9 968.5L430.9 968.9L431.4 969.4L432.0 970.4L432.9 973.9L434.8 976.9L434.5 980.5L435.1 983.0L434.5 986.0L434.9 988.0L435.0 990.5L436.8 993.5L437.3 998.0L437.1 999.5L435.9 1001.7L435.7 1003.0L437.1 1008.0L437.0 1009.5L436.4 1010.5L434.4 1012.3L433.9 1013.5L433.7 1015.0L434.5 1018.5L434.2 1019.5L433.3 1020.5L431.4 1021.5L430.8 1022.5L431.3 1023.5L433.4 1025.5L434.4 1028.2L435.9 1030.5L436.9 1032.5L437.0 1033.5L436.7 1036.1L437.8 1038.1L438.1 1041.1L437.9 1046.1L437.3 1048.6L436.0 1051.6L434.8 1052.6L432.4 1053.7Z"/>
<path d="M431.9 1053.2L429.4 1053.4L425.9 1052.0L424.9 1051.2L423.8 1049.1L422.9 1048.1L419.9 1047.5L415.3 1045.2L414.4 1044.1L413.9 1041.6L412.9 1039.6L412.7 1038.6L412.7 1035.6L412.3 1033.0L412.8 1030.0L413.0 1025.5L413.6 1024.0L415.4 1022.0L416.0 1019.0L417.3 1016.5L417.3 1015.0L416.3 1010.0L416.6 1009.0L417.9 1007.5L418.1 1006.5L417.1 1004.5L417.0 1003.5L418.6 996.5L418.5 993.5L418.8 990.0L419.4 988.0L419.4 985.3L419.9 984.0L421.5 982.0L421.4 981.3L419.9 980.4L419.4 979.5L419.5 976.4L420.3 973.9L419.7 971.4L419.9 970.8L420.4 970.4L422.9 970.0L425.9 969.0L429.9 969.3L430.9 969.9L431.4 970.9L431.9 973.4L433.7 976.9L433.9 977.9L433.6 981.0L434.0 983.5L433.5 986.0L434.2 988.5L434.1 990.5L434.5 991.5L436.2 993.5L436.8 998.0L436.7 999.0L435.4 1001.5L435.1 1003.0L436.0 1006.5L436.0 1008.0L435.6 1009.0L433.9 1011.1L433.1 1014.0L433.0 1015.0L433.4 1017.0L433.3 1018.0L432.4 1019.1L430.4 1020.2L429.4 1020.4L427.4 1019.8L426.8 1020.0L426.5 1020.5L426.9 1021.3L428.9 1021.2L430.0 1023.5L432.1 1025.0L433.0 1026.0L433.9 1029.0L435.4 1030.8L436.3 1032.5L436.5 1033.5L436.0 1036.1L437.2 1038.1L437.5 1039.1L437.8 1042.1L437.6 1045.6L436.9 1048.5L436.0 1050.6L435.1 1051.6L433.6 1052.6L431.9 1053.2Z"/>
<path d="M431.9 1052.6L429.4 1052.8L426.5 1051.6L425.4 1050.8L423.9 1048.2L422.9 1047.2L419.9 1046.6L415.4 1044.6L414.8 1043.6L414.4 1041.1L413.3 1039.1L413.1 1038.1L413.3 1035.6L412.9 1032.5L413.3 1030.0L413.5 1025.5L413.8 1024.5L416.0 1022.0L416.5 1019.5L417.9 1017.0L418.2 1016.0L417.2 1010.0L417.4 1009.5L418.7 1008.0L419.0 1007.0L418.0 1003.5L418.6 999.5L419.3 996.5L419.2 993.5L419.4 991.5L420.3 988.5L420.2 985.5L420.7 984.5L422.6 983.0L423.2 982.0L422.8 980.5L421.4 979.4L420.7 978.4L420.6 976.4L421.7 974.9L421.8 974.4L420.8 972.4L420.7 971.4L421.4 970.9L425.9 969.7L429.9 970.3L430.4 970.7L431.3 973.4L432.8 976.4L433.1 978.4L432.4 981.5L433.0 984.0L432.5 987.0L433.2 989.0L433.4 991.0L435.7 994.0L436.3 998.0L436.1 999.0L434.9 1001.5L434.6 1003.0L434.6 1004.0L435.3 1006.0L435.2 1007.5L434.7 1008.5L433.4 1009.7L433.0 1010.5L432.9 1012.5L432.0 1015.0L432.1 1017.0L431.9 1017.5L430.4 1018.7L427.4 1018.8L426.4 1019.1L425.7 1019.5L425.3 1020.5L426.0 1023.5L425.4 1025.5L425.7 1026.0L426.4 1025.8L427.9 1024.3L428.4 1024.2L429.9 1024.5L431.4 1025.2L432.6 1026.5L433.0 1029.5L434.9 1031.2L435.9 1033.0L435.4 1036.1L436.7 1038.1L437.1 1039.1L437.4 1042.1L437.2 1046.6L436.4 1048.6L435.2 1050.6L433.9 1051.7L431.9 1052.6Z"/>
<path d="M431.4 1052.2L429.9 1052.2L428.9 1052.0L426.1 1050.6L425.4 1049.9L423.9 1047.3L422.9 1046.4L415.8 1044.1L415.3 1043.1L415.1 1041.1L413.8 1038.6L413.9 1035.1L413.4 1033.0L413.9 1025.5L414.3 1024.7L416.3 1022.5L417.1 1019.5L418.9 1016.5L419.1 1015.5L418.6 1013.0L418.7 1011.5L419.9 1009.8L420.2 1009.0L420.1 1006.5L418.8 1003.5L419.2 999.5L420.1 996.5L419.9 993.5L420.1 991.5L421.6 988.5L421.7 987.5L421.4 986.0L421.9 985.3L422.9 984.9L423.9 984.1L424.4 983.5L424.7 982.5L424.2 980.0L422.4 978.7L421.9 977.9L422.0 976.9L422.9 975.6L423.1 974.9L422.8 973.9L421.9 972.4L422.0 971.9L422.9 971.3L425.9 970.6L428.4 971.0L429.6 971.4L432.1 976.4L432.3 977.4L432.2 978.4L431.9 979.2L430.9 980.5L430.5 981.5L430.7 982.0L431.9 983.4L432.1 984.0L432.0 985.0L431.2 988.0L432.8 991.5L435.1 994.0L435.7 997.5L435.7 998.5L434.5 1001.0L434.0 1003.0L434.0 1004.0L434.7 1006.0L434.7 1007.0L434.2 1008.0L432.5 1009.5L432.2 1010.0L432.4 1012.0L431.9 1013.5L428.8 1017.0L425.3 1018.5L424.6 1019.0L424.3 1019.5L424.7 1022.5L424.2 1025.5L424.7 1027.0L425.4 1027.7L425.9 1027.7L427.9 1025.7L428.9 1025.2L430.4 1025.3L431.6 1026.0L432.2 1027.0L432.0 1029.0L432.2 1030.0L434.4 1031.5L435.2 1032.5L435.3 1033.5L434.9 1035.1L434.9 1036.1L436.7 1039.1L437.0 1042.6L437.0 1045.6L436.7 1047.1L434.4 1050.6L432.9 1051.7L431.4 1052.2Z"/>
<path d="M431.4 1051.7L429.4 1051.5L426.4 1049.9L425.6 1049.1L423.9 1046.5L419.4 1042.3L418.4 1042.3L417.4 1043.1L416.8 1043.1L416.4 1042.6L416.1 1041.1L414.5 1038.1L414.4 1035.1L413.8 1032.5L414.5 1026.0L414.8 1025.2L416.5 1023.5L417.0 1022.5L417.8 1019.5L419.9 1016.5L420.1 1015.5L420.0 1013.0L421.4 1010.6L421.0 1006.0L420.9 1005.5L419.8 1004.0L419.5 1003.0L419.8 999.5L421.0 996.5L420.6 994.0L420.7 993.0L421.4 991.0L422.9 989.5L423.1 989.0L424.1 986.0L425.5 983.0L425.8 980.5L425.7 979.5L425.4 979.0L423.4 978.0L423.2 977.4L423.9 974.9L423.4 972.4L424.4 972.0L426.9 971.7L428.4 971.9L429.2 972.4L431.0 975.4L431.6 976.9L431.3 977.9L429.4 980.0L428.8 981.5L429.1 982.5L431.0 984.0L431.0 985.0L430.4 985.6L428.9 985.8L428.4 986.5L428.4 987.7L430.6 991.0L433.4 992.8L434.5 994.0L435.1 998.0L434.1 1000.5L433.4 1003.5L433.4 1004.5L434.1 1006.0L434.1 1007.0L433.4 1008.0L431.6 1009.5L431.5 1010.5L431.8 1012.0L431.4 1013.2L429.9 1014.7L426.9 1016.7L425.4 1017.1L423.9 1017.0L423.4 1017.3L422.3 1019.5L422.5 1020.0L423.4 1020.8L423.9 1022.0L423.7 1023.5L423.0 1025.5L423.1 1026.0L424.9 1028.4L425.9 1029.0L426.4 1028.7L427.4 1027.0L428.4 1026.2L429.4 1025.8L430.6 1026.0L431.6 1027.0L431.3 1029.5L431.4 1030.2L431.9 1030.7L433.9 1031.9L434.7 1033.0L434.5 1036.1L434.9 1037.1L436.1 1038.6L436.6 1040.1L436.6 1046.1L436.0 1047.6L434.2 1050.1L432.9 1051.1L431.4 1051.7Z"/>
<path d="M428.4 979.0L427.4 979.0L425.0 977.4L424.6 976.9L424.6 975.4L425.1 973.9L427.4 972.9L428.4 973.2L428.9 973.6L430.6 976.4L430.4 977.4L428.4 979.0ZM426.4 1016.0L425.4 1016.1L423.1 1015.5L422.0 1015.0L421.7 1014.5L422.4 1011.5L421.6 1008.0L421.8 1005.5L421.4 1004.5L420.4 1003.2L420.1 1001.5L420.5 999.0L422.1 996.5L421.5 994.5L421.6 993.5L422.4 992.1L423.7 991.5L424.2 991.0L424.4 990.5L424.4 988.5L425.0 986.0L426.4 982.9L426.9 982.4L427.4 982.5L427.9 983.0L428.3 984.0L427.5 986.5L427.3 987.5L427.5 988.5L428.4 990.5L428.8 992.0L429.4 992.5L431.4 992.5L432.4 992.8L433.9 994.0L434.2 995.0L434.0 998.5L432.5 1004.0L433.3 1006.0L433.3 1007.0L432.9 1007.6L431.4 1008.7L430.9 1009.5L431.2 1012.0L430.5 1013.5L428.9 1014.8L426.4 1016.0ZM431.9 1051.1L430.9 1051.3L429.4 1051.0L427.1 1049.6L425.9 1048.5L422.9 1044.4L420.4 1041.7L419.4 1041.1L417.9 1040.8L416.9 1040.3L415.4 1038.1L414.9 1035.1L414.3 1033.0L414.3 1031.5L415.4 1027.5L415.9 1026.9L417.1 1026.0L417.3 1023.5L418.3 1020.5L418.9 1020.0L419.4 1019.9L420.4 1020.7L422.4 1021.5L422.9 1022.0L422.8 1023.5L421.2 1025.5L421.3 1026.0L423.4 1027.5L425.4 1030.6L426.4 1030.8L426.9 1030.5L427.8 1027.5L428.9 1026.6L429.9 1026.5L430.8 1027.0L430.9 1027.5L430.5 1029.5L430.7 1030.5L431.3 1031.0L433.4 1032.2L434.1 1033.0L434.1 1036.1L434.5 1037.1L435.9 1039.0L436.2 1040.1L436.3 1045.6L435.9 1046.8L434.0 1049.6L433.0 1050.6L431.9 1051.1ZM423.4 1034.0L424.3 1033.0L424.3 1032.5L423.9 1032.1L422.9 1032.4L422.4 1033.1L422.3 1033.5L422.6 1034.0L423.4 1034.0Z"/>
<path d="M427.9 976.7L426.9 976.9L425.9 976.4L425.7 975.9L425.9 975.2L426.9 974.6L427.9 974.9L428.2 975.9L427.9 976.7ZM427.4 1015.0L425.9 1015.5L424.9 1015.3L423.9 1014.9L423.0 1014.0L423.1 1011.0L422.1 1008.0L422.5 1005.0L422.1 1004.0L421.0 1002.5L420.7 1001.0L420.9 999.5L421.4 998.5L423.5 996.5L423.6 996.0L423.0 994.5L423.1 994.0L424.8 992.5L426.4 990.4L426.9 990.7L427.8 992.5L428.4 993.2L429.4 993.6L431.4 993.2L432.4 993.4L433.1 994.0L433.5 995.0L433.0 996.0L432.1 997.0L432.1 997.5L432.6 999.0L432.6 1001.0L431.7 1004.0L432.4 1006.0L432.4 1007.0L430.1 1009.0L430.0 1010.0L430.6 1012.0L430.2 1013.0L429.2 1014.0L427.4 1015.0ZM419.4 1025.1L418.9 1024.9L418.2 1024.0L418.3 1023.0L418.9 1022.0L419.9 1021.7L421.4 1022.2L421.9 1022.8L421.7 1023.5L420.4 1024.7L419.4 1025.1ZM431.9 1050.7L430.9 1050.9L429.9 1050.7L427.9 1049.6L425.9 1047.5L423.1 1043.6L420.7 1041.1L419.9 1040.5L417.5 1039.6L416.2 1038.1L415.6 1036.6L414.8 1033.0L414.7 1032.0L416.0 1029.0L416.8 1028.0L417.9 1027.3L418.9 1026.7L419.9 1026.7L422.4 1027.5L423.5 1028.5L423.9 1029.5L423.7 1030.5L422.0 1032.0L421.5 1033.0L421.5 1034.0L422.4 1034.9L422.9 1034.9L423.9 1034.5L425.9 1032.5L428.3 1031.0L428.7 1030.5L428.3 1029.0L428.4 1028.1L428.9 1027.6L429.4 1027.4L430.0 1028.0L429.3 1030.0L429.5 1030.5L430.0 1031.0L432.9 1032.4L433.5 1033.0L433.7 1035.6L433.9 1036.6L435.6 1039.1L435.9 1040.1L436.1 1042.1L435.9 1045.4L435.6 1046.6L433.5 1049.6L431.9 1050.7Z"/>
<path d="M426.9 1014.6L425.9 1014.8L424.9 1014.7L423.9 1014.0L423.7 1013.5L423.8 1011.0L422.6 1008.0L423.2 1005.5L423.1 1004.5L422.7 1003.5L421.6 1002.0L421.2 1000.5L421.6 999.0L422.4 998.1L425.9 996.5L425.4 994.5L425.4 994.0L425.9 993.2L426.4 992.9L427.4 993.5L428.7 995.0L428.2 997.0L429.0 998.5L428.4 1000.0L428.5 1000.5L428.9 1000.8L430.4 1000.5L430.9 1000.9L431.2 1002.0L430.8 1004.0L431.5 1006.5L430.9 1007.3L429.9 1007.8L427.9 1007.1L427.4 1007.2L427.2 1007.5L426.8 1009.0L426.9 1010.5L427.4 1010.9L428.9 1010.8L429.4 1011.0L429.9 1012.0L429.5 1013.0L429.0 1013.5L426.9 1014.6ZM431.9 995.3L430.9 995.3L430.5 995.0L430.7 994.5L431.4 994.1L431.9 994.2L432.4 994.5L432.4 995.0L431.9 995.3ZM431.9 1050.3L430.4 1050.4L428.6 1049.6L425.4 1046.0L423.5 1043.1L421.3 1040.6L420.6 1040.1L418.1 1039.1L416.6 1037.6L416.1 1036.6L415.2 1033.0L415.2 1032.0L416.4 1029.9L417.9 1028.3L418.9 1027.9L420.4 1027.8L421.9 1028.1L422.9 1028.9L423.1 1029.5L422.9 1030.0L421.2 1031.5L420.8 1033.0L421.1 1034.5L422.4 1035.5L423.9 1035.1L426.4 1033.2L428.9 1031.9L429.9 1031.8L431.4 1032.2L432.9 1033.1L433.6 1036.6L435.2 1039.1L435.6 1040.1L435.7 1043.1L435.3 1046.1L433.4 1049.1L431.9 1050.3Z"/>
<path d="M425.4 1010.6L424.9 1010.7L424.4 1010.3L423.1 1008.5L423.2 1007.0L424.3 1005.5L424.3 1005.0L423.7 1003.5L422.2 1001.5L421.8 1000.5L422.0 999.5L422.8 998.5L423.9 997.9L424.9 997.8L426.1 998.0L427.0 998.5L427.3 999.0L427.4 1001.0L427.8 1002.0L429.4 1002.7L429.6 1003.0L430.0 1006.0L429.4 1006.4L426.9 1004.9L425.9 1005.5L426.2 1008.5L425.9 1009.8L425.4 1010.6ZM425.9 1014.0L425.3 1014.0L424.6 1013.5L424.5 1012.5L424.9 1011.7L425.4 1011.6L426.9 1012.6L427.4 1012.7L428.4 1012.3L428.6 1012.5L428.0 1013.0L425.9 1014.0ZM430.9 1050.1L429.9 1049.9L428.6 1049.1L427.4 1047.1L425.5 1045.1L424.3 1043.1L422.6 1041.1L421.9 1039.7L418.9 1038.8L417.9 1038.1L416.9 1037.1L415.7 1032.5L416.4 1031.0L417.9 1029.6L418.9 1029.5L419.4 1029.9L419.9 1031.5L420.3 1034.0L421.4 1035.6L422.4 1036.2L423.4 1036.0L427.1 1033.5L429.4 1032.5L431.4 1032.7L432.5 1033.5L433.2 1036.6L435.2 1040.1L435.4 1043.1L435.0 1045.6L433.3 1048.6L432.4 1049.6L430.9 1050.1Z"/>
<path d="M425.9 1003.0L424.9 1003.0L422.7 1001.0L422.5 1000.0L422.6 999.5L423.4 998.7L425.1 998.5L425.9 998.8L426.4 999.3L426.6 1001.5L426.4 1002.4L425.9 1003.0ZM424.9 1009.3L424.2 1009.0L423.7 1008.0L423.9 1007.3L424.4 1006.9L424.9 1007.0L425.5 1008.0L425.4 1008.8L424.9 1009.3ZM421.4 1038.1L420.4 1038.5L419.4 1038.3L418.4 1037.8L417.4 1036.7L416.4 1032.5L416.9 1031.6L417.4 1031.2L418.4 1031.2L418.9 1031.7L419.5 1034.0L421.8 1037.1L421.8 1037.6L421.4 1038.1ZM431.4 1049.7L430.0 1049.6L428.9 1048.8L427.6 1046.1L426.1 1044.6L423.6 1040.6L424.1 1038.6L423.7 1037.1L424.3 1036.1L428.4 1033.5L429.9 1033.0L430.9 1033.1L431.9 1033.8L433.1 1037.1L434.8 1040.1L435.1 1041.6L435.0 1043.6L434.5 1045.6L432.4 1049.1L431.4 1049.7Z"/>
<path d="M424.9 1001.6L423.9 1001.1L423.3 1000.5L423.4 999.6L423.9 999.2L424.9 999.2L425.4 999.5L425.7 1000.0L425.7 1001.0L425.4 1001.5L424.9 1001.6ZM431.4 1049.3L430.4 1049.3L429.2 1048.6L428.7 1047.6L428.2 1045.1L425.2 1041.6L424.8 1040.6L425.0 1039.1L424.7 1037.1L424.9 1036.4L425.9 1035.5L427.4 1035.0L428.9 1033.9L429.9 1033.6L430.9 1033.9L431.4 1034.4L433.2 1038.1L434.4 1040.2L434.8 1041.6L434.7 1043.1L434.2 1045.1L432.3 1048.6L431.4 1049.3ZM419.9 1037.7L418.9 1037.4L418.0 1036.6L417.7 1035.6L418.1 1034.5L418.4 1034.4L419.4 1035.1L420.6 1036.6L420.7 1037.1L420.4 1037.5L419.9 1037.7Z"/>
<path d="M431.4 1048.8L430.4 1048.9L429.4 1048.1L429.2 1047.1L429.2 1045.6L428.9 1044.6L426.4 1041.6L425.8 1040.6L425.9 1039.1L425.5 1037.1L425.7 1036.6L426.4 1036.1L426.9 1036.0L427.4 1036.3L428.4 1037.3L428.9 1037.2L429.3 1036.6L429.6 1035.1L429.9 1034.8L430.4 1035.0L431.9 1036.6L434.1 1040.6L434.4 1041.6L434.4 1043.1L433.9 1044.5L432.1 1048.1L431.4 1048.8Z"/>
<path d="M430.9 1048.2L430.4 1048.2L429.9 1047.6L430.1 1045.6L429.8 1044.6L427.6 1042.1L427.0 1040.6L427.4 1039.3L428.9 1038.6L430.4 1037.1L430.9 1036.9L431.4 1037.1L431.9 1037.8L432.6 1039.6L433.8 1041.1L434.0 1042.1L433.9 1043.1L433.4 1044.4L431.4 1047.8L430.9 1048.2Z"/>
<path d="M432.4 1044.6L431.4 1044.9L428.9 1042.9L428.1 1041.6L428.1 1040.6L428.4 1040.2L430.4 1038.7L430.9 1038.6L433.4 1041.6L433.5 1043.1L432.4 1044.6Z"/>
</g>
<path d="M406.3,1062.6 L406.3,963.3 Q406.3,960.3 405.1,960.3" fill="none" stroke="#2a2a2a" stroke-width="1.6"/>
<path d="M417.7,1062.6 Q417.7,1059.4 431.1,1059.4 Q444.4,1059.4 444.4,1062.6" fill="none" stroke="#2a2a2a" stroke-width="1.4"/>
<rect x="404.3" y="951.4" width="111.5" height="111.2" fill="none" stroke="#6a6a6a" stroke-width="1.1"/>
<line x1="449.8" y1="951.4" x2="449.8" y2="1062.6" stroke="#7a7a7a" stroke-width="1.0" />
<line x1="404.3" y1="1008.5" x2="515.8" y2="1008.5" stroke="#7a7a7a" stroke-width="1.0" />
<text x="406.4" y="966.4" font-size="14" text-anchor="start" font-weight="normal" fill="#231f20" stroke="#231f20" stroke-width="0.28" >30</text>
<text x="504.4" y="966.4" font-size="14" text-anchor="end" font-weight="normal" fill="#231f20" stroke="#231f20" stroke-width="0.28" >0.17</text>
<text x="504.4" y="1057.5" font-size="14" text-anchor="end" font-weight="normal" fill="#231f20" stroke="#231f20" stroke-width="0.28" >0.13</text>
<clipPath id="cp24"><rect x="526.8" y="953.1" width="111.6" height="111.3"/></clipPath>
<g clip-path="url(#cp24)" fill="#000" fill-opacity="0.013" stroke="#4a4a4a" stroke-width="0.42">
<path d="M550.3 1064.4L548.2 1064.4L545.8 1063.6L542.3 1063.4L539.3 1062.2L535.8 1060.3L532.2 1057.4L530.8 1055.9L529.2 1053.4L527.7 1049.4L527.0 1042.3L527.4 1038.8L528.9 1035.3L531.3 1031.8L533.0 1028.3L533.3 1026.8L532.9 1024.3L531.5 1022.3L531.1 1021.3L529.5 1014.3L529.6 1010.3L530.1 1008.8L531.9 1005.2L531.9 1003.2L530.8 996.2L528.8 994.6L528.0 993.2L527.6 987.2L526.8 985.4L526.7 979.7L526.8 976.4L527.9 971.1L529.5 968.1L531.4 966.1L532.9 963.1L533.8 961.9L538.1 958.6L539.3 957.9L543.3 957.1L546.3 955.9L550.8 955.4L552.3 955.6L555.3 956.8L558.3 956.9L562.3 958.5L570.0 965.6L571.2 967.6L572.1 971.1L573.7 975.2L574.5 984.7L574.2 986.7L573.3 989.7L570.5 994.7L569.3 997.8L568.0 999.7L567.6 1000.7L567.5 1004.2L568.8 1007.7L569.2 1009.3L569.1 1010.8L568.5 1013.3L569.0 1016.8L568.8 1018.3L568.1 1020.3L566.4 1022.8L566.1 1024.3L566.3 1027.3L567.1 1029.8L567.8 1031.0L569.8 1032.8L570.6 1033.8L573.3 1041.3L573.5 1042.8L573.2 1046.9L572.5 1050.9L571.9 1052.4L571.2 1053.4L563.7 1060.9L558.3 1063.2L550.3 1064.4Z"/>
<path d="M549.8 1062.0L547.8 1062.0L541.3 1060.5L537.3 1058.2L533.3 1054.9L531.1 1050.9L530.5 1049.4L530.2 1047.9L529.9 1042.3L530.3 1040.3L532.6 1035.3L535.4 1031.3L537.4 1029.3L538.8 1025.3L538.6 1024.3L537.3 1022.4L536.0 1019.8L535.7 1018.3L535.6 1015.3L534.8 1012.8L535.1 1009.3L536.8 1006.7L537.4 1004.7L538.5 1002.7L538.5 1001.7L534.9 997.2L533.7 993.7L531.4 990.7L530.2 987.7L529.2 981.2L529.8 978.2L530.1 973.7L530.7 972.2L534.3 966.9L536.6 964.1L541.5 960.6L547.8 958.9L554.8 959.5L559.8 961.1L561.3 961.9L563.3 964.1L567.4 967.1L568.4 968.1L568.7 969.1L569.1 971.7L571.1 975.2L571.5 978.2L571.0 984.7L569.8 987.7L569.4 990.7L566.3 996.2L562.4 1000.2L561.9 1001.2L562.0 1004.2L562.4 1006.2L562.3 1008.8L562.9 1011.3L562.7 1014.3L563.3 1016.8L563.3 1018.8L562.8 1020.0L561.3 1021.5L560.4 1022.8L559.8 1024.8L560.4 1026.3L563.8 1029.6L566.3 1033.5L567.8 1034.9L568.7 1036.3L570.8 1043.3L570.7 1044.8L570.2 1046.9L569.8 1049.9L569.2 1051.4L566.9 1054.9L563.8 1057.1L560.8 1059.7L559.3 1060.3L554.3 1061.6L549.8 1062.0Z"/>
<path d="M553.3 1060.4L547.8 1060.6L542.3 1059.1L539.1 1057.4L535.5 1053.9L532.6 1049.9L531.9 1047.4L531.5 1042.8L531.8 1041.2L534.5 1035.3L536.8 1032.4L538.8 1030.4L540.3 1028.3L542.2 1027.3L542.7 1026.8L542.9 1025.3L542.5 1022.8L539.3 1018.5L538.9 1015.8L539.1 1013.8L539.7 1011.8L539.7 1008.2L540.3 1007.1L542.7 1005.7L543.0 1002.7L542.7 1001.7L542.0 1000.7L539.3 998.7L536.3 994.6L533.0 989.7L532.1 987.7L531.6 986.2L531.4 982.7L531.6 978.2L532.1 974.2L532.6 972.7L534.8 969.2L538.4 965.1L541.1 963.6L542.8 962.1L543.8 961.5L545.8 961.0L548.3 960.6L554.3 961.2L558.8 962.4L560.3 963.2L562.3 965.8L566.0 969.1L567.3 972.6L569.4 976.7L569.8 978.2L569.3 984.2L567.9 987.2L567.3 990.2L566.7 991.7L564.5 995.2L558.7 1000.7L558.0 1001.7L557.8 1002.5L558.4 1004.7L558.6 1006.7L557.7 1009.3L557.0 1012.8L557.3 1013.8L558.1 1014.8L558.3 1015.8L557.4 1019.8L556.8 1021.2L556.3 1022.1L555.8 1022.6L554.3 1023.3L554.2 1023.8L554.4 1024.3L556.3 1025.8L558.3 1028.3L560.3 1030.0L562.8 1031.5L564.1 1032.8L567.7 1038.3L568.9 1042.3L569.1 1044.3L567.5 1049.9L566.1 1052.9L565.3 1053.8L559.8 1058.6L553.3 1060.4Z"/>
<path d="M551.8 1019.9L549.8 1018.9L548.3 1020.1L546.8 1020.1L545.3 1019.3L543.6 1016.8L543.5 1016.3L544.4 1014.8L544.7 1013.8L544.5 1012.8L543.7 1011.3L543.7 1010.8L545.8 1009.0L546.9 1007.2L547.0 1006.2L546.5 1003.7L547.6 1001.2L547.5 1000.2L547.2 999.7L546.3 999.2L544.3 999.3L543.3 999.0L538.8 995.0L536.1 991.7L533.7 987.7L533.0 985.7L532.7 978.2L533.5 974.2L534.1 972.7L538.9 966.6L539.8 966.0L541.8 965.1L544.0 963.1L545.3 962.6L549.8 962.3L552.3 962.8L556.8 963.1L559.3 964.0L560.3 965.1L561.3 966.8L563.3 968.6L564.9 970.6L567.6 976.7L568.1 978.7L567.6 981.7L567.5 984.2L566.3 986.7L565.7 990.2L564.9 991.7L563.3 993.5L562.0 995.7L560.8 997.1L559.8 997.8L556.7 998.7L554.8 1001.2L553.8 1002.0L550.8 1001.9L550.3 1002.2L549.6 1003.2L549.2 1005.2L549.6 1006.7L553.7 1010.8L554.3 1012.3L554.1 1013.8L553.1 1016.3L553.1 1018.8L552.8 1019.3L551.8 1019.9ZM550.8 1059.4L548.8 1059.6L547.8 1059.5L541.8 1057.3L540.3 1056.5L537.0 1053.4L533.9 1049.9L533.1 1047.9L532.8 1045.9L532.7 1043.3L533.0 1041.8L535.1 1036.8L536.3 1034.9L541.3 1030.1L544.3 1028.7L546.3 1028.2L548.3 1027.3L549.3 1027.5L550.8 1028.1L553.3 1027.8L554.3 1028.1L556.8 1029.6L558.9 1031.3L561.3 1032.4L562.8 1033.4L563.8 1034.5L566.5 1038.3L567.4 1040.8L567.7 1042.8L567.5 1044.8L565.6 1050.9L564.6 1052.4L562.3 1054.4L560.1 1056.9L558.3 1057.9L553.3 1059.1L550.8 1059.4Z"/>
<path d="M553.8 999.6L552.8 999.7L549.8 999.2L547.3 998.1L544.3 997.6L543.3 997.1L539.8 994.3L537.7 992.2L534.4 986.2L534.3 982.2L533.7 978.7L534.9 973.7L539.3 968.0L545.3 964.1L548.3 964.2L550.8 964.8L553.3 964.4L556.8 964.5L558.8 965.1L560.6 967.6L562.3 969.2L563.5 970.6L565.7 975.2L566.6 977.7L566.7 979.7L563.9 990.2L562.3 992.2L561.1 994.7L560.3 995.7L559.3 996.3L556.2 997.2L555.3 997.9L553.8 999.6ZM550.8 1058.5L548.3 1058.6L540.8 1055.5L534.8 1049.5L534.0 1047.9L533.5 1045.9L533.7 1043.3L535.2 1038.8L536.1 1036.8L537.7 1034.8L539.8 1033.0L543.8 1030.2L544.8 1029.8L548.8 1029.1L551.3 1029.6L553.8 1029.6L555.3 1030.1L556.8 1031.1L558.3 1032.8L560.8 1033.4L562.3 1034.4L563.7 1035.8L565.4 1038.3L566.2 1040.3L566.7 1042.3L566.6 1043.8L565.3 1047.3L564.9 1049.9L564.5 1050.9L563.8 1051.7L559.8 1055.6L558.3 1056.6L550.8 1058.5Z"/>
<path d="M553.3 997.7L552.3 998.1L550.3 998.1L547.3 997.1L544.8 996.8L543.8 996.3L538.3 991.6L537.5 990.2L535.5 985.7L535.3 982.7L534.6 978.7L536.0 973.7L540.3 968.6L544.8 965.8L545.8 965.5L547.8 965.5L550.8 965.9L553.8 965.5L557.9 966.1L561.8 970.0L562.8 971.1L564.9 975.7L565.6 977.7L565.8 978.7L565.6 980.2L564.2 983.7L563.5 987.2L560.1 993.7L559.3 994.6L556.8 995.7L553.3 997.7ZM550.8 1057.4L549.3 1057.7L548.3 1057.6L540.8 1054.5L535.4 1048.9L534.3 1046.4L534.5 1043.8L536.1 1038.8L536.8 1037.3L539.4 1034.3L542.6 1032.3L544.3 1031.0L545.3 1030.6L549.3 1030.2L553.8 1030.5L555.3 1031.0L556.3 1031.8L557.3 1033.3L557.8 1033.8L560.3 1034.4L562.8 1036.1L564.4 1038.3L565.8 1041.8L565.7 1043.8L564.5 1046.4L563.9 1049.9L563.3 1050.9L559.8 1054.4L557.8 1055.7L555.3 1056.6L552.3 1057.0L550.8 1057.4Z"/>
<path d="M550.8 997.3L549.8 997.2L547.8 996.4L544.5 995.7L539.0 991.2L538.3 990.2L536.7 986.2L535.4 979.2L536.9 973.7L539.8 970.4L541.3 969.1L544.3 967.2L545.8 966.7L547.8 966.4L551.3 966.6L553.8 966.3L557.5 967.1L561.8 971.1L564.2 976.2L564.8 978.2L564.9 979.7L564.5 981.2L563.3 983.2L563.0 985.7L562.6 987.2L559.3 992.7L558.3 993.6L555.3 995.4L551.8 997.1L550.8 997.3ZM550.3 1056.5L548.8 1056.7L547.8 1056.5L541.3 1054.0L539.8 1052.6L537.8 1050.0L536.0 1048.4L535.0 1046.4L535.2 1044.3L536.6 1040.8L537.3 1038.3L537.9 1037.3L540.0 1034.8L543.3 1032.9L544.8 1031.7L545.8 1031.4L549.8 1031.1L553.3 1031.2L554.8 1031.6L555.8 1032.3L557.3 1034.4L560.0 1035.3L562.3 1036.9L563.8 1038.8L565.1 1041.8L565.0 1043.3L563.7 1045.9L562.9 1049.9L560.0 1053.4L558.3 1054.5L555.8 1055.7L550.3 1056.5Z"/>
<path d="M551.3 996.2L549.8 996.4L547.8 995.6L544.8 994.9L539.8 990.9L539.3 990.2L537.5 986.2L536.2 979.7L536.3 978.7L537.1 976.7L537.6 974.2L538.7 972.7L541.3 970.2L543.6 968.6L545.3 967.7L547.3 967.2L553.8 967.1L556.3 967.6L557.3 968.0L561.4 972.2L563.3 976.2L564.2 979.2L564.0 980.7L562.6 983.2L562.1 986.7L560.3 989.9L558.3 992.1L555.3 994.3L551.3 996.2ZM548.8 1055.9L546.8 1055.5L541.8 1053.4L540.8 1052.8L538.3 1049.5L536.3 1047.5L535.7 1046.4L535.7 1045.3L536.6 1042.8L537.8 1040.5L538.3 1038.3L539.6 1036.3L540.6 1035.3L545.8 1032.5L547.8 1032.4L549.8 1031.9L553.8 1031.9L555.3 1032.8L556.8 1034.9L559.8 1036.2L562.3 1038.3L564.0 1040.8L564.4 1041.8L564.5 1042.8L562.9 1045.9L562.2 1049.4L560.2 1052.4L559.3 1053.2L556.8 1054.6L555.3 1055.2L548.8 1055.9Z"/>
<path d="M550.8 995.4L549.8 995.4L547.8 994.4L545.8 994.2L544.8 993.9L540.6 990.2L539.4 987.7L538.1 985.7L537.0 979.7L537.1 978.7L538.2 976.7L538.6 974.2L539.3 973.1L541.5 971.1L545.1 968.6L546.3 968.1L548.3 967.7L554.3 967.8L555.8 968.1L557.0 968.6L558.0 969.6L559.3 971.7L560.9 973.2L562.5 976.2L563.4 979.2L563.2 980.7L562.0 983.2L561.5 986.7L560.3 988.9L558.8 990.5L554.4 993.7L552.3 994.5L550.8 995.4ZM551.3 1054.9L548.8 1055.3L547.8 1055.2L541.3 1052.3L540.3 1051.3L538.8 1049.0L537.2 1047.4L536.6 1046.4L536.5 1045.3L537.1 1043.3L538.3 1041.2L539.4 1038.3L540.7 1036.3L541.8 1035.3L543.3 1034.5L545.8 1033.6L553.3 1032.6L554.8 1033.2L556.8 1035.7L559.3 1036.9L560.6 1037.8L562.8 1040.1L563.6 1041.3L563.9 1042.3L563.7 1043.3L562.3 1045.3L561.5 1048.9L559.3 1052.4L557.8 1053.5L555.8 1054.5L551.3 1054.9Z"/>
<path d="M550.8 993.3L548.8 993.0L545.8 993.2L544.8 992.8L543.4 991.7L542.5 990.7L541.7 988.7L538.8 985.4L537.9 980.7L538.0 979.2L539.0 977.7L539.5 975.2L540.3 973.7L545.6 969.1L546.8 968.5L548.3 968.2L549.8 968.2L552.3 968.7L554.8 968.6L556.8 969.3L557.6 970.1L558.8 972.7L560.3 974.0L561.3 975.5L561.9 976.7L562.5 979.2L562.5 980.2L561.5 983.2L561.0 986.7L559.8 988.8L557.8 990.4L553.8 992.5L550.8 993.3ZM551.8 1054.4L549.3 1054.8L547.8 1054.7L546.8 1054.3L543.8 1052.2L541.3 1051.3L539.6 1048.9L537.8 1046.8L537.4 1045.9L537.3 1044.8L537.7 1043.3L539.8 1039.1L541.2 1036.8L542.3 1035.7L543.8 1034.9L545.8 1034.4L547.8 1034.2L550.8 1034.4L552.8 1033.5L553.8 1033.4L554.8 1034.0L556.5 1036.3L558.8 1037.4L560.2 1038.3L562.6 1040.8L563.2 1042.3L562.9 1043.3L561.5 1045.3L561.0 1048.4L558.5 1052.4L557.1 1053.4L555.8 1053.9L551.8 1054.4Z"/>
<path d="M547.8 992.4L545.8 992.5L544.3 991.6L543.3 990.2L542.7 988.2L540.3 986.1L539.3 984.8L538.8 982.7L538.8 981.2L539.1 980.2L540.2 978.2L540.6 975.7L541.3 974.5L543.8 972.3L545.5 970.1L546.9 969.1L549.3 968.7L552.8 969.6L554.8 969.3L555.8 969.5L556.8 970.2L557.8 972.7L560.3 975.5L561.3 977.7L561.6 980.7L560.5 986.7L560.0 987.7L559.2 988.7L555.8 990.6L553.3 991.5L549.8 991.9L547.8 992.4ZM551.8 1054.0L548.8 1054.3L547.3 1053.9L544.3 1051.5L541.8 1050.4L538.2 1045.9L538.0 1044.8L538.1 1043.8L539.8 1040.3L542.0 1036.8L543.3 1035.8L547.3 1034.8L550.8 1035.1L553.3 1034.2L553.8 1034.2L554.7 1034.8L556.2 1036.8L558.8 1038.0L559.8 1038.7L562.3 1041.6L562.4 1042.8L561.0 1044.8L560.6 1047.9L558.2 1051.9L556.3 1053.2L551.8 1054.0Z"/>
<path d="M547.8 991.8L546.3 992.0L544.8 991.2L544.0 990.2L543.3 987.6L540.8 985.7L539.8 984.2L539.6 981.7L541.0 978.2L541.4 976.2L542.1 975.2L544.3 973.1L546.0 970.6L547.3 969.7L549.3 969.3L552.8 970.3L554.8 970.1L555.8 970.3L556.7 971.1L557.3 973.4L560.2 977.2L560.8 978.7L561.0 981.2L559.9 986.7L558.8 988.3L555.0 990.2L553.3 990.7L549.8 991.2L547.8 991.8ZM549.8 1053.9L548.3 1053.8L547.4 1053.4L544.8 1051.2L542.8 1049.9L539.0 1045.9L538.7 1044.8L538.7 1043.8L540.3 1040.3L542.4 1037.3L543.3 1036.5L547.3 1035.4L550.8 1035.7L553.8 1035.0L555.9 1037.3L558.8 1038.6L559.7 1039.3L561.3 1041.3L561.7 1042.3L560.4 1044.3L560.4 1046.9L560.0 1047.9L558.8 1049.4L557.3 1051.9L555.8 1052.6L554.3 1052.8L551.8 1053.6L549.8 1053.9Z"/>
<path d="M547.8 991.3L546.3 991.4L545.1 990.7L544.5 989.7L544.0 987.2L541.3 985.2L540.7 984.2L540.3 982.7L540.3 981.7L540.7 980.2L542.3 976.2L544.3 974.1L546.8 970.7L547.8 970.3L549.3 970.1L553.3 971.0L555.3 971.0L556.0 971.7L556.5 973.7L559.6 977.7L560.2 979.2L560.5 981.7L559.5 986.2L559.0 987.2L558.3 987.9L554.3 989.7L552.8 990.2L549.8 990.6L547.8 991.3ZM550.8 1053.5L548.8 1053.5L546.9 1052.4L542.8 1049.0L541.3 1046.9L539.8 1045.3L539.3 1044.3L539.5 1043.3L540.3 1041.2L542.8 1037.8L543.8 1037.0L547.3 1035.8L550.8 1036.1L552.8 1035.7L553.8 1035.8L555.8 1037.8L558.9 1039.3L559.9 1040.3L560.7 1041.8L560.5 1042.8L559.8 1044.3L559.7 1047.4L556.8 1051.3L555.8 1051.9L550.8 1053.5Z"/>
<path d="M547.8 990.8L546.3 990.8L545.3 990.1L544.4 986.7L542.3 985.2L541.8 984.4L541.1 982.2L541.1 980.7L542.7 976.7L544.8 974.3L546.8 971.6L548.3 971.0L551.3 971.1L554.8 972.2L555.9 974.2L557.7 976.2L559.0 978.2L559.7 979.7L560.0 981.2L559.9 983.2L558.9 986.2L558.0 987.2L554.8 988.2L552.8 989.5L549.8 990.1L547.8 990.8ZM551.8 1052.9L549.3 1053.2L548.3 1052.9L547.3 1052.2L543.0 1048.4L541.3 1045.3L540.2 1043.8L540.3 1042.3L540.8 1041.1L543.3 1038.2L544.3 1037.6L547.3 1036.3L548.3 1036.2L550.8 1036.5L553.3 1036.4L555.8 1038.3L558.6 1039.8L559.5 1040.8L559.9 1041.8L559.2 1044.3L559.4 1046.4L559.1 1047.4L556.3 1050.6L551.8 1052.9Z"/>
<path d="M547.3 990.2L546.7 990.2L545.9 989.7L545.1 986.7L542.7 984.2L541.6 981.7L541.6 980.2L543.0 977.2L546.8 972.4L547.8 971.9L550.8 971.7L552.3 971.9L553.3 972.3L554.3 973.0L557.0 976.2L558.5 978.7L559.5 981.2L559.5 982.7L559.2 984.2L558.6 985.7L557.8 986.5L554.3 987.4L551.8 989.1L549.8 989.4L547.3 990.2ZM550.3 1052.9L549.3 1052.8L548.3 1052.4L543.6 1048.4L542.7 1046.9L542.1 1044.8L540.9 1043.3L540.8 1042.8L541.3 1041.2L543.3 1039.2L546.1 1037.3L547.8 1036.7L553.3 1036.9L558.2 1040.3L559.1 1041.8L558.7 1044.3L558.8 1046.4L558.3 1047.4L555.8 1050.0L552.3 1052.3L550.3 1052.9Z"/>
<path d="M549.3 988.8L547.3 989.1L546.8 988.9L545.3 986.0L543.2 983.7L542.1 981.7L542.0 980.2L543.3 977.4L546.8 973.3L547.8 972.8L551.8 972.2L552.8 972.6L553.6 973.2L556.7 976.7L558.8 981.0L559.0 983.2L558.3 985.2L557.3 986.1L553.3 986.9L551.7 988.2L549.3 988.8ZM550.8 1052.5L549.3 1052.4L548.3 1051.9L543.8 1047.9L543.2 1046.9L542.7 1044.3L541.7 1042.8L541.6 1042.3L541.8 1041.5L542.4 1040.8L546.3 1037.8L547.8 1037.1L552.3 1037.2L553.3 1037.5L557.3 1040.3L558.1 1041.3L558.4 1042.3L558.2 1045.9L557.9 1046.9L555.6 1049.4L552.4 1051.9L550.8 1052.5Z"/>
<path d="M550.3 987.8L548.3 988.1L547.3 987.8L546.8 987.4L545.7 985.7L543.8 983.6L542.7 981.7L542.4 980.2L543.3 978.1L546.8 974.1L547.8 973.6L550.8 972.8L551.8 972.8L553.3 973.6L556.1 976.7L556.6 977.7L557.1 979.7L558.3 981.5L558.5 983.2L558.1 984.7L557.0 985.7L555.8 986.1L552.8 986.3L550.3 987.8ZM551.3 1052.0L549.8 1052.1L548.8 1051.8L544.5 1047.9L543.8 1046.9L543.3 1043.8L542.7 1042.3L542.8 1041.7L544.8 1040.5L546.4 1038.3L547.8 1037.6L552.3 1037.7L553.3 1037.9L556.0 1039.8L557.4 1041.3L557.8 1042.3L557.6 1045.3L557.1 1046.9L555.5 1048.9L552.4 1051.4L551.3 1052.0Z"/>
<path d="M549.8 987.2L548.3 987.4L547.0 986.7L543.3 981.9L542.9 981.2L542.8 980.2L543.8 978.1L546.8 974.8L550.8 973.4L551.8 973.3L553.2 974.2L555.3 976.7L555.8 977.7L556.0 979.7L557.8 981.9L558.0 983.7L557.3 984.9L556.3 985.5L555.3 985.7L552.8 985.6L549.8 987.2ZM551.3 1051.5L549.8 1051.7L548.8 1051.2L545.2 1047.9L544.3 1046.4L544.0 1043.8L544.1 1042.8L546.6 1038.8L547.8 1038.0L552.3 1038.1L553.3 1038.4L555.5 1039.8L556.8 1041.3L557.3 1042.3L557.3 1044.3L556.9 1045.9L556.4 1046.9L554.8 1048.8L551.3 1051.5Z"/>
<path d="M548.8 986.7L548.2 986.7L547.4 986.2L546.3 984.6L544.3 982.4L543.3 980.8L543.3 979.7L543.9 978.7L546.8 975.6L550.8 973.9L551.8 973.9L552.8 974.4L554.5 976.7L555.3 980.1L557.3 982.2L557.4 983.7L556.8 984.7L555.8 985.2L552.8 985.0L548.8 986.7ZM550.8 1051.0L549.6 1050.9L547.3 1049.2L545.4 1047.4L544.8 1045.9L544.6 1043.8L544.9 1042.8L546.8 1039.3L547.3 1038.8L548.3 1038.4L552.8 1038.7L553.8 1039.1L555.0 1039.8L555.9 1040.8L556.9 1042.8L556.9 1043.8L556.6 1045.3L555.3 1047.6L553.8 1049.0L550.8 1051.0Z"/>
<path d="M549.3 985.7L548.3 985.8L547.8 985.4L547.0 984.2L544.1 981.2L543.8 980.7L543.8 979.7L544.5 978.7L546.3 977.6L547.9 976.2L550.8 974.6L551.8 974.6L552.7 975.2L553.4 976.2L554.8 980.4L555.3 981.2L556.8 982.7L556.9 983.7L556.6 984.2L555.8 984.7L552.8 984.5L549.3 985.7ZM552.8 1049.0L551.9 1048.9L550.8 1047.5L550.3 1047.4L548.8 1048.7L547.8 1048.8L546.8 1048.2L545.7 1046.9L545.1 1044.8L545.2 1043.3L546.8 1040.1L547.8 1039.1L548.8 1038.9L551.3 1039.3L553.3 1039.3L554.8 1040.2L556.1 1041.8L556.6 1043.3L556.0 1045.3L554.5 1047.9L552.8 1049.0Z"/>
<path d="M550.3 984.7L549.2 984.7L548.3 984.2L544.9 981.2L544.4 980.2L545.0 979.2L547.3 978.3L549.9 976.2L551.3 975.6L552.2 976.2L553.8 979.0L554.8 981.6L555.9 982.7L556.2 983.2L556.1 983.7L555.3 984.2L553.3 983.9L550.3 984.7ZM553.3 1048.1L552.3 1048.1L551.3 1046.9L550.8 1046.7L550.1 1046.9L548.3 1048.0L547.8 1048.1L546.8 1047.6L546.2 1046.9L545.6 1045.3L545.5 1043.8L546.8 1040.8L547.8 1039.6L548.8 1039.4L551.3 1039.9L553.3 1039.9L554.4 1040.3L555.7 1041.8L556.1 1042.8L556.0 1044.3L554.3 1047.3L553.3 1048.1Z"/>
<path d="M552.3 983.7L550.8 984.2L549.3 983.9L546.7 981.7L545.9 980.7L545.9 980.2L549.8 977.9L551.3 977.7L552.3 978.1L553.6 979.7L554.2 982.7L552.3 983.7ZM548.3 1047.4L547.3 1047.3L546.8 1046.9L546.2 1045.9L545.9 1044.8L546.2 1042.8L546.9 1041.3L547.6 1040.3L548.3 1039.9L549.3 1039.9L551.3 1040.4L553.8 1040.5L554.8 1041.3L555.7 1042.8L555.7 1043.8L553.8 1046.9L553.3 1047.2L552.8 1047.3L551.8 1046.3L550.8 1046.0L548.3 1047.4Z"/>
<path d="M550.8 983.7L549.5 983.2L547.8 981.5L547.4 980.7L547.6 980.2L548.8 979.3L550.3 978.7L551.3 978.6L552.3 978.9L552.8 979.3L553.3 980.2L553.4 981.7L552.9 982.7L552.3 983.2L550.8 983.7ZM547.8 1046.9L546.8 1046.2L546.2 1044.3L546.7 1042.3L547.8 1040.6L548.3 1040.3L549.3 1040.2L551.8 1041.0L553.3 1041.0L554.2 1041.3L554.8 1041.9L555.3 1042.8L555.2 1043.8L554.8 1044.5L553.8 1045.4L553.3 1045.7L551.3 1045.2L548.8 1046.6L547.8 1046.9Z"/>
<path d="M551.8 982.8L550.8 983.0L550.1 982.7L549.1 981.2L549.0 980.7L549.3 980.2L550.8 979.4L551.8 979.4L552.4 979.7L552.7 980.2L552.8 981.2L552.4 982.2L551.8 982.8ZM548.3 1046.4L547.3 1046.1L546.8 1045.3L546.6 1044.3L547.0 1042.3L548.2 1040.8L549.3 1040.6L551.8 1041.4L553.3 1041.5L554.1 1041.8L554.6 1042.3L554.8 1043.3L554.3 1044.2L553.3 1044.6L551.3 1044.5L548.3 1046.4Z"/>
</g>
<path d="M528.8,1064.4 L528.8,967.2 Q528.8,964.2 527.6,964.2" fill="none" stroke="#2a2a2a" stroke-width="1.6"/>
<path d="M543.5,1064.4 Q543.5,1061.2 553.0,1061.2 Q562.5,1061.2 562.5,1064.4" fill="none" stroke="#2a2a2a" stroke-width="1.4"/>
<rect x="526.8" y="953.1" width="111.6" height="111.3" fill="none" stroke="#6a6a6a" stroke-width="1.1"/>
<line x1="565.9" y1="953.1" x2="565.9" y2="1064.4" stroke="#7a7a7a" stroke-width="1.0" />
<line x1="526.8" y1="1016.7" x2="638.4" y2="1016.7" stroke="#7a7a7a" stroke-width="1.0" />
<text x="527.9" y="968.3" font-size="14" text-anchor="start" font-weight="normal" fill="#231f20" stroke="#231f20" stroke-width="0.28" >29</text>
<text x="629.3" y="969.3" font-size="14" text-anchor="end" font-weight="normal" fill="#231f20" stroke="#231f20" stroke-width="0.28" >0.33</text>
<text x="630.9" y="1061.4" font-size="14" text-anchor="end" font-weight="normal" fill="#231f20" stroke="#231f20" stroke-width="0.28" >0.80</text>
<clipPath id="cp25"><rect x="648.2" y="950.4" width="111.2" height="111.1"/></clipPath>
<g clip-path="url(#cp25)" fill="#000" fill-opacity="0.013" stroke="#4a4a4a" stroke-width="0.42">
<path d="M675.7 1061.5L673.1 1061.5L670.2 1060.9L665.7 1060.5L664.2 1060.1L659.8 1057.0L658.2 1054.8L656.2 1052.7L654.7 1050.5L652.6 1046.5L652.0 1045.0L651.3 1040.0L650.0 1034.5L650.2 1031.0L649.7 1027.5L650.7 1021.5L652.4 1015.0L655.2 1011.0L656.4 1007.5L659.1 1004.4L659.5 1003.4L659.5 1002.9L659.1 1002.4L655.2 1000.7L653.7 999.4L652.2 996.9L651.4 994.9L651.3 993.4L651.5 991.4L653.5 985.4L653.9 983.4L651.5 974.4L651.4 972.9L651.9 967.4L653.2 964.4L654.2 962.9L657.7 959.6L660.2 957.8L663.2 956.1L668.7 954.5L670.7 954.2L678.3 954.7L682.8 956.8L687.0 959.4L689.9 961.9L692.8 966.1L693.6 967.9L693.9 969.9L694.0 974.4L693.0 978.9L691.6 981.9L689.8 984.0L684.3 988.3L682.3 989.4L679.8 990.0L677.3 991.0L675.7 991.3L672.2 991.2L669.7 991.3L665.2 990.9L664.2 991.9L663.5 993.9L662.6 999.4L662.7 999.9L663.2 1000.3L664.7 1000.4L668.2 999.1L670.7 999.2L673.7 998.6L675.7 998.5L678.8 999.4L684.8 1003.1L689.1 1007.5L691.4 1011.0L692.1 1012.5L694.9 1022.0L695.6 1028.0L695.6 1034.0L695.1 1038.5L694.6 1040.5L692.1 1047.5L689.4 1051.5L686.3 1054.6L683.3 1058.1L681.8 1059.3L679.8 1060.3L675.7 1061.5ZM712.8 1013.5L709.3 1013.9L705.3 1012.7L704.3 1011.9L701.9 1009.0L699.5 1007.0L698.8 1006.0L697.4 1002.4L697.4 999.4L696.9 995.9L696.9 992.9L697.3 991.4L699.6 985.9L701.3 983.6L702.8 982.5L706.8 981.1L710.8 980.4L713.8 980.7L715.3 981.2L719.8 985.3L721.6 987.4L722.6 988.9L723.6 991.9L723.9 993.9L723.7 997.4L723.9 1001.9L723.6 1002.9L722.4 1004.9L721.5 1007.5L717.3 1011.4L714.8 1012.8L712.8 1013.5Z"/>
<path d="M658.2 998.6L656.7 998.8L655.2 997.9L653.5 995.4L653.1 993.4L653.3 991.4L653.7 990.2L657.6 984.9L657.9 983.9L656.0 979.4L654.0 972.4L654.3 968.4L656.0 964.9L658.2 962.7L662.5 959.9L664.8 957.9L670.2 956.3L671.7 956.2L677.3 956.9L682.3 958.7L687.9 963.4L689.0 964.9L689.8 966.9L690.3 969.9L691.2 972.4L691.4 973.9L691.0 975.9L689.3 980.3L688.4 981.4L686.3 983.0L683.8 985.6L682.3 986.8L681.3 987.3L678.3 987.5L675.2 988.7L673.7 988.9L669.2 988.6L664.7 987.1L663.2 987.2L662.5 987.4L661.9 988.4L661.8 991.4L660.9 995.4L660.1 996.9L658.2 998.6ZM711.8 1010.0L710.8 1010.2L709.8 1010.0L707.8 1008.6L705.3 1007.8L704.3 1007.2L702.7 1005.4L702.1 1004.4L701.7 1001.9L700.8 999.9L700.9 997.4L700.2 994.4L700.4 992.4L700.9 990.9L702.2 988.9L704.3 986.6L705.8 985.6L710.3 984.6L711.8 984.7L715.8 986.2L717.0 986.9L718.4 988.4L719.2 990.4L721.0 999.4L720.8 1000.9L718.8 1003.3L716.4 1007.5L714.3 1009.0L711.8 1010.0ZM675.7 1058.1L670.2 1057.8L668.2 1057.2L665.7 1056.9L663.0 1055.0L658.7 1050.6L654.5 1043.5L654.1 1038.5L652.9 1033.0L653.1 1022.5L653.5 1021.0L654.9 1018.5L655.1 1016.0L655.5 1015.0L658.7 1010.7L661.6 1007.5L664.2 1005.0L666.2 1004.0L671.2 1002.7L675.7 1002.7L678.3 1004.1L682.3 1005.2L684.2 1007.0L689.8 1014.1L692.2 1021.0L693.1 1027.5L692.9 1031.5L693.1 1034.5L691.9 1040.0L691.4 1041.5L689.6 1044.5L688.6 1047.5L687.9 1048.5L685.1 1051.0L683.4 1054.0L682.3 1055.1L679.8 1056.7L675.7 1058.1Z"/>
<path d="M674.2 987.5L668.7 987.0L663.7 985.3L662.2 984.5L658.9 981.4L658.2 980.4L656.6 975.9L655.6 971.4L655.6 969.9L656.1 967.9L657.2 965.9L658.7 964.1L663.2 961.3L666.1 958.9L671.7 957.7L676.3 958.3L677.8 958.7L681.8 960.5L686.3 963.9L687.5 965.4L688.4 967.4L689.5 974.4L689.2 976.4L687.9 979.4L683.3 984.1L680.8 985.7L677.8 986.3L674.2 987.5ZM712.3 1006.0L707.3 1005.8L705.8 1005.2L705.1 1003.9L704.6 1001.4L703.1 998.9L703.0 994.4L703.3 992.7L704.0 990.9L704.8 989.6L705.8 988.5L706.8 988.0L712.3 987.9L714.9 988.9L715.5 989.4L716.1 990.4L716.6 992.9L717.8 997.4L717.7 999.4L716.9 1001.9L716.3 1002.7L713.4 1005.4L712.3 1006.0ZM657.2 997.0L656.2 996.6L655.1 995.4L654.6 994.4L654.4 992.9L654.8 991.4L655.7 990.1L657.2 989.0L658.2 988.8L659.2 989.1L660.0 989.9L660.4 990.9L660.4 992.4L659.8 994.4L659.2 995.7L658.2 996.7L657.2 997.0ZM675.7 1055.6L671.2 1055.6L668.7 1054.9L665.7 1054.6L664.7 1054.0L662.7 1051.9L660.2 1049.9L656.5 1043.5L656.1 1042.0L655.8 1038.5L654.2 1031.5L654.4 1029.5L655.3 1027.0L654.7 1022.5L655.1 1021.5L656.7 1019.0L657.2 1016.0L657.9 1014.5L659.4 1012.5L661.2 1010.8L662.7 1008.9L664.7 1007.3L666.7 1006.4L671.7 1005.6L680.8 1006.9L681.8 1007.4L682.8 1008.4L687.0 1014.0L690.3 1021.0L690.8 1023.0L691.3 1029.0L691.1 1031.5L691.5 1034.0L691.3 1035.5L689.8 1041.0L687.8 1044.4L686.9 1047.0L686.1 1048.0L683.0 1050.5L680.8 1053.6L678.8 1054.7L675.7 1055.6Z"/>
<path d="M675.7 986.0L674.2 986.3L670.2 986.1L667.2 985.4L663.7 983.8L662.7 983.0L659.6 980.4L658.4 978.4L657.8 976.4L656.9 970.9L656.9 969.4L657.3 967.9L658.1 966.4L659.2 965.2L663.2 962.9L665.4 960.9L666.7 960.1L672.2 959.1L675.7 959.3L677.3 959.7L679.8 961.2L681.8 962.2L684.8 964.1L686.3 965.8L687.3 967.9L688.3 974.9L687.9 976.4L686.9 978.4L683.3 982.5L681.8 983.7L680.3 984.5L675.7 986.0ZM657.7 995.2L656.7 995.1L656.2 994.7L655.8 993.9L655.8 992.9L656.2 991.9L656.7 991.3L657.7 990.9L658.2 990.9L658.9 991.4L659.1 992.4L658.7 993.9L657.7 995.2ZM712.3 1003.0L710.8 1003.2L708.8 1002.3L707.3 1000.8L705.5 998.4L705.2 997.4L705.8 996.2L707.5 994.4L708.2 992.4L708.8 991.6L709.8 991.1L712.3 990.8L713.3 991.0L713.8 991.6L714.8 994.4L715.0 995.9L714.7 999.9L713.8 1001.4L712.3 1003.0ZM675.2 1054.0L671.7 1053.8L666.2 1053.0L665.5 1052.5L663.7 1050.3L661.2 1048.9L658.5 1044.5L657.6 1042.5L657.1 1038.5L655.6 1032.0L655.6 1030.5L656.8 1027.0L656.1 1022.5L657.7 1019.1L658.7 1016.0L660.2 1013.7L662.2 1011.8L663.7 1009.8L665.7 1008.4L667.2 1007.8L672.2 1007.5L677.3 1008.1L680.8 1009.2L681.8 1010.1L684.0 1013.0L685.3 1015.9L687.3 1017.9L689.0 1021.5L689.4 1023.0L689.7 1029.5L689.5 1032.0L689.8 1035.0L689.7 1036.5L688.2 1040.5L686.4 1043.0L685.5 1046.5L684.3 1048.0L680.1 1051.0L677.8 1053.3L676.8 1053.8L675.2 1054.0Z"/>
<path d="M676.3 984.9L674.2 985.4L669.7 985.2L668.2 984.8L663.2 982.2L660.2 979.8L659.0 977.9L658.0 970.4L658.0 969.4L658.4 967.9L659.9 965.9L663.2 964.2L665.7 962.0L667.2 961.1L669.2 960.5L671.7 960.1L676.8 960.5L681.8 963.2L683.6 964.4L685.1 965.9L685.9 967.4L687.4 973.9L687.2 975.4L686.5 976.9L685.3 978.9L682.3 982.0L679.8 983.6L676.3 984.9ZM711.8 1000.5L710.8 1000.8L709.3 1000.2L708.3 998.9L708.4 997.9L709.8 997.0L710.8 996.8L711.3 997.0L712.1 997.9L712.5 998.9L712.4 999.9L711.8 1000.5ZM675.2 1052.5L668.2 1052.3L667.2 1052.0L666.5 1051.5L664.7 1048.7L662.2 1047.0L660.2 1044.9L659.2 1043.5L658.5 1041.5L657.9 1038.0L657.2 1035.5L656.7 1031.0L657.7 1027.5L657.2 1023.0L657.5 1021.5L659.2 1017.5L661.1 1014.5L666.5 1009.5L667.7 1008.9L671.7 1008.6L674.2 1009.3L676.8 1009.3L678.3 1009.8L679.8 1010.8L681.3 1012.0L682.5 1013.5L683.6 1016.5L686.5 1019.0L688.2 1023.0L688.6 1028.5L688.1 1032.5L688.6 1036.0L688.2 1037.5L686.9 1039.5L685.3 1041.2L684.8 1042.0L684.5 1045.5L683.7 1047.0L681.3 1048.9L678.5 1050.5L676.8 1052.0L675.2 1052.5Z"/>
<path d="M675.2 984.6L673.7 984.7L670.2 984.4L667.7 983.6L663.7 981.5L660.7 979.1L659.8 977.9L659.5 976.9L659.2 969.9L659.4 968.4L659.8 967.4L660.8 966.4L663.5 964.9L666.7 962.3L669.7 961.1L671.7 960.8L676.8 961.2L682.3 964.3L683.6 965.4L684.6 966.9L686.5 972.9L686.6 974.4L686.3 975.4L685.1 977.9L684.3 979.0L682.2 980.9L680.3 982.3L677.8 983.6L675.2 984.6ZM675.2 1051.1L673.2 1051.4L669.2 1051.3L668.2 1051.2L667.2 1050.5L665.5 1048.0L661.2 1044.4L660.0 1043.0L659.4 1041.5L658.0 1035.0L657.6 1031.0L658.4 1027.5L658.1 1022.5L659.2 1019.4L662.7 1014.3L666.4 1012.0L668.2 1010.1L670.7 1009.6L671.7 1009.6L674.2 1010.3L676.8 1010.5L680.3 1012.7L681.1 1013.5L681.7 1014.5L682.7 1017.0L685.0 1019.0L686.0 1020.5L687.1 1023.0L687.9 1027.5L687.3 1033.0L687.5 1036.5L686.8 1038.0L684.2 1041.0L683.8 1042.0L683.5 1044.5L683.0 1046.0L682.3 1047.0L680.8 1048.1L676.3 1050.8L675.2 1051.1Z"/>
<path d="M675.2 984.0L673.7 984.1L670.7 983.7L668.7 983.3L667.2 982.7L661.2 978.5L660.4 977.4L660.0 976.4L659.8 974.4L660.0 971.9L660.5 968.4L661.0 967.4L666.7 963.3L668.7 962.1L670.2 961.6L671.7 961.5L676.8 961.9L681.5 964.4L683.1 965.9L684.0 967.4L685.8 972.9L685.9 973.9L685.5 975.4L684.7 977.4L683.8 978.7L680.3 981.4L676.8 983.4L675.2 984.0ZM675.2 1050.0L672.7 1050.4L668.7 1050.0L668.1 1049.5L666.2 1047.3L661.2 1043.2L660.5 1042.0L659.5 1038.5L658.4 1032.5L658.5 1031.0L659.0 1028.5L658.8 1023.0L659.8 1020.0L661.9 1017.5L662.9 1015.5L663.7 1014.6L667.0 1013.0L668.9 1011.5L670.7 1010.8L676.1 1011.5L680.3 1014.0L681.0 1015.0L681.8 1017.0L683.8 1019.0L684.8 1020.5L685.6 1022.5L686.1 1025.0L687.1 1027.0L687.3 1028.0L686.6 1033.5L686.7 1036.5L685.9 1038.0L684.4 1039.5L683.7 1040.5L682.3 1044.9L679.8 1047.5L676.8 1049.4L675.2 1050.0Z"/>
<path d="M675.2 983.5L673.2 983.5L667.7 982.3L664.2 979.5L661.7 977.9L660.9 976.9L660.5 975.9L660.5 972.9L661.5 967.9L662.5 966.9L665.7 964.7L670.2 962.2L671.7 962.0L676.8 962.5L680.8 964.6L682.3 966.0L683.5 967.9L685.0 972.9L685.1 973.9L684.9 975.4L684.3 976.9L683.6 977.9L680.3 980.6L676.5 982.9L675.2 983.5ZM673.7 1049.5L672.2 1049.4L668.8 1048.0L667.1 1046.5L664.7 1045.2L661.7 1042.5L660.0 1038.0L659.1 1032.0L659.8 1029.0L659.4 1025.0L659.7 1023.0L660.7 1020.3L662.8 1018.0L664.1 1015.5L665.2 1014.7L669.2 1013.1L671.7 1012.4L674.2 1012.1L675.7 1012.4L678.8 1013.8L680.0 1015.0L681.0 1017.0L682.9 1019.0L683.9 1020.5L684.4 1022.0L684.8 1025.0L686.3 1027.0L686.7 1028.5L685.8 1034.0L685.9 1036.5L685.4 1037.5L683.9 1039.0L683.3 1039.9L681.8 1043.8L678.7 1047.0L677.5 1048.0L675.7 1049.0L673.7 1049.5Z"/>
<path d="M675.2 983.0L673.2 983.0L667.7 981.7L666.7 980.9L664.7 978.8L661.7 977.0L661.0 975.4L661.0 972.9L661.8 968.9L662.2 967.9L665.2 965.5L670.7 962.8L672.2 962.6L676.3 962.9L679.5 964.4L680.9 965.4L682.3 967.0L683.1 968.4L683.7 969.9L684.3 974.4L684.1 975.9L683.7 976.9L682.8 977.9L679.8 980.1L678.3 980.9L676.4 982.4L675.2 983.0ZM674.7 1048.5L673.7 1048.7L672.6 1048.5L668.2 1045.3L666.2 1044.9L665.2 1044.5L662.4 1042.0L660.6 1038.0L660.4 1035.0L659.8 1032.5L659.9 1031.5L660.6 1029.5L659.9 1026.0L660.1 1024.0L661.9 1020.5L663.5 1018.5L664.7 1016.3L665.2 1015.8L669.2 1014.1L674.2 1012.9L675.2 1013.2L678.8 1014.7L680.7 1017.5L682.6 1019.5L683.5 1021.5L684.2 1025.5L685.7 1027.5L686.1 1028.5L685.7 1031.5L685.1 1034.0L685.3 1036.0L684.9 1037.0L683.0 1039.0L681.3 1043.0L680.8 1043.8L676.9 1047.5L674.7 1048.5Z"/>
<path d="M674.7 982.6L673.2 982.5L667.7 981.1L666.7 980.3L664.7 977.8L662.1 976.4L661.4 974.9L661.5 973.4L662.3 969.4L662.8 967.9L663.9 966.9L665.7 965.7L668.2 964.8L671.2 963.3L672.7 963.2L676.3 963.5L679.2 964.9L680.8 966.2L682.3 967.9L682.9 968.9L683.3 970.4L683.5 975.4L682.9 976.9L677.8 980.2L676.1 981.9L674.7 982.6ZM675.2 1047.5L674.2 1047.8L673.2 1047.7L670.2 1045.8L668.7 1044.5L666.2 1043.9L665.3 1043.5L663.2 1041.5L662.2 1040.2L661.2 1038.0L661.0 1035.0L660.5 1032.5L660.6 1031.5L661.4 1029.5L660.5 1026.5L660.5 1025.0L663.1 1020.5L665.5 1017.5L668.7 1015.2L670.2 1014.5L673.7 1013.6L674.7 1013.8L678.3 1015.3L681.9 1019.5L682.7 1021.0L683.7 1026.0L685.1 1028.0L685.4 1029.0L685.2 1031.5L684.5 1034.0L684.3 1036.5L682.3 1039.0L680.3 1043.3L676.8 1046.6L675.2 1047.5Z"/>
<path d="M674.7 982.0L673.7 982.0L671.2 981.1L668.7 980.9L667.7 980.5L666.7 979.6L664.7 977.0L662.7 976.1L662.0 974.9L662.0 973.9L662.7 969.4L663.4 967.9L665.7 966.1L668.7 965.2L670.7 964.1L672.2 963.7L675.7 963.9L677.8 964.7L679.8 966.2L681.7 967.9L682.4 968.9L682.8 970.4L682.5 973.4L682.8 975.4L682.4 976.4L679.8 978.2L677.3 979.4L675.8 981.4L674.7 982.0ZM675.2 1046.5L673.7 1046.6L671.7 1045.9L668.7 1043.8L666.2 1043.1L664.8 1042.0L663.2 1040.4L662.0 1038.5L661.1 1032.5L662.0 1029.5L661.9 1028.5L661.1 1026.5L661.1 1025.5L663.2 1021.8L666.2 1018.5L669.2 1015.6L671.2 1014.8L673.7 1014.2L674.7 1014.5L677.6 1016.0L681.3 1019.5L682.1 1021.0L682.4 1023.5L683.1 1026.0L684.5 1028.5L684.7 1030.0L684.6 1031.5L684.0 1033.5L683.8 1035.5L683.5 1036.5L681.0 1040.0L679.7 1043.0L676.8 1045.6L675.2 1046.5Z"/>
<path d="M674.7 981.1L673.7 981.1L671.7 980.4L668.2 980.3L667.1 979.4L664.7 976.1L663.2 975.4L662.8 974.9L662.7 973.9L663.1 969.4L663.5 968.4L664.7 967.1L666.2 966.3L669.2 965.6L671.7 964.4L673.2 964.2L675.2 964.3L677.3 965.0L680.8 967.7L681.8 968.8L682.3 969.9L682.4 970.9L681.2 973.9L681.6 975.4L681.4 975.9L679.7 977.4L676.7 978.9L674.7 981.1ZM674.7 1045.6L673.2 1045.6L671.7 1045.2L669.2 1043.5L666.7 1042.6L665.7 1042.0L663.2 1039.1L662.6 1038.0L661.7 1032.5L662.5 1029.5L661.8 1026.0L663.2 1022.9L663.7 1022.3L665.6 1021.0L666.8 1019.0L669.2 1016.4L670.8 1015.5L673.2 1014.8L674.4 1015.0L676.2 1016.0L679.8 1018.5L681.1 1020.0L681.5 1021.0L681.9 1024.0L683.9 1029.0L684.1 1030.5L683.1 1035.5L682.7 1036.5L680.0 1040.0L679.2 1042.0L678.6 1043.0L676.1 1045.0L674.7 1045.6Z"/>
<path d="M669.2 979.9L668.2 979.8L667.2 979.0L665.2 975.6L663.8 973.9L663.4 971.4L663.7 968.8L664.3 967.9L665.7 966.9L669.7 965.9L672.2 964.8L674.2 964.7L676.3 965.1L680.8 968.3L681.8 969.8L681.9 970.4L681.6 971.4L680.2 973.4L680.1 975.9L679.3 976.9L676.5 978.4L674.7 979.7L673.7 979.8L672.2 979.2L669.2 979.9ZM674.7 1044.6L673.2 1044.8L671.7 1044.6L669.7 1043.2L667.2 1042.2L666.1 1041.5L663.2 1037.5L662.7 1035.8L662.3 1032.5L663.0 1029.5L662.6 1026.0L663.6 1023.5L664.2 1022.8L665.8 1022.0L667.5 1019.0L669.7 1016.8L671.2 1015.9L673.2 1015.3L674.7 1015.7L679.3 1018.7L680.6 1020.0L681.1 1021.5L681.3 1024.0L682.9 1028.0L683.4 1030.5L682.5 1035.5L681.8 1037.0L677.8 1041.3L675.4 1042.0L675.3 1042.5L675.7 1043.5L675.5 1044.0L674.7 1044.6Z"/>
<path d="M670.2 979.1L669.2 979.4L668.2 979.2L667.2 978.4L666.6 977.4L664.1 972.4L663.9 970.4L664.1 968.9L664.8 967.9L666.2 967.1L669.7 966.3L672.2 965.3L674.2 965.2L676.3 965.7L680.2 968.4L681.2 969.9L681.1 970.9L679.5 973.4L679.2 975.9L678.4 976.9L675.2 978.5L674.2 978.7L672.2 978.2L670.2 979.1ZM673.2 1044.0L671.7 1043.8L670.2 1042.8L667.2 1041.7L666.3 1041.0L665.0 1038.5L663.5 1036.5L663.1 1035.0L662.8 1032.5L663.4 1029.5L663.4 1026.0L664.1 1024.0L664.7 1023.3L666.3 1022.5L667.5 1020.0L668.2 1018.9L671.3 1016.5L673.2 1015.9L674.7 1016.4L676.3 1017.5L678.9 1019.0L680.0 1020.0L680.6 1021.5L680.8 1024.0L682.4 1028.0L682.8 1031.0L682.0 1035.5L681.3 1037.0L677.6 1040.5L674.4 1041.5L674.1 1042.0L674.0 1043.5L673.2 1044.0Z"/>
<path d="M669.7 978.7L668.7 978.8L667.7 978.4L666.4 976.4L664.4 971.4L664.4 969.4L664.9 968.4L666.7 967.3L669.7 966.8L672.2 965.9L673.7 965.7L675.2 965.9L676.3 966.3L679.4 968.4L680.3 969.4L680.4 970.4L679.3 972.8L678.8 975.4L678.2 976.4L677.3 977.1L675.2 978.0L674.2 978.0L672.2 977.5L671.2 977.8L669.7 978.7ZM672.7 1042.6L672.2 1042.8L670.5 1042.0L668.2 1041.6L666.7 1040.7L665.5 1038.0L663.9 1036.0L663.6 1035.0L663.4 1032.5L663.9 1029.5L664.0 1026.5L664.7 1024.5L666.7 1022.7L668.0 1020.0L668.7 1019.2L671.9 1017.0L673.2 1016.5L674.2 1016.8L676.3 1018.1L678.3 1019.1L679.7 1020.5L680.1 1021.5L680.4 1024.5L681.5 1026.5L682.0 1028.0L682.2 1031.0L681.6 1035.0L680.8 1036.9L677.3 1040.1L673.7 1041.1L673.2 1041.5L672.7 1042.6Z"/>
<path d="M669.7 978.0L668.7 978.2L668.2 978.1L667.2 977.2L666.7 976.3L664.9 970.9L664.9 969.4L665.5 968.4L667.2 967.6L670.2 967.1L673.7 966.3L675.7 966.6L678.8 968.4L679.5 969.4L679.6 970.4L678.3 975.4L677.8 976.3L676.8 977.0L675.2 977.5L672.2 977.1L671.2 977.3L669.7 978.0ZM670.2 1041.0L668.2 1041.1L667.2 1040.6L666.7 1039.8L666.2 1038.0L664.3 1035.5L664.1 1032.5L664.5 1030.0L664.5 1027.5L665.3 1025.0L667.1 1023.0L668.6 1020.0L672.7 1017.5L673.7 1017.4L678.3 1019.6L679.4 1021.0L680.0 1024.5L681.3 1027.0L681.5 1028.0L681.6 1031.0L681.2 1034.0L680.9 1035.5L680.3 1036.5L678.8 1037.8L677.4 1039.5L676.8 1040.0L675.7 1040.3L673.0 1040.5L670.2 1041.0Z"/>
<path d="M669.2 977.6L668.2 977.5L667.7 977.2L666.9 975.9L665.6 970.9L665.6 969.9L665.9 968.9L666.5 968.4L667.7 968.0L670.7 967.6L674.2 966.9L676.3 967.3L678.1 968.4L678.9 969.4L678.9 970.4L678.0 974.9L677.5 975.9L676.8 976.5L675.2 977.1L672.2 976.7L669.2 977.6ZM670.2 971.4L671.1 970.9L671.2 970.4L670.7 970.0L669.2 969.9L668.0 970.4L667.9 970.9L668.3 971.4L670.2 971.4ZM669.2 1040.5L668.2 1040.5L667.5 1040.0L666.5 1037.5L665.1 1036.0L664.6 1035.0L664.7 1033.0L665.3 1030.5L665.2 1027.5L665.9 1025.5L668.8 1020.5L669.7 1019.8L672.2 1018.6L673.7 1018.2L677.8 1019.9L678.8 1021.0L679.5 1024.5L680.8 1027.0L681.1 1028.0L681.1 1031.0L680.6 1034.0L679.8 1036.0L678.3 1037.5L676.8 1039.6L675.2 1040.0L671.7 1039.8L669.2 1040.5Z"/>
<path d="M669.7 976.9L668.2 977.0L667.2 975.9L666.8 973.9L667.1 972.4L667.7 972.1L670.2 972.0L671.7 971.4L672.4 970.4L672.3 968.9L672.5 968.4L673.7 967.7L674.7 967.5L675.7 967.6L677.8 968.7L678.3 969.4L678.3 970.9L677.6 974.9L676.9 975.9L675.2 976.6L672.7 976.3L669.7 976.9ZM675.7 1039.6L674.2 1039.6L672.2 1039.0L669.2 1039.7L668.2 1039.6L667.7 1039.0L667.2 1037.5L665.3 1035.5L665.0 1034.5L665.2 1033.2L666.4 1031.0L666.0 1028.0L667.1 1024.5L669.2 1020.8L670.7 1019.8L673.2 1019.0L674.2 1019.2L677.3 1020.4L678.0 1021.0L678.6 1022.0L679.3 1025.0L680.4 1027.0L680.7 1028.0L680.6 1031.0L679.7 1034.5L676.9 1039.0L675.7 1039.6Z"/>
<path d="M669.7 976.5L668.7 976.6L668.2 976.5L667.6 975.9L667.2 974.4L667.3 973.4L667.7 972.9L670.7 972.3L672.2 971.6L672.9 970.9L673.5 968.9L674.2 968.3L675.7 968.1L677.4 968.9L677.8 969.9L677.8 970.9L677.3 974.4L676.8 975.4L675.7 976.0L672.7 975.9L669.7 976.5ZM676.3 1039.1L674.7 1039.3L672.2 1038.4L669.7 1038.8L668.7 1038.6L667.7 1036.9L666.2 1035.8L665.6 1035.0L665.7 1033.5L667.2 1032.0L667.4 1031.5L666.9 1028.5L667.1 1026.0L667.6 1024.5L668.7 1022.3L669.7 1021.0L670.7 1020.4L672.2 1019.9L673.6 1020.0L675.2 1020.9L676.8 1021.2L677.8 1021.8L678.3 1022.7L678.9 1025.0L680.3 1028.0L680.3 1030.0L680.0 1031.5L678.7 1033.5L677.1 1038.0L676.3 1039.1Z"/>
<path d="M670.2 976.0L668.7 976.2L668.2 975.9L667.6 974.9L667.6 973.9L668.0 973.4L668.7 973.0L671.2 972.6L672.6 971.9L673.7 970.9L674.2 969.4L674.7 968.8L675.7 968.6L676.8 969.0L677.1 969.4L677.3 970.4L676.9 973.9L676.4 974.9L675.7 975.3L673.7 975.3L670.2 976.0ZM675.2 1039.0L674.2 1038.7L672.7 1037.7L670.7 1038.1L669.6 1038.0L669.0 1037.5L667.9 1036.0L666.4 1035.0L666.2 1034.5L666.3 1034.0L666.7 1033.5L667.7 1033.1L668.3 1032.5L668.2 1031.5L667.6 1029.0L667.7 1026.0L668.1 1024.5L669.7 1021.8L670.8 1021.0L671.7 1020.5L672.7 1020.5L674.7 1021.6L677.3 1022.4L677.8 1023.0L678.6 1025.5L679.9 1028.0L679.9 1029.5L679.6 1031.0L678.8 1032.2L677.3 1033.0L677.4 1035.0L676.6 1038.0L676.3 1038.6L675.2 1039.0Z"/>
<path d="M670.7 975.5L669.2 975.7L668.4 975.4L668.1 974.9L668.2 973.9L669.0 973.4L671.2 973.0L673.7 971.9L674.5 971.4L675.2 969.4L675.7 969.3L676.3 969.5L676.5 970.4L676.2 973.4L675.7 974.1L670.7 975.5ZM675.2 1038.5L674.7 1038.4L673.2 1036.9L670.7 1037.5L669.7 1037.2L668.5 1035.5L668.1 1034.5L669.1 1032.5L668.5 1029.5L668.4 1026.0L668.6 1025.0L669.2 1023.7L670.8 1022.0L671.7 1021.3L672.7 1021.4L674.7 1022.4L676.6 1023.0L677.3 1023.4L679.4 1028.0L679.5 1029.5L679.1 1031.0L678.3 1031.7L676.8 1032.1L676.1 1032.5L675.9 1033.0L676.5 1034.5L676.5 1035.5L676.1 1038.0L675.2 1038.5ZM672.1 1026.5L672.5 1025.5L672.3 1024.5L671.7 1023.6L670.7 1023.4L670.4 1024.5L670.7 1025.5L671.7 1026.8L672.1 1026.5ZM674.3 1029.0L674.8 1028.0L674.2 1027.4L672.2 1027.2L671.7 1027.5L671.2 1028.5L671.3 1029.0L672.2 1029.3L673.2 1029.3L674.3 1029.0Z"/>
<path d="M670.2 975.0L669.2 975.1L668.9 974.9L668.7 974.4L669.3 973.9L673.2 973.1L673.8 973.4L672.6 974.4L670.2 975.0ZM671.7 1036.5L670.7 1036.7L670.2 1036.6L669.4 1035.5L669.3 1034.5L670.0 1031.0L670.7 1030.3L674.2 1029.9L675.2 1029.0L675.9 1027.5L675.7 1026.9L673.7 1026.0L673.5 1025.5L673.0 1023.5L673.2 1023.0L673.7 1022.9L675.8 1023.5L676.8 1024.1L677.6 1026.0L678.8 1027.5L679.1 1029.5L678.8 1030.5L678.3 1031.1L676.0 1031.5L675.2 1032.0L674.8 1033.0L674.7 1035.0L671.7 1036.5Z"/>
<path d="M677.8 1030.7L676.3 1030.7L675.7 1030.5L675.6 1030.0L676.3 1028.4L677.3 1027.4L677.8 1027.4L678.3 1027.9L678.6 1029.0L678.5 1030.0L677.8 1030.7ZM671.7 1035.6L670.7 1035.7L670.2 1035.0L670.5 1032.0L670.8 1031.5L671.7 1031.0L673.7 1031.1L674.1 1031.5L674.0 1032.0L673.5 1034.0L672.7 1034.8L671.7 1035.6Z"/>
<path d="M677.3 1030.0L676.7 1029.5L677.3 1028.6L677.8 1028.7L677.9 1029.5L677.3 1030.0ZM671.7 1034.1L671.2 1033.6L671.2 1032.8L671.7 1032.0L672.2 1031.9L672.7 1032.2L672.8 1033.0L672.2 1033.8L671.7 1034.1Z"/>
</g>
<path d="M650.2,1061.5 L650.2,964.5 Q650.2,961.5 649.0,961.5" fill="none" stroke="#2a2a2a" stroke-width="1.6"/>
<path d="M653.8,1061.5 Q653.8,1058.3 663.2,1058.3 Q672.7,1058.3 672.7,1061.5" fill="none" stroke="#2a2a2a" stroke-width="1.4"/>
<rect x="648.2" y="950.4" width="111.2" height="111.1" fill="none" stroke="#6a6a6a" stroke-width="1.1"/>
<line x1="691.0" y1="950.4" x2="691.0" y2="1061.5" stroke="#7a7a7a" stroke-width="1.0" />
<line x1="648.2" y1="1014.4" x2="759.4" y2="1014.4" stroke="#7a7a7a" stroke-width="1.0" />
<text x="648.4" y="966.1" font-size="14" text-anchor="start" font-weight="normal" fill="#231f20" stroke="#231f20" stroke-width="0.28" >20</text>
<text x="749.0" y="969.3" font-size="14" text-anchor="end" font-weight="normal" fill="#231f20" stroke="#231f20" stroke-width="0.28" >3.1</text>
<text x="750.6" y="1056.3" font-size="14" text-anchor="end" font-weight="normal" fill="#231f20" stroke="#231f20" stroke-width="0.28" >0.56</text>
<path d="M431.5,1017 C442,1020 444,1040 443,1055 C442,1061 421,1061 420,1055 C419,1040 421,1020 431.5,1017 Z" fill="none" stroke="#555" stroke-width="1.4"/>
<ellipse cx="334.7" cy="681.8" rx="4.5" ry="8.0" transform="rotate(25 334.7 681.8)" fill="none" stroke="#555" stroke-width="1.6"/>
<ellipse cx="455.7" cy="682.3" rx="5.0" ry="8.5" transform="rotate(25 455.7 682.3)" fill="none" stroke="#555" stroke-width="1.6"/>
<ellipse cx="593.3" cy="672.8" rx="5.8" ry="7.8" transform="rotate(20 593.3 672.8)" fill="none" stroke="#333" stroke-width="2.3"/>
<ellipse cx="674.7" cy="748.8" rx="9.0" ry="13.0" transform="rotate(40 674.7 748.8)" fill="none" stroke="#555" stroke-width="1.8"/>
<ellipse cx="303.0" cy="893.0" rx="9.0" ry="12.0" transform="rotate(35 303.0 893.0)" fill="none" stroke="#777" stroke-width="1.2"/>
<ellipse cx="431.7" cy="892.3" rx="9.0" ry="12.0" transform="rotate(20 431.7 892.3)" fill="none" stroke="#777" stroke-width="1.2"/>
<line x1="24" y1="682" x2="24" y2="651" stroke="#231f20" stroke-width="2.8"/>
<polyline points="17.6,660.2 24,650.8 30.4,660.2" fill="none" stroke="#231f20" stroke-width="2.8"/>
<text x="0" y="0" fill="#231f20" stroke="#231f20" stroke-width="0.3" text-anchor="middle" transform="translate(29.0,717.5) rotate(-90)" font-size="14">CD34</text>
<line x1="24.0" y1="753.0" x2="24.0" y2="1075.5" stroke="#231f20" stroke-width="2.6" />
<line x1="41.6" y1="781.5" x2="675.7" y2="781.5" stroke="#231f20" stroke-width="2.6" />
<text x="691.5" y="788.2" font-size="14" text-anchor="start" font-weight="normal" fill="#231f20" stroke="#231f20" stroke-width="0.28" >VECAD</text>
<line x1="765" y1="781.6" x2="785.5" y2="781.6" stroke="#231f20" stroke-width="2.6"/>
<polyline points="774.3,775 786.5,781.6 774.3,788.2" fill="none" stroke="#231f20" stroke-width="2.6"/>
<line x1="38.0" y1="929.0" x2="684.4" y2="929.0" stroke="#231f20" stroke-width="2.6" />
<text x="709.3" y="932.6" font-size="14" text-anchor="start" font-weight="normal" fill="#231f20" stroke="#231f20" stroke-width="0.28" >CD43</text>
<line x1="762.3" y1="929" x2="782.5" y2="929" stroke="#231f20" stroke-width="2.6"/>
<polyline points="772.1,921.2 783.5,929 772.1,936.8" fill="none" stroke="#231f20" stroke-width="2.6"/>
<line x1="36.0" y1="1075.8" x2="690.0" y2="1075.8" stroke="#231f20" stroke-width="2.6" />
<text x="709.8" y="1079.4" font-size="14" text-anchor="start" font-weight="normal" fill="#231f20" stroke="#231f20" stroke-width="0.28" >CD45</text>
<line x1="764.8" y1="1075.8" x2="780" y2="1075.8" stroke="#231f20" stroke-width="2.6"/>
<polyline points="768,1069.6 781,1075.8 768,1082" fill="none" stroke="#231f20" stroke-width="2.6"/>
</svg>
</body></html>
